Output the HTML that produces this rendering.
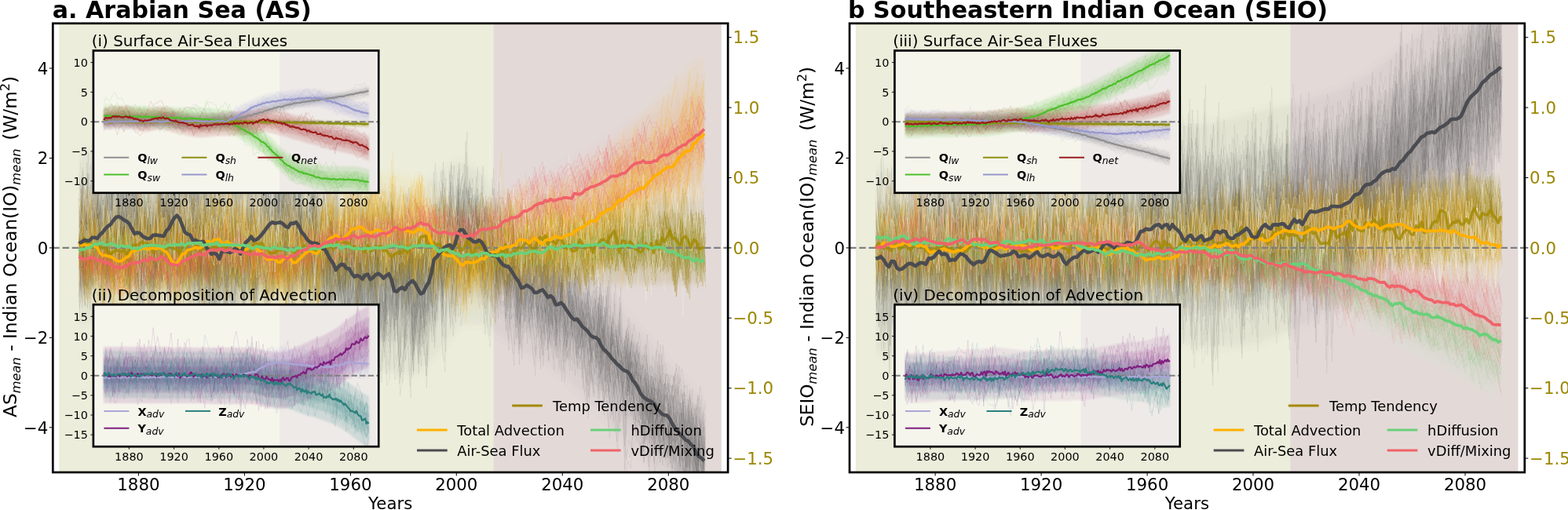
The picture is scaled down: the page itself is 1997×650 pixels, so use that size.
<!DOCTYPE html><html><head><meta charset="utf-8"><style>html,body{margin:0;padding:0;background:#fff;}svg{display:block;}</style></head><body><svg width="1997" height="650" viewBox="0 0 1997 650" font-family="'DejaVu Sans', 'Liberation Sans', sans-serif">
<defs>
<clipPath id="cd0"><rect x="100.5" y="29.8" width="796.4" height="572.2"/></clipPath>
<clipPath id="cm0"><rect x="67.3" y="29.8" width="859.8" height="572.2"/></clipPath>
<clipPath id="ci00"><rect x="118.9" y="64.5" width="363.3" height="181.3"/></clipPath>
<clipPath id="ci01"><rect x="118.9" y="388.2" width="363.3" height="181"/></clipPath>
<clipPath id="cd1"><rect x="1115.2" y="29.8" width="796.4" height="572.2"/></clipPath>
<clipPath id="cm1"><rect x="1082" y="29.8" width="859.8" height="572.2"/></clipPath>
<clipPath id="ci10"><rect x="1139.4" y="64.5" width="363.3" height="181.3"/></clipPath>
<clipPath id="ci11"><rect x="1139.4" y="388.2" width="363.3" height="181"/></clipPath>
<filter id="bl" x="-5%" y="-20%" width="110%" height="140%"><feGaussianBlur stdDeviation="5"/></filter>
<filter id="bl2" x="-5%" y="-20%" width="110%" height="140%"><feGaussianBlur stdDeviation="1.2"/></filter>
</defs>
<rect width="1997" height="650" fill="#fff"/>
<rect x="75.2" y="29.8" width="554.4" height="572.2" fill="#ecedda"/>
<rect x="628.6" y="29.8" width="290.2" height="572.2" fill="#e3dad8"/>
<g clip-path="url(#cd0)">
<g fill="#6a6a6a" fill-opacity="0.08" stroke="none" filter="url(#bl)">
<path d="M100 271 127 259 154 250 181 260 208 257 235 259 262 278 289 284 316 271 343 256 370 253 397 269 424 293 451 310 478 315 505 321 532 321 559 295 586 273 613 283 640 310 667 333 694 349 721 370 748 396 775 425 802 456 829 487 856 516 883 546 897 556L897 607 883 598 856 568 829 540 802 510 775 479 748 451 721 425 694 405 667 390 640 368 613 347 586 343 559 371 532 399 505 399 478 393 451 387 424 369 397 345 370 328 343 331 316 346 289 359 262 353 235 333 208 331 181 333 154 323 127 331 100 343Z"/>
<path d="M100 235 127 223 154 214 181 224 208 221 235 222 262 241 289 247 316 234 343 218 370 215 397 231 424 255 451 272 478 277 505 283 532 282 559 258 586 239 613 252 640 282 667 306 694 323 721 344 748 371 775 400 802 431 829 462 856 492 883 522 897 532L897 634 883 625 856 596 829 567 802 538 775 508 748 480 721 454 694 435 667 419 640 399 613 380 586 379 559 409 532 438 505 437 478 431 451 425 424 407 397 383 370 366 343 369 316 384 289 396 262 390 235 370 208 368 181 370 154 360 127 367 100 379Z"/>
<path d="M100 199 127 187 154 178 181 187 208 184 235 185 262 204 289 209 316 196 343 180 370 177 397 193 424 216 451 234 478 238 505 244 532 243 559 220 586 205 613 220 640 254 667 279 694 297 721 317 748 345 775 374 802 406 829 437 856 467 883 498 897 508L897 661 883 652 856 623 829 595 802 566 775 536 748 509 721 483 694 464 667 449 640 430 613 413 586 414 559 447 532 477 505 476 478 470 451 464 424 446 397 421 370 404 343 406 316 421 289 433 262 427 235 407 208 404 181 406 154 396 127 404 100 415Z"/>
</g>
<g fill="#8a7a10" fill-opacity="0.15" stroke="none" filter="url(#bl)">
<path d="M100 299 127 299 154 299 181 299 208 299 235 299 262 299 289 299 316 299 343 299 370 299 397 299 424 298 451 298 478 298 505 298 532 297 559 297 586 296 613 296 640 295 667 294 694 293 721 293 748 292 775 292 802 291 829 290 856 290 883 289 897 289L897 325 883 325 856 326 829 326 802 327 775 327 748 328 721 328 694 329 667 329 640 330 613 331 586 331 559 332 532 332 505 332 478 333 451 333 424 333 397 333 370 333 343 333 316 333 289 333 262 333 235 333 208 333 181 333 154 333 127 333 100 333Z"/>
<path d="M100 282 127 282 154 282 181 282 208 282 235 282 262 282 289 282 316 282 343 282 370 281 397 281 424 281 451 281 478 280 505 280 532 280 559 279 586 279 613 278 640 277 667 277 694 276 721 275 748 274 775 274 802 273 829 273 856 272 883 271 897 271L897 343 883 343 856 344 829 344 802 345 775 345 748 345 721 346 694 347 667 347 640 348 613 348 586 349 559 349 532 350 505 350 478 350 451 350 424 350 397 350 370 350 343 350 316 350 289 350 262 350 235 350 208 350 181 350 154 350 127 350 100 350Z"/>
<path d="M100 265 127 265 154 265 181 265 208 265 235 265 262 265 289 265 316 265 343 264 370 264 397 264 424 264 451 264 478 263 505 263 532 262 559 262 586 261 613 261 640 260 667 259 694 258 721 257 748 257 775 256 802 255 829 255 856 254 883 253 897 253L897 361 883 361 856 362 829 362 802 362 775 363 748 363 721 364 694 364 667 365 640 365 613 366 586 367 559 367 532 367 505 367 478 367 451 367 424 368 397 368 370 368 343 367 316 367 289 367 262 367 235 367 208 367 181 367 154 367 127 366 100 366Z"/>
</g>
<g fill="#f0b020" fill-opacity="0.07" stroke="none" filter="url(#bl)">
<path d="M100 285 127 296 154 303 181 296 208 298 235 299 262 288 289 286 316 294 343 303 370 306 397 297 424 284 451 272 478 270 505 270 532 274 559 292 586 307 613 305 640 293 667 284 694 281 721 274 748 259 775 240 802 220 829 198 856 174 883 150 897 141L897 201 883 208 856 231 829 252 802 272 775 290 748 307 721 320 694 326 667 329 640 338 613 350 586 353 559 338 532 320 505 316 478 316 451 318 424 330 397 344 370 352 343 350 316 341 289 334 262 335 235 346 208 346 181 343 154 350 127 344 100 333Z"/>
<path d="M100 261 127 272 154 279 181 272 208 274 235 275 262 264 289 262 316 270 343 279 370 282 397 273 424 260 451 248 478 246 505 246 532 250 559 268 586 283 613 281 640 269 667 260 694 257 721 250 748 233 775 212 802 190 829 166 856 141 883 115 897 105L897 225 883 232 856 254 829 275 802 294 775 312 748 328 721 341 694 347 667 351 640 359 613 372 586 374 559 359 532 342 505 338 478 338 451 341 424 352 397 367 370 375 343 373 316 364 289 357 262 358 235 369 208 369 181 367 154 374 127 368 100 357Z"/>
<path d="M100 237 127 248 154 255 181 248 208 250 235 251 262 240 289 238 316 246 343 255 370 258 397 249 424 236 451 224 478 222 505 222 532 226 559 244 586 259 613 257 640 245 667 236 694 233 721 226 748 207 775 185 802 161 829 135 856 108 883 80 897 69L897 248 883 256 856 277 829 298 802 317 775 334 748 350 721 362 694 369 667 372 640 381 613 393 586 396 559 381 532 364 505 360 478 360 451 363 424 375 397 389 370 398 343 395 316 387 289 380 262 382 235 393 208 393 181 391 154 398 127 392 100 381Z"/>
</g>
<g fill="#f06068" fill-opacity="0.05" stroke="none" filter="url(#bl)">
<path d="M100 319 127 324 154 327 181 323 208 323 235 321 262 313 289 309 316 312 343 316 370 314 397 305 424 296 451 291 478 288 505 282 532 278 559 281 586 286 613 283 640 272 667 258 694 246 721 236 748 224 775 210 802 196 829 184 856 170 883 152 897 146L897 187 883 193 856 209 829 221 802 231 775 243 748 255 721 266 694 273 667 283 640 296 613 306 586 310 559 304 532 301 505 305 478 310 451 313 424 318 397 326 370 335 343 337 316 332 289 329 262 333 235 341 208 342 181 342 154 346 127 342 100 337Z"/>
<path d="M100 310 127 315 154 318 181 314 208 313 235 311 262 303 289 299 316 301 343 306 370 304 397 294 424 285 451 280 478 277 505 271 532 267 559 270 586 275 613 271 640 260 667 245 694 232 721 221 748 207 775 192 802 177 829 164 856 148 883 129 897 122L897 205 883 211 856 226 829 238 802 247 775 258 748 270 721 279 694 286 667 296 640 308 613 318 586 321 559 316 532 312 505 316 478 322 451 324 424 328 397 337 370 346 343 347 316 342 289 339 262 343 235 350 208 351 181 352 154 355 127 351 100 346Z"/>
<path d="M100 301 127 306 154 308 181 304 208 303 235 302 262 293 289 289 316 291 343 296 370 293 397 284 424 275 451 269 478 266 505 260 532 255 559 258 586 263 613 259 640 248 667 232 694 218 721 206 748 191 775 173 802 157 829 143 856 126 883 106 897 98L897 223 883 228 856 243 829 254 802 262 775 273 748 284 721 293 694 300 667 308 640 320 613 330 586 333 559 327 532 323 505 327 478 333 451 335 424 339 397 348 370 356 343 358 316 352 289 349 262 352 235 360 208 361 181 361 154 364 127 361 100 355Z"/>
</g>
</g>
<g clip-path="url(#cm0)">
<g transform="matrix(3.3745 0 0 1 100.5 0)" fill="none" stroke="#9a8410" stroke-width="1.0" stroke-opacity="0.2" stroke-linejoin="round" id="m0olive">
<path vector-effect="non-scaling-stroke" d="M0 326l1-16 1 18 1 4 1-32 1-15 1 29 1-1 1-1 1 25 1 20 1-48 1 26 1 4 1-6 1 9 1-31 1 24 1 28 1-26 1-33 1 23 1 16 1-21 1-25 1 45 1-61 1 36 1-14 1-24 1 56 1-19 1-34 1 40 1-20 1-33 1 29 1 23 1 8 1-12 1-2 1 10 1-12 1 27 1-23 1 1 1 2 1-34 1 9 1 48 1-22 1-12 1 16 1-18 1 19 1-24 1 22 1-40 1 60 1-40 1-24 1 32 1-4 1 11 1-28 1 32 1 73 1-108 1 36 1-15 1 13 1-43 1 14 1 37 1-9 1 41 1-56 1 21 1 60 1-82 1-6 1 22 1-4 1 21 1-13 1-24 1 20 1 51 1-30 1-85 1 63 1-21 1 31 1-16 1 50 1-22 1-3 1-15 1-6 1 8 1 19 1-16 1-19 1 35 1-24 1-9 1-17 1 8 1-2 1-51 1 87 1-8 1-13 1 28 1-15 1-6 1-59 1 55 1 14 1 21 1 6 1-11 1-58 1-24 1 61 1-9 1 20 1-22 1 6 1-37 1 37 1-23 1 20 1 1 1-11 1 11 1-4 1 19 1-4 1-24 1-3 1 49 1-42 1 21 1-14 1-21 1-3 1 18 1-1 1 8 1-40 1 18 1 12 1 36 1-89 1 67 1-20 1 26 1-16 1 15 1 27 1-27 1 2 1-1 1-25 1 28 1-21 1-14 1 14 1-4 1 20 1-16 1-9 1 44 1-10 1 6 1-16 1-16 1-9 1 4 1 27 1-17 1-39 1 34 1-32 1 33 1-31 1-2 1 31 1-6 1-37 1 52 1 35 1-80 1 70 1-55 1 1 1 12 1-31 1 62 1-16 1-31 1 12 1-24 1 27 1 29 1-56 1 28 1 13 1 19 1 8 1-42 1-5 1 25 1-21 1 2 1 35 1 16 1-34 1-9 1 15 1-54 1 41 1-30 1 77 1-39 1-14 1-11 1-54 1 70 1 23 1-46 1 31 1 4 1-51 1 50 1 10"/>
<path vector-effect="non-scaling-stroke" d="M0 305l1-1 1 40 1-45 1 4 1 59 1-60 1 48 1-5 1-37 1-28 1 40 1 6 1 4 1-16 1 23 1 6 1-55 1 54 1-24 1-16 1 5 1 46 1-17 1-59 1 40 1-4 1-3 1-10 1-22 1 53 1-39 1 11 1-3 1-1 1 33 1-5 1-25 1-6 1 12 1 31 1-17 1-1 1-9 1 0 1 9 1-48 1 78 1-50 1 7 1 43 1-28 1-6 1-15 1-24 1 42 1 22 1-46 1 51 1-57 1 7 1 25 1-9 1 16 1-30 1-4 1-22 1 14 1 3 1-10 1 37 1-18 1-27 1 101 1-73 1-10 1 57 1-3 1-50 1-4 1 8 1 45 1-32 1-9 1 18 1 27 1-57 1 18 1-24 1 79 1-10 1-22 1-26 1 16 1-60 1 51 1-34 1 5 1 13 1 11 1 22 1 0 1-10 1-29 1 38 1-20 1 32 1-45 1-45 1 52 1 62 1-39 1-12 1 19 1-7 1-5 1-20 1 9 1-3 1-16 1-4 1 27 1 20 1-6 1-4 1 2 1 50 1-55 1 19 1 20 1-45 1 9 1 21 1 11 1-26 1 0 1-7 1-25 1 51 1-31 1-29 1 36 1-34 1 11 1 18 1-18 1 40 1-56 1 35 1 6 1 17 1-8 1-18 1-3 1-4 1 30 1-44 1 26 1-13 1 8 1-10 1 52 1-61 1 19 1 2 1 7 1-5 1-1 1 13 1-49 1 32 1-27 1 35 1-37 1 0 1 17 1 33 1-12 1-5 1 27 1-53 1-32 1 31 1 7 1 34 1 17 1-73 1 80 1-16 1-13 1-12 1 43 1-50 1-14 1 16 1-37 1 43 1-12 1 9 1-2 1-30 1 48 1-52 1 42 1-52 1 40 1-21 1 19 1-18 1-30 1 28 1 25 1 10 1-46 1-16 1 27 1 18 1-8 1-4 1 37 1 2 1-3 1-35 1 21 1-7 1-21 1 51 1-19 1-8 1 40 1-18 1 2 1 5 1-13 1-43 1 18 1 29"/>
<path vector-effect="non-scaling-stroke" d="M0 253l1 51 1 27 1-5 1-3 1-9 1-7 1 9 1 15 1-48 1 57 1-48 1 27 1-9 1 5 1-15 1-6 1 20 1-21 1 75 1-67 1 0 1 2 1-11 1-28 1 48 1 14 1-44 1 34 1-28 1 27 1 10 1-1 1-5 1-27 1 38 1-28 1 19 1 3 1-27 1-22 1 42 1-38 1 7 1-4 1 41 1-23 1-44 1 67 1 30 1 0 1-53 1 15 1 8 1 8 1-18 1-23 1 41 1-2 1-43 1 17 1 7 1 0 1 14 1 7 1-10 1-17 1-23 1 38 1 17 1 16 1-43 1 2 1 33 1 5 1-26 1 5 1-32 1 33 1-31 1 18 1-2 1-10 1-33 1 32 1 28 1-10 1-11 1 15 1 5 1 5 1-35 1 15 1-8 1-12 1-13 1 31 1-18 1 68 1-49 1-2 1-6 1 51 1-62 1 12 1-12 1 14 1 4 1 25 1-56 1 32 1 36 1-48 1 3 1-11 1-41 1 55 1 30 1-35 1-29 1 48 1-1 1 20 1 5 1-30 1 15 1-50 1 62 1-20 1 23 1-3 1-32 1 4 1-15 1-22 1 44 1 6 1-29 1 39 1-15 1 4 1-27 1-23 1 55 1-5 1-12 1-5 1 4 1 1 1-11 1-34 1 62 1-51 1 25 1 2 1 13 1-44 1 61 1-14 1 4 1 8 1-46 1-49 1 76 1 20 1-5 1-36 1 11 1 11 1-47 1 22 1 4 1 50 1-48 1 49 1-37 1-38 1 86 1-67 1 34 1 16 1-49 1-14 1 54 1-20 1-22 1 6 1 17 1 31 1-32 1 22 1 22 1-11 1 4 1-4 1-65 1 62 1-21 1-10 1-23 1-10 1 5 1 23 1-29 1 7 1 6 1 29 1-21 1 3 1 37 1-39 1 22 1-40 1 30 1-4 1-1 1-13 1-10 1 13 1-4 1 33 1-8 1-46 1 39 1-20 1 19 1-15 1-23 1 60 1-11 1-37 1-13 1 32 1-11 1 21 1 19 1 15"/>
<path vector-effect="non-scaling-stroke" d="M0 326l1-7 1 5 1-4 1-27 1-11 1 56 1-20 1 12 1-16 1-31 1 13 1 58 1-49 1 11 1-23 1 13 1 6 1 1 1 4 1-13 1 1 1 14 1 7 1-13 1 45 1-34 1-1 1-17 1 35 1-41 1-13 1 14 1 35 1-42 1 51 1-29 1-32 1 31 1 45 1-61 1-9 1 41 1 19 1-6 1-33 1 14 1 0 1 20 1 18 1-48 1 29 1-34 1 24 1-31 1 0 1 23 1-31 1 41 1-31 1 14 1-3 1-5 1 12 1 24 1 43 1-94 1 27 1-13 1-18 1 24 1-25 1 21 1 28 1-73 1 49 1 5 1-32 1 34 1-2 1-15 1 36 1-55 1 43 1-15 1-19 1 21 1-5 1 24 1-52 1 26 1-5 1 43 1-60 1 51 1-63 1 49 1-10 1 13 1-26 1-28 1 15 1 64 1-23 1-24 1 39 1-40 1-3 1-10 1 54 1 16 1-65 1 26 1 14 1 22 1-103 1 56 1 7 1-48 1 41 1-6 1 13 1-29 1 23 1-24 1 25 1-7 1-10 1-24 1 69 1-10 1-5 1-29 1 5 1 46 1-20 1-35 1 16 1 4 1-6 1-17 1 49 1-15 1-20 1-29 1 17 1 13 1 16 1-27 1 35 1-22 1-20 1-43 1 35 1-8 1 29 1 15 1 25 1-30 1-28 1 79 1-49 1-11 1-2 1-19 1 39 1-2 1 28 1-15 1-6 1 12 1-31 1-8 1 7 1-29 1 22 1-5 1 28 1-15 1-42 1 42 1 32 1-70 1 22 1 20 1-32 1 16 1 15 1-26 1 34 1 3 1-34 1 29 1 25 1-26 1 13 1 5 1-18 1 26 1-11 1-36 1 30 1 11 1-2 1-34 1 25 1 22 1-27 1 22 1 1 1-30 1 15 1-19 1 26 1-27 1-8 1 8 1-6 1 12 1 2 1-36 1 12 1 20 1 10 1-11 1 54 1-37 1-27 1 22 1 14 1-20 1-48 1 45 1-1 1 42 1-85 1 73"/>
<path vector-effect="non-scaling-stroke" d="M0 305l1 32 1-31 1 3 1 14 1-15 1 8 1-43 1 55 1-16 1 10 1 3 1-46 1 91 1-53 1 1 1-39 1 56 1-2 1-15 1 11 1 23 1-42 1-13 1 51 1-27 1-14 1 53 1-46 1-4 1 16 1-11 1 10 1-7 1-17 1 12 1 9 1 0 1 4 1 5 1-11 1 7 1-17 1 3 1 31 1-62 1 48 1 59 1-109 1 78 1-72 1 48 1 27 1-2 1-55 1-8 1-2 1 47 1-22 1 11 1 3 1 4 1-2 1-7 1-32 1 67 1-93 1 87 1-40 1 7 1-6 1 1 1 6 1-6 1-19 1 39 1-27 1 42 1-37 1-10 1 25 1 10 1-38 1 11 1 31 1-53 1 4 1 25 1-32 1-28 1 19 1 44 1 6 1 0 1-7 1-32 1 40 1 11 1-41 1 34 1-27 1 15 1 7 1-40 1 64 1-50 1 13 1-9 1 22 1 1 1-12 1 27 1-21 1-16 1-59 1 55 1 0 1-9 1 0 1 35 1 11 1 19 1-14 1-42 1 21 1-37 1 45 1-7 1-24 1 12 1-6 1-8 1 42 1 42 1-50 1 5 1-16 1-18 1 53 1-63 1 18 1-9 1 18 1-13 1 12 1-36 1 27 1 31 1-55 1 9 1 44 1-23 1 16 1-72 1 50 1-28 1-5 1 37 1 19 1-59 1 9 1 11 1 10 1-28 1 76 1-35 1-23 1-3 1 65 1-1 1-53 1 14 1 18 1-53 1 16 1 42 1-49 1 9 1-23 1 13 1 34 1-35 1-12 1 17 1 52 1-34 1-19 1 16 1 3 1-10 1-38 1 48 1-9 1 21 1-48 1 52 1-37 1-25 1 65 1-41 1 17 1-9 1 30 1 2 1-2 1-10 1-49 1-2 1 43 1-26 1 29 1-2 1-41 1 9 1-2 1 2 1 16 1 22 1 15 1-53 1 10 1 51 1-15 1-10 1-56 1 31 1 29 1-19 1 55 1-42 1 5 1-27 1 3 1 7 1 0 1 7 1 12"/>
<path vector-effect="non-scaling-stroke" d="M0 322l1 14 1-2 1-59 1 53 1-20 1 16 1-19 1-6 1 41 1-20 1-8 1-1 1 8 1-1 1-55 1 36 1 13 1 26 1 16 1-52 1 61 1-35 1 9 1-22 1-3 1 44 1-36 1 4 1 25 1 14 1-71 1 26 1 6 1 39 1 16 1-58 1 10 1 7 1 7 1-36 1 26 1-39 1-43 1 30 1 37 1 16 1-70 1 14 1 43 1-77 1 84 1 10 1-89 1 84 1-27 1 37 1-25 1-13 1 11 1 17 1-13 1-2 1-34 1 46 1-9 1 39 1-45 1-3 1-10 1 29 1-16 1-11 1 52 1 4 1-52 1-13 1 46 1-49 1 78 1-63 1 24 1-49 1 25 1 24 1-11 1-21 1 65 1-33 1-21 1-9 1 10 1 32 1-45 1 15 1-20 1 45 1-31 1 24 1-6 1-24 1 32 1 9 1-45 1 42 1 62 1-89 1 22 1-44 1 42 1-28 1 36 1-22 1-25 1 53 1-33 1-20 1 19 1-25 1 26 1-9 1-5 1 23 1-39 1 54 1-66 1 79 1-32 1-11 1-7 1 29 1-16 1-1 1 28 1-34 1 5 1 15 1 17 1-24 1 2 1-3 1 17 1 15 1-52 1 18 1 3 1 14 1 20 1-33 1 1 1 18 1-55 1 15 1 7 1 11 1 5 1-18 1 48 1-52 1 10 1 32 1-7 1-17 1 7 1 9 1-18 1 18 1-30 1 18 1-38 1 17 1-8 1 51 1-40 1 11 1-26 1 16 1-1 1-13 1 39 1-50 1 51 1 46 1-79 1 19 1-37 1 34 1-41 1 50 1-24 1-28 1 13 1-8 1 29 1 19 1-25 1-18 1 9 1 24 1-58 1 69 1-5 1-63 1 80 1-63 1 36 1 28 1-65 1-6 1 17 1 8 1 19 1-15 1-1 1-4 1 6 1-14 1 24 1-8 1-27 1 66 1-71 1 49 1-30 1 23 1 4 1 8 1 15 1-55 1 84 1-50 1-27 1-12 1 83 1-18 1-35 1 19"/>
<path vector-effect="non-scaling-stroke" d="M0 324l1 8 1-17 1-20 1 25 1-1 1-1 1 16 1-23 1-3 1 47 1-14 1-25 1-18 1 13 1 17 1 6 1 34 1-64 1 5 1-7 1 13 1-11 1-14 1 46 1-17 1 24 1-41 1 16 1 9 1-54 1 12 1 47 1-16 1-42 1 22 1-8 1 16 1 43 1-48 1 58 1-52 1-8 1 52 1-10 1 7 1 12 1-15 1 3 1-61 1 22 1 24 1-3 1 13 1-25 1 38 1 20 1-32 1 6 1-9 1 9 1-21 1-12 1 13 1-1 1-35 1 38 1-5 1 3 1-20 1 21 1 6 1-32 1 20 1 15 1 2 1-33 1-3 1 22 1-22 1 78 1-74 1-4 1 30 1-28 1-37 1 46 1-19 1 11 1-24 1 17 1 14 1-2 1-18 1 6 1-4 1 20 1-7 1-24 1 43 1-31 1 24 1-30 1 30 1-12 1 4 1 12 1-5 1-5 1 1 1-33 1 26 1-43 1-1 1 41 1 2 1 38 1-15 1 12 1-30 1 20 1 11 1-18 1-9 1-3 1-28 1 2 1-10 1 37 1-15 1-9 1 25 1-23 1 37 1 21 1-31 1-24 1-14 1 76 1-34 1-36 1 51 1-61 1 28 1 5 1-1 1-19 1 77 1-60 1 17 1-5 1-35 1 24 1 21 1 16 1-32 1 11 1-14 1 19 1-67 1 66 1-24 1 3 1-53 1 39 1 35 1 34 1-65 1 1 1 26 1 1 1-17 1 11 1-7 1 18 1 6 1 20 1-19 1-8 1-11 1 22 1-43 1 67 1-42 1 25 1-52 1 35 1-15 1-13 1-12 1-7 1 57 1-13 1-24 1-2 1-20 1-22 1 1 1 23 1 10 1-21 1 46 1-10 1-5 1-42 1 35 1 6 1-29 1-21 1 90 1-26 1-23 1 40 1-11 1-13 1-1 1 11 1 14 1-30 1-7 1 16 1-75 1 65 1-10 1 9 1-6 1 11 1-7 1 3 1 0 1 14 1-18 1 32 1-60 1 38 1 6 1-39"/>
<path vector-effect="non-scaling-stroke" d="M0 306l1 6 1 7 1 17 1-58 1 43 1-49 1 23 1 10 1 6 1-8 1 1 1 4 1 1 1-33 1 11 1 19 1 20 1 14 1 38 1-58 1-17 1 22 1 11 1-9 1-26 1 20 1 0 1-28 1 5 1 55 1-77 1 51 1-11 1 36 1-19 1-31 1 47 1-43 1 49 1-11 1-34 1 19 1-12 1-25 1 45 1-18 1 5 1 2 1 9 1-5 1-23 1 4 1 5 1-9 1-3 1 47 1-30 1 30 1-59 1 15 1-10 1 2 1 3 1 6 1-10 1 52 1-24 1-31 1 3 1 27 1-7 1-22 1 33 1-49 1 23 1 47 1-94 1 52 1 28 1-24 1-13 1-1 1-26 1 21 1 27 1-11 1 15 1-6 1 10 1-42 1 31 1-4 1 0 1-15 1-29 1 64 1 4 1 28 1-39 1 18 1-20 1-22 1 16 1-33 1 32 1-7 1-22 1 53 1-2 1-19 1 5 1 17 1-38 1-24 1 7 1 36 1-5 1-37 1 60 1-23 1 27 1-9 1-31 1 10 1-15 1-3 1 12 1 16 1 17 1-53 1 36 1-15 1-5 1 27 1-35 1 37 1-35 1-11 1 36 1-47 1 11 1 22 1 9 1-6 1-34 1 12 1 42 1-3 1-34 1 27 1-7 1 15 1-35 1 49 1-35 1 38 1-19 1-41 1 14 1 12 1 16 1-54 1 17 1 29 1-2 1-35 1 3 1 32 1-31 1 28 1 12 1-21 1-61 1 80 1 3 1 5 1-12 1-58 1 71 1-18 1 15 1-22 1-6 1 1 1 41 1-26 1-11 1-26 1 38 1-11 1 6 1 20 1-6 1-15 1 6 1-5 1 11 1-6 1-9 1-20 1 38 1 1 1-39 1 29 1-15 1-42 1 45 1 19 1-37 1 0 1 39 1-48 1 0 1 15 1 25 1 2 1-26 1 5 1 4 1-11 1-7 1-4 1 37 1-18 1 67 1-48 1-34 1 15 1 9 1 2 1 2 1 0 1-13 1 18 1 36 1-62"/>
<path vector-effect="non-scaling-stroke" d="M0 302l1 22 1-27 1 39 1-28 1 8 1 22 1 7 1-34 1 1 1 38 1-89 1 92 1-3 1-56 1 49 1-18 1 1 1-62 1 37 1 6 1-7 1 1 1 3 1-55 1 58 1-10 1 11 1-10 1 11 1 9 1 33 1-57 1 55 1-45 1-16 1-12 1 51 1-51 1 52 1-14 1-20 1-1 1 22 1-9 1 13 1-11 1-9 1 27 1-34 1 43 1-18 1-28 1 5 1 17 1-31 1 70 1-8 1-45 1 22 1 41 1-31 1-33 1-25 1 14 1 61 1-20 1-33 1 43 1-28 1-9 1-1 1 1 1 46 1-55 1 17 1 37 1 3 1-54 1 60 1-22 1-57 1 73 1-73 1 45 1-37 1-13 1 56 1-10 1-11 1 9 1-2 1-6 1-15 1 37 1-12 1-3 1-10 1 9 1-30 1 25 1-16 1 53 1-44 1 12 1 11 1 15 1-4 1-7 1 48 1-49 1 6 1 51 1-76 1 37 1-12 1-35 1 16 1 35 1-50 1 27 1 27 1-26 1 10 1-23 1-3 1 3 1 3 1 19 1-10 1 38 1-34 1-8 1 43 1-50 1-14 1 23 1-28 1 36 1 18 1-18 1-22 1 6 1 18 1 16 1-37 1 1 1 31 1-15 1-3 1 1 1-29 1 14 1 26 1-30 1-6 1 13 1 6 1 50 1-74 1 22 1 39 1-47 1 11 1-39 1 52 1-3 1 1 1-21 1 11 1-9 1 20 1-20 1 15 1-44 1 21 1-58 1 64 1 23 1-22 1 56 1-73 1 10 1-13 1 10 1 0 1-21 1 9 1 66 1-54 1 26 1-49 1 22 1 14 1-15 1-8 1 10 1 4 1 20 1 10 1-57 1-12 1 37 1 6 1 16 1 9 1-42 1 57 1-41 1-44 1 60 1-14 1 0 1-43 1 26 1 10 1-5 1 21 1 12 1 9 1-10 1-28 1 38 1-31 1 11 1-26 1-26 1-14 1 52 1-17 1 15 1 21 1-52 1-4 1 41 1 3 1-13"/>
<path vector-effect="non-scaling-stroke" d="M0 324l1 19 1-40 1 13 1 12 1-21 1 16 1-14 1 15 1-4 1-44 1 47 1-33 1 14 1-19 1 54 1-25 1 1 1 38 1-8 1-24 1-42 1 55 1-22 1-6 1 27 1-28 1 9 1 22 1-5 1-23 1 47 1-7 1 15 1-42 1 6 1 17 1-17 1-4 1-7 1-6 1-6 1 0 1 26 1-19 1-23 1 29 1 32 1-9 1-73 1 25 1 33 1-12 1-2 1-4 1 5 1-24 1 50 1-47 1 20 1 39 1-11 1-26 1 0 1-15 1 4 1 6 1 34 1-38 1 24 1-10 1 0 1-14 1 24 1-14 1-3 1-12 1-34 1 59 1-2 1-28 1 2 1 11 1-25 1 36 1 2 1 2 1 4 1-59 1 57 1-21 1 37 1 0 1-7 1-16 1 62 1-63 1-16 1 46 1-56 1 74 1-22 1 6 1-10 1-13 1-41 1 17 1 26 1-14 1 17 1-27 1-6 1 22 1 8 1-13 1-22 1-16 1 78 1-70 1 5 1 4 1 32 1-35 1 31 1-4 1-34 1 31 1-28 1 24 1 17 1-25 1-13 1 8 1 3 1 14 1-54 1 12 1 54 1-11 1-1 1 8 1-9 1-5 1 15 1 13 1-4 1-8 1-25 1 25 1-31 1 5 1 18 1-1 1 20 1-10 1-13 1-15 1 5 1-1 1 42 1-26 1-27 1-5 1 45 1-43 1 31 1-1 1 15 1-42 1 29 1-7 1 15 1 16 1-29 1-4 1 27 1-53 1 39 1-23 1-5 1-5 1-2 1 55 1 1 1-20 1 20 1-24 1-13 1-17 1 38 1-2 1 13 1-50 1 11 1-24 1 51 1-7 1-5 1-8 1-3 1-4 1 31 1-35 1 35 1-14 1-29 1-5 1 13 1 20 1-29 1 40 1 6 1-15 1-53 1-15 1 72 1 14 1-42 1 18 1-18 1-11 1 33 1-27 1 32 1 17 1-38 1 48 1-71 1 48 1-23 1 53 1-51 1-9 1 50 1-73 1 47 1-24"/>
<path vector-effect="non-scaling-stroke" d="M0 303l1 36 1-42 1-6 1-2 1 18 1-23 1 33 1 12 1 21 1-41 1 42 1-19 1-18 1 16 1 25 1-1 1-19 1-17 1 21 1-11 1-4 1-1 1 36 1-68 1 20 1-24 1 46 1 4 1 9 1-39 1 9 1 12 1-14 1 3 1-1 1 3 1-6 1 8 1-42 1 23 1-22 1 28 1-15 1 30 1 16 1-54 1 8 1 29 1 26 1-11 1-8 1-13 1-8 1 17 1 0 1-7 1-16 1-24 1 16 1 8 1-16 1 30 1-34 1 25 1 17 1 8 1-12 1 22 1-38 1-2 1 37 1-41 1 13 1-32 1 63 1-12 1-30 1-22 1 42 1-1 1 21 1 12 1-37 1-5 1-2 1 0 1-23 1 13 1 20 1-41 1 6 1 60 1-44 1 37 1 7 1-27 1 19 1-17 1-18 1 18 1 1 1 0 1-1 1-9 1 33 1-28 1 1 1 26 1-47 1 23 1 33 1-35 1 35 1-39 1-10 1 10 1-8 1 11 1-7 1 25 1-10 1-14 1-12 1 86 1-79 1 36 1-55 1 12 1 42 1-49 1 2 1 21 1-16 1 10 1 17 1 16 1-18 1 2 1 21 1 5 1-45 1-35 1 21 1 47 1-34 1-3 1 2 1 46 1-36 1-13 1-5 1-10 1 86 1-61 1 2 1-8 1 36 1-46 1-18 1 31 1 16 1 39 1-51 1-23 1 15 1-11 1 1 1 21 1 8 1-22 1 42 1-25 1 5 1-15 1 21 1-1 1 7 1-31 1 30 1-30 1 13 1 14 1 18 1-42 1-10 1 31 1 24 1-37 1 57 1-94 1 76 1-9 1-2 1-44 1 41 1-4 1 3 1-33 1-3 1 35 1-19 1-11 1-8 1 25 1-37 1 39 1-11 1-41 1 44 1 20 1-19 1-32 1 15 1 34 1-49 1 15 1 34 1-31 1-12 1 30 1 12 1-27 1-34 1-7 1 34 1-34 1 37 1 18 1-77 1 58 1 7 1-20 1 25 1 0 1 14 1 32"/>
<path vector-effect="non-scaling-stroke" d="M0 328l1-13 1 19 1-34 1-9 1 37 1-17 1-20 1-14 1 117 1-77 1 0 1-40 1 18 1 18 1 11 1 8 1-36 1 33 1 15 1-41 1 7 1-38 1 24 1-12 1 48 1-18 1 37 1-29 1 13 1-2 1-9 1-29 1 60 1-40 1-38 1 28 1-9 1 52 1 0 1 11 1 17 1-62 1-30 1 27 1 32 1-71 1 46 1 31 1-40 1 17 1-22 1 60 1 3 1-64 1 4 1 26 1 17 1-6 1 8 1 7 1 5 1 12 1-40 1-12 1 9 1 50 1-32 1-6 1 12 1-6 1 28 1-70 1 22 1 9 1 1 1-23 1-32 1 29 1-10 1 15 1 24 1-8 1-44 1 8 1 19 1 24 1-29 1 6 1-37 1 25 1-1 1 23 1-11 1-15 1 2 1 31 1-22 1 41 1-25 1-9 1 25 1-50 1 48 1-34 1 34 1-32 1-7 1-27 1 42 1 10 1-42 1 76 1-40 1-30 1 70 1-55 1 44 1-98 1 109 1-47 1-5 1 3 1-33 1 47 1-7 1-3 1-21 1-14 1 35 1 14 1-18 1-13 1 0 1 30 1 17 1-31 1-19 1 73 1-92 1 42 1-10 1 35 1-35 1-31 1 13 1 23 1-3 1-17 1 2 1-23 1 8 1 18 1-6 1 13 1-26 1 67 1-74 1 63 1-9 1 21 1-4 1-65 1 35 1 8 1 4 1-13 1-29 1 47 1-32 1-8 1 17 1-13 1-6 1 17 1 62 1-49 1-4 1-8 1 12 1-34 1 36 1-10 1-3 1 11 1-14 1 14 1-3 1 2 1-13 1 21 1-23 1 37 1-31 1 38 1-24 1-6 1-21 1 36 1-8 1-5 1 2 1-11 1-19 1-4 1 42 1-10 1 30 1 8 1-28 1-7 1 1 1-9 1-16 1-45 1 76 1-7 1-9 1 4 1 18 1-1 1-13 1-8 1 20 1 5 1 30 1-68 1 33 1-30 1 5 1 63 1-61 1 7 1-18 1 27 1-29 1-30"/>
<path vector-effect="non-scaling-stroke" d="M0 298l1 29 1-1 1 2 1-10 1-1 1 21 1-46 1-11 1 51 1-39 1 35 1-30 1-7 1 60 1-36 1-32 1 27 1-2 1 2 1 5 1-32 1 18 1 13 1 5 1-12 1-20 1-23 1 72 1-57 1 17 1 14 1 10 1-11 1-15 1 20 1 52 1 14 1-62 1 22 1-54 1 40 1 13 1-20 1 40 1-18 1-8 1-68 1 44 1 29 1-24 1-30 1 31 1 43 1-21 1 1 1-14 1 31 1-96 1 38 1 69 1-17 1-16 1-14 1-36 1 28 1 8 1-20 1 48 1-9 1-30 1 27 1-21 1 4 1-15 1 60 1-87 1 33 1 27 1 2 1-58 1 16 1 19 1-17 1 4 1 11 1-3 1 26 1-66 1 59 1-31 1 18 1-20 1 63 1-88 1 64 1-37 1 7 1 35 1-36 1 21 1 14 1-44 1 56 1-19 1-34 1 12 1-21 1 20 1 13 1 6 1-14 1-12 1-3 1-6 1 16 1 21 1-25 1-5 1-11 1 36 1-17 1-31 1 58 1 2 1-20 1-10 1 6 1-17 1 42 1 10 1-12 1-18 1 2 1 10 1 28 1-60 1 13 1-17 1-9 1 36 1 20 1-47 1 43 1-8 1-7 1 22 1-48 1 50 1-42 1 23 1-49 1 57 1-24 1-10 1-12 1 27 1 22 1-19 1-20 1-11 1-3 1 14 1-27 1 29 1 30 1-31 1 0 1-13 1 28 1-1 1 19 1-47 1-10 1 14 1-12 1 31 1-11 1-10 1 18 1 25 1-6 1-30 1 20 1 5 1 8 1-22 1-23 1 38 1-35 1 17 1-2 1 25 1-30 1 13 1-10 1-4 1 38 1-28 1 21 1-7 1-49 1 7 1-32 1 79 1 1 1-15 1-3 1 1 1-10 1 12 1-1 1-19 1 48 1-9 1-29 1 57 1-2 1-26 1-1 1-37 1 6 1-26 1 25 1 31 1-28 1-29 1 73 1 8 1-8 1-68 1 53 1-42 1 15 1 21 1 20 1-51"/>
<path vector-effect="non-scaling-stroke" d="M0 332l1 9 1-46 1 72 1 2 1-40 1-20 1 10 1-36 1 34 1-16 1 13 1-8 1 54 1-63 1 29 1-14 1 47 1-11 1-60 1 14 1 25 1-22 1 24 1-9 1-23 1 16 1 21 1-16 1 6 1 4 1-8 1 30 1-56 1 31 1-24 1 25 1 10 1-5 1 3 1 7 1-8 1-18 1 20 1 7 1-4 1-17 1-3 1-48 1 26 1 16 1 23 1 2 1-24 1-25 1 37 1 11 1-7 1-32 1-9 1 7 1 0 1 46 1-18 1 46 1-10 1-14 1-37 1 29 1-5 1-41 1-1 1 10 1 44 1-36 1-22 1 34 1 7 1-42 1 68 1-58 1 40 1-3 1-33 1 13 1 0 1-4 1 25 1-16 1-41 1 41 1-28 1 23 1 8 1-8 1 24 1-23 1-9 1 51 1-20 1-18 1 3 1-7 1 11 1-23 1 56 1-13 1-79 1 24 1 24 1-10 1-30 1 63 1-38 1 36 1-2 1 18 1-53 1 60 1-67 1 62 1-8 1-16 1-36 1 58 1-18 1-55 1-25 1 46 1-7 1 34 1-14 1 3 1-16 1 31 1-37 1-21 1-22 1 63 1-22 1-21 1 16 1 16 1 29 1-67 1 40 1 25 1-4 1 1 1 28 1-64 1 8 1 39 1 7 1-28 1-14 1-17 1 43 1-4 1-34 1 14 1-12 1 36 1-16 1 30 1 2 1-26 1 18 1-5 1 13 1-41 1 21 1 22 1-25 1-25 1 14 1 52 1-61 1-7 1 34 1-27 1-23 1 1 1 32 1-15 1 51 1-50 1-18 1 17 1-10 1 53 1-45 1 51 1-19 1 33 1-45 1 21 1-63 1 36 1-4 1 40 1-24 1 20 1-31 1-16 1 26 1 23 1-32 1 37 1-45 1 0 1 2 1 7 1-10 1 5 1-18 1-5 1 60 1-12 1-26 1-8 1-23 1 47 1-27 1 60 1-82 1 52 1 19 1-38 1 59 1-21 1-3 1-46 1 38 1 1 1-18 1 38"/>
<path vector-effect="non-scaling-stroke" d="M0 306l1 39 1-48 1 16 1-5 1 16 1-9 1 35 1-45 1 14 1-9 1 4 1-26 1 20 1 33 1-13 1-48 1 19 1-13 1 9 1 5 1-13 1 37 1 12 1-17 1-18 1 16 1-19 1 39 1 30 1-112 1 67 1-5 1 0 1-13 1-27 1 29 1-4 1 4 1-1 1-10 1 58 1-74 1 20 1-17 1 26 1 39 1-37 1-15 1-12 1 40 1-32 1 34 1-29 1 3 1 7 1-32 1 63 1-49 1 29 1 5 1 44 1-45 1 5 1-29 1 10 1 7 1 23 1-45 1 32 1 53 1-85 1-18 1 28 1 9 1 43 1-26 1 13 1-39 1 14 1 9 1-27 1 23 1-16 1 15 1-33 1-11 1 76 1-29 1-5 1 61 1-36 1-15 1-22 1 24 1-2 1-11 1 35 1-15 1-4 1-33 1 1 1 38 1-17 1-20 1 16 1-8 1-9 1 4 1 26 1-8 1-32 1 4 1 24 1-32 1 26 1-4 1-27 1-24 1 35 1 17 1 1 1 25 1-25 1-3 1 13 1-12 1 51 1-53 1-5 1 6 1 39 1-42 1-7 1 29 1 11 1-32 1 27 1-30 1 45 1-55 1 19 1-3 1-12 1 23 1 16 1-34 1 58 1-33 1-1 1-26 1 18 1 23 1-39 1 4 1-3 1-13 1 43 1-36 1 53 1-61 1 20 1 2 1-20 1-25 1 32 1 14 1-22 1 30 1-47 1 43 1 37 1-20 1 3 1-28 1-4 1 35 1-30 1 22 1-35 1 32 1-3 1-52 1 46 1 11 1-2 1-3 1 24 1-30 1-14 1 36 1 23 1-54 1 41 1-40 1-32 1 13 1-1 1 46 1-27 1-12 1 13 1 29 1-36 1-12 1 25 1-21 1 25 1 5 1-15 1-11 1 7 1-32 1 69 1 21 1-52 1-50 1 25 1-11 1-8 1 40 1-2 1-11 1 38 1-26 1-23 1 28 1-38 1 23 1-10 1 23 1-8 1-3 1 18 1-1 1-1 1 22"/>
<path vector-effect="non-scaling-stroke" d="M0 342l1-50 1 72 1-37 1 23 1-41 1 43 1-27 1 0 1 2 1-62 1 22 1-1 1 34 1-9 1 23 1-7 1 17 1-43 1 24 1-20 1-17 1-18 1 39 1-20 1 10 1-8 1-5 1 88 1-66 1-29 1 23 1 6 1-32 1 57 1-42 1 31 1-24 1-10 1 92 1-87 1-20 1 24 1-10 1 44 1-18 1-33 1 65 1-47 1-24 1 54 1-13 1-35 1-2 1 24 1-10 1 25 1-8 1-32 1 2 1 23 1 35 1-42 1 28 1-31 1 27 1-23 1 19 1-27 1 6 1 60 1-23 1-49 1 53 1-27 1 34 1-58 1 29 1-15 1-5 1-8 1 70 1-47 1-8 1-28 1 64 1 1 1-31 1-26 1 47 1-12 1-30 1 81 1-29 1-41 1 3 1 33 1 12 1-11 1-4 1-24 1 56 1-50 1 12 1 5 1-14 1 24 1 16 1-83 1 46 1 32 1 6 1-45 1 24 1-13 1 1 1-15 1 34 1 4 1 7 1-33 1-4 1 23 1 50 1-81 1 4 1 43 1-61 1-31 1 76 1 5 1-1 1-7 1 0 1-41 1 38 1-45 1-10 1 28 1-19 1 8 1 9 1 5 1 16 1-29 1 7 1 8 1 5 1 9 1 6 1-12 1 5 1 4 1-11 1 3 1-26 1 22 1 15 1-36 1 45 1-40 1 35 1 14 1-31 1-17 1 20 1-17 1-12 1 46 1-66 1 60 1-35 1 42 1-35 1 51 1-50 1-38 1 118 1-62 1-10 1 4 1-11 1 11 1-26 1 67 1-68 1 30 1 13 1-30 1 24 1-32 1-12 1 3 1 46 1 0 1-46 1 42 1-43 1 29 1 11 1-60 1 62 1-15 1-25 1 44 1-12 1 6 1-14 1-15 1-16 1 23 1-19 1 15 1 21 1 12 1-14 1-2 1-14 1 25 1 7 1-40 1-2 1-8 1 17 1-1 1 56 1-17 1-57 1 47 1-21 1-32 1 45 1-23 1 22 1 4 1-24 1 42"/>
</g>
<use href="#m0olive" transform="translate(1.7 6)"/>
<g transform="matrix(3.3745 0 0 1 100.5 0)" fill="none" stroke="#5a5a5a" stroke-width="1.0" stroke-opacity="0.085" stroke-linejoin="round" id="m0gray">
<path vector-effect="non-scaling-stroke" d="M0 376l1-128 1 23 1 27 1-6 1-46 1 90 1-8 1-34 1 6 1-47 1 50 1-70 1-11 1 34 1 2 1 18 1 32 1 44 1-124 1-9 1 79 1 53 1-11 1-52 1-8 1-3 1 89 1-83 1 18 1-70 1 101 1-49 1-1 1-8 1 6 1 115 1-100 1 1 1-53 1-17 1-21 1 67 1 32 1-2 1-67 1 96 1-47 1 69 1-54 1 16 1-29 1 1 1 32 1 18 1 1 1-76 1-23 1 72 1 31 1-69 1 7 1 6 1 31 1 23 1-81 1 60 1 49 1-43 1-61 1-43 1 59 1 58 1-21 1 38 1-73 1 15 1-42 1 58 1-23 1-31 1 13 1 42 1 13 1 4 1 66 1-63 1-67 1 87 1-71 1-16 1 70 1-60 1 28 1-16 1 21 1-60 1 114 1 6 1-63 1 67 1-21 1 14 1 13 1-107 1 83 1-48 1 38 1-44 1 103 1-20 1-72 1 18 1-11 1 13 1 15 1-72 1-20 1 111 1-38 1-28 1-11 1-29 1 57 1-67 1 71 1 14 1-29 1 72 1-21 1-33 1-38 1 8 1-19 1-56 1 82 1 16 1-100 1 72 1-29 1 15 1 16 1 6 1-58 1 61 1-38 1-83 1 165 1-71 1-9 1 65 1-32 1-31 1 25 1 11 1-5 1-71 1 91 1-31 1 3 1 43 1 73 1-108 1 61 1-60 1 5 1 38 1 46 1-23 1-5 1 25 1-26 1-24 1-12 1 18 1 16 1-18 1 5 1-3 1-7 1-14 1 14 1 76 1-11 1 6 1-33 1 0 1 26 1-34 1 44 1-23 1 23 1-32 1 69 1-43 1 12 1-28 1 6 1 44 1-58 1 82 1-45 1 41 1-37 1 19 1 6 1 25 1-36 1 37 1-10 1 19 1-26 1 31 1-20 1 15 1 46 1 10 1-41 1 26 1-8 1-16 1 14 1-18 1 37 1-39 1 61 1-73 1 72 1 8 1-21 1-23 1 46 1-22 1 62 1-22 1 3 1 2"/>
<path vector-effect="non-scaling-stroke" d="M0 317l1 62 1-94 1 67 1-44 1-44 1 56 1-80 1 142 1-66 1 21 1-25 1-70 1 39 1 68 1-21 1-53 1-21 1 26 1-57 1 72 1-77 1 45 1 76 1-32 1-25 1 34 1-19 1 10 1 35 1-54 1-73 1 82 1-53 1 81 1-15 1-49 1 26 1-75 1-4 1 60 1 26 1 54 1-75 1-12 1 8 1 13 1 54 1-58 1 95 1-84 1 146 1-99 1 5 1-70 1 81 1-95 1 107 1-61 1 34 1 10 1 10 1 18 1-11 1-8 1-63 1-14 1 91 1-20 1-27 1 21 1 31 1-8 1-60 1-30 1-22 1 62 1 12 1-45 1 92 1 31 1-110 1 59 1-34 1 30 1-16 1-7 1 43 1-3 1-44 1 44 1-51 1 26 1 28 1-12 1-69 1 84 1-66 1 65 1 27 1-92 1 4 1 83 1-18 1-93 1 126 1-57 1-20 1 57 1-25 1 23 1-4 1 90 1-60 1-26 1-9 1 13 1 4 1-46 1 52 1-49 1 11 1 18 1 45 1-11 1-150 1 173 1-52 1 2 1 63 1-90 1-24 1-49 1 20 1 83 1-73 1-12 1 56 1-60 1 14 1-6 1 44 1-57 1 4 1 9 1-68 1 60 1-63 1 23 1 16 1 22 1-14 1 58 1-30 1 21 1-48 1-3 1 76 1-101 1 101 1-59 1 51 1-59 1 60 1 1 1-68 1 48 1 38 1 22 1-21 1-28 1 28 1-36 1 10 1 30 1-10 1 28 1-14 1 18 1-21 1 25 1 51 1-88 1 24 1-6 1 28 1 2 1-24 1 23 1 12 1 0 1 17 1 34 1-20 1-19 1 18 1 45 1-55 1 51 1-35 1-27 1 33 1 27 1-15 1-10 1 8 1 1 1 3 1 19 1-38 1 81 1 5 1 0 1 25 1-40 1 16 1-71 1 70 1-11 1 24 1 6 1-17 1-25 1 42 1 24 1 7 1-27 1-4 1 21 1-10 1-25 1 66 1 2 1 7 1-31 1 18 1-37"/>
<path vector-effect="non-scaling-stroke" d="M0 220l1 33 1 36 1-19 1 55 1-21 1-79 1 74 1-61 1 103 1 13 1-24 1 39 1-57 1 27 1-16 1-6 1-4 1-23 1 75 1-115 1-16 1 37 1 103 1-82 1-20 1-3 1 57 1-22 1 53 1-68 1 56 1-76 1 52 1 104 1-141 1 3 1 51 1-85 1 25 1 1 1 38 1-54 1 122 1-59 1 4 1-14 1 20 1-97 1 147 1-84 1 70 1-42 1-4 1 25 1 47 1-87 1-23 1 48 1-115 1 66 1-4 1 20 1-36 1 103 1-50 1 14 1-7 1-8 1-24 1 86 1-29 1 21 1-70 1 19 1 8 1-22 1 5 1-67 1 21 1 13 1-3 1 68 1-4 1-7 1-35 1 61 1-7 1-10 1-33 1 81 1-107 1-20 1 21 1 110 1-51 1-37 1-71 1 100 1-25 1-42 1 139 1-38 1 58 1-50 1 26 1-55 1 76 1-40 1 40 1-15 1-64 1 40 1 15 1-35 1 19 1 37 1 14 1-53 1-90 1 120 1 54 1-93 1-35 1 48 1-10 1 26 1-67 1 88 1-41 1-80 1 71 1-61 1 24 1-15 1-15 1 13 1-40 1-9 1 20 1-12 1 27 1-11 1-75 1 88 1-42 1 37 1-3 1-14 1 12 1-73 1 115 1 18 1-53 1-37 1 49 1-35 1 69 1-70 1-17 1 14 1 7 1 53 1-13 1 7 1-3 1 49 1-38 1 5 1 45 1-33 1-12 1 15 1 39 1-19 1-31 1 53 1-68 1-15 1 32 1-25 1 52 1 9 1 1 1-2 1-16 1 45 1-70 1 69 1-13 1-8 1 25 1-48 1 77 1-4 1 11 1-76 1 70 1-15 1-57 1 54 1 11 1-9 1 30 1 16 1-29 1 2 1 34 1-37 1 42 1 33 1-21 1 24 1-6 1 27 1-56 1 5 1 13 1 5 1 41 1 11 1-9 1 13 1-41 1-5 1-20 1 66 1-6 1-6 1-37 1 2 1 45 1-6 1 24 1-18 1-24 1-5"/>
<path vector-effect="non-scaling-stroke" d="M0 269l1 73 1-19 1 7 1 14 1-4 1 8 1-87 1 49 1-95 1-18 1 65 1 32 1 1 1-13 1 24 1-102 1 53 1 19 1-15 1 52 1 12 1-17 1-10 1 88 1-87 1 6 1 50 1 30 1-126 1-3 1 89 1-7 1-7 1-43 1 39 1-80 1 20 1 108 1-105 1 47 1 29 1-6 1-51 1 23 1 46 1-35 1 86 1-58 1 83 1-70 1 49 1-29 1-8 1-63 1 75 1-33 1 9 1-29 1-24 1-6 1 28 1 37 1-58 1-35 1 2 1-14 1-17 1 54 1-24 1 16 1 93 1-35 1 13 1-63 1 13 1-35 1-45 1 8 1 51 1 33 1 75 1-96 1-51 1 41 1 41 1-68 1 30 1 38 1-29 1 24 1-9 1 3 1 60 1-12 1-24 1 15 1-14 1-1 1 16 1 4 1 94 1-91 1 8 1 77 1-121 1 44 1 43 1-48 1-11 1-23 1 24 1-31 1 75 1-24 1-33 1 61 1-82 1 17 1 66 1-15 1-54 1 17 1 19 1-30 1 36 1-18 1 22 1-20 1 20 1-36 1 27 1-10 1 2 1-13 1-28 1 5 1 57 1-60 1 4 1 59 1-37 1-1 1-70 1-5 1 30 1 66 1-143 1 1 1 76 1-1 1-49 1 72 1-22 1-13 1 8 1-11 1 38 1-31 1-18 1 7 1 35 1 33 1-44 1-7 1 49 1 33 1-39 1 54 1-61 1 61 1-20 1-64 1 70 1-20 1 9 1-7 1 26 1-16 1 24 1 25 1 10 1-1 1 2 1-10 1-10 1-19 1 56 1-38 1 20 1-36 1 49 1 31 1-30 1 30 1-25 1 2 1-15 1-50 1 78 1 13 1 6 1 37 1-18 1-14 1-21 1 84 1-107 1 25 1 2 1 47 1-13 1 13 1-52 1 26 1 35 1-41 1-15 1 28 1-21 1 14 1 16 1-25 1 24 1 39 1-35 1 18 1-12 1 17 1 0 1-34 1 27 1 45 1-74 1 65 1 0 1-53"/>
<path vector-effect="non-scaling-stroke" d="M0 263l1 13 1 22 1-30 1 22 1-3 1 41 1-69 1 27 1 2 1-45 1 16 1 5 1-59 1 36 1-33 1 22 1-1 1 11 1 43 1 29 1-14 1-78 1 44 1-74 1 73 1 24 1-32 1 18 1 28 1-10 1-57 1-7 1-34 1 52 1-6 1 23 1 12 1-75 1 34 1 25 1-40 1 56 1-10 1 37 1 18 1 7 1-30 1 21 1-4 1 35 1-115 1 63 1-25 1 40 1 42 1-29 1 0 1-31 1 38 1-8 1-51 1 54 1-44 1-79 1 86 1 29 1-7 1-15 1-11 1 34 1 0 1-99 1 40 1 34 1-6 1 36 1 4 1-42 1-29 1 82 1-110 1 28 1 98 1-52 1 7 1-24 1 60 1 73 1-98 1-14 1 61 1 44 1-64 1-45 1 54 1-44 1 76 1-34 1 29 1-15 1 28 1-118 1 87 1 0 1 13 1-70 1 121 1-89 1 44 1-42 1 15 1-10 1-45 1 46 1 73 1-97 1 56 1-78 1 118 1-106 1 6 1 40 1 17 1-65 1 60 1 32 1-17 1-27 1 47 1 24 1 33 1-43 1-130 1 103 1-22 1-33 1 1 1 12 1-66 1-43 1 34 1 20 1-51 1-1 1-25 1 75 1-53 1 40 1-22 1 70 1-6 1 50 1-104 1-7 1 41 1-53 1 35 1 50 1-15 1 34 1-47 1 15 1 18 1 30 1 17 1 9 1-26 1-21 1 9 1 12 1-44 1 6 1-25 1 56 1-2 1-34 1 48 1-22 1-6 1 30 1-5 1-33 1 18 1-17 1 55 1-9 1 34 1-38 1-15 1 58 1 0 1-60 1 65 1-40 1 52 1-16 1-24 1 6 1 2 1-61 1 99 1-18 1 31 1-85 1 98 1-7 1-32 1 80 1-21 1-39 1 11 1 41 1 29 1-21 1-19 1 62 1-53 1 49 1-7 1-15 1-1 1 6 1 26 1 33 1-31 1-19 1 51 1-3 1-25 1 31 1-16 1 44 1-44 1-13 1 13 1 21"/>
<path vector-effect="non-scaling-stroke" d="M0 262l1 46 1 43 1-78 1-26 1 10 1-54 1 141 1-44 1-24 1 8 1 37 1-64 1-46 1 99 1-134 1 82 1 72 1 17 1-60 1 13 1-4 1 0 1 3 1 64 1-41 1 52 1-53 1-50 1 7 1 102 1-111 1 67 1-86 1 55 1-47 1-4 1-23 1 13 1 49 1 58 1-31 1-50 1 56 1-110 1 103 1 107 1-197 1 91 1 61 1 32 1-33 1-74 1 86 1-3 1-85 1 12 1-48 1 20 1 73 1-112 1 92 1-44 1-4 1-50 1 57 1-37 1-10 1-62 1 65 1-14 1 46 1-34 1-15 1-24 1-6 1 14 1 66 1-89 1 2 1 66 1 46 1-40 1-18 1 106 1-71 1-31 1 36 1 41 1-54 1 58 1-48 1 23 1 7 1-112 1 162 1-23 1-14 1-12 1-18 1 67 1-58 1 36 1-100 1 162 1-65 1-4 1-59 1-1 1 61 1-153 1 187 1-86 1-1 1 42 1 87 1-71 1 45 1-98 1 38 1 79 1-81 1-59 1 65 1 15 1-2 1 37 1 1 1-53 1 55 1-33 1 9 1-54 1 64 1-52 1 58 1-128 1 104 1-91 1 60 1-66 1-1 1 57 1-92 1 100 1 48 1-48 1-79 1 86 1-24 1 11 1 2 1 37 1 20 1-45 1 34 1-64 1 94 1-115 1 16 1 20 1 47 1 6 1-85 1 55 1 12 1 70 1-87 1-22 1-12 1 37 1 23 1-1 1-6 1-12 1 29 1 6 1 67 1-70 1-19 1 22 1 8 1-45 1 58 1 11 1 0 1-18 1 24 1 18 1 8 1-20 1-39 1 54 1 35 1-47 1-61 1 96 1-1 1-22 1-13 1 31 1-12 1-17 1 1 1 12 1 21 1-18 1-27 1 19 1 32 1 15 1-23 1 35 1-34 1 45 1 27 1-11 1-14 1 12 1-69 1 86 1-47 1-1 1 16 1-1 1 24 1-3 1 12 1 26 1-20 1-6 1 16 1-21 1 47 1-48 1 23 1 52"/>
<path vector-effect="non-scaling-stroke" d="M0 312l1-23 1 62 1-144 1 109 1-41 1-26 1 12 1 18 1 11 1 27 1-75 1-14 1 66 1 6 1-91 1 16 1 51 1-21 1 42 1-52 1 2 1 150 1-82 1 17 1-38 1-46 1 75 1 13 1-73 1-6 1 32 1-27 1-63 1 89 1 1 1-108 1 145 1-109 1-9 1 17 1 44 1 5 1-69 1 70 1 16 1-37 1-60 1 51 1 18 1 61 1-49 1 32 1 91 1-116 1 1 1 46 1 4 1-2 1-54 1-60 1-28 1 37 1 17 1-44 1-11 1 48 1-4 1-3 1 97 1-31 1-101 1 94 1-48 1-31 1 6 1 139 1-115 1-26 1 26 1 40 1-28 1-10 1-20 1 10 1-19 1 57 1 31 1 2 1-16 1 55 1-26 1 11 1-68 1 39 1-3 1 66 1-49 1-2 1 5 1 84 1-90 1 1 1 50 1-12 1 65 1 2 1-37 1-23 1 2 1 65 1-35 1 5 1-128 1 54 1 40 1 41 1 4 1-15 1-75 1 81 1-39 1-56 1 54 1 11 1 28 1 31 1-20 1-6 1-23 1 14 1-56 1 68 1-42 1 36 1-29 1-46 1 13 1 1 1 4 1-114 1 63 1 105 1-65 1 42 1-80 1-33 1 58 1-8 1-14 1 71 1 18 1-63 1 97 1-30 1-73 1 74 1-17 1-12 1-47 1 69 1-30 1 86 1-89 1-6 1 66 1-41 1 81 1-76 1 56 1-47 1 11 1 15 1-27 1 42 1-40 1 55 1-17 1-64 1 106 1-37 1-32 1 27 1 1 1 19 1 7 1 16 1-62 1 41 1-27 1-28 1 26 1 7 1 32 1-21 1 18 1-5 1 0 1 13 1-23 1 10 1-1 1-2 1-3 1 32 1 15 1 39 1-44 1 5 1-32 1 29 1 39 1 18 1-41 1 27 1-1 1 15 1-26 1-32 1 20 1 28 1-37 1 17 1-15 1 8 1-17 1 67 1-35 1 24 1 19 1-13 1-14 1 8 1-7 1 28 1-10 1 46"/>
<path vector-effect="non-scaling-stroke" d="M0 332l1-85 1 50 1-52 1-23 1 68 1-13 1 33 1-40 1 41 1-38 1 13 1 33 1 32 1-85 1-74 1 27 1 109 1 23 1-38 1 29 1-76 1 1 1 76 1-16 1-15 1 4 1-25 1-63 1 110 1-49 1-34 1 3 1 52 1-68 1-15 1 67 1 26 1 11 1 1 1-20 1-9 1-64 1 78 1-28 1 94 1-85 1 34 1 27 1-65 1 2 1 105 1 2 1-112 1 60 1 49 1-85 1 33 1-8 1-18 1-17 1-88 1 66 1 29 1 14 1 66 1 24 1-49 1-55 1-59 1 30 1 55 1-47 1 9 1 35 1-89 1 16 1 95 1-33 1 20 1-28 1-54 1 95 1-71 1 31 1 15 1-7 1-63 1 73 1-73 1 70 1-33 1 81 1-80 1 27 1-4 1-72 1 64 1 10 1-28 1 20 1 27 1-1 1 17 1 15 1 10 1-69 1 24 1-21 1-16 1-6 1-26 1 55 1 27 1-60 1 0 1-20 1-11 1 3 1 67 1-67 1 131 1-36 1-35 1-24 1 68 1-45 1 102 1-92 1 26 1-55 1 79 1-32 1-16 1 39 1-97 1-46 1-3 1 49 1 11 1-4 1 29 1 24 1-74 1 63 1-63 1-14 1 63 1 6 1 0 1-57 1 83 1-26 1-26 1 31 1 3 1 1 1-9 1 73 1-77 1 24 1-13 1 8 1-58 1 116 1-20 1-44 1 47 1-40 1 24 1-28 1-45 1 29 1-2 1 3 1-36 1 46 1 27 1-3 1-22 1 69 1-49 1 27 1-10 1-12 1 34 1-27 1-2 1-20 1 64 1 10 1-18 1-10 1 16 1 34 1-33 1 10 1 25 1-12 1 15 1 8 1-8 1 55 1-68 1 21 1 10 1-5 1-27 1 24 1-24 1 33 1 14 1 16 1-4 1-2 1 69 1-45 1 54 1-66 1 30 1 31 1-65 1 0 1 52 1 20 1-20 1 0 1-16 1 23 1 13 1-29 1-25 1 66 1-54 1 2 1 25 1 44"/>
<path vector-effect="non-scaling-stroke" d="M0 314l1-89 1 95 1-37 1 30 1-12 1-33 1-16 1 12 1 55 1-114 1 71 1-17 1 2 1 16 1 16 1-11 1 63 1-71 1 106 1-165 1 146 1-87 1-34 1 22 1 21 1 25 1-10 1 56 1-56 1-11 1-8 1 27 1-18 1 67 1-87 1 9 1-1 1-18 1 20 1-8 1-45 1 21 1 22 1-64 1 81 1 59 1-11 1-77 1 4 1 39 1-7 1 53 1-21 1 11 1-19 1 37 1-38 1 106 1-82 1-21 1-13 1-12 1-11 1 41 1 7 1 38 1-55 1 29 1-25 1-29 1 27 1-7 1-38 1-9 1 15 1-75 1 96 1-73 1 159 1-101 1 26 1 6 1-73 1 143 1-92 1 70 1 10 1-5 1-159 1 80 1 23 1-28 1 49 1 70 1-10 1-74 1-14 1 76 1-3 1-32 1-19 1 91 1 11 1-9 1-24 1-51 1 26 1-62 1 122 1-109 1 8 1 14 1 9 1 70 1-28 1-65 1 44 1-3 1 50 1-123 1 48 1-25 1 47 1 35 1-44 1 100 1-135 1 51 1-35 1-34 1 33 1 3 1-35 1-7 1 24 1-16 1 60 1-12 1-27 1 32 1-137 1 45 1 87 1-77 1 72 1-23 1-7 1-14 1-31 1-9 1-8 1 84 1-10 1 18 1-58 1 36 1 39 1-62 1 5 1 11 1 88 1-22 1 31 1 34 1-93 1 19 1-79 1 82 1-25 1 16 1 6 1-68 1 72 1-22 1-23 1 19 1 45 1-36 1 55 1-11 1-11 1-23 1 14 1 55 1-34 1 3 1 2 1 15 1-7 1-27 1 17 1-2 1 24 1-53 1 42 1 42 1-72 1 19 1 34 1-33 1 34 1 11 1 13 1-9 1 7 1-16 1 26 1 12 1 11 1 17 1 8 1 2 1-7 1 6 1-10 1 36 1 10 1-37 1 23 1-7 1 3 1-14 1 19 1 25 1-5 1 9 1-33 1-36 1 75 1-16 1 28 1 37 1-8 1-76 1 39 1 7"/>
<path vector-effect="non-scaling-stroke" d="M0 380l1-35 1-53 1 46 1 1 1 13 1 8 1-116 1 25 1-2 1-33 1 138 1-109 1 4 1-3 1-26 1 77 1-33 1-28 1 25 1 36 1 4 1 23 1 18 1-73 1-23 1 26 1 24 1-38 1 32 1-65 1 62 1 13 1-61 1 65 1 31 1-209 1 111 1 40 1 42 1-72 1 52 1 61 1-41 1-29 1-5 1 35 1 16 1-1 1-22 1-89 1 63 1 10 1 29 1 14 1-43 1 60 1 36 1-46 1 9 1-58 1-27 1 62 1-15 1 23 1-75 1-40 1-5 1 54 1-96 1 136 1-78 1 9 1-9 1 81 1-129 1 85 1-11 1 26 1-17 1-77 1-22 1-16 1 79 1 41 1-7 1-10 1 37 1-79 1 111 1 16 1-5 1-8 1 46 1-125 1 21 1 58 1 1 1-13 1 42 1-34 1 80 1-75 1-99 1 93 1-11 1-25 1 101 1-79 1-33 1 58 1 87 1-78 1 79 1-49 1 40 1-39 1 3 1-153 1 63 1-1 1 51 1 57 1-10 1-15 1-111 1 39 1 34 1 27 1-14 1-40 1-36 1 106 1-98 1 24 1-5 1 17 1-53 1-14 1 35 1-36 1 49 1-66 1 29 1-41 1 133 1-145 1 60 1 4 1-3 1-25 1 13 1 29 1 57 1-9 1 20 1-75 1 22 1 50 1-25 1-3 1-5 1 22 1-36 1 35 1-42 1 56 1-11 1-13 1-34 1 40 1 52 1-66 1 28 1-63 1 25 1 28 1 20 1 3 1-28 1 76 1-125 1 35 1 69 1 16 1 18 1-70 1-9 1 9 1 17 1 41 1-21 1-4 1 35 1-15 1 17 1 44 1-54 1 22 1-17 1 38 1-56 1 9 1 42 1-70 1 104 1-23 1-20 1-10 1 20 1-2 1-31 1 35 1-19 1 24 1 12 1 11 1-6 1 9 1-6 1 12 1 55 1 7 1-45 1-34 1 78 1 35 1-43 1 22 1-8 1 21 1-22 1 20 1-3 1 1 1 18 1-40"/>
<path vector-effect="non-scaling-stroke" d="M0 378l1-42 1 41 1-93 1 55 1-46 1 46 1-96 1 56 1 42 1-38 1 2 1-19 1-88 1 48 1 10 1 61 1-35 1-36 1 80 1-28 1-84 1 126 1-48 1 112 1-73 1-112 1 116 1-38 1-20 1 28 1 9 1-43 1-26 1 66 1-18 1-65 1 109 1-72 1 97 1-14 1-57 1 54 1-74 1 46 1-86 1 30 1 43 1 38 1 16 1 13 1-10 1-62 1 23 1-21 1 29 1-78 1 46 1 100 1-54 1-51 1 59 1-19 1-17 1-9 1-36 1 42 1 4 1-13 1 58 1-64 1 15 1 42 1-21 1-122 1 72 1-43 1 6 1 76 1 37 1-46 1-112 1 85 1 17 1-11 1 95 1-50 1 9 1-21 1 42 1-44 1-41 1 58 1-27 1-32 1-14 1 67 1 21 1 89 1-105 1-6 1 30 1 41 1-84 1 39 1 68 1 13 1-109 1-41 1 65 1-2 1 57 1-9 1-34 1-38 1 50 1-53 1 4 1 45 1 94 1-11 1-18 1-130 1 98 1-61 1 60 1 12 1-6 1-68 1-20 1 67 1 22 1-95 1-12 1 29 1-29 1 62 1-7 1-4 1-66 1-21 1 22 1 22 1 17 1-13 1-25 1 37 1 1 1-38 1-27 1 45 1 27 1 1 1-67 1 49 1-5 1-11 1 10 1-13 1-3 1 35 1-3 1 11 1-39 1 56 1 55 1-77 1 32 1-5 1 11 1 18 1-33 1 41 1 1 1-32 1 30 1 15 1 6 1-37 1 29 1-21 1-10 1 88 1-39 1-10 1-28 1 18 1-12 1 56 1-66 1 13 1 26 1-20 1 30 1-11 1-6 1 6 1-40 1 82 1-7 1-4 1 4 1-27 1 28 1-20 1 6 1-11 1 22 1 41 1 0 1-29 1 1 1 46 1-29 1 31 1 17 1-15 1-48 1-31 1 98 1-67 1-1 1 32 1 5 1 22 1-22 1-2 1 44 1-44 1 97 1-99 1 38 1 23 1-29 1-37 1 36 1 29"/>
<path vector-effect="non-scaling-stroke" d="M0 246l1 64 1 52 1-130 1 107 1 11 1-129 1-4 1 25 1-1 1 13 1-19 1 29 1 28 1 20 1-44 1-39 1 65 1 10 1-57 1 52 1-65 1 21 1 36 1-12 1 56 1-52 1 13 1 48 1-121 1 92 1 27 1-69 1 43 1-91 1 21 1-15 1 121 1-105 1 57 1-94 1 110 1-87 1 28 1-74 1 61 1 94 1-97 1 129 1 24 1-97 1-44 1 43 1 18 1-96 1 58 1 33 1 4 1-97 1 77 1 2 1 36 1-36 1 21 1-21 1-64 1 158 1-100 1-21 1-27 1 83 1-67 1 25 1-19 1-14 1-61 1 42 1 96 1-68 1-42 1-6 1 2 1 14 1 18 1 74 1-39 1 62 1-132 1 71 1-70 1-6 1 111 1-83 1 88 1-37 1 99 1 4 1-134 1 107 1-34 1 24 1-40 1 62 1-16 1-42 1-71 1-30 1 150 1-35 1-66 1 10 1 153 1-154 1 70 1 45 1 53 1-81 1 10 1-69 1 87 1-8 1-42 1 0 1 105 1-18 1 67 1-129 1-78 1 176 1-68 1 45 1-103 1 6 1 80 1-108 1 20 1-4 1 24 1 0 1-80 1 65 1-49 1-2 1 13 1 35 1-42 1 19 1-53 1-20 1 14 1 68 1 0 1 12 1-58 1 23 1 29 1 15 1-2 1-29 1-12 1-22 1 42 1 63 1-34 1-11 1 34 1 79 1-102 1-9 1-17 1-7 1 76 1 1 1-21 1 34 1 5 1-36 1 32 1 19 1-63 1 43 1 9 1-51 1 110 1-41 1 26 1-89 1 45 1 36 1-40 1 71 1-69 1 36 1-4 1-28 1 29 1 4 1-19 1 24 1 38 1-9 1-14 1 13 1 18 1-31 1-12 1 26 1 7 1-18 1 25 1 3 1 23 1-47 1 64 1-33 1-30 1 62 1-15 1-5 1-29 1 60 1-46 1 1 1 35 1 34 1-15 1 1 1-23 1 51 1-28 1 18 1 59 1-61 1-23 1-8 1 15 1 0"/>
<path vector-effect="non-scaling-stroke" d="M0 253l1 33 1 83 1 10 1-70 1 41 1-34 1 16 1-72 1 62 1-7 1-1 1-2 1-5 1 17 1-63 1 53 1-46 1 52 1-17 1-12 1 2 1 6 1 58 1-63 1 53 1-4 1 62 1-60 1-85 1-13 1 54 1 10 1-44 1 62 1-119 1 1 1 61 1 56 1 15 1-29 1 67 1-44 1-31 1 69 1-41 1-44 1 49 1-64 1 86 1-51 1-69 1 135 1-42 1-37 1 32 1 23 1-32 1 24 1 33 1-63 1 12 1 80 1-84 1-12 1 30 1 40 1-82 1 18 1-15 1 84 1-33 1-37 1 33 1-110 1 24 1 52 1 46 1-122 1 68 1-25 1-5 1 18 1-53 1 117 1-84 1 42 1-51 1 7 1-45 1 130 1 62 1-102 1 16 1 76 1-104 1 45 1-38 1 73 1-13 1 40 1-8 1-88 1 25 1 42 1 14 1-21 1 36 1 17 1-55 1 25 1-22 1-31 1 97 1 30 1-88 1 92 1-8 1-89 1 20 1 1 1 64 1 9 1-74 1-49 1 66 1 47 1-46 1-20 1-72 1 84 1-37 1 7 1 5 1-26 1-32 1 36 1 10 1 44 1-83 1-33 1 114 1-36 1-77 1 9 1 12 1 50 1-51 1 52 1-41 1-39 1 38 1-67 1 42 1 59 1-43 1 19 1-28 1 46 1-56 1 48 1 40 1-40 1 55 1-8 1 19 1-39 1 25 1-17 1 3 1 9 1 33 1 33 1-89 1 81 1-115 1 5 1 98 1-9 1-28 1-2 1 4 1-56 1 73 1-26 1-44 1 63 1 9 1 27 1-13 1-33 1 32 1-13 1 12 1 46 1-46 1-53 1 55 1-23 1 16 1 64 1-24 1-31 1 15 1 27 1-15 1 44 1-74 1 34 1 1 1-25 1 38 1 11 1 17 1-80 1 59 1 16 1 29 1-10 1-5 1-14 1 56 1-33 1 33 1-31 1 12 1-23 1-14 1 37 1-15 1 49 1-59 1 12 1 60 1-47 1-9 1-20"/>
<path vector-effect="non-scaling-stroke" d="M0 263l1 56 1-66 1 48 1-32 1 43 1-92 1 143 1-128 1 12 1-23 1 106 1-38 1-12 1 56 1-117 1 7 1 52 1-46 1 24 1 8 1 7 1 21 1-48 1 97 1-31 1-34 1 11 1 31 1-19 1 27 1 42 1-56 1-71 1 72 1-10 1 5 1-11 1-56 1 64 1 22 1-7 1 87 1 11 1-155 1 163 1-131 1 34 1 141 1-56 1-29 1-84 1 43 1 7 1-68 1 61 1-82 1 123 1-61 1-33 1 102 1-16 1 17 1-117 1 33 1 14 1-69 1 67 1 5 1-1 1-6 1-68 1 85 1 26 1-111 1 7 1 48 1-59 1 2 1 21 1-51 1-6 1 109 1-76 1 85 1-63 1 68 1-50 1-44 1 85 1-24 1-16 1 123 1-6 1-120 1 41 1-13 1-19 1 67 1 19 1 16 1-95 1 76 1 26 1-123 1 75 1-13 1 71 1-92 1 56 1-12 1-26 1 30 1-76 1 18 1 3 1 74 1 41 1-57 1-14 1-46 1 11 1 75 1 48 1-65 1-17 1 8 1 52 1 18 1-53 1-18 1 29 1-38 1 15 1 46 1-36 1-90 1 140 1 23 1-173 1 42 1 42 1 26 1-130 1 134 1-20 1-23 1-35 1-72 1 78 1-38 1 42 1-33 1-24 1 130 1 22 1-140 1 57 1-47 1 68 1-52 1 48 1-40 1 37 1-74 1 72 1 0 1 10 1-10 1 48 1-14 1-58 1 13 1-25 1 15 1 74 1-75 1 53 1 24 1-28 1 13 1-52 1 22 1-4 1 60 1-35 1-14 1 18 1 27 1-71 1 54 1-14 1-3 1 15 1-28 1-2 1-5 1 53 1-40 1 24 1 1 1 51 1-81 1 60 1 9 1 14 1 2 1 27 1-32 1-7 1 27 1 5 1 0 1 14 1 23 1 11 1-61 1 12 1 76 1-55 1-46 1 57 1 26 1 25 1-16 1 14 1 1 1 22 1-61 1 45 1 6 1 0 1 32 1-45 1 55 1-5 1-52"/>
<path vector-effect="non-scaling-stroke" d="M0 318l1-4 1-52 1 42 1-19 1-94 1 59 1 67 1-26 1-28 1 0 1 36 1-30 1-57 1 4 1 152 1-109 1 13 1 9 1 14 1 10 1-19 1-17 1 13 1 9 1 73 1 2 1-34 1 46 1-90 1-17 1-63 1 126 1-10 1-69 1 73 1-30 1 14 1 36 1-29 1-27 1-10 1 54 1-96 1 54 1 30 1 25 1-115 1 86 1-24 1 7 1 46 1-27 1-108 1 135 1-81 1 59 1-59 1-12 1 37 1 23 1-61 1 93 1-80 1 37 1 55 1-83 1 23 1 8 1 1 1 11 1-38 1-12 1 7 1-25 1-59 1 84 1-17 1 99 1-130 1-25 1 29 1 6 1 38 1-36 1 52 1-36 1 3 1 26 1 5 1-58 1 87 1-19 1 98 1-82 1 18 1-46 1 62 1-38 1 30 1 33 1-92 1-29 1 83 1 26 1 12 1 32 1-67 1 4 1-27 1 59 1 24 1-46 1 48 1-69 1 10 1 69 1-2 1-50 1-40 1 53 1-53 1 60 1-40 1-18 1 35 1 101 1-80 1 10 1-65 1 80 1-101 1 34 1 23 1 69 1-128 1 40 1-30 1-72 1 100 1 66 1-71 1-59 1 25 1 29 1-48 1 47 1-31 1 21 1-22 1 20 1 10 1-25 1 78 1-91 1 51 1 53 1-17 1-61 1 31 1-40 1 54 1-37 1 71 1-17 1-28 1 52 1-39 1 28 1-38 1 6 1 46 1 30 1-6 1-10 1-18 1 13 1-25 1 5 1 8 1 34 1-17 1-41 1 51 1 15 1-12 1-21 1 19 1 7 1 22 1-10 1-27 1 33 1-64 1 3 1 63 1-64 1 93 1-26 1 7 1 26 1 24 1-45 1 13 1-35 1-4 1-4 1 66 1-34 1 49 1-63 1 13 1 32 1 31 1-47 1 12 1-8 1 67 1-31 1 5 1-30 1 20 1-16 1 71 1-57 1-45 1 27 1-20 1 23 1-2 1 78 1-32 1-22 1 78 1-55 1 56 1-43"/>
<path vector-effect="non-scaling-stroke" d="M0 352l1-53 1 76 1-51 1 57 1-58 1 9 1-50 1 25 1 78 1-5 1-163 1 194 1-37 1-94 1 57 1 3 1-149 1 104 1 11 1-14 1-39 1 60 1 30 1-10 1-64 1 146 1-147 1 14 1 50 1-46 1 3 1-9 1 11 1 98 1-114 1-16 1-21 1 69 1 17 1-54 1 18 1 44 1-43 1-8 1 69 1 21 1-62 1-70 1 108 1-83 1 138 1-62 1 16 1-15 1 27 1-11 1-15 1-8 1-67 1 88 1-40 1 18 1 28 1-78 1 3 1 62 1-69 1 16 1 0 1 51 1-43 1 12 1 46 1-34 1-5 1-30 1-24 1-37 1 49 1 58 1 38 1-96 1 9 1 16 1-12 1-23 1-82 1 76 1-3 1 21 1 10 1-27 1 46 1-38 1-27 1 79 1-14 1 22 1 26 1-100 1 55 1-54 1 61 1-61 1-47 1 163 1-101 1 26 1 33 1 25 1-35 1-21 1 100 1-92 1-17 1 49 1-38 1 43 1-38 1 65 1-89 1 70 1 19 1-29 1-15 1 104 1-87 1-28 1 43 1 42 1-79 1-60 1 56 1-51 1 36 1-56 1 127 1-57 1 33 1-28 1 19 1-44 1 0 1-14 1-1 1 49 1 10 1-52 1-35 1 92 1-67 1 11 1 27 1 46 1-27 1-22 1-35 1 57 1 36 1-35 1 22 1-14 1-7 1 17 1-1 1 74 1-75 1-12 1 4 1 14 1-3 1 27 1 0 1-17 1-58 1 86 1-6 1 38 1-98 1 85 1-78 1 65 1-10 1 35 1-83 1 73 1-60 1 34 1 1 1 36 1-20 1 11 1-8 1 7 1 2 1 35 1-23 1-7 1 46 1-11 1 32 1-28 1 28 1-35 1 41 1 14 1 2 1-71 1 21 1-18 1 70 1 16 1-31 1-9 1 11 1-6 1 8 1 9 1 30 1 33 1-48 1 29 1 22 1-1 1-34 1 17 1 19 1 1 1 8 1-43 1 25 1 31 1-17 1 52 1 14 1-79"/>
<path vector-effect="non-scaling-stroke" d="M0 385l1-155 1 63 1-43 1 12 1 51 1 11 1-30 1 42 1-34 1-36 1 93 1-51 1-22 1 25 1-1 1-46 1 46 1-119 1 13 1 65 1-60 1 126 1-65 1 55 1-39 1-23 1 16 1 47 1-48 1-69 1 136 1-83 1-3 1 5 1-21 1-77 1 89 1-14 1 37 1 5 1-19 1-17 1 105 1-41 1-16 1-59 1 39 1 24 1-47 1 15 1-8 1 32 1 27 1-28 1-11 1 32 1 16 1-157 1 76 1 26 1 18 1-109 1 76 1 64 1-55 1 11 1 22 1-6 1-63 1 35 1-40 1 55 1 9 1 13 1-32 1-131 1 100 1-32 1 61 1 13 1-28 1-31 1 36 1 27 1 25 1 6 1-62 1 15 1-9 1 54 1-106 1 4 1 113 1 11 1-1 1-30 1 55 1-40 1-36 1 54 1-75 1 67 1-17 1 15 1 68 1-136 1 72 1 36 1-12 1-15 1-61 1 106 1-76 1 107 1-82 1 49 1-6 1-51 1 20 1 47 1-65 1 49 1-43 1 34 1-15 1 9 1 48 1-94 1 3 1-40 1 200 1-146 1 56 1-62 1-9 1-16 1 111 1-122 1-8 1 46 1 6 1-18 1-49 1 41 1 33 1-65 1 87 1-80 1 37 1-13 1-12 1 47 1-83 1 53 1-29 1 63 1-83 1 83 1-46 1 48 1-45 1 73 1-52 1 2 1-9 1 6 1-25 1 53 1-60 1 53 1-11 1 13 1-13 1 4 1 10 1 16 1 29 1-42 1 38 1 7 1-1 1-23 1 59 1-85 1 31 1 28 1-23 1 28 1 14 1-21 1-2 1 34 1-19 1-1 1-33 1 64 1 29 1-64 1 14 1 52 1-57 1 8 1 36 1-3 1 22 1-52 1 53 1-37 1 60 1 0 1-27 1 49 1-26 1-5 1 20 1-18 1 30 1-11 1 56 1-50 1 46 1-10 1-58 1 43 1-8 1-7 1 10 1 58 1-48 1-19 1 8 1 13 1 65 1-62 1 47 1-61"/>
<path vector-effect="non-scaling-stroke" d="M0 328l1-87 1 21 1 22 1 75 1-99 1 21 1 43 1-39 1-20 1 12 1 55 1-57 1 35 1-81 1 23 1-18 1 71 1-85 1-9 1 91 1 34 1 49 1-158 1 8 1 110 1-38 1-44 1 25 1 37 1-17 1-107 1 76 1 13 1 30 1-8 1-51 1 20 1-43 1-18 1 53 1-61 1-17 1 35 1 81 1-20 1-13 1 77 1-36 1-34 1 72 1-46 1-52 1 53 1 0 1 40 1-15 1 15 1-20 1-15 1 4 1 2 1-10 1-38 1 29 1 47 1-73 1 104 1-41 1-27 1-58 1 52 1-12 1 42 1 24 1-16 1-5 1 0 1 32 1-44 1 1 1-45 1 35 1 26 1-91 1 157 1-87 1 34 1-108 1 105 1-50 1 51 1-39 1 8 1-21 1 130 1-81 1-22 1-15 1 62 1 74 1-72 1-33 1 34 1-28 1 20 1-26 1 86 1 34 1-108 1-21 1 46 1-2 1 37 1-63 1 11 1 14 1-8 1 15 1 5 1-7 1-87 1 92 1-15 1-99 1 86 1-23 1 21 1-37 1 82 1-12 1 8 1-32 1-3 1-2 1 29 1-61 1 28 1-88 1 73 1-43 1 70 1-44 1-50 1 47 1-35 1 57 1-59 1-4 1 8 1-41 1 48 1-4 1 8 1 40 1-80 1 42 1 58 1-56 1 4 1 23 1 35 1-39 1 47 1-64 1 80 1-54 1 31 1 23 1-53 1 76 1-44 1-24 1 66 1-15 1 38 1-66 1-29 1 55 1-47 1 74 1-18 1-66 1 59 1-19 1-20 1 23 1 4 1 33 1-17 1 63 1 32 1-32 1-43 1 33 1 4 1-29 1 20 1 47 1-53 1 53 1-22 1-6 1 21 1 31 1-24 1-15 1 14 1-7 1 31 1 18 1 7 1 20 1-23 1-70 1 65 1-43 1 27 1 1 1 24 1-2 1-6 1 23 1-34 1 20 1 38 1 30 1-53 1 52 1-25 1 23 1-57 1 27 1 34 1-57 1 25 1-18"/>
<path vector-effect="non-scaling-stroke" d="M0 280l1 26 1 3 1 60 1-54 1-60 1 45 1-45 1 101 1-66 1-49 1-23 1 61 1-64 1-11 1 46 1-37 1 29 1 14 1 64 1-11 1-3 1-77 1 52 1-50 1 14 1-3 1-25 1-38 1 109 1-28 1-19 1 49 1-34 1 39 1-51 1 43 1-120 1 182 1-52 1-51 1-21 1-39 1 80 1-7 1 18 1 2 1 19 1-86 1-8 1 117 1-32 1 52 1-107 1 37 1-41 1 157 1-193 1 34 1 64 1 33 1-137 1 38 1-62 1 130 1-15 1-42 1-36 1 47 1-11 1 24 1-59 1 88 1-97 1 18 1 18 1 46 1-33 1 78 1-20 1-71 1 68 1-90 1-13 1 139 1-30 1 46 1-75 1-3 1 2 1 116 1-41 1-88 1 33 1 5 1-16 1 106 1-42 1 35 1-24 1-76 1 50 1-9 1 89 1-24 1-41 1 103 1 34 1-148 1-30 1 90 1 2 1-102 1 28 1 9 1 66 1-13 1-63 1 22 1-3 1 55 1 94 1-28 1-32 1-90 1 99 1-73 1 7 1 78 1-62 1 35 1-13 1-69 1 19 1 12 1-34 1-62 1 101 1-78 1-7 1 12 1 55 1-32 1 62 1-137 1 43 1 13 1-9 1-40 1 15 1 20 1 1 1 16 1 4 1-26 1-18 1 116 1 8 1-44 1 34 1-3 1 6 1-43 1 22 1-17 1-25 1 14 1 47 1-3 1 14 1-5 1-1 1-1 1-39 1 12 1 89 1-59 1 31 1-49 1 13 1 53 1-25 1 6 1 17 1-28 1-24 1 8 1 7 1 3 1-9 1 36 1 32 1 54 1-60 1 26 1 4 1 4 1-23 1 45 1-19 1 49 1-19 1-31 1 68 1-50 1-11 1 96 1-25 1 10 1-32 1-2 1-14 1 10 1 7 1-24 1 67 1-60 1 43 1-52 1 32 1-17 1 9 1 6 1-6 1 23 1-3 1-15 1 32 1-3 1 23 1-25 1-18 1 19 1 17 1-2 1 26 1 20"/>
<path vector-effect="non-scaling-stroke" d="M0 286l1 86 1-51 1 55 1-43 1-13 1-49 1 16 1 14 1-10 1 36 1-23 1 42 1-49 1 1 1 47 1-20 1 25 1-15 1-41 1 39 1 15 1-19 1 67 1-149 1 100 1-10 1 36 1-63 1 15 1-33 1-33 1 16 1 105 1-111 1 78 1-85 1 102 1-4 1-10 1-30 1 26 1 11 1-29 1-76 1 113 1-20 1-6 1-14 1-134 1 141 1-15 1 43 1-12 1-41 1 51 1-37 1 9 1-11 1 30 1-6 1-8 1 48 1-19 1-24 1-45 1-6 1 7 1-4 1-38 1-9 1 73 1-20 1 1 1-75 1 1 1 81 1 30 1 9 1-23 1 2 1-84 1 100 1-8 1-118 1 142 1-2 1-73 1-31 1 111 1-53 1-44 1 19 1 50 1-37 1 97 1-97 1 64 1 23 1-51 1 13 1-53 1 75 1-47 1-30 1 29 1 51 1-53 1-55 1 23 1 83 1-60 1-38 1 47 1-6 1 1 1-42 1 37 1-1 1-8 1 9 1 6 1 7 1-61 1 18 1 88 1-50 1-22 1 75 1 60 1 1 1-101 1 6 1-54 1 80 1-7 1-69 1-38 1 17 1 35 1-80 1 105 1-40 1-27 1 20 1-35 1 64 1-40 1 37 1 42 1-57 1 19 1-83 1 114 1-1 1 7 1-34 1 1 1-66 1 89 1-26 1 31 1 0 1 6 1-38 1 64 1 0 1-28 1-30 1 30 1-27 1 51 1-18 1 62 1-26 1-42 1 10 1-2 1-14 1 41 1-41 1-43 1 55 1-44 1 59 1 23 1-19 1-24 1 48 1 38 1-20 1-36 1 22 1 34 1 2 1 12 1-21 1-61 1 74 1 50 1-10 1-65 1 32 1-1 1 58 1-24 1-41 1 24 1 57 1-14 1-7 1-31 1 6 1 107 1-68 1-12 1 17 1 76 1-16 1-21 1-24 1 40 1 14 1-35 1-10 1 18 1 6 1-27 1-31 1 92 1-27 1-36 1 40 1 11 1 7 1-34 1 4"/>
</g>
<use href="#m0gray" transform="translate(1.7 -12)"/>
<use href="#m0gray" transform="translate(0.85 14)"/>
<g transform="matrix(3.3745 0 0 1 100.5 0)" fill="none" stroke="#ffb000" stroke-width="1.0" stroke-opacity="0.1" stroke-linejoin="round" id="m0orange">
<path vector-effect="non-scaling-stroke" d="M0 283l1-35 1 52 1 21 1 34 1-25 1-20 1-20 1 14 1 72 1-6 1-30 1-53 1 42 1 16 1-54 1 47 1 3 1-17 1-24 1 54 1-52 1 33 1 7 1-43 1 34 1 18 1-23 1-30 1 19 1-18 1-10 1 14 1-4 1-8 1 0 1-15 1 47 1-26 1 41 1-28 1 2 1-21 1 40 1-72 1 45 1 10 1-41 1 10 1 7 1 73 1-29 1-18 1 42 1-8 1-35 1-22 1-36 1 16 1 23 1 7 1 29 1-42 1 49 1-45 1 22 1-31 1 35 1-53 1 50 1 24 1-69 1 42 1-17 1 18 1-7 1 42 1 34 1-34 1-12 1-97 1 69 1 33 1-28 1 35 1-4 1-15 1-6 1 16 1-2 1-39 1 24 1-55 1 57 1 10 1-18 1-15 1 8 1 6 1-30 1 68 1-58 1-7 1-25 1 36 1-26 1 24 1-9 1-54 1 40 1 23 1-3 1-17 1-48 1 17 1 77 1-32 1 16 1-104 1 70 1 13 1-12 1 18 1 11 1-8 1-43 1-14 1 37 1-42 1 42 1 40 1-56 1 50 1-3 1-23 1 16 1-29 1 34 1 23 1-36 1 18 1 2 1 38 1 18 1-51 1-14 1 38 1-12 1 12 1 15 1-31 1 14 1-51 1 28 1 0 1 11 1-11 1-8 1-39 1 44 1 7 1-25 1 6 1-21 1-10 1 1 1-24 1 20 1-37 1 53 1 27 1-13 1-19 1-12 1-33 1 36 1 38 1-21 1-45 1 3 1 43 1-37 1-9 1 58 1-68 1 37 1 17 1 16 1-63 1 35 1 44 1-78 1 27 1 8 1-7 1-4 1 14 1-25 1-6 1-18 1 44 1 6 1-48 1 48 1-44 1 22 1 0 1-1 1 1 1 47 1-55 1-2 1 43 1 13 1-70 1 38 1-19 1-5 1-13 1-2 1 10 1-10 1 16 1 21 1-52 1-7 1-1 1 64 1-59 1-53 1 27 1-18 1 15 1 5 1-26 1-2 1-14"/>
<path vector-effect="non-scaling-stroke" d="M0 326l1-5 1 45 1-9 1-23 1 17 1-13 1-11 1 30 1 2 1-24 1 2 1-40 1 20 1-10 1 58 1 3 1-69 1 38 1 22 1-21 1-50 1 12 1 27 1 2 1-8 1 0 1-7 1 14 1-34 1 22 1-18 1 25 1-77 1 83 1-30 1 33 1-68 1 59 1-34 1 19 1-15 1-40 1 96 1-38 1-21 1 33 1-67 1 34 1 37 1-48 1 22 1 31 1-35 1 7 1-5 1 19 1 6 1-26 1 56 1-55 1-10 1 15 1 30 1-18 1 13 1-78 1 75 1 0 1-41 1 17 1 52 1 10 1-67 1-16 1 41 1 7 1-23 1-9 1-34 1 65 1-16 1-47 1 27 1 22 1-17 1 56 1-49 1-2 1 40 1-15 1 11 1-20 1-28 1 38 1-69 1 40 1-24 1 15 1 2 1 18 1-77 1 73 1 27 1 9 1-54 1 46 1-49 1 19 1 10 1-42 1 19 1-28 1 56 1-21 1 64 1-77 1 3 1 50 1-41 1 3 1-52 1 56 1-46 1 36 1-39 1 57 1-14 1-59 1 22 1 36 1-36 1 34 1-7 1-15 1 32 1 18 1 13 1-34 1 32 1-32 1 30 1-44 1 50 1-21 1-21 1 67 1 10 1-68 1 31 1 14 1-17 1-15 1-3 1 3 1-9 1 48 1-74 1 24 1 13 1-30 1 35 1-32 1 41 1-72 1 98 1-36 1 11 1-24 1-40 1 2 1-17 1-16 1 56 1-24 1 11 1 35 1-66 1 47 1-45 1 16 1-12 1 18 1-32 1 44 1-21 1 33 1-6 1-4 1 24 1-25 1-15 1-2 1 40 1-55 1 3 1 28 1 1 1-2 1-37 1 10 1-20 1-6 1 13 1 35 1-16 1-38 1 39 1-2 1 26 1-28 1-11 1 21 1-24 1-51 1-6 1 58 1 11 1-7 1 0 1 7 1-17 1-36 1 3 1-4 1-7 1-2 1 6 1 34 1 21 1-31 1-40 1 2 1 18 1-8 1-2 1 3"/>
<path vector-effect="non-scaling-stroke" d="M0 334l1 14 1-5 1-34 1-8 1 52 1-59 1 67 1-7 1-39 1 16 1 6 1 0 1 16 1-36 1 49 1-23 1 0 1 31 1-12 1-59 1 25 1-11 1 54 1-32 1 11 1 9 1 21 1-44 1 8 1 20 1-35 1 46 1-22 1-9 1 38 1-37 1 49 1-58 1 13 1 0 1-27 1 7 1 24 1-72 1 46 1 50 1-61 1 16 1-16 1 35 1 29 1-102 1 10 1 38 1 32 1-102 1 48 1 9 1 0 1 43 1-38 1 25 1-56 1 41 1-21 1 63 1-30 1-29 1 22 1-9 1-2 1 18 1 3 1-37 1-8 1 60 1 0 1-8 1 22 1-29 1 4 1 45 1-72 1 68 1-22 1-1 1-24 1 32 1-16 1-38 1 16 1-7 1 25 1-14 1-9 1-27 1 43 1-23 1-11 1-38 1 50 1-23 1-30 1 38 1-29 1 36 1-37 1 54 1-25 1-49 1 47 1-86 1 58 1 35 1-37 1 18 1 17 1-3 1 25 1-57 1 12 1 16 1 11 1-50 1 0 1-6 1 37 1 17 1-23 1 8 1 24 1-59 1 31 1-20 1 75 1-20 1 27 1-84 1 17 1 19 1 23 1 2 1 15 1-7 1-40 1 10 1-2 1 52 1-3 1-7 1-20 1 8 1 4 1 48 1-35 1-39 1 8 1-40 1 70 1-52 1 34 1-36 1 42 1-12 1-16 1-16 1 70 1-42 1-5 1-12 1-1 1 8 1-17 1 21 1-23 1 23 1-9 1 14 1-6 1-16 1-2 1 0 1 0 1-43 1 46 1-15 1 23 1-19 1-24 1-15 1 29 1-13 1 0 1 2 1 26 1-14 1-9 1 1 1-1 1 21 1-53 1 22 1-8 1 20 1-42 1 24 1-1 1 6 1-25 1 37 1 31 1-78 1 34 1-14 1 11 1-31 1 19 1 5 1 0 1-53 1 37 1 24 1-2 1-41 1-16 1 55 1-52 1-6 1 12 1-20 1-15 1 28 1-17 1-12 1 13 1-8"/>
<path vector-effect="non-scaling-stroke" d="M0 332l1-23 1 45 1-19 1-4 1-30 1 60 1 6 1-40 1 23 1-23 1 3 1 30 1-32 1 9 1 11 1-41 1 47 1-65 1 19 1 49 1-9 1-26 1-4 1 5 1-18 1 17 1 19 1-12 1-36 1 4 1-20 1 89 1-2 1-3 1-45 1 68 1-96 1 87 1-3 1-51 1 31 1-41 1 20 1-10 1 37 1 21 1 12 1-104 1 53 1-27 1 20 1-50 1-19 1 21 1 70 1-78 1 66 1-20 1 19 1-32 1 50 1-26 1 5 1 8 1-12 1-30 1 35 1 16 1-10 1-19 1 14 1-19 1 45 1-28 1 21 1 0 1 5 1-10 1 5 1-41 1 44 1-18 1-3 1-6 1 42 1-62 1 54 1 33 1-73 1-16 1-33 1 57 1-9 1-35 1 7 1-30 1 67 1-65 1 33 1 11 1 11 1-22 1-6 1 23 1-32 1-6 1-24 1 43 1-18 1 36 1 12 1-34 1 25 1-5 1-6 1 41 1-39 1 22 1-39 1 51 1-43 1-12 1 11 1 4 1 23 1-35 1 59 1-34 1 23 1-52 1 36 1-23 1 42 1-32 1 6 1 24 1 6 1-2 1 2 1 23 1 10 1 15 1-37 1-25 1 60 1-52 1 26 1-23 1 7 1-34 1-29 1 52 1 5 1-13 1 6 1-5 1-10 1 16 1-10 1-19 1 32 1-3 1-27 1-17 1 38 1 2 1 20 1-42 1 27 1 7 1-33 1 46 1 8 1-53 1 25 1-35 1 27 1-93 1 57 1 50 1-8 1-2 1 54 1-82 1-16 1-66 1 73 1 2 1 68 1-49 1-24 1 23 1 5 1-16 1 25 1-44 1 10 1 1 1-44 1 23 1-22 1 28 1-14 1-69 1 69 1-5 1-9 1-35 1 64 1-54 1 15 1-31 1 28 1-36 1 5 1 20 1-18 1-5 1 31 1-51 1 65 1 12 1-41 1 16 1-44 1 14 1 8 1-27 1-26 1 69 1-72 1 32 1-25 1 0 1 23 1-30"/>
<path vector-effect="non-scaling-stroke" d="M0 302l1-11 1 99 1-77 1 6 1-18 1 26 1-6 1 16 1-22 1-33 1 6 1 64 1-4 1-16 1 21 1 23 1-65 1 50 1 12 1-18 1-50 1 22 1-22 1-25 1 12 1 5 1 4 1 9 1-36 1-21 1 28 1 55 1-30 1 12 1-26 1-3 1 14 1 11 1 5 1 39 1-21 1-20 1-66 1 31 1 0 1-30 1 35 1-14 1 8 1 6 1-30 1 28 1-28 1 23 1 9 1 51 1-93 1 75 1-30 1-21 1 18 1-7 1 47 1-7 1 2 1 12 1-47 1-17 1 65 1-18 1-19 1 56 1 25 1-15 1-45 1 72 1-10 1-76 1 37 1-14 1-32 1 45 1 5 1-58 1-45 1 50 1 10 1-10 1 16 1 48 1-26 1-29 1-17 1 23 1-1 1 9 1 21 1-60 1 39 1 22 1-20 1 0 1-28 1 7 1 63 1-45 1 5 1-13 1-46 1 45 1 0 1-15 1 49 1-17 1-57 1 24 1-15 1 20 1-63 1 73 1-2 1-29 1 72 1-23 1-12 1-3 1-10 1-11 1 3 1 30 1-42 1 7 1 63 1-44 1 29 1-25 1 25 1-11 1 2 1 15 1 13 1-15 1 44 1-29 1-15 1 18 1 11 1 12 1-41 1-29 1-5 1-3 1 67 1-71 1 81 1-35 1 10 1-62 1 26 1 32 1-53 1 62 1-25 1-14 1 38 1-36 1 7 1-3 1-46 1 41 1 18 1-6 1 10 1-35 1-35 1 65 1-80 1 51 1-69 1 52 1 56 1-85 1 69 1-45 1-17 1 13 1-4 1 20 1 2 1-14 1-9 1-11 1 46 1-11 1-28 1 16 1-6 1 23 1-43 1-7 1 0 1-12 1-22 1-11 1 48 1-9 1-2 1-4 1-18 1 6 1-9 1-2 1 5 1 35 1-41 1 23 1 4 1-21 1-13 1 20 1 0 1 28 1-48 1 18 1-6 1 7 1-79 1 48 1-4 1-15 1-54 1 17 1 2 1 16 1-32 1 31"/>
<path vector-effect="non-scaling-stroke" d="M0 339l1-45 1 32 1-12 1-61 1 65 1-7 1-4 1-2 1-32 1 69 1-2 1-27 1 7 1-27 1 67 1-22 1 6 1-9 1 11 1 5 1 5 1-38 1-25 1-17 1 48 1-17 1 46 1-45 1-52 1 57 1-27 1 34 1-40 1 34 1-6 1-12 1-16 1 45 1-38 1-29 1 17 1 14 1 10 1-9 1 15 1 1 1-4 1-10 1 16 1 24 1-30 1 4 1-1 1 20 1-44 1 10 1 27 1-38 1 55 1-25 1-7 1-5 1-21 1 28 1-26 1 18 1 0 1 34 1-9 1 25 1-44 1 29 1-1 1 14 1-15 1 22 1-30 1 31 1 22 1-15 1-26 1-4 1 10 1-34 1-14 1 11 1 3 1-5 1 53 1 22 1-61 1-42 1 37 1-6 1-35 1 47 1-10 1-24 1 5 1 48 1-51 1 18 1-11 1-16 1 14 1 35 1 19 1-53 1 4 1-1 1 10 1 9 1 12 1-21 1-50 1 89 1-26 1-18 1 10 1 1 1 5 1-59 1 90 1-53 1 38 1-16 1-30 1 15 1 24 1 7 1-7 1-21 1 28 1 29 1-15 1-59 1 64 1-11 1 36 1-49 1-15 1 33 1 46 1-14 1-10 1 47 1-84 1-4 1-16 1 35 1-20 1-16 1 51 1-17 1 30 1-7 1-55 1 18 1-21 1-30 1 94 1-53 1-16 1 33 1-37 1 11 1 23 1-43 1 20 1-4 1-38 1 46 1-11 1 2 1 26 1-55 1 2 1-1 1 8 1 8 1 6 1-11 1 6 1 32 1-62 1 15 1 56 1-72 1 10 1-8 1 33 1-16 1-33 1-19 1 51 1-24 1-27 1 45 1-58 1 5 1 34 1-55 1 62 1-6 1-77 1 34 1 15 1-8 1 3 1-56 1 67 1-51 1 4 1 7 1 18 1-29 1 5 1-32 1-4 1 41 1-27 1-7 1 39 1-10 1 7 1 10 1-8 1 18 1-15 1-39 1-1 1-1 1-21 1 7 1-31 1 28"/>
<path vector-effect="non-scaling-stroke" d="M0 360l1-40 1-5 1-7 1 9 1 31 1-57 1 103 1-48 1 50 1-74 1-16 1 13 1 34 1 18 1-8 1 41 1-70 1-27 1 22 1-15 1 27 1-7 1-13 1 3 1 10 1-37 1 54 1-57 1 41 1-64 1 59 1 10 1 21 1-55 1 20 1-8 1 57 1-44 1 6 1-7 1-12 1 47 1-40 1-12 1 45 1-45 1 13 1-52 1 18 1 55 1-18 1-13 1-28 1 26 1 6 1 2 1-9 1-9 1 44 1-34 1 6 1-82 1 80 1-4 1-9 1 46 1-42 1 33 1-5 1 3 1-36 1 36 1 19 1-15 1 24 1-70 1-19 1 55 1 4 1-28 1 17 1-26 1 9 1 10 1-15 1 43 1-22 1-28 1-19 1 56 1-74 1 24 1 22 1-50 1 34 1 39 1-15 1-33 1 22 1-1 1 27 1-53 1-11 1 17 1 2 1-72 1 2 1 31 1-13 1 23 1 30 1-69 1 36 1 5 1-14 1 61 1-20 1-51 1 67 1-28 1 27 1-33 1 30 1 15 1-73 1 32 1 5 1-14 1 16 1 16 1-17 1 10 1-11 1 14 1 5 1 1 1 14 1 17 1 12 1-26 1-22 1-12 1 28 1 7 1 73 1-77 1-45 1 40 1-24 1 9 1-3 1 18 1 27 1-4 1-20 1 35 1-30 1 0 1-110 1 55 1 12 1 4 1-11 1 3 1-12 1 39 1-40 1 6 1 20 1 44 1-23 1-42 1 43 1 5 1 28 1-65 1 48 1-26 1-36 1 90 1-12 1-15 1-40 1 50 1-15 1-13 1-2 1-10 1 19 1-4 1-50 1 6 1-24 1 23 1-30 1 45 1-52 1 20 1-13 1-15 1-7 1 69 1-78 1 28 1-24 1 23 1-36 1 64 1-1 1-10 1 15 1 7 1-69 1 59 1-42 1-1 1 19 1 5 1-31 1-7 1 15 1-14 1 22 1-15 1 33 1 15 1-63 1-7 1 7 1-1 1 36 1-1 1 2 1-37 1-2 1-19"/>
<path vector-effect="non-scaling-stroke" d="M0 330l1-13 1-64 1 59 1 46 1-35 1-37 1 54 1 9 1-45 1 36 1-58 1 102 1-41 1-58 1 34 1-3 1-16 1 69 1-16 1-18 1 17 1-50 1 4 1 37 1-13 1-9 1-14 1 17 1-23 1-17 1-12 1 62 1 21 1-41 1 35 1-23 1-19 1 48 1-38 1-2 1 10 1-5 1-34 1 17 1-2 1 29 1 11 1 23 1-31 1-51 1 9 1 38 1 42 1-54 1 22 1-24 1 19 1-16 1 33 1-18 1 22 1-40 1 44 1-7 1 2 1-24 1 24 1-7 1-10 1 21 1-35 1 61 1-83 1 48 1 19 1-29 1 18 1-21 1 29 1-2 1-62 1-10 1 43 1-37 1 35 1 9 1-55 1 47 1-16 1 22 1-41 1 31 1-12 1-51 1 29 1 49 1-19 1 0 1-3 1-19 1-32 1 44 1-44 1-34 1 54 1 25 1-26 1-31 1-36 1 65 1 27 1-48 1 26 1-40 1 10 1 37 1-12 1-29 1-4 1 23 1-9 1-10 1 12 1 28 1-34 1 45 1-26 1 1 1-49 1 22 1 23 1-19 1 54 1 9 1 5 1-31 1-30 1-20 1 84 1-35 1-24 1 42 1 57 1-44 1-3 1 22 1-18 1-15 1 19 1-50 1-23 1 34 1 61 1-22 1-74 1 66 1-62 1 43 1 18 1-42 1 37 1-48 1 82 1 4 1-29 1-48 1 21 1-8 1 13 1 5 1-14 1 34 1 50 1-24 1-17 1-40 1 28 1-53 1 24 1 77 1-29 1 8 1-56 1 4 1 7 1 35 1-13 1-2 1-8 1-10 1 37 1-44 1 18 1 29 1-11 1-19 1 28 1-62 1 42 1-9 1 20 1-44 1-24 1 35 1-47 1 17 1-8 1 32 1-22 1-40 1 14 1-10 1-17 1 40 1-26 1 37 1-23 1-21 1-6 1-10 1 8 1-4 1 9 1-6 1-4 1-39 1 26 1 6 1 38 1-41 1-32 1 3 1 9 1 39 1-46 1 30"/>
<path vector-effect="non-scaling-stroke" d="M0 253l1 48 1 20 1 13 1-33 1-5 1-10 1 53 1 31 1-52 1 19 1 19 1-47 1 36 1 7 1-16 1-10 1-21 1 32 1-17 1 12 1 3 1-28 1 43 1-76 1 15 1 9 1 17 1-30 1 53 1-20 1 14 1-44 1 24 1 24 1 2 1 13 1-15 1-15 1-78 1 103 1-16 1-3 1 13 1-32 1 26 1 1 1-3 1-49 1 35 1 6 1-6 1 6 1-2 1-17 1 88 1-88 1-3 1 47 1-3 1 6 1-4 1-64 1 14 1 70 1-17 1-34 1 28 1-31 1 10 1 25 1 20 1 11 1-88 1 74 1 2 1-24 1 22 1-6 1-3 1-59 1 74 1-45 1-16 1 13 1 36 1-12 1-8 1 3 1 19 1 33 1-47 1-34 1 7 1 17 1-43 1 10 1 11 1 40 1-33 1-46 1 9 1 55 1-78 1-13 1 17 1 45 1 7 1-38 1 27 1 10 1 1 1-22 1 38 1-10 1 37 1-40 1 22 1 22 1-33 1-3 1-6 1 30 1-60 1 28 1 20 1 10 1 32 1-12 1-28 1-28 1-34 1 80 1-89 1 113 1-68 1 48 1-1 1 3 1-13 1-12 1 1 1-43 1 21 1 10 1 34 1 5 1-54 1 70 1-16 1-19 1-5 1 32 1-29 1-2 1-25 1 22 1 39 1-79 1 14 1 26 1 4 1 9 1-37 1 19 1-7 1-28 1 81 1-25 1-31 1 3 1-27 1 39 1-14 1 5 1-32 1-3 1 19 1 24 1-27 1 32 1-23 1-12 1 56 1-42 1-10 1-9 1 0 1-12 1-33 1 22 1 3 1 41 1-49 1 15 1-13 1-1 1-1 1 42 1-81 1 55 1-29 1-41 1 83 1-39 1 39 1-59 1 11 1 20 1-2 1-91 1 26 1 72 1 0 1-41 1 6 1-43 1 39 1-9 1-2 1 8 1-27 1 21 1-26 1 17 1-22 1 34 1-49 1 20 1 35 1-28 1-20 1 51 1 16 1-28 1-27 1-2"/>
<path vector-effect="non-scaling-stroke" d="M0 343l1-29 1 22 1-24 1 40 1-64 1 9 1 23 1-3 1-18 1 36 1 12 1 19 1 30 1-63 1-56 1 67 1-44 1 13 1-11 1-3 1 32 1 20 1-8 1-20 1 30 1 7 1-13 1-53 1 38 1-47 1 63 1-66 1 54 1 8 1 7 1 18 1-64 1-38 1 61 1 27 1-50 1 22 1 11 1 10 1-81 1 55 1 12 1-41 1 75 1-38 1-37 1 40 1-37 1 12 1-30 1 11 1-36 1 2 1 34 1-28 1 10 1 45 1 30 1-43 1-4 1-25 1 54 1-95 1 13 1 30 1 61 1-33 1 15 1-12 1 8 1-30 1 45 1-84 1 45 1 31 1-56 1 86 1 3 1-37 1-29 1 46 1-8 1-19 1 12 1-13 1 15 1-29 1-27 1 18 1-30 1 0 1 55 1 2 1-19 1 38 1-50 1 33 1-65 1 70 1-66 1 67 1-17 1 64 1-66 1-5 1-53 1 16 1 15 1-2 1-12 1 23 1 4 1-57 1 83 1 21 1-30 1-55 1 24 1 23 1-38 1 16 1-27 1 84 1-97 1 62 1-28 1 30 1-9 1-7 1 45 1-46 1 19 1 16 1-13 1-40 1 42 1 67 1-30 1 12 1-17 1 40 1-77 1 68 1-8 1-4 1-37 1 30 1-12 1 1 1 16 1-40 1 16 1-13 1 24 1 29 1-7 1-49 1 33 1 9 1-47 1 47 1-15 1 2 1-49 1 59 1 16 1-58 1 21 1-10 1 3 1-28 1 39 1-23 1 28 1 8 1-13 1-26 1 27 1 9 1 12 1 10 1-71 1 9 1 7 1 9 1-55 1 12 1 20 1-43 1-30 1 72 1-11 1 19 1-29 1-28 1-5 1 31 1-46 1 42 1 35 1-40 1-20 1-2 1-36 1 54 1-30 1 18 1 31 1-58 1 8 1 22 1-77 1 52 1-16 1-37 1 2 1 20 1-34 1 25 1-19 1 15 1-4 1-50 1 19 1 25 1-38 1 0 1-3 1 42 1-21 1-1"/>
<path vector-effect="non-scaling-stroke" d="M0 329l1-5 1-16 1 29 1 50 1-48 1-14 1-5 1 25 1-16 1-3 1-19 1 51 1-16 1-21 1 6 1 65 1-91 1 34 1-12 1-34 1 52 1-91 1 47 1 22 1 17 1-61 1-37 1 75 1-30 1-42 1 45 1 27 1-1 1-6 1-48 1 47 1 6 1 47 1-46 1-4 1 9 1-19 1-1 1 1 1-2 1-36 1 56 1-27 1 10 1-56 1 69 1-44 1-13 1 92 1-68 1 28 1-7 1 10 1 3 1-14 1-23 1 38 1 1 1-19 1 60 1-83 1 11 1 15 1 23 1-20 1 8 1-3 1 13 1 7 1-20 1 67 1-45 1 8 1-47 1 63 1-2 1-4 1-17 1-1 1-7 1-25 1 52 1-56 1-27 1 31 1-25 1 45 1 16 1-72 1-11 1 87 1-60 1 2 1 38 1-12 1-35 1 14 1 7 1-30 1 21 1 19 1-29 1 11 1-4 1-29 1 27 1-40 1 53 1-18 1-19 1 17 1-33 1 30 1 18 1 12 1-8 1-26 1 36 1-7 1 16 1-73 1 92 1-49 1 14 1 9 1-26 1 60 1 9 1-33 1 0 1-7 1 17 1 18 1 30 1-4 1-39 1 31 1-40 1 32 1-6 1 6 1-10 1-8 1-1 1 21 1-21 1 27 1-51 1 36 1 26 1-30 1-19 1 23 1 35 1-18 1 7 1 24 1-42 1-6 1 23 1-33 1 13 1-22 1 37 1-69 1 43 1-26 1 25 1 16 1-41 1 13 1 20 1 13 1-57 1 24 1 11 1-27 1-25 1 62 1 7 1-24 1-6 1-9 1-29 1 0 1 40 1 32 1-2 1-43 1 29 1-33 1 53 1-51 1-7 1 45 1-45 1 37 1 4 1 2 1 27 1-43 1 5 1 2 1-31 1 14 1 16 1-46 1 8 1 20 1-45 1 4 1 58 1-40 1 7 1 7 1-15 1-3 1-45 1 21 1-40 1 19 1 64 1-64 1 27 1-22 1-11 1 12 1-4 1-51 1 24 1-18"/>
<path vector-effect="non-scaling-stroke" d="M0 333l1 2 1-9 1 56 1-119 1 92 1-21 1-10 1 17 1-16 1 8 1-24 1 11 1 79 1-4 1-49 1 14 1-56 1 78 1-67 1 25 1 37 1-64 1 35 1-44 1 28 1-17 1 29 1-6 1-19 1-3 1 27 1 5 1-74 1 85 1-70 1 63 1-19 1-6 1 25 1-33 1 9 1 6 1-39 1 37 1 23 1-37 1 4 1 6 1 4 1-22 1 18 1 41 1-68 1 5 1-14 1 27 1 28 1 22 1-70 1-9 1 4 1 25 1 27 1-48 1 35 1-8 1-22 1 20 1 14 1 0 1-13 1 2 1-50 1 10 1 54 1-3 1 16 1 5 1-41 1 30 1-53 1 22 1 7 1 22 1-68 1 69 1-63 1 30 1 5 1 78 1-108 1 35 1 15 1-32 1-38 1 28 1 1 1-6 1 9 1-57 1-23 1 96 1-90 1 62 1-3 1-13 1-5 1 8 1 7 1-13 1 21 1 47 1-40 1 37 1-18 1 19 1-19 1 18 1-15 1-41 1 11 1 55 1-66 1 62 1-66 1 30 1 51 1-39 1-28 1-40 1 68 1-14 1 39 1-57 1 24 1 18 1 13 1-78 1 83 1-3 1-37 1 24 1-34 1-5 1 73 1-54 1 44 1-26 1 16 1-19 1 45 1-80 1 50 1 27 1-75 1-15 1 69 1-25 1-13 1 40 1-26 1 17 1-39 1-7 1 24 1-32 1 44 1-28 1-10 1-11 1-21 1 57 1-26 1 11 1 8 1 24 1-23 1-17 1 3 1 9 1-25 1 46 1-39 1-12 1 16 1-1 1 2 1-47 1 53 1 7 1-26 1 17 1 3 1-66 1 80 1-11 1-14 1 11 1 11 1-17 1-18 1-2 1-17 1 51 1-54 1 29 1-36 1-17 1 10 1-2 1 23 1 3 1-54 1-7 1 49 1-23 1-4 1 9 1 7 1 23 1-20 1 19 1 22 1-26 1 7 1 6 1-47 1 32 1-10 1-18 1 5 1 31 1-29 1 8 1 17 1-13"/>
<path vector-effect="non-scaling-stroke" d="M0 294l1 13 1-26 1-32 1 84 1-43 1-33 1 45 1-5 1 10 1-29 1 10 1-6 1 38 1-35 1 3 1 12 1 30 1-31 1 34 1-20 1-16 1 0 1 5 1-8 1 40 1 67 1-79 1-18 1 72 1-33 1-36 1-6 1 22 1-24 1-7 1 67 1-39 1 39 1-99 1 70 1 45 1-21 1 2 1 1 1-38 1 45 1-54 1 34 1-50 1-26 1 53 1-11 1 12 1-12 1 0 1-50 1 90 1 15 1-52 1-44 1 41 1 35 1-29 1-59 1 67 1-21 1 27 1-8 1-6 1 32 1-26 1-29 1 24 1 56 1-42 1-11 1-66 1 59 1 8 1 35 1-51 1 41 1 16 1-61 1 20 1 51 1-37 1-28 1 17 1 69 1-76 1-50 1 47 1-7 1-4 1 24 1 28 1 0 1 3 1-31 1-29 1-4 1-12 1 62 1-52 1 38 1-3 1 23 1-33 1 17 1 18 1 33 1-51 1 11 1-8 1-36 1 55 1 3 1-55 1 52 1-68 1 44 1-26 1 30 1-44 1 95 1-77 1 48 1 6 1-49 1 14 1 32 1-33 1 9 1-35 1 20 1 5 1 38 1-2 1-36 1 7 1 14 1 12 1-18 1-12 1 37 1-4 1-13 1-14 1 10 1 18 1-25 1-16 1-28 1 54 1 20 1 44 1-73 1-2 1 1 1-20 1-57 1 84 1-14 1-5 1 38 1 26 1-83 1 30 1 1 1 22 1-46 1 5 1 1 1 11 1 30 1-64 1 1 1 87 1-68 1-17 1 43 1-19 1-13 1 6 1 15 1-28 1 10 1-7 1-36 1 58 1 13 1-39 1 4 1 2 1-42 1 27 1-33 1 16 1 7 1-78 1 13 1 4 1 14 1 37 1-64 1 33 1 21 1-15 1 24 1-38 1-11 1 5 1 13 1-38 1 30 1 17 1-19 1-48 1 38 1 24 1-20 1-40 1 0 1 18 1-7 1 4 1 21 1-29 1-9 1-9 1-36 1-5 1 26 1-5 1-7"/>
<path vector-effect="non-scaling-stroke" d="M0 302l1 44 1 29 1-53 1-37 1 7 1 32 1-24 1 47 1-25 1-13 1 6 1 58 1-110 1 68 1 12 1 36 1-40 1-35 1 26 1-1 1 7 1-29 1 41 1-32 1 17 1 35 1-76 1 11 1-2 1 84 1-45 1 4 1 22 1 3 1-22 1-48 1 31 1 4 1 7 1-13 1-4 1-53 1 45 1-18 1 40 1-26 1 11 1 10 1 2 1 8 1-44 1 14 1 16 1 5 1-44 1 19 1 63 1-99 1-15 1 38 1 40 1 16 1-30 1-10 1-28 1 52 1 27 1-12 1-9 1-25 1 49 1 7 1-58 1 2 1 35 1-49 1 57 1-20 1-20 1 38 1-58 1 25 1-3 1-14 1 36 1-57 1 5 1 26 1-34 1 44 1 8 1-68 1 42 1-40 1 9 1 9 1 9 1-11 1 11 1 13 1-35 1 2 1 3 1 15 1 28 1-2 1 48 1-35 1-71 1 17 1-20 1-6 1 10 1 31 1 8 1-37 1 18 1 46 1-83 1 44 1-42 1 12 1 48 1 10 1-42 1 37 1-73 1 68 1-76 1 69 1 14 1-8 1 33 1-25 1 34 1-5 1 0 1-48 1 78 1-41 1 49 1-60 1 18 1 13 1 3 1-25 1-24 1 47 1-29 1 46 1-24 1-41 1 52 1 16 1-15 1-33 1-40 1 49 1-2 1-18 1-24 1 23 1-39 1 63 1-51 1-19 1 47 1-21 1 21 1-14 1-19 1 35 1-18 1-5 1 27 1 15 1-81 1 75 1-53 1 36 1-40 1-36 1 53 1-34 1 26 1 4 1 4 1 15 1-5 1-40 1 25 1-52 1 51 1-16 1 36 1-26 1-4 1-23 1-24 1 15 1 29 1-17 1 21 1-26 1 8 1-19 1 2 1 3 1-34 1 27 1-35 1 16 1-42 1 13 1 4 1 16 1-35 1 15 1-5 1-51 1 30 1-12 1 8 1 30 1-25 1 3 1-19 1 13 1 46 1-34 1-29 1-28 1 2 1 1 1 6 1-5"/>
<path vector-effect="non-scaling-stroke" d="M0 321l1 38 1-10 1 32 1-50 1-15 1 47 1-46 1 8 1 48 1 17 1-24 1-24 1-15 1-24 1 74 1-37 1-24 1 34 1-31 1 49 1-69 1 79 1-41 1-4 1 12 1-48 1 40 1-19 1-6 1 31 1-32 1 59 1-49 1 22 1-9 1 17 1-2 1-47 1 53 1-23 1 27 1-45 1 46 1-13 1-38 1-2 1 42 1-6 1-24 1 46 1-29 1 1 1-19 1-15 1-4 1-54 1 76 1 4 1-62 1 62 1-8 1-24 1-19 1 21 1 72 1-17 1-42 1 42 1 31 1-109 1 104 1-74 1 56 1 3 1-26 1 42 1-24 1 0 1-16 1-52 1 71 1-13 1-34 1 44 1-37 1 40 1 18 1-17 1-4 1-27 1 50 1-42 1-85 1 52 1 29 1 15 1-18 1 18 1 7 1-89 1 44 1-7 1-28 1-7 1 66 1-16 1 9 1-33 1 40 1-56 1 24 1-57 1 86 1-17 1-7 1 1 1 2 1 19 1-11 1 11 1-30 1-18 1-4 1 47 1-75 1 74 1-17 1-50 1 48 1 4 1 23 1 21 1-51 1-37 1 82 1 11 1 5 1-56 1 64 1-20 1-28 1 24 1 21 1-81 1 114 1-37 1 20 1-28 1-45 1 45 1-54 1 80 1-53 1 3 1-53 1 50 1 5 1-39 1 0 1-25 1 25 1-9 1 12 1 4 1 28 1 6 1-35 1-28 1 55 1 14 1-32 1 11 1-40 1 53 1-14 1-47 1 17 1-22 1 27 1 5 1 18 1-23 1-2 1 4 1-23 1 16 1-6 1 26 1-12 1-38 1 26 1 10 1-13 1-25 1-5 1 12 1-4 1 19 1-12 1-21 1 24 1 16 1-13 1 32 1-14 1-59 1 35 1-21 1-19 1 8 1-10 1-33 1 44 1-9 1-3 1 4 1-2 1 1 1-10 1 16 1-43 1 48 1-47 1 13 1-18 1 5 1 11 1-18 1 20 1-35 1-39 1 66 1-33 1 20 1-16 1-37"/>
<path vector-effect="non-scaling-stroke" d="M0 321l1-44 1 8 1 62 1-42 1-15 1-12 1 73 1-5 1-31 1 25 1-29 1-5 1-14 1 47 1-34 1 10 1 26 1 9 1-85 1 47 1 10 1-4 1-75 1 71 1-34 1 48 1 19 1-45 1 28 1-38 1 44 1 2 1-18 1 11 1-31 1 20 1-63 1 82 1-14 1-67 1 41 1 6 1 52 1-51 1 16 1-2 1-45 1 36 1 31 1-22 1-59 1 6 1 51 1 44 1-90 1 36 1 44 1-35 1 13 1-46 1 4 1-33 1 77 1 0 1 38 1-92 1 72 1-31 1 19 1-47 1 48 1-1 1 24 1-25 1 0 1-20 1 50 1 10 1-29 1-66 1 11 1 4 1 81 1-66 1 35 1-18 1-10 1-18 1 24 1 30 1-35 1-52 1 29 1 26 1 7 1-68 1 57 1 12 1-24 1-30 1 14 1-16 1 20 1-24 1 141 1-157 1 10 1 14 1 23 1-45 1-9 1 50 1-34 1 45 1-27 1 43 1-38 1 13 1 16 1 6 1-39 1 29 1-16 1 29 1-38 1-12 1 66 1-108 1 109 1-56 1 8 1 29 1-50 1 58 1 15 1-71 1 0 1 42 1 0 1-13 1 0 1 28 1 5 1 5 1-3 1 8 1-27 1 44 1-50 1-14 1 34 1-4 1-16 1 12 1-47 1 15 1 22 1 13 1 5 1-21 1-4 1 36 1-89 1 14 1 30 1-25 1 37 1-2 1-26 1 62 1-38 1-4 1 31 1-58 1-5 1 89 1-110 1 55 1-14 1-20 1-1 1 14 1 45 1-60 1 28 1-8 1 54 1-31 1-12 1-21 1 38 1 0 1 10 1-43 1-2 1-14 1 6 1-25 1 47 1 29 1-59 1-24 1 27 1-25 1-1 1-7 1 20 1-1 1-46 1 11 1 59 1-61 1 0 1-2 1-2 1 13 1 15 1-53 1 62 1-41 1 12 1-48 1-14 1 19 1 3 1 3 1-11 1 15 1-63 1 34 1 25 1-43 1-10 1 39 1-26 1 0"/>
<path vector-effect="non-scaling-stroke" d="M0 304l1 9 1-6 1 48 1-87 1 54 1-41 1 18 1 12 1-8 1-43 1 50 1 66 1-15 1-21 1-4 1-10 1-24 1-18 1 27 1-21 1-12 1-22 1 30 1 19 1-28 1 62 1-38 1 9 1-50 1 16 1 64 1-60 1 41 1 15 1-39 1 18 1-10 1 0 1 46 1-52 1 55 1 15 1-59 1-19 1 4 1 12 1 16 1-45 1-18 1 79 1-8 1-24 1-7 1-27 1 14 1 1 1-5 1-4 1 10 1-14 1 15 1-17 1 42 1 9 1-25 1 57 1-50 1 9 1-23 1 37 1-32 1 38 1-25 1 64 1-56 1-28 1 51 1 72 1-62 1-5 1 1 1-3 1-41 1 11 1-32 1 17 1 2 1 34 1-25 1-12 1 39 1-37 1 51 1-68 1-35 1 26 1 19 1 29 1-20 1-38 1 19 1-6 1 8 1 43 1-33 1 2 1 5 1-8 1-24 1 85 1-80 1 14 1-17 1 28 1 19 1-33 1 39 1-40 1-9 1 2 1 101 1-121 1 5 1 92 1-81 1 7 1-40 1-12 1 10 1 42 1 1 1 25 1 11 1-30 1-9 1 1 1 27 1-1 1 2 1 13 1 32 1-25 1-14 1 57 1-46 1-5 1 17 1-3 1 17 1-44 1 17 1-14 1 45 1-27 1-49 1 17 1 52 1-4 1-35 1 6 1 0 1-18 1 36 1-30 1-48 1 3 1 15 1 13 1 9 1-10 1 29 1-33 1 42 1 7 1-55 1 3 1 47 1 29 1-67 1 3 1-36 1 35 1 4 1 20 1 1 1-37 1 14 1-30 1 17 1 31 1-33 1-8 1 27 1-48 1 58 1-20 1 32 1-49 1-21 1 5 1 12 1 15 1-74 1 58 1 28 1-74 1-9 1 9 1 30 1-21 1 1 1-11 1 0 1-17 1 0 1-27 1 30 1 17 1-50 1 0 1 3 1-42 1 17 1-22 1-20 1 39 1 32 1-41 1 23 1-58 1 44 1-4 1-37 1 55 1-28 1-30"/>
<path vector-effect="non-scaling-stroke" d="M0 323l1-55 1 42 1 35 1-23 1-59 1-7 1 37 1 17 1-13 1 25 1 6 1-16 1 76 1-57 1 6 1-15 1 35 1-25 1 12 1-25 1-21 1 14 1-4 1-34 1 17 1 8 1 35 1 5 1-29 1-48 1 44 1 39 1-26 1-3 1 15 1 10 1-47 1-20 1 38 1-29 1-10 1 44 1-5 1-3 1 5 1 12 1-35 1 15 1-13 1 41 1 2 1 8 1-44 1-12 1 21 1 25 1-41 1 23 1 36 1-60 1-28 1 27 1 28 1-40 1 23 1 57 1-60 1 4 1 1 1-23 1 36 1 33 1-13 1 13 1-35 1 3 1 18 1-44 1 30 1-32 1 51 1-11 1-14 1-2 1-20 1-9 1 30 1-20 1 5 1 18 1 24 1-24 1 15 1-34 1 21 1 56 1-50 1-6 1 2 1 4 1 43 1-23 1-50 1 17 1-33 1 2 1 28 1 46 1-32 1-2 1-26 1 4 1 15 1 6 1-5 1 5 1 32 1-57 1 15 1 32 1-13 1 13 1-27 1-28 1 2 1 71 1-47 1 15 1-40 1 33 1-2 1-19 1 14 1 70 1-19 1-59 1 13 1-39 1 55 1-6 1-31 1 60 1 6 1-45 1-7 1 18 1 14 1-31 1 53 1-46 1 53 1-60 1 6 1 14 1 14 1 3 1-32 1 32 1-35 1-3 1-16 1 54 1-38 1 8 1-14 1 9 1 24 1 10 1-20 1-27 1 26 1-22 1-19 1 19 1-18 1 10 1-12 1 6 1 33 1 17 1-49 1-6 1-15 1 55 1-54 1 30 1-22 1-12 1 29 1 12 1-31 1 8 1 11 1-44 1-20 1 34 1 2 1 0 1 1 1 18 1-23 1 27 1-13 1-3 1-12 1-28 1 31 1-9 1-88 1 59 1-15 1-23 1 30 1 11 1-28 1 1 1 11 1 41 1-59 1-9 1 13 1-19 1 29 1 8 1-39 1 38 1-26 1-45 1 82 1-11 1-5 1-16 1-6 1 29 1-18 1-20"/>
</g>
<use href="#m0orange" transform="translate(1.7 -10)"/>
<g transform="matrix(3.3745 0 0 1 100.5 0)" fill="none" stroke="#fffdf0" stroke-width="1.0" stroke-opacity="0.2" stroke-linejoin="round" id="m0cream">
<path vector-effect="non-scaling-stroke" d="M0 317l1 22 1-10 1-35 1 34 1-21 1 5 1 60 1-93 1 49 1-40 1-27 1 58 1-16 1 9 1-18 1-18 1 13 1-31 1 48 1-29 1 48 1-6 1-43 1-34 1 119 1-62 1 27 1-95 1-7 1 105 1-28 1-23 1 1 1 43 1-51 1 60 1-85 1 36 1-12 1-13 1 22 1-12 1 46 1-1 1-2 1 9 1-65 1 52 1 19 1-52 1 23 1 1 1 17 1-26 1-22 1-1 1 0 1 59 1-29 1-11 1 47 1-45 1-65 1 57 1 3 1-34 1 30 1 14 1 57 1-49 1-31 1-25 1 103 1-50 1 12 1-50 1 85 1-9 1 1 1-51 1 41 1-48 1 19 1-45 1 76 1-116 1 67 1-11 1 82 1-29 1-44 1-37 1 70 1-45 1 16 1 2 1 67 1-52 1-23 1 58 1 1 1 9 1-4 1 32 1-91 1 17 1 52 1-11 1-20 1 9 1 0 1-65 1 54 1-35 1 4 1 57 1-55 1 34 1-27 1-9 1-4 1-29 1 42 1-4 1 12 1-37 1 19 1-15 1 35 1 9 1 48 1-29 1-6 1-32 1 81 1-81 1-33 1 76 1 5 1-53 1 75 1-112 1 53 1-2 1 21 1-74 1 56 1 26 1-55 1 45 1-33 1 39 1-79 1 45 1-111 1 93 1-1 1 43 1-92 1 70 1 8 1 46 1-71 1-1 1 39 1-2 1 27 1-81 1 83 1-98 1 49 1-52 1 63 1 5 1-22 1-16 1 3 1 42 1-31 1 8 1 3 1 45 1-51 1 6 1 29 1-4 1 31 1 1 1-37 1 14 1-3 1-43 1 44 1 9 1-31 1 58 1-174 1 106 1-8 1-9 1 8 1 25 1 9 1-5 1-52 1 16 1 14 1 38 1-68 1 56 1-82 1 49 1-68 1 55 1 77 1-77 1-14 1 60 1 25 1-91 1 27 1 37 1-8 1 7 1 16 1-78 1 65 1 82 1-124 1-3 1 13 1 52 1-60 1-44 1 80 1 52"/>
<path vector-effect="non-scaling-stroke" d="M0 257l1 86 1 0 1-49 1 27 1-39 1 33 1-36 1 84 1-102 1 42 1 4 1-52 1 79 1-59 1 48 1-24 1-46 1 3 1 31 1 12 1 5 1-3 1 56 1-70 1-77 1 67 1-19 1 41 1-40 1 39 1-15 1-6 1 42 1-9 1-1 1 0 1-73 1 65 1 31 1 0 1-66 1-13 1 73 1-34 1 18 1-16 1 43 1-62 1-22 1 55 1-1 1-30 1 48 1-32 1 36 1-33 1-1 1-33 1 59 1-51 1 68 1-21 1-48 1 57 1-17 1-65 1 46 1-13 1 33 1 33 1 4 1-47 1-71 1 118 1-68 1 50 1-45 1 9 1-3 1 22 1-8 1-46 1 29 1 62 1-5 1-66 1-8 1 21 1 73 1-74 1 31 1-39 1 23 1-30 1 39 1 49 1-37 1-21 1 21 1-19 1-26 1 99 1-74 1 45 1-87 1 71 1-34 1 6 1-16 1 8 1 47 1-55 1 9 1-4 1 5 1-29 1-9 1 37 1 52 1-48 1-4 1 26 1-29 1 35 1-24 1-8 1 3 1-16 1 43 1-99 1 24 1 58 1-74 1 64 1 9 1-68 1 42 1 69 1-22 1 0 1-42 1 25 1-29 1 6 1 67 1 6 1-30 1-43 1-5 1 2 1 13 1 23 1 7 1-16 1-33 1 42 1 36 1-130 1 94 1-24 1 17 1-10 1 10 1-36 1 9 1 11 1 51 1-49 1 10 1-29 1-14 1 28 1-8 1-64 1 67 1 4 1-16 1 10 1-7 1 60 1-38 1-19 1 1 1 16 1-108 1 178 1-30 1-62 1 8 1-12 1 17 1-26 1 82 1-68 1 41 1-7 1-34 1 0 1-15 1 21 1-6 1 10 1 9 1 35 1-38 1 16 1-62 1 68 1 28 1-113 1 70 1-7 1-78 1 162 1-96 1 87 1-74 1 47 1-56 1 29 1-17 1-39 1 1 1-25 1 8 1 63 1-58 1 79 1-86 1 59 1-73 1 45 1 8 1-13 1 2 1 55"/>
<path vector-effect="non-scaling-stroke" d="M0 250l1 27 1 11 1 16 1-86 1 78 1 17 1 5 1-19 1-10 1 2 1-9 1-14 1 33 1 33 1-59 1 69 1 6 1-72 1-4 1 54 1-5 1 24 1-44 1 54 1-65 1 34 1-1 1-18 1-48 1 49 1 13 1-12 1-1 1 45 1-57 1 31 1-60 1 21 1-37 1 87 1-59 1-21 1 57 1-57 1 15 1 19 1 12 1 24 1-54 1 18 1 12 1-35 1 8 1 76 1-47 1 1 1 43 1-36 1 21 1-50 1 42 1-13 1-64 1 75 1 29 1-68 1 18 1 46 1-88 1 55 1-36 1 21 1 18 1 22 1-70 1 36 1-43 1 42 1 39 1-60 1 14 1 24 1 20 1-7 1-16 1-104 1 70 1 39 1-45 1-4 1 20 1 45 1-16 1-38 1-42 1 0 1 62 1 14 1-67 1 11 1-49 1 25 1 47 1-6 1 44 1-48 1-41 1 33 1-9 1 27 1 28 1-27 1 23 1-56 1 70 1-52 1 56 1-13 1-48 1-4 1 26 1-4 1-9 1 14 1-22 1-3 1 20 1 35 1-40 1 39 1-34 1-34 1 27 1-58 1 8 1-8 1 99 1-8 1-38 1 37 1-53 1 31 1 38 1 15 1-23 1-41 1-30 1 1 1-6 1 78 1-1 1 14 1-46 1 78 1-25 1-77 1 48 1 11 1-42 1-3 1-31 1 40 1 0 1-13 1 27 1-52 1 100 1-96 1 38 1-5 1 73 1-36 1 13 1-60 1 68 1-99 1-4 1 70 1 17 1-53 1 67 1 16 1-71 1-11 1 36 1-23 1-13 1 73 1-68 1 26 1-3 1 13 1-20 1-31 1 32 1-12 1 18 1 16 1-10 1 45 1-39 1 20 1-23 1-48 1 22 1-12 1 44 1-63 1 44 1 18 1 10 1-39 1 44 1 3 1-63 1 71 1-25 1-28 1 5 1 42 1-29 1-19 1 43 1-81 1 35 1 8 1-1 1-22 1 47 1-42 1 41 1-6 1-63 1 46 1-48 1 115"/>
<path vector-effect="non-scaling-stroke" d="M0 241l1 69 1-61 1 10 1 19 1-10 1 86 1-54 1-26 1 40 1 5 1-48 1 50 1-22 1-51 1 36 1 37 1-59 1 43 1 20 1-21 1-80 1 124 1-53 1 39 1-31 1-37 1 20 1-42 1 40 1 61 1-67 1 52 1-60 1 27 1 28 1-14 1 33 1-71 1 85 1-100 1 30 1-4 1-7 1-14 1 26 1 24 1-70 1 1 1 89 1-30 1-25 1 59 1-7 1 15 1-82 1 25 1 86 1-62 1-8 1 10 1-38 1-64 1 71 1 9 1 41 1 10 1-3 1-62 1-62 1 91 1 15 1-56 1 50 1-8 1-24 1 13 1-1 1-47 1 11 1-15 1 33 1 35 1-30 1-40 1 46 1 6 1 27 1-2 1-29 1-95 1 86 1 62 1-97 1 44 1-17 1 6 1 54 1-42 1 21 1-2 1-40 1 45 1-46 1 40 1 11 1-18 1-13 1-18 1 49 1-18 1 30 1 18 1-71 1 82 1-76 1 49 1-38 1 25 1-48 1 40 1 56 1-112 1 44 1-17 1 1 1 30 1-13 1 17 1-33 1 10 1 90 1-129 1 8 1 53 1-12 1-38 1 29 1-6 1 25 1-10 1 19 1-41 1-10 1 5 1 44 1-28 1-36 1 27 1-4 1 8 1 19 1-49 1 14 1 20 1 2 1 12 1-29 1 10 1-36 1 62 1-31 1 27 1-11 1-64 1 93 1-46 1 13 1-40 1 61 1-31 1 20 1 4 1-25 1-32 1 11 1 35 1-27 1-18 1 31 1-4 1 13 1 55 1-77 1 65 1-21 1-45 1 71 1-43 1 7 1-39 1 51 1-27 1-6 1-17 1 30 1 33 1 8 1 62 1-87 1-49 1 3 1 72 1-14 1-12 1-17 1-32 1-38 1 59 1-1 1 34 1-59 1 61 1-51 1-15 1-2 1 6 1 38 1 26 1-16 1-1 1 16 1-30 1 29 1-10 1-65 1 56 1-28 1-7 1 23 1-53 1 56 1 0 1-61 1 77 1-18 1 2"/>
<path vector-effect="non-scaling-stroke" d="M0 256l1 25 1 0 1-28 1 70 1-37 1-45 1 31 1-28 1 71 1-12 1-35 1 35 1-41 1 5 1 38 1-45 1-29 1 93 1-82 1 24 1 61 1 7 1-64 1 15 1 29 1 25 1-73 1 83 1-25 1 16 1-11 1 26 1-12 1-56 1 60 1-43 1-94 1 87 1-17 1 20 1 9 1-38 1 19 1-20 1 50 1-18 1 23 1-15 1-22 1 40 1 11 1-31 1 20 1 81 1-97 1 9 1-37 1 57 1-25 1 11 1-43 1 41 1-38 1 11 1 7 1-2 1 19 1-62 1 53 1-3 1-38 1 67 1-52 1 8 1 5 1-14 1 40 1-45 1-5 1 67 1-28 1-12 1-2 1-22 1 18 1-18 1 29 1-47 1 23 1 44 1-78 1 1 1 44 1 3 1 0 1 43 1-31 1-9 1-80 1 114 1-49 1 47 1-8 1 15 1-34 1-17 1 1 1 47 1-51 1-26 1 65 1-48 1 1 1 21 1 24 1-12 1-24 1 89 1-48 1-55 1-4 1 25 1-4 1-19 1 9 1 20 1 58 1-50 1 30 1 10 1-26 1 8 1 4 1-1 1-32 1-81 1 32 1 79 1-116 1 101 1-46 1 4 1 46 1 30 1-20 1-15 1-51 1 27 1 52 1-51 1 37 1-64 1 24 1 58 1-44 1-55 1 37 1-36 1 80 1-39 1-35 1 82 1-52 1-44 1 40 1 58 1 7 1-119 1 67 1 37 1-11 1-28 1-9 1 33 1 23 1-79 1 36 1-1 1-7 1 18 1 29 1-55 1 20 1 2 1 38 1-54 1-52 1 82 1 25 1-60 1 35 1 25 1 11 1-112 1 32 1 57 1-39 1 54 1-58 1-5 1 33 1-21 1-31 1 58 1 25 1-95 1 10 1-1 1 33 1 17 1-1 1-22 1-8 1-9 1 66 1-106 1 72 1-12 1 9 1-13 1 12 1 15 1-5 1 13 1-1 1 3 1 32 1-28 1-52 1-5 1 68 1-61 1 0 1 82 1-64 1 38"/>
<path vector-effect="non-scaling-stroke" d="M0 295l1-9 1 16 1-38 1 41 1 24 1-80 1 84 1-29 1-13 1-45 1 40 1 12 1-3 1-56 1 113 1-7 1-32 1 2 1-8 1 3 1-40 1 47 1-77 1 80 1 5 1-66 1 86 1-18 1-107 1 76 1-40 1-8 1-2 1 24 1 10 1 50 1-52 1-22 1-18 1 20 1 48 1-6 1 7 1 27 1-48 1-6 1 4 1 18 1-35 1-2 1 29 1 3 1-11 1 5 1-15 1 15 1-38 1-26 1 91 1-29 1 32 1 33 1-56 1 9 1-56 1 33 1 26 1-62 1-5 1 95 1-44 1 16 1-76 1 57 1 19 1-40 1 18 1-30 1 28 1 52 1-113 1 3 1 78 1 46 1-38 1-14 1-49 1 41 1-18 1-39 1 33 1-1 1-11 1 31 1 3 1 4 1 17 1 20 1 20 1-23 1-63 1 85 1-45 1-2 1 19 1-41 1 28 1-45 1 50 1 34 1-48 1-24 1 51 1 4 1-26 1-13 1 29 1-8 1-17 1 50 1-21 1 10 1-67 1-2 1 45 1-13 1 28 1-58 1 33 1-13 1-5 1 58 1-61 1 17 1 0 1-6 1 18 1 13 1-78 1 79 1-24 1-45 1 57 1-61 1 76 1-27 1 2 1-28 1 42 1-24 1 21 1-61 1 16 1 46 1-60 1-3 1 67 1-46 1 29 1-39 1-4 1 12 1 50 1 5 1-59 1-4 1 64 1-40 1-9 1-13 1 24 1 65 1-23 1-41 1-17 1 29 1 14 1-22 1 38 1 9 1-57 1 15 1-2 1-43 1 28 1-24 1 17 1-22 1 11 1 69 1 7 1 5 1-14 1-24 1 53 1-76 1 2 1 24 1-2 1-3 1 7 1 31 1-55 1-2 1 39 1-17 1-37 1 58 1-20 1-22 1 20 1-3 1-31 1 29 1-58 1 22 1 93 1-99 1 29 1 63 1 20 1-62 1-28 1 9 1 32 1-56 1-12 1-33 1 62 1-34 1 98 1-65 1 42 1-36 1-1 1 12"/>
<path vector-effect="non-scaling-stroke" d="M0 290l1 15 1 3 1-22 1 21 1-44 1-2 1 29 1 14 1 25 1-100 1 21 1 68 1-5 1 25 1-45 1 13 1 49 1-3 1-47 1-55 1 42 1 14 1 66 1-99 1 2 1-11 1 3 1 35 1 0 1 10 1-1 1-28 1-18 1-11 1-45 1 75 1-37 1-10 1 86 1-44 1-27 1 52 1 27 1 10 1-29 1-5 1-38 1 42 1 9 1 6 1 12 1-56 1 4 1-15 1 18 1 62 1-115 1 27 1 64 1-26 1 17 1-1 1-8 1-16 1 5 1-21 1 48 1-18 1-94 1 25 1 75 1 33 1-70 1 71 1-63 1 20 1 7 1-8 1 6 1 23 1-63 1 53 1-34 1 8 1-20 1 2 1 16 1 25 1 42 1-104 1 48 1-18 1 65 1 45 1-37 1-35 1-70 1 86 1-11 1-26 1 2 1-3 1 65 1-121 1 50 1 13 1 8 1-5 1-5 1 51 1-4 1-79 1 22 1 22 1 64 1-101 1-43 1 55 1 49 1-28 1 20 1-9 1 10 1-79 1 50 1 13 1-3 1-22 1 5 1 23 1-60 1 52 1 27 1-55 1 20 1-3 1-25 1 43 1-45 1-1 1 16 1 61 1-45 1-4 1-21 1 3 1-15 1 13 1-27 1 41 1 13 1-10 1 21 1-30 1 31 1 7 1-41 1 35 1-28 1 87 1-82 1 11 1 7 1-76 1 94 1-64 1 17 1 45 1-86 1 51 1-6 1-9 1-7 1-15 1 68 1-38 1-13 1 38 1-64 1 42 1 23 1 1 1-24 1 50 1 12 1-68 1-21 1 28 1 12 1-47 1-8 1 68 1-90 1 65 1 13 1-9 1-28 1 73 1-73 1 5 1 38 1-38 1-23 1 75 1-74 1 47 1 66 1-158 1 101 1 13 1-61 1 31 1-14 1-5 1 40 1-45 1 59 1-40 1 54 1-54 1-4 1 29 1-14 1 31 1-33 1-6 1-17 1-17 1 25 1 34 1 0 1-21 1 25 1-10 1 17 1-42"/>
<path vector-effect="non-scaling-stroke" d="M0 268l1-22 1 47 1 22 1 12 1-13 1 5 1-33 1-38 1 18 1 68 1 0 1-65 1 40 1 46 1-73 1 4 1 10 1 8 1 14 1-32 1 44 1-7 1 44 1-121 1 104 1-36 1-4 1-9 1 28 1-51 1-8 1 25 1 87 1-9 1 19 1-71 1 15 1-60 1-3 1 54 1 19 1-46 1 13 1-41 1-8 1-2 1 108 1-86 1 45 1-54 1 15 1 5 1 41 1-11 1-24 1-28 1 61 1-23 1 37 1-16 1-78 1 66 1-26 1 15 1-2 1-19 1 66 1-77 1-9 1 114 1-91 1-18 1-32 1 74 1-31 1 52 1-26 1-35 1 49 1-60 1-7 1 38 1-5 1 41 1-7 1-7 1-47 1 13 1 81 1-75 1-43 1-18 1 22 1 50 1 4 1-6 1 58 1-43 1-52 1-62 1 89 1 2 1 1 1 26 1-33 1 3 1 57 1-60 1 11 1 6 1 1 1 46 1 38 1-55 1-80 1 48 1 47 1-59 1 35 1-90 1 51 1-39 1 67 1-27 1 7 1-71 1 109 1-47 1 45 1-8 1-87 1 65 1 50 1 48 1-92 1 9 1-8 1 79 1-93 1 30 1 0 1-24 1 29 1-24 1 7 1 48 1-33 1-15 1-29 1 3 1 3 1 17 1-19 1 20 1 22 1-29 1 6 1-31 1 8 1-1 1 79 1-80 1-29 1 22 1 49 1-18 1-11 1 27 1-65 1 46 1 58 1-7 1-49 1 30 1-31 1 37 1-104 1 83 1-11 1 0 1-58 1 41 1-1 1 6 1 43 1-50 1 38 1 16 1-22 1-24 1 36 1-30 1 13 1 16 1-45 1 102 1-94 1-19 1-32 1 61 1 4 1 2 1-9 1 26 1-4 1-68 1 53 1-21 1 52 1-67 1 95 1-52 1 1 1-13 1-2 1 23 1 20 1-74 1 24 1 49 1-13 1-30 1-41 1-11 1 51 1-37 1 67 1-29 1-31 1-28 1 80 1-7 1 1 1-70 1 61 1-27"/>
</g>
<g transform="matrix(3.3745 0 0 1 100.5 0)" fill="none" stroke="#f06068" stroke-width="1.0" stroke-opacity="0.16" stroke-linejoin="round" id="m0red">
<path vector-effect="non-scaling-stroke" d="M0 338l1-6 1 5 1-4 1 16 1-8 1 7 1-9 1 6 1-5 1 18 1 8 1-3 1-7 1 13 1-17 1 18 1-5 1 4 1-8 1-6 1 11 1-18 1 4 1-1 1 7 1-8 1-4 1 10 1 3 1 5 1-5 1-9 1-5 1 32 1-16 1 5 1-2 1 0 1-19 1 3 1 2 1-11 1-5 1 18 1 0 1-2 1-10 1 13 1-24 1 14 1-4 1-3 1-21 1 12 1 14 1-8 1-6 1-2 1 3 1 10 1 2 1 5 1-4 1-1 1 3 1-9 1 3 1 3 1-6 1-10 1 8 1 6 1 12 1-27 1 24 1-6 1-5 1-3 1 3 1-13 1 4 1-2 1-8 1 11 1-3 1-9 1 10 1-15 1 3 1-10 1 8 1-19 1 15 1-19 1 22 1-12 1-1 1-4 1 6 1 10 1-1 1 10 1-12 1-6 1-2 1-4 1 8 1-10 1-9 1 4 1 3 1 9 1 4 1-32 1 30 1-5 1 12 1-11 1-9 1 12 1-6 1-5 1 11 1-9 1-11 1 0 1-6 1 3 1 5 1-21 1 19 1 4 1 12 1-14 1-1 1-6 1 0 1-1 1 10 1 19 1-18 1 3 1-12 1-1 1 10 1-16 1 17 1 2 1 12 1-11 1 13 1 8 1-9 1 16 1 11 1-15 1-12 1-17 1 31 1-12 1 10 1-9 1 0 1-1 1-4 1 13 1-45 1 44 1-6 1-5 1 12 1-29 1 19 1-15 1 10 1-15 1 4 1 7 1-2 1-4 1 9 1-32 1 3 1-7 1 14 1-16 1 11 1-4 1 11 1-20 1 14 1-14 1-6 1 21 1 5 1-14 1-11 1 2 1-10 1 17 1-14 1-3 1 12 1-16 1 18 1-14 1 12 1-21 1 12 1-12 1 11 1-15 1 8 1 8 1-11 1-7 1-4 1 4 1-16 1 6 1 13 1-19 1-4 1 13 1-12 1-10 1 9 1-8 1-2 1-12 1 7 1-29 1 20 1-14 1 16 1-5"/>
<path vector-effect="non-scaling-stroke" d="M0 322l1-19 1 15 1 14 1-5 1-2 1-5 1 2 1 9 1-20 1 22 1-8 1-2 1 25 1-8 1-9 1-2 1 5 1-11 1 10 1 17 1-13 1-4 1-12 1 5 1 4 1 2 1 20 1-21 1-4 1 5 1 4 1-4 1-16 1 24 1-3 1-14 1-1 1-6 1 8 1 3 1-4 1 6 1-16 1 10 1 7 1-15 1-10 1 18 1-7 1 6 1-10 1 10 1-8 1 14 1-13 1-5 1 5 1-8 1 9 1-28 1 22 1-9 1 1 1 22 1-12 1-8 1-2 1 28 1-13 1 7 1 0 1-18 1 7 1 11 1-7 1 0 1 6 1 5 1-23 1 2 1-14 1 16 1 12 1-3 1-24 1 12 1-12 1 8 1 0 1-7 1 9 1-11 1 9 1 9 1-29 1 20 1-9 1 11 1-9 1 17 1-22 1 7 1 8 1 3 1 9 1 3 1-8 1-8 1-8 1 10 1-31 1 6 1 12 1-4 1 6 1-19 1 22 1-19 1 8 1 0 1 0 1-9 1 1 1-17 1 13 1 5 1 1 1-8 1-18 1 29 1-8 1 2 1-17 1 14 1 11 1-11 1 17 1-19 1 20 1 0 1 3 1-8 1 6 1-5 1-14 1 15 1 0 1 7 1-25 1-5 1 10 1-1 1-10 1 11 1 7 1-14 1-1 1 6 1 2 1-6 1-3 1-14 1-10 1 2 1 9 1 4 1-12 1 3 1-14 1-11 1 19 1-31 1 19 1-8 1-5 1 12 1 4 1 3 1-2 1 5 1-21 1 19 1-3 1-2 1-11 1 1 1-4 1-8 1 5 1 6 1 11 1-19 1 14 1-5 1-11 1-6 1 25 1-11 1-1 1-15 1 9 1 3 1-13 1 17 1-13 1 7 1-11 1 7 1 5 1-13 1 12 1-10 1 12 1-11 1-3 1 9 1-13 1-5 1 8 1-14 1-5 1-10 1 23 1-11 1-11 1 24 1-18 1-3 1 0 1-25 1 16 1-5 1-14 1 13 1-4 1-16"/>
<path vector-effect="non-scaling-stroke" d="M0 332l1-3 1 8 1-11 1-2 1 9 1 1 1 11 1-3 1 0 1-7 1-4 1 16 1-2 1-12 1 18 1-19 1-1 1 0 1 0 1 0 1 2 1 8 1-12 1-6 1 15 1-17 1 8 1 6 1-2 1-8 1 6 1 12 1-15 1-2 1-2 1 9 1-4 1 7 1-4 1-3 1-1 1-1 1 6 1 5 1-8 1-17 1 9 1 1 1 7 1-5 1-8 1-6 1-4 1 3 1 17 1 4 1 0 1-28 1 12 1 1 1-4 1 12 1-10 1 7 1-13 1 19 1-13 1 11 1 2 1-1 1 1 1 5 1 0 1 8 1 16 1-25 1 11 1-19 1 6 1-6 1 12 1 6 1-22 1 3 1-12 1 22 1-40 1 26 1-7 1-3 1 1 1-11 1 14 1-11 1 2 1 24 1-28 1-3 1 8 1 5 1-4 1-5 1-10 1 18 1 8 1-24 1 25 1-8 1-8 1 6 1-12 1 5 1 15 1-6 1-15 1 13 1 21 1-6 1-31 1 25 1-27 1 17 1-23 1 18 1 10 1-24 1-11 1 15 1-24 1 5 1 15 1-1 1-11 1-15 1 19 1-10 1 10 1-14 1-5 1 11 1-1 1 12 1-16 1 4 1 19 1-7 1 5 1-16 1 17 1 8 1-9 1-25 1 10 1-16 1-5 1 22 1 3 1-18 1-6 1 0 1 17 1-23 1 7 1-17 1 2 1-10 1 21 1-12 1 1 1 4 1-2 1-16 1 16 1-26 1-8 1 26 1-7 1-2 1-3 1 13 1-15 1-7 1 6 1-5 1-3 1 6 1-10 1 2 1-12 1 16 1-8 1-7 1 14 1 1 1 12 1 5 1-9 1-4 1-27 1 31 1-7 1 2 1-8 1 3 1 13 1-18 1 7 1-14 1-21 1 28 1-2 1-17 1 10 1-6 1 3 1-12 1 17 1 3 1-23 1 3 1 16 1-18 1 0 1-21 1 22 1-19 1 8 1 10 1-15 1 10 1-2 1-17 1 15 1-2 1 6 1-3"/>
<path vector-effect="non-scaling-stroke" d="M0 303l1 7 1 26 1-10 1 2 1 18 1-22 1 1 1-10 1 22 1 7 1 0 1-5 1-13 1 24 1-17 1 22 1-17 1 8 1-5 1-22 1 10 1-1 1 9 1 11 1-15 1-1 1-12 1 16 1 2 1 12 1-12 1 2 1 8 1-2 1-1 1-3 1 1 1 11 1-14 1-1 1 7 1 3 1-9 1-16 1-1 1 18 1-18 1 34 1-34 1-1 1-11 1 21 1-6 1 3 1-3 1 10 1-7 1-2 1 10 1-19 1 0 1 2 1-12 1 12 1-4 1-2 1 7 1-2 1 3 1 0 1-3 1 1 1 9 1 2 1-2 1-6 1-2 1-11 1 19 1-6 1-11 1 14 1-6 1 7 1-3 1 6 1-12 1 3 1-16 1 1 1 7 1 7 1-21 1 13 1-20 1 33 1-8 1-23 1 25 1-10 1-25 1 25 1-20 1 12 1-1 1-21 1 8 1 7 1-17 1 24 1-4 1-10 1 7 1 1 1 7 1-13 1 0 1-8 1 8 1-1 1-1 1 2 1-4 1 9 1-9 1 3 1 8 1-16 1 21 1 1 1-3 1 1 1 5 1-8 1-4 1 6 1-13 1 7 1-3 1-10 1 12 1 18 1-7 1-3 1 3 1-1 1-4 1 20 1-25 1 5 1-4 1 7 1-14 1 4 1-17 1 10 1 0 1 2 1-1 1 7 1-2 1-11 1 14 1-6 1-7 1-8 1-7 1-8 1 11 1-5 1 13 1-3 1-16 1 19 1-29 1 1 1 1 1 9 1 0 1-3 1 2 1 33 1-5 1-15 1-7 1-6 1 9 1-2 1 4 1 11 1-18 1-14 1 6 1-3 1 4 1-4 1 15 1-5 1 7 1-17 1 9 1 3 1-18 1 15 1-3 1-10 1-10 1 13 1-11 1 11 1-18 1 17 1-8 1 6 1-9 1-10 1-7 1 16 1-11 1-2 1 1 1-23 1 38 1-12 1 5 1-8 1 0 1 4 1-6 1-20 1 9 1-7 1-3 1 4 1-26 1 24"/>
<path vector-effect="non-scaling-stroke" d="M0 347l1 5 1-2 1 7 1-10 1-11 1 15 1 7 1-10 1 8 1 8 1-19 1 22 1-3 1-7 1 19 1-3 1-11 1 6 1 2 1-14 1 5 1-4 1 9 1-26 1 18 1-21 1 7 1 6 1-7 1 11 1-16 1 2 1 10 1 1 1-15 1-10 1 17 1 9 1-20 1 1 1-1 1 6 1 1 1 4 1-7 1 0 1 3 1 13 1 2 1-15 1 5 1-8 1-7 1-9 1 8 1-6 1 8 1 7 1-22 1 11 1 21 1-8 1-2 1 4 1 4 1 5 1 7 1-3 1-6 1 6 1-1 1-13 1 2 1 2 1 10 1 0 1-4 1-3 1 18 1-7 1-22 1 23 1-6 1-19 1-3 1-1 1-4 1 5 1-9 1-5 1-3 1-17 1 19 1 11 1 5 1-9 1-4 1 2 1 5 1-2 1-15 1-14 1 11 1 3 1-11 1 8 1 14 1 2 1-11 1-8 1-5 1 0 1 12 1 2 1-21 1 4 1 1 1 9 1 7 1-20 1 6 1-2 1 6 1-12 1-3 1-5 1 12 1-9 1-12 1 5 1 13 1-8 1 9 1 10 1-5 1 2 1-5 1 2 1 30 1-15 1-4 1-7 1 25 1-14 1-14 1 17 1-19 1 13 1-14 1 8 1-5 1 19 1-11 1-6 1 12 1-13 1 9 1-2 1-9 1 6 1 2 1 20 1-21 1 3 1-4 1 4 1-4 1-1 1 16 1-25 1 18 1-9 1 8 1-17 1-8 1 11 1 2 1-6 1 14 1-9 1 8 1-3 1-3 1-11 1 8 1-24 1 18 1 7 1-4 1 1 1-5 1-5 1-15 1-1 1 23 1-42 1 3 1-16 1 12 1 4 1 5 1-33 1 10 1 23 1-22 1 2 1 9 1-2 1-13 1 18 1-16 1 12 1-5 1-7 1-7 1 1 1-19 1 7 1 2 1-11 1-1 1-2 1-1 1 4 1 7 1-17 1 1 1-2 1 8 1-6 1-11 1 4 1 0 1-8 1 1 1-8"/>
<path vector-effect="non-scaling-stroke" d="M0 319l1 3 1 6 1 3 1-11 1-4 1 19 1-3 1-9 1 12 1-15 1-4 1 13 1 16 1-19 1 1 1-4 1 15 1 10 1-10 1-18 1-13 1 14 1-13 1 15 1 6 1-9 1 4 1-14 1 11 1-1 1-11 1 3 1 14 1 2 1-13 1 11 1-30 1 4 1 0 1 5 1 13 1-19 1-7 1 22 1-15 1 2 1-8 1-3 1 8 1-1 1-9 1 12 1-6 1 0 1-15 1 33 1-11 1 3 1 6 1-15 1 5 1 0 1 6 1 21 1-11 1 24 1-17 1 4 1 2 1-20 1 5 1 17 1-25 1 17 1-3 1 4 1-11 1 22 1-7 1-4 1 5 1-7 1 11 1-7 1 4 1 9 1-13 1-2 1 10 1-7 1 3 1 15 1-19 1-18 1 10 1 1 1 1 1-12 1-9 1 6 1 9 1 6 1 17 1-18 1 16 1-11 1-8 1-1 1 14 1-5 1-5 1 6 1-12 1 3 1-7 1 1 1 7 1 4 1-17 1 4 1 4 1 3 1-7 1-3 1 19 1-26 1 12 1-5 1-1 1-4 1 3 1-1 1 8 1-13 1 9 1 22 1-17 1 12 1-9 1 2 1 0 1-3 1-12 1 15 1 14 1 9 1-20 1 2 1-11 1 10 1-16 1 11 1-3 1-2 1-4 1 10 1-13 1-17 1 10 1 14 1-1 1 0 1-15 1 22 1-17 1-6 1-7 1-4 1-6 1-1 1-8 1 7 1-13 1 9 1 1 1-9 1 11 1-7 1-9 1 6 1-23 1 9 1 2 1 12 1-27 1 15 1-3 1-3 1-1 1 5 1-9 1-22 1 17 1 6 1-3 1 12 1-15 1 2 1-9 1 4 1-16 1 10 1-15 1-8 1 19 1 6 1-7 1 5 1-14 1-13 1 15 1 3 1-9 1 0 1-3 1 17 1-16 1 0 1-11 1 1 1 10 1 9 1-16 1-12 1 4 1-2 1 0 1-18 1-20 1 12 1 11 1-21 1-1 1-21 1 8 1 7"/>
<path vector-effect="non-scaling-stroke" d="M0 325l1 13 1-3 1-19 1 22 1-17 1 9 1-11 1-4 1 8 1 1 1 5 1-2 1 16 1-14 1-4 1 14 1-9 1 9 1 5 1-15 1 1 1 12 1-1 1-8 1 7 1-4 1-1 1 14 1-11 1 12 1-11 1 9 1 9 1-20 1 1 1 0 1-15 1 6 1 4 1 0 1 14 1-27 1 26 1-5 1-19 1 10 1-19 1 22 1-33 1 13 1 8 1-31 1 4 1 25 1-19 1 3 1 13 1-10 1-15 1 35 1-11 1 5 1 12 1-22 1 12 1-11 1 6 1-14 1 1 1 10 1 18 1-1 1-17 1 0 1 11 1-5 1 4 1 13 1-13 1-16 1 21 1 9 1-22 1 13 1-7 1 4 1-6 1-9 1-5 1-15 1 6 1-3 1-1 1 11 1 0 1-9 1 12 1 1 1-11 1 14 1-19 1 3 1 4 1-3 1 12 1-12 1 19 1-16 1-3 1 10 1-3 1 10 1-18 1 13 1-3 1-29 1 9 1 1 1 0 1 23 1-14 1-9 1-11 1-7 1 0 1 2 1-5 1-4 1 17 1-3 1-7 1 4 1 13 1-19 1 12 1 5 1-1 1 2 1 10 1-18 1 5 1 10 1 1 1 1 1 2 1 5 1 5 1-14 1 5 1-6 1-5 1-2 1-6 1-13 1 4 1-3 1 5 1-3 1 8 1 1 1-13 1 14 1-5 1 7 1-6 1 3 1-10 1-8 1-16 1 5 1-20 1 18 1-10 1 20 1-22 1-11 1 0 1-7 1 17 1-2 1-4 1 3 1-15 1-7 1-1 1 9 1 10 1-1 1-8 1-1 1-4 1 11 1-3 1 2 1-6 1-16 1 14 1-8 1-19 1 20 1-12 1-5 1 6 1 9 1-9 1 16 1-22 1 5 1 6 1-1 1 1 1-30 1 6 1 11 1 0 1-8 1 3 1-1 1-1 1-14 1 28 1-14 1-13 1-4 1-1 1 6 1-3 1 1 1-4 1-5 1 8 1 9 1-6 1-20 1-6 1 3"/>
<path vector-effect="non-scaling-stroke" d="M0 316l1 11 1 19 1-11 1-8 1 15 1-10 1 10 1-6 1-12 1-5 1 14 1 7 1-8 1 5 1 0 1 0 1-8 1 3 1 0 1 17 1-23 1 21 1-8 1-4 1 1 1 9 1-8 1-8 1 2 1 10 1-9 1 18 1-2 1 12 1-24 1 21 1-16 1-1 1-7 1 16 1-24 1 18 1-14 1 0 1-14 1 6 1-4 1 11 1-5 1-19 1-6 1 21 1-6 1-3 1-5 1 3 1 3 1 5 1 4 1-4 1-6 1 32 1-21 1-4 1 9 1-2 1-17 1 20 1-6 1-7 1 14 1-7 1 5 1 5 1-8 1-2 1 22 1-7 1 10 1 3 1-15 1 1 1-4 1-15 1 21 1-12 1 22 1 0 1-10 1-20 1 16 1-7 1-3 1-5 1 22 1-19 1 8 1-16 1 9 1 2 1-7 1 11 1-15 1 1 1 7 1-30 1 30 1-32 1 11 1-15 1 14 1-5 1-6 1 11 1-4 1-15 1-6 1 16 1-7 1-13 1 11 1 0 1 2 1-8 1-20 1-6 1 9 1 13 1-8 1-6 1-4 1 19 1 0 1 3 1 11 1-19 1 3 1 7 1-6 1-3 1 18 1 7 1-21 1 2 1-8 1 23 1 5 1-1 1 15 1-1 1-16 1-3 1 7 1-19 1 8 1-17 1 18 1-7 1 5 1 1 1-10 1 15 1-9 1 17 1-9 1-18 1-2 1 11 1-4 1 1 1 15 1-39 1 16 1-10 1-10 1 16 1 4 1-14 1-2 1 15 1-2 1-15 1 23 1-14 1-2 1 2 1-35 1 21 1-9 1 3 1-19 1-8 1-2 1-11 1 1 1-14 1 11 1-4 1 25 1-2 1-27 1 1 1-7 1-1 1 6 1-2 1-8 1 0 1-2 1 11 1-23 1 13 1-1 1-21 1-8 1 10 1-1 1 0 1 9 1 25 1-8 1-5 1-12 1-4 1-5 1-1 1-6 1-9 1-9 1-4 1-4 1 20 1 9 1-30 1 9 1 9"/>
<path vector-effect="non-scaling-stroke" d="M0 344l1-14 1-1 1-2 1-1 1 10 1 1 1-13 1 15 1-3 1-11 1 20 1-3 1 10 1-6 1 8 1-2 1-10 1 4 1-10 1 18 1-18 1 4 1-5 1 6 1-4 1 12 1-1 1-6 1 8 1-9 1-12 1 15 1 5 1-7 1 4 1-9 1 30 1-21 1 5 1-16 1 2 1-5 1-3 1 12 1-5 1-20 1 4 1 18 1-21 1 2 1 10 1-1 1-17 1 0 1 2 1 8 1-13 1 10 1-11 1 11 1-16 1 34 1-7 1-5 1 11 1-10 1 7 1-6 1 22 1 6 1-1 1-10 1 4 1 5 1-14 1-6 1-11 1 4 1 2 1-10 1 2 1-2 1-5 1-6 1-5 1 11 1 5 1 3 1-8 1-4 1-5 1 4 1 3 1-5 1-14 1 12 1-10 1-10 1-1 1 1 1 3 1 2 1 3 1 2 1-19 1 19 1-21 1 16 1-13 1 4 1 15 1-1 1-13 1 4 1 1 1-4 1-8 1-2 1 14 1-12 1 8 1-3 1-8 1-5 1 10 1-6 1-7 1-3 1 12 1 6 1 7 1-19 1 14 1-7 1 14 1 18 1-5 1 3 1 5 1 6 1-5 1-11 1 7 1 37 1-28 1 1 1 16 1-30 1 13 1 8 1-13 1 9 1-6 1 7 1-3 1 13 1-5 1 6 1-37 1 8 1-4 1-6 1-3 1-7 1-8 1 8 1 2 1-5 1 1 1 9 1-5 1-7 1-11 1 20 1-23 1-11 1 4 1 6 1-3 1 3 1-11 1 4 1 11 1-8 1 21 1-34 1 6 1-3 1-22 1 12 1 4 1-24 1 5 1-5 1-10 1-3 1 6 1 9 1-22 1-24 1 20 1-6 1 8 1 3 1 7 1-18 1 15 1-15 1 1 1-2 1-15 1 5 1-20 1 26 1-6 1 10 1-6 1-12 1 24 1 2 1-27 1 17 1-6 1-15 1 11 1-15 1-3 1-8 1 2 1-1 1-5 1 7 1-10 1-7 1 7 1 8"/>
<path vector-effect="non-scaling-stroke" d="M0 364l1-22 1 7 1-23 1-1 1 12 1-6 1-9 1 28 1-22 1-5 1 27 1-13 1-6 1 2 1 3 1-27 1 9 1 2 1 10 1 4 1-21 1-7 1 5 1 5 1 3 1 10 1-27 1 24 1-3 1 2 1-5 1 18 1-21 1 7 1 11 1 6 1-5 1-20 1 6 1-4 1 10 1-1 1 0 1-10 1-10 1 17 1 3 1-26 1 8 1 4 1-7 1 15 1-1 1-16 1-6 1 7 1-1 1 6 1-4 1-10 1 3 1 4 1 8 1-5 1 16 1-7 1-6 1 5 1 6 1 11 1 7 1-20 1 11 1-3 1-11 1 2 1 4 1 11 1-1 1-4 1-3 1-18 1-11 1 6 1-3 1-3 1 30 1-34 1 3 1 3 1 6 1 2 1-9 1 8 1 0 1-20 1-1 1 2 1-3 1 19 1 1 1-18 1 5 1 6 1-9 1 1 1-12 1 4 1 15 1-5 1 5 1-18 1 8 1 1 1 0 1 20 1-22 1 21 1-22 1 4 1 6 1-5 1 2 1-15 1 11 1-11 1-3 1-2 1 12 1-19 1 20 1 16 1-25 1-5 1 5 1 15 1 4 1-29 1 13 1 16 1 13 1-27 1 10 1 17 1-12 1-13 1 6 1 2 1-25 1 14 1 10 1-11 1-5 1 18 1 2 1 7 1-23 1-4 1 13 1-6 1-4 1 6 1-13 1 26 1-14 1-23 1 7 1 14 1-15 1-11 1 0 1 0 1 2 1-3 1 4 1 12 1 7 1-1 1-34 1 30 1-12 1-11 1 6 1-14 1-1 1 2 1 19 1-9 1-23 1-6 1 27 1-12 1-9 1 14 1-24 1 1 1-9 1 0 1 11 1 1 1 1 1-18 1 21 1-23 1 1 1-7 1 18 1-7 1-2 1-4 1 20 1-21 1-1 1-5 1 6 1 22 1-20 1-7 1-8 1 4 1-12 1 11 1-15 1 9 1 9 1-20 1 8 1 15 1-16 1-4 1 14 1-12 1-4 1 22 1 0 1-7"/>
</g>
<use href="#m0red" transform="translate(1.7 6)"/>
<g transform="matrix(3.3745 0 0 1 100.5 0)" fill="none" stroke="#6cd07a" stroke-width="1.0" stroke-opacity="0.18" stroke-linejoin="round" id="m0green">
<path vector-effect="non-scaling-stroke" d="M0 307l1 6 1 2 1 6 1-10 1-5 1 14 1-12 1 5 1-5 1 8 1-9 1 7 1-14 1 12 1-7 1 1 1-6 1-4 1 16 1 0 1-6 1 2 1 3 1-1 1 0 1 5 1 7 1-9 1-4 1 7 1-4 1 2 1 6 1-15 1 15 1 5 1-11 1-9 1 1 1 12 1-9 1-1 1 8 1 7 1-17 1 10 1-5 1 5 1-11 1 13 1-12 1 2 1 2 1 4 1-5 1-4 1 12 1-1 1-4 1-3 1 4 1-8 1 5 1-4 1 1 1 12 1-3 1-9 1 5 1-3 1-12 1 9 1 9 1-6 1 2 1-4 1 8 1 0 1 2 1 1 1-10 1 1 1 12 1-12 1 5 1-2 1 3 1-16 1 17 1 0 1-2 1-4 1 3 1 12 1-11 1-2 1 10 1-8 1 7 1 0 1-4 1-5 1-2 1-1 1 4 1 2 1 0 1 2 1-3 1 5 1 3 1-12 1 8 1-1 1-3 1-1 1 1 1 0 1 0 1-4 1 13 1-4 1-5 1 7 1-3 1-6 1-9 1 8 1-3 1 1 1 2 1 4 1 1 1 2 1 2 1 0 1 3 1-4 1 7 1 11 1-10 1-3 1 6 1-4 1-7 1 11 1-5 1 4 1-7 1 8 1-5 1-1 1 4 1 2 1-3 1-7 1 6 1 8 1-6 1 7 1-6 1-3 1-1 1 1 1-5 1 6 1-4 1 7 1-14 1 2 1-2 1 8 1-2 1-5 1 3 1-4 1-7 1 11 1-13 1 8 1 6 1-1 1 2 1-3 1 0 1-2 1-4 1 8 1-6 1 11 1-16 1 2 1 2 1 3 1 16 1-10 1-6 1-8 1 12 1 3 1-2 1 3 1 5 1 2 1-4 1-2 1-8 1-1 1 2 1-6 1 14 1-3 1-3 1-6 1 3 1 4 1-10 1 1 1 0 1 5 1-1 1-5 1 7 1-5 1 2 1 6 1 0 1-1 1 5 1-7 1 15 1-13 1 16 1 6 1-11 1-1"/>
<path vector-effect="non-scaling-stroke" d="M0 319l1 6 1 11 1-11 1 1 1-4 1-7 1 4 1-4 1-3 1 4 1-1 1 6 1-5 1 4 1-10 1-2 1 4 1 8 1-9 1 1 1 4 1 3 1-7 1 8 1-1 1-2 1 4 1-7 1 4 1-5 1 10 1-15 1 15 1-13 1 1 1 0 1 5 1 0 1-6 1 3 1 0 1 2 1-5 1 14 1-10 1-2 1-3 1 5 1-6 1-5 1 7 1-5 1 6 1-5 1-1 1 6 1 2 1 4 1-3 1-7 1 6 1-3 1 8 1 2 1-12 1 5 1 3 1 2 1-4 1 1 1 4 1-6 1 8 1-5 1-17 1 16 1 1 1-14 1 14 1-15 1 11 1-5 1 8 1-3 1 5 1-5 1 1 1-3 1 3 1-2 1 3 1-7 1-3 1 7 1 0 1 6 1 0 1-4 1-3 1 1 1 1 1 1 1-1 1 0 1-9 1 20 1-6 1-13 1 1 1 10 1-14 1 10 1-2 1 2 1-2 1-6 1 15 1-10 1 8 1-4 1-5 1 10 1-15 1 6 1-1 1-2 1 7 1-5 1 0 1 0 1 4 1-5 1 7 1-3 1 5 1-1 1 3 1 4 1-8 1 5 1 1 1-1 1 3 1-7 1 13 1 0 1-6 1-9 1 0 1 14 1-6 1 1 1 4 1 3 1-3 1-6 1-6 1 3 1 6 1-3 1-1 1-3 1 8 1 4 1-7 1-2 1-5 1 0 1-1 1 7 1-3 1 4 1 0 1-4 1-2 1 2 1-8 1 14 1 4 1 1 1-2 1-2 1-9 1-2 1 7 1-10 1-3 1 2 1 7 1 5 1-10 1 0 1-2 1-1 1-9 1 12 1 6 1 5 1 3 1 5 1-3 1-4 1 4 1-5 1-2 1 0 1-2 1-9 1 1 1 9 1-5 1-17 1 4 1 3 1 11 1-4 1-6 1 10 1 4 1-12 1-1 1 18 1-3 1-1 1-11 1 7 1 11 1-13 1 3 1 1 1 11 1-6 1 17 1-5 1-17 1 15"/>
<path vector-effect="non-scaling-stroke" d="M0 306l1 9 1-3 1 0 1 1 1-6 1 0 1-4 1 16 1 0 1-5 1 2 1-2 1-8 1-3 1 11 1-8 1 1 1 5 1 4 1-5 1 6 1 8 1-4 1 6 1-8 1 1 1-13 1 8 1 0 1 0 1 2 1-10 1 20 1-12 1 6 1-13 1 5 1 4 1-7 1 0 1 4 1 1 1-4 1 3 1 0 1-1 1-2 1 0 1 6 1-9 1 14 1-10 1 2 1-15 1 11 1 3 1-3 1 1 1 4 1 3 1 10 1-1 1-5 1-5 1 6 1-8 1 9 1-4 1 7 1 0 1 2 1-4 1-13 1 5 1 5 1 2 1-6 1 10 1-8 1 5 1 0 1-11 1 6 1-2 1-3 1-6 1 6 1 5 1 4 1-2 1 5 1-15 1-11 1 17 1-5 1 17 1-12 1-4 1 5 1-1 1-3 1 2 1 3 1-7 1 7 1-2 1 3 1-6 1-7 1 6 1-2 1 2 1 1 1-3 1 1 1-2 1 0 1 2 1 0 1-1 1-4 1 1 1 2 1-8 1 4 1-1 1-9 1 9 1 1 1 6 1-1 1 2 1-3 1-1 1 0 1 1 1 14 1-13 1 20 1-14 1-2 1 13 1 2 1 1 1 0 1-9 1-1 1 15 1-11 1 0 1-1 1 0 1-2 1 12 1-6 1 2 1 1 1-5 1-6 1 3 1-4 1 4 1-9 1 15 1-12 1-3 1 8 1-7 1 1 1-6 1 5 1-4 1 16 1-13 1-8 1 4 1 4 1-2 1-10 1-1 1 10 1 1 1 3 1-3 1 5 1-13 1 5 1-5 1 9 1 5 1-7 1-9 1 4 1-2 1 3 1 1 1 1 1 1 1-2 1-5 1 10 1 3 1-4 1 5 1-6 1-2 1 4 1 1 1-3 1 9 1-7 1-6 1-8 1 6 1-1 1 4 1-18 1 9 1 13 1-2 1-6 1 13 1-2 1 2 1 2 1-6 1-1 1 16 1-13 1 9 1-3 1 3 1-1 1 1 1 9 1-1"/>
<path vector-effect="non-scaling-stroke" d="M0 316l1 8 1 4 1-10 1 1 1 7 1 6 1-2 1-12 1-6 1 3 1 4 1-3 1 0 1 15 1-9 1-9 1 9 1 5 1-1 1 2 1 10 1-13 1-1 1 2 1-8 1 8 1 4 1-4 1 8 1 3 1-11 1 2 1-8 1-1 1 12 1-15 1 11 1 5 1-9 1-11 1 14 1-4 1 3 1-3 1-13 1 7 1 3 1 6 1-9 1 9 1-3 1-3 1-5 1 1 1 1 1-6 1 16 1-13 1-2 1 14 1-7 1 0 1-6 1 3 1-5 1 2 1 5 1-1 1-5 1 3 1-6 1 2 1 3 1-6 1 10 1-2 1-4 1 3 1 0 1 2 1 12 1-13 1 8 1 4 1 0 1 1 1-4 1-4 1 2 1 3 1-1 1 3 1 0 1-3 1 3 1-3 1-15 1 7 1 3 1 4 1-2 1-2 1-4 1 6 1-1 1-10 1-1 1 7 1 7 1-6 1 3 1 0 1-5 1-3 1 5 1 3 1-8 1-2 1-3 1 8 1 3 1-3 1 1 1 3 1-6 1 0 1 0 1-3 1-3 1 13 1-8 1 6 1-1 1-4 1 3 1-1 1 4 1 2 1 3 1-5 1 10 1-5 1 1 1 2 1 3 1-2 1 2 1 0 1-9 1 7 1 2 1 2 1-2 1 0 1-3 1 3 1 9 1-2 1 3 1-6 1-1 1 3 1 2 1 0 1-4 1-1 1 10 1-13 1 4 1 6 1-7 1 5 1 0 1-4 1-9 1 4 1-8 1 15 1-11 1 2 1-4 1 5 1-6 1 2 1-7 1-2 1-4 1 4 1 3 1-11 1-2 1 11 1-3 1 9 1-8 1-10 1 1 1 13 1 0 1-4 1-8 1 3 1-5 1 0 1-5 1 6 1 1 1 7 1-4 1 4 1-8 1 5 1 0 1 0 1-3 1 10 1 6 1-8 1 4 1-7 1 6 1 3 1 6 1 5 1-12 1-2 1 13 1-5 1 10 1-10 1 12 1 1 1 5 1-9 1 18 1 2"/>
<path vector-effect="non-scaling-stroke" d="M0 321l1-8 1 13 1-8 1-2 1 1 1 6 1-7 1-7 1 7 1-11 1 8 1-7 1 8 1 7 1-6 1-17 1 13 1-6 1 9 1-8 1 7 1 6 1-7 1 5 1 4 1-12 1 7 1-6 1 10 1-6 1-6 1 3 1 9 1-18 1 11 1 3 1-2 1-1 1-4 1 8 1-6 1-5 1 5 1-2 1 7 1 2 1 2 1-8 1 6 1-2 1-4 1-6 1 5 1 1 1-3 1 0 1 9 1-12 1 3 1 2 1 1 1 5 1-7 1-12 1 11 1 2 1-1 1 6 1 5 1-7 1-9 1 5 1 9 1-6 1 8 1-9 1 3 1 6 1-12 1 5 1 8 1-11 1 9 1 4 1-16 1 9 1 4 1 0 1 3 1-11 1 0 1 9 1-3 1-3 1 6 1 2 1 5 1 4 1-3 1-13 1 4 1 1 1-2 1-6 1 16 1-9 1 5 1-4 1 0 1-5 1 1 1 9 1-5 1-1 1-2 1 6 1-6 1 2 1 3 1-9 1 4 1-6 1 3 1-2 1 7 1 2 1 1 1-12 1 13 1-9 1 4 1 9 1-15 1 7 1-4 1 15 1-16 1 12 1-7 1 13 1-11 1 7 1-4 1 8 1 0 1-8 1 0 1 13 1-1 1-3 1-10 1 4 1-2 1 7 1-1 1 2 1 10 1-17 1 1 1 4 1-9 1 2 1 4 1-1 1 0 1 5 1-1 1 3 1-8 1 0 1 6 1 7 1-25 1 18 1 5 1-3 1 3 1-7 1 7 1-10 1-7 1 1 1 4 1 2 1 0 1 9 1-14 1 11 1-12 1 1 1 9 1-4 1-1 1-1 1 9 1-12 1 2 1-1 1-4 1 6 1-3 1-4 1 11 1-4 1-11 1 5 1 6 1 0 1 5 1-8 1-6 1 12 1-15 1 0 1 2 1-4 1 4 1-1 1 1 1 4 1 6 1-11 1 4 1-7 1-5 1 11 1 3 1 2 1-4 1-3 1 18 1-9 1 2 1 0 1 3 1-11"/>
<path vector-effect="non-scaling-stroke" d="M0 316l1-15 1 11 1-1 1-5 1-2 1 7 1-6 1-10 1 17 1-4 1-3 1 1 1-4 1 0 1 1 1-1 1-1 1-3 1 4 1 7 1-2 1 0 1 5 1-4 1 1 1 5 1 2 1 2 1-5 1-10 1 13 1-1 1 5 1-7 1 9 1-7 1-2 1-4 1 16 1-14 1-2 1-3 1 12 1-4 1-3 1-1 1 1 1 2 1 6 1-15 1 16 1-6 1-9 1 5 1 10 1-10 1-2 1 4 1-4 1-12 1 8 1 2 1 5 1-9 1 8 1 9 1-10 1-4 1 4 1 8 1-8 1-5 1 8 1-5 1 1 1 13 1-4 1 5 1 2 1-2 1 1 1 2 1-2 1-10 1 8 1-5 1-1 1 3 1 10 1-5 1 8 1-9 1-3 1 6 1-6 1 4 1-1 1-6 1 4 1-3 1 9 1-6 1-6 1 2 1 1 1 4 1-10 1 15 1-8 1-3 1 0 1 5 1-4 1 2 1-1 1 2 1 4 1 1 1-4 1-5 1 5 1 2 1-7 1-1 1-1 1 4 1-4 1-1 1 4 1-2 1 8 1-9 1 2 1 3 1 3 1-7 1 7 1 4 1-1 1 7 1-17 1 15 1-1 1-10 1-5 1 16 1-14 1 14 1-9 1 2 1 7 1-1 1-9 1 6 1 2 1-14 1 7 1 9 1-14 1 15 1-14 1 0 1-3 1 6 1 2 1-5 1-1 1-5 1 11 1-6 1 3 1 4 1-1 1-14 1 7 1 5 1-11 1 8 1-14 1-2 1 3 1 2 1 2 1-14 1 4 1-9 1 0 1 3 1 8 1-1 1-3 1-3 1-3 1 2 1 6 1-4 1 2 1-5 1 9 1-2 1 6 1-6 1 10 1 6 1-1 1-13 1 1 1 0 1-10 1 7 1-1 1-1 1 12 1-15 1 8 1-4 1 0 1 3 1 4 1-4 1 7 1-6 1 8 1 2 1 2 1-13 1 9 1 4 1-6 1 8 1-12 1 22 1 7 1 4 1 1 1-11"/>
<path vector-effect="non-scaling-stroke" d="M0 316l1 9 1-4 1 11 1-13 1-9 1 9 1 13 1-20 1 9 1-7 1 5 1-6 1 8 1-7 1 2 1-2 1 3 1 3 1-6 1 10 1-1 1-7 1 7 1-6 1 6 1-14 1 0 1 17 1-11 1-1 1-4 1 13 1-6 1 1 1-6 1 6 1-5 1-4 1 5 1 9 1-8 1 1 1 12 1-2 1 0 1-3 1 5 1-7 1 1 1-9 1 8 1-8 1 5 1-2 1-4 1-10 1 8 1 7 1-27 1 10 1 3 1-4 1-4 1 14 1 2 1 5 1 1 1-5 1-9 1 9 1 2 1-3 1 4 1-4 1 14 1-9 1-5 1 7 1 7 1-14 1 4 1 1 1 1 1 13 1-6 1-10 1-2 1 6 1 2 1-6 1 8 1-4 1-2 1 2 1 0 1-2 1-9 1 6 1 6 1 0 1-1 1 5 1-8 1 7 1-8 1 3 1-4 1 0 1 8 1 2 1-5 1-2 1-3 1 5 1 1 1-11 1 7 1-7 1 8 1 1 1 3 1-7 1 1 1-4 1 6 1-9 1-1 1-1 1 11 1 0 1-4 1-4 1 1 1 6 1-7 1 5 1 7 1-6 1 14 1-18 1 13 1-9 1 5 1 7 1 5 1-23 1 11 1 9 1-11 1 2 1-8 1 7 1 4 1-8 1 5 1 8 1-5 1-19 1 17 1-10 1 7 1-3 1 6 1-5 1 11 1-11 1-1 1 5 1-3 1 5 1-6 1 5 1-17 1 7 1 1 1 6 1-4 1-9 1 1 1-6 1 7 1 1 1 6 1-10 1-1 1 4 1-4 1 9 1-2 1-6 1-7 1 6 1-1 1 5 1-3 1 4 1 1 1-12 1 5 1 2 1 0 1 12 1-6 1 3 1-13 1 6 1-1 1-2 1 10 1-14 1 9 1-2 1-9 1-1 1 8 1 8 1-10 1 5 1 2 1 0 1 9 1-8 1-4 1-4 1 0 1 5 1 20 1-19 1 6 1 14 1-7 1 8 1-1 1 13 1-17 1-2"/>
<path vector-effect="non-scaling-stroke" d="M0 319l1-2 1 7 1-23 1 13 1 1 1-4 1 5 1-11 1 12 1 7 1-5 1-21 1 12 1 7 1-7 1-9 1 13 1-12 1 9 1-5 1 5 1 2 1 7 1 4 1-14 1 10 1-9 1 7 1-1 1 1 1-5 1 2 1-7 1 6 1-3 1 0 1 2 1-1 1 6 1 0 1-10 1 0 1-1 1 4 1-1 1 2 1 0 1-1 1 0 1 6 1 0 1 5 1 1 1-7 1 4 1-6 1 7 1-4 1 4 1-3 1-1 1-6 1 7 1 4 1-5 1-1 1-1 1 1 1 14 1-10 1 4 1 4 1-4 1-2 1-1 1 5 1-3 1 6 1-10 1 15 1-15 1 13 1-10 1 0 1 1 1 0 1-3 1-2 1 1 1 6 1 0 1-13 1 4 1-1 1-4 1 3 1 12 1-12 1 7 1 2 1-2 1-7 1 6 1-3 1-2 1 6 1-1 1-12 1 9 1 1 1-4 1 0 1-5 1 9 1-9 1 2 1 1 1-12 1 17 1-11 1 12 1-6 1-1 1 6 1-4 1-12 1 6 1-3 1 11 1-1 1-2 1 0 1 4 1 1 1 1 1 0 1 7 1-4 1-5 1-4 1 7 1-4 1 2 1-3 1 3 1 1 1 2 1-9 1 8 1-8 1-3 1 0 1 8 1-9 1 1 1 6 1 3 1 8 1-7 1 1 1 5 1-2 1 5 1-2 1-7 1-8 1 21 1 2 1-9 1 3 1-4 1-14 1 9 1-4 1-1 1-4 1 11 1 3 1-5 1 1 1 0 1-6 1-6 1 5 1-6 1-4 1 11 1-2 1-11 1 15 1 0 1-3 1-4 1-4 1 9 1 0 1-2 1 13 1-1 1-9 1 10 1-2 1-13 1 13 1-13 1 5 1 0 1 2 1 7 1-2 1-3 1 2 1 2 1-3 1 3 1-9 1 8 1 3 1-10 1-6 1 6 1 4 1-6 1 4 1 10 1 2 1 5 1 3 1 5 1-6 1 1 1-1 1 13 1-6 1 1 1-1"/>
</g>
</g>
<line x1="67.3" x2="927.1" y1="315.9" y2="315.9" stroke="#808080" stroke-width="2.3" stroke-dasharray="8.5 3.7"/>
<g clip-path="url(#cm0)">
<g transform="matrix(3.3745 0 0 0.2 100.5 0)" fill="none" stroke="#a38a00" stroke-width="3.6" stroke-opacity="0.8" stroke-linejoin="round">
<path vector-effect="non-scaling-stroke" d="M0 1541l1 32 1-53 1 37 1-6 1 12 1 14 1-6 1 8 1-1 1 2 1 32 1 6 1-12 1-12 1 5 1 5 1-12 1 29 1-26 1-11 1-23 1 1 1-10 1-13 1 24 1-14 1 17 1 42 1-22 1-23 1 22 1 15 1-9 1-19 1 2 1 12 1-5 1 39 1-42 1-23 1 40 1 0 1-6 1-28 1 12 1 11 1 4 1-1 1-3 1 4 1-18 1 12 1-12 1-8 1 21 1-5 1 23 1-15 1-5 1 19 1-23 1-3 1 24 1 24 1-30 1-38 1-2 1 8 1-13 1 31 1 6 1 29 1 0 1-3 1-15 1-2 1-1 1-7 1 10 1-8 1 19 1 15 1-37 1 18 1-37 1 21 1 12 1-18 1 29 1-27 1-3 1-16 1 1 1 15 1-17 1 29 1-31 1-37 1 13 1 10 1-2 1 9 1 35 1-19 1 16 1 2 1 4 1 18 1-47 1 38 1-6 1-26 1 6 1-6 1 33 1-9 1 28 1 18 1-15 1-11 1-7 1 8 1-37 1 34 1-38 1 0 1 0 1-10 1-52 1-4 1-2 1 64 1-29 1 7 1 16 1-8 1 29 1 22 1 5 1-43 1 34 1-68 1 29 1 31 1-2 1-38 1-41 1 93 1 22 1-66 1-11 1 40 1-50 1 87 1 0 1-23 1 12 1-11 1-15 1 51 1-84 1 66 1 13 1-21 1-23 1-18 1 10 1-25 1-20 1 22 1 22 1 7 1-48 1-32 1 18 1-27 1 56 1-23 1 5 1 16 1-31 1-2 1 34 1 29 1-25 1 36 1 4 1-12 1-61 1 26 1 31 1-10 1-6 1 42 1-50 1-3 1-27 1-5 1 28 1-34 1-22 1-26 1 46 1 94 1-77 1 3 1 37 1-34 1 17 1 33 1 2 1 16 1-19 1-37 1 35 1-38 1 63 1-78 1 53 1-71 1 25 1-35 1-40 1 52 1-1 1 28 1 17 1-45 1-12 1 31 1 42 1-51 1 11 1 51 1-9 1-2"/>
</g>
<g transform="matrix(3.3745 0 0 0.2 100.5 0)" fill="none" stroke="#ffb000" stroke-width="3.8" stroke-opacity="1" stroke-linejoin="round">
<path vector-effect="non-scaling-stroke" d="M0 1548l1 16 1-5 1 6 1-2 1-1 1 8 1 10 1 34 1 14 1-2 1 7 1 3 1 9 1 14 1 7 1-3 1-11 1-14 1-6 1-31 1 1 1-12 1 0 1-7 1 0 1 7 1-7 1-2 1 5 1-5 1 1 1 15 1 9 1 22 1 35 1 15 1 6 1-35 1-30 1-2 1-24 1-3 1-6 1-8 1 7 1-6 1-9 1-31 1 2 1 9 1-20 1-1 1-2 1 23 1 5 1-14 1 14 1 2 1 11 1 3 1 9 1 5 1 8 1-11 1-4 1 7 1-4 1 20 1 9 1 26 1 19 1 0 1-3 1 0 1 19 1 3 1-16 1-14 1-5 1 18 1 20 1-3 1-19 1-15 1-18 1-11 1-14 1 11 1 7 1 2 1-23 1-17 1-21 1-22 1-16 1-6 1-13 1 15 1 21 1-16 1-16 1-18 1-23 1-2 1-6 1-4 1 0 1 23 1 7 1 7 1-6 1-12 1-3 1 14 1 4 1 2 1 15 1-37 1-2 1-5 1 1 1 7 1 9 1-4 1 9 1 7 1-10 1-13 1 2 1 4 1 14 1 11 1 51 1 35 1 11 1 19 1 3 1 11 1 7 1 2 1-2 1 15 1 17 1 25 1 4 1-19 1 0 1 4 1-3 1-4 1-9 1-13 1 5 1-19 1-13 1-14 1 3 1-7 1-24 1 8 1-11 1-2 1 1 1-9 1-6 1-27 1-4 1 3 1 3 1 16 1-17 1-17 1 15 1 20 1 4 1-21 1-7 1 5 1-16 1-12 1 11 1 4 1-9 1-9 1-6 1 0 1-20 1-8 1-13 1-2 1-12 1-14 1-15 1-3 1 3 1-18 1-32 1-2 1-18 1-6 1-2 1-19 1-19 1-23 1 9 1-14 1-20 1-5 1-19 1-2 1-14 1-11 1 8 1-21 1-21 1-14 1-22 1-11 1-8 1-17 1-10 1-14 1 1 1-2 1-21 1-25 1-22 1-13 1-20 1 2 1-13 1-36 1-8 1-28 1-7 1-21"/>
</g>
<g transform="matrix(3.3745 0 0 0.2 100.5 0)" fill="none" stroke="#4b4c51" stroke-width="4.6" stroke-opacity="1" stroke-linejoin="round">
<path vector-effect="non-scaling-stroke" d="M0 1550l1-7 1-13 1 4 1-1 1-19 1 0 1 5 1-24 1-15 1-23 1-16 1-12 1-24 1-20 1-5 1 9 1 13 1 8 1 16 1 32 1 31 1-7 1 4 1 19 1 10 1 6 1-3 1-19 1-2 1 3 1 2 1 3 1-34 1-16 1-36 1-30 1-16 1 20 1 42 1 45 1 12 1 5 1 34 1-1 1 9 1 4 1-4 1 36 1 22 1 22 1-6 1 8 1 29 1-48 1 0 1 1 1 7 1-7 1-20 1 12 1 23 1-43 1-30 1-15 1-22 1 24 1-4 1-14 1-19 1-21 1-24 1-22 1-12 1 7 1-3 1-4 1 10 1 17 1 6 1-26 1 1 1-8 1 25 1 37 1 18 1 27 1 17 1 9 1 0 1 3 1 17 1 16 1 7 1 33 1 31 1 23 1 41 1-21 1-15 1 4 1 23 1 1 1 32 1 20 1-9 1 8 1 15 1-25 1-5 1 33 1-12 1-18 1-8 1 12 1 18 1-17 1-10 1 36 1 72 1 4 1-17 1-9 1 13 1-28 1-17 1-11 1 22 1 33 1 28 1-8 1-37 1-27 1-57 1-89 1-16 1-22 1-20 1-20 1-9 1-7 1 23 1-29 1-65 1-25 1 2 1 27 1 23 1 10 1 15 1 0 1-11 1 13 1 29 1 41 1 8 1 7 1-2 1 14 1 26 1 20 1 10 1 2 1 22 1 27 1 27 1 22 1 40 1-6 1-12 1 10 1 12 1 25 1-1 1-11 1-6 1 21 1 27 1-10 1 16 1 41 1-3 1-10 1 18 1 28 1 24 1 25 1 14 1-5 1 24 1 24 1 14 1 16 1 24 1 13 1 3 1 12 1 35 1 27 1 16 1 16 1 24 1 18 1 20 1 13 1 19 1 11 1 6 1 18 1 37 1 19 1 29 1 37 1 21 1 14 1 9 1 6 1 14 1 30 1 17 1 19 1 7 1 3 1 21 1 32 1 28 1 18 1 22 1 16 1 19 1 7 1 22 1 14 1 43 1 19 1 11 1 18"/>
</g>
<g transform="matrix(3.3745 0 0 0.2 100.5 0)" fill="none" stroke="#6bd07a" stroke-width="3.8" stroke-opacity="1" stroke-linejoin="round">
<path vector-effect="non-scaling-stroke" d="M0 1601l1-15 1 5 1-11 1-2 1-11 1-14 1 7 1-12 1 0 1 14 1-3 1-6 1 2 1 12 1 7 1-11 1 8 1 2 1-5 1 17 1-6 1 8 1-6 1-8 1-9 1 2 1-4 1 0 1 3 1 2 1 2 1 7 1-8 1-8 1 4 1-7 1 2 1 1 1-8 1 15 1-16 1 0 1 0 1-2 1 0 1-2 1 19 1-7 1-2 1-1 1 1 1-13 1 22 1-5 1-2 1 2 1 1 1-2 1 2 1 0 1 2 1-3 1 7 1-5 1 20 1 0 1-13 1 3 1 3 1 5 1-2 1 9 1-9 1-5 1 10 1-1 1 4 1 2 1 9 1-11 1 10 1-15 1-3 1 9 1-1 1-6 1 8 1-6 1 1 1 1 1-4 1-7 1-3 1-4 1-6 1 7 1-6 1-3 1 23 1-9 1-1 1-2 1 12 1 3 1-5 1 7 1 0 1-6 1 4 1 0 1-5 1-2 1 2 1 1 1-3 1 0 1-9 1 0 1-6 1 6 1 5 1-2 1 4 1 9 1-7 1-9 1-3 1 2 1-5 1-1 1 6 1 1 1-2 1 2 1 20 1 15 1-11 1 0 1-5 1 15 1 1 1 13 1-2 1 16 1 1 1-8 1-4 1 9 1-3 1-8 1 12 1-17 1 0 1 1 1 14 1-3 1 3 1 2 1-5 1-5 1 16 1-13 1 8 1-14 1-1 1-2 1-4 1 4 1 1 1-11 1-2 1-3 1 10 1-1 1 3 1-12 1-17 1-9 1 5 1 11 1-5 1-11 1-3 1-5 1 8 1-4 1-12 1 6 1 2 1 4 1-5 1 2 1-6 1 2 1-8 1 10 1-5 1-13 1 17 1 6 1 8 1-7 1 2 1-4 1-2 1 4 1-8 1 4 1 5 1 2 1-10 1-1 1 5 1-1 1 6 1 10 1-3 1-5 1 3 1 0 1 6 1 18 1 8 1-7 1 8 1 14 1 3 1 15 1 0 1-3 1 12 1 12 1-12 1 7 1 8 1-9"/>
</g>
<g transform="matrix(3.3745 0 0 0.2 100.5 0)" fill="none" stroke="#f0636a" stroke-width="3.8" stroke-opacity="1" stroke-linejoin="round">
<path vector-effect="non-scaling-stroke" d="M0 1635l1 12 1 8 1-6 1-6 1-1 1 3 1 15 1-2 1 4 1 19 1-11 1 16 1 11 1 5 1 1 1 5 1-12 1 3 1-18 1-5 1 3 1-8 1 1 1-11 1-7 1 11 1-24 1 10 1 3 1-1 1-19 1 9 1 17 1 16 1 8 1 2 1 5 1-6 1-17 1-10 1-7 1-8 1-9 1-9 1-7 1 5 1 1 1-9 1-17 1-5 1 0 1 2 1-5 1-3 1 12 1-3 1-7 1 10 1 1 1 4 1 1 1 4 1 5 1 5 1 3 1-9 1 7 1 0 1-5 1 11 1 12 1 0 1-1 1 6 1-4 1-7 1 1 1 11 1 2 1-16 1 3 1-9 1-18 1-8 1-7 1 0 1-24 1 2 1-5 1 6 1-1 1-13 1-6 1-10 1-5 1 1 1-16 1 7 1-4 1 1 1-6 1-2 1-11 1-4 1 15 1-5 1-6 1 1 1-8 1 9 1 0 1 2 1-9 1-10 1-5 1 4 1-6 1-13 1-18 1 0 1 8 1 7 1-7 1-9 1 6 1-10 1-4 1-15 1-11 1 14 1-1 1 2 1 25 1 12 1 10 1 8 1-3 1-7 1 8 1 5 1 2 1-9 1 3 1 10 1 11 1-3 1 1 1-11 1 11 1-19 1-14 1-12 1 1 1 2 1-9 1 2 1-7 1 0 1-14 1-20 1-11 1 1 1-18 1 1 1-4 1-6 1-17 1-17 1 2 1-11 1-8 1-17 1-7 1-8 1 0 1-17 1 5 1-14 1 10 1-3 1-8 1-1 1-7 1 0 1 2 1 3 1-32 1 3 1 3 1-9 1-20 1-4 1-14 1-3 1-5 1-8 1-7 1-12 1-6 1-15 1-13 1-1 1 1 1-9 1-9 1-1 1-16 1-19 1-16 1-11 1-5 1 0 1-14 1 15 1-4 1 2 1-11 1 1 1-21 1-13 1-5 1 2 1-9 1-13 1-6 1-17 1-8 1-12 1-1 1-23 1-9 1-11 1-18 1-4 1-17 1-19"/>
</g>
</g>
<rect x="67.3" y="29.8" width="859.8" height="572.2" fill="none" stroke="#000" stroke-width="2.7"/>
<line x1="62.8" x2="67.3" y1="544.8" y2="544.8" stroke="#000" stroke-width="1"/>
<text x="61.3" y="552.5" font-size="21.3" text-anchor="end">−4</text>
<line x1="62.8" x2="67.3" y1="430.3" y2="430.3" stroke="#000" stroke-width="1"/>
<text x="61.3" y="438" font-size="21.3" text-anchor="end">−2</text>
<line x1="62.8" x2="67.3" y1="315.9" y2="315.9" stroke="#000" stroke-width="1"/>
<text x="61.3" y="323.6" font-size="21.3" text-anchor="end">0</text>
<line x1="62.8" x2="67.3" y1="201.5" y2="201.5" stroke="#000" stroke-width="1"/>
<text x="61.3" y="209.2" font-size="21.3" text-anchor="end">2</text>
<line x1="62.8" x2="67.3" y1="87" y2="87" stroke="#000" stroke-width="1"/>
<text x="61.3" y="94.7" font-size="21.3" text-anchor="end">4</text>
<line x1="927.1" x2="931.6" y1="584.1" y2="584.1" stroke="#000" stroke-width="1"/>
<text x="933.4" y="591.8" font-size="21.3" fill="#9c8700">−1.5</text>
<line x1="927.1" x2="931.6" y1="494.7" y2="494.7" stroke="#000" stroke-width="1"/>
<text x="933.4" y="502.4" font-size="21.3" fill="#9c8700">−1.0</text>
<line x1="927.1" x2="931.6" y1="405.3" y2="405.3" stroke="#000" stroke-width="1"/>
<text x="933.4" y="413" font-size="21.3" fill="#9c8700">−0.5</text>
<line x1="927.1" x2="931.6" y1="315.9" y2="315.9" stroke="#000" stroke-width="1"/>
<text x="933.4" y="323.6" font-size="21.3" fill="#9c8700">0.0</text>
<line x1="927.1" x2="931.6" y1="226.5" y2="226.5" stroke="#000" stroke-width="1"/>
<text x="933.4" y="234.2" font-size="21.3" fill="#9c8700">0.5</text>
<line x1="927.1" x2="931.6" y1="137.1" y2="137.1" stroke="#000" stroke-width="1"/>
<text x="933.4" y="144.8" font-size="21.3" fill="#9c8700">1.0</text>
<line x1="927.1" x2="931.6" y1="47.7" y2="47.7" stroke="#000" stroke-width="1"/>
<text x="933.4" y="55.4" font-size="21.3" fill="#9c8700">1.5</text>
<line x1="176.4" x2="176.4" y1="602.0" y2="606.5" stroke="#000" stroke-width="1"/>
<text x="176.4" y="624.6" font-size="21.3" text-anchor="middle">1880</text>
<line x1="311.4" x2="311.4" y1="602.0" y2="606.5" stroke="#000" stroke-width="1"/>
<text x="311.4" y="624.6" font-size="21.3" text-anchor="middle">1920</text>
<line x1="446.4" x2="446.4" y1="602.0" y2="606.5" stroke="#000" stroke-width="1"/>
<text x="446.4" y="624.6" font-size="21.3" text-anchor="middle">1960</text>
<line x1="581.3" x2="581.3" y1="602.0" y2="606.5" stroke="#000" stroke-width="1"/>
<text x="581.3" y="624.6" font-size="21.3" text-anchor="middle">2000</text>
<line x1="716.3" x2="716.3" y1="602.0" y2="606.5" stroke="#000" stroke-width="1"/>
<text x="716.3" y="624.6" font-size="21.3" text-anchor="middle">2040</text>
<line x1="851.3" x2="851.3" y1="602.0" y2="606.5" stroke="#000" stroke-width="1"/>
<text x="851.3" y="624.6" font-size="21.3" text-anchor="middle">2080</text>
<text x="497.2" y="648.6" font-size="21.3" text-anchor="middle">Years</text>
<text transform="translate(21,314.4) rotate(-90)" font-size="23.2" text-anchor="middle">AS<tspan font-size="16.3" font-style="italic" dy="4.6">mean</tspan><tspan dy="-4.6"> - Indian Ocean(IO)</tspan><tspan font-size="16.3" font-style="italic" dy="4.6">mean</tspan><tspan dy="-4.6" dx="3.5"> (W/m</tspan><tspan font-size="16.3" dy="-9.2">2</tspan><tspan dy="9.2">)</tspan></text>
<text x="66.8" y="23" font-size="30.1" font-weight="bold">a. Arabian Sea (AS)</text>
<line x1="652.2" x2="690.9" y1="517" y2="517" stroke="#a38a00" stroke-width="3"/>
<text x="704.1" y="523.7" font-size="17.9">Temp Tendency</text>
<line x1="531" x2="569.7" y1="548.1" y2="548.1" stroke="#ffb000" stroke-width="3"/>
<text x="582.3" y="554.8" font-size="17.9">Total Advection</text>
<line x1="531" x2="569.7" y1="574.1" y2="574.1" stroke="#4b4c51" stroke-width="3"/>
<text x="582.3" y="580.8" font-size="17.9">Air-Sea Flux</text>
<line x1="752" x2="790.7" y1="548.1" y2="548.1" stroke="#6bd07a" stroke-width="3"/>
<text x="803.4" y="554.8" font-size="17.9">hDiffusion</text>
<line x1="752" x2="790.7" y1="574.1" y2="574.1" stroke="#f0636a" stroke-width="3"/>
<text x="803.4" y="580.8" font-size="17.9">vDiff/Mixing</text>
<rect x="118.9" y="64.5" width="363.3" height="181.3" fill="#fff"/>
<rect x="121.5" y="64.5" width="235.4" height="181.3" fill="#f5f5ec"/>
<rect x="356" y="64.5" width="122.9" height="181.3" fill="#eeeae7"/>
<g clip-path="url(#ci00)">
<g fill="#9a9a9a" fill-opacity="0.15" stroke="none" filter="url(#bl2)">
<path d="M132 152 141 152 149 152 158 152 167 153 175 153 184 153 192 153 201 153 209 153 218 153 227 153 235 153 244 153 252 153 261 153 269 153 278 152 287 152 295 151 304 149 312 147 321 144 330 142 338 139 347 136 355 134 364 132 372 130 381 129 390 127 398 126 407 125 415 124 424 123 432 121 441 120 450 118 458 116 467 115 470 114L470 118 467 119 458 120 450 122 441 124 432 125 424 127 415 128 407 129 398 131 390 132 381 133 372 135 364 136 355 138 347 141 338 143 330 146 321 149 312 151 304 153 295 155 287 156 278 157 269 157 261 157 252 157 244 157 235 157 227 157 218 157 209 157 201 157 192 157 184 157 175 157 167 157 158 157 149 157 141 157 132 156Z"/>
<path d="M132 150 141 150 149 150 158 150 167 150 175 150 184 151 192 151 201 151 209 151 218 151 227 151 235 151 244 151 252 151 261 151 269 151 278 150 287 150 295 149 304 147 312 145 321 142 330 140 338 137 347 134 355 132 364 130 372 128 381 127 390 125 398 124 407 123 415 122 424 120 432 119 441 118 450 116 458 114 467 113 470 112L470 120 467 121 458 122 450 124 441 126 432 127 424 129 415 130 407 131 398 133 390 134 381 135 372 137 364 139 355 140 347 143 338 145 330 148 321 151 312 153 304 155 295 157 287 158 278 159 269 159 261 159 252 159 244 159 235 159 227 159 218 159 209 159 201 159 192 159 184 159 175 159 167 159 158 159 149 159 141 159 132 159Z"/>
<path d="M132 148 141 148 149 148 158 148 167 148 175 148 184 148 192 148 201 148 209 148 218 148 227 148 235 148 244 148 252 148 261 149 269 148 278 148 287 148 295 146 304 144 312 142 321 140 330 137 338 135 347 132 355 130 364 128 372 126 381 124 390 123 398 122 407 121 415 119 424 118 432 117 441 115 450 113 458 112 467 110 470 110L470 123 467 123 458 125 450 127 441 128 432 130 424 131 415 133 407 134 398 135 390 136 381 137 372 139 364 141 355 143 347 145 338 148 330 150 321 153 312 155 304 157 295 159 287 161 278 161 269 162 261 162 252 162 244 162 235 162 227 162 218 161 209 161 201 161 192 161 184 161 175 161 167 161 158 161 149 161 141 161 132 161Z"/>
</g>
<g fill="#55c23a" fill-opacity="0.16" stroke="none" filter="url(#bl2)">
<path d="M132 144 141 144 149 144 158 144 167 144 175 144 184 145 192 145 201 145 209 145 218 146 227 146 235 146 244 147 252 147 261 148 269 148 278 149 287 149 295 152 304 157 312 162 321 167 330 173 338 179 347 188 355 196 364 204 372 209 381 213 390 216 398 219 407 221 415 223 424 223 432 223 441 223 450 224 458 225 467 226 470 226L470 237 467 237 458 236 450 234 441 234 432 234 424 234 415 233 407 231 398 229 390 226 381 223 372 219 364 214 355 206 347 197 338 189 330 182 321 176 312 171 304 166 295 161 287 159 278 158 269 157 261 157 252 156 244 156 235 155 227 155 218 154 209 154 201 154 192 153 184 153 175 153 167 153 158 152 149 152 141 152 132 152Z"/>
<path d="M132 140 141 140 149 140 158 140 167 140 175 140 184 140 192 141 201 141 209 141 218 141 227 142 235 142 244 142 252 143 261 143 269 144 278 144 287 145 295 148 304 152 312 157 321 162 330 168 338 175 347 183 355 191 364 199 372 204 381 208 390 211 398 214 407 216 415 218 424 218 432 218 441 218 450 219 458 220 467 221 470 221L470 243 467 242 458 241 450 240 441 239 432 239 424 239 415 238 407 237 398 234 390 231 381 228 372 224 364 218 355 211 347 202 338 194 330 187 321 181 312 176 304 171 295 166 287 163 278 162 269 162 261 161 252 160 244 160 235 160 227 159 218 159 209 158 201 158 192 158 184 157 175 157 167 157 158 157 149 156 141 156 132 156Z"/>
<path d="M132 135 141 135 149 135 158 135 167 135 175 135 184 135 192 136 201 136 209 136 218 136 227 137 235 137 244 137 252 137 261 138 269 138 278 139 287 140 295 142 304 147 312 152 321 157 330 163 338 169 347 177 355 186 364 193 372 199 381 203 390 205 398 208 407 210 415 212 424 212 432 212 441 212 450 212 458 213 467 215 470 215L470 249 467 249 458 247 450 246 441 245 432 245 424 245 415 244 407 242 398 240 390 237 381 234 372 230 364 224 355 216 347 207 338 199 330 192 321 186 312 181 304 176 295 171 287 168 278 168 269 167 261 166 252 166 244 165 235 165 227 164 218 164 209 163 201 163 192 163 184 162 175 162 167 162 158 161 149 161 141 161 132 161Z"/>
</g>
<g fill="#a0a030" fill-opacity="0.15" stroke="none" filter="url(#bl2)">
<path d="M132 154 141 154 149 154 158 154 167 154 175 154 184 154 192 154 201 154 209 154 218 154 227 154 235 154 244 154 252 154 261 154 269 154 278 154 287 154 295 154 304 154 312 154 321 154 330 154 338 154 347 154 355 154 364 155 372 155 381 155 390 155 398 155 407 156 415 156 424 156 432 156 441 156 450 157 458 157 467 157 470 157L470 159 467 159 458 159 450 159 441 159 432 158 424 158 415 158 407 158 398 158 390 157 381 157 372 157 364 157 355 157 347 156 338 156 330 156 321 156 312 156 304 156 295 156 287 156 278 156 269 156 261 156 252 156 244 156 235 156 227 156 218 156 209 156 201 156 192 156 184 156 175 156 167 156 158 156 149 156 141 156 132 156Z"/>
<path d="M132 153 141 153 149 153 158 153 167 153 175 153 184 153 192 153 201 153 209 153 218 153 227 153 235 153 244 153 252 153 261 153 269 153 278 153 287 153 295 153 304 153 312 153 321 153 330 153 338 153 347 153 355 153 364 154 372 154 381 154 390 154 398 154 407 154 415 155 424 155 432 155 441 155 450 155 458 156 467 156 470 156L470 160 467 160 458 160 450 160 441 160 432 160 424 159 415 159 407 159 398 159 390 159 381 158 372 158 364 158 355 158 347 158 338 157 330 157 321 157 312 157 304 157 295 157 287 157 278 157 269 157 261 157 252 157 244 157 235 157 227 157 218 157 209 157 201 157 192 157 184 157 175 157 167 157 158 157 149 157 141 157 132 157Z"/>
<path d="M132 152 141 152 149 152 158 152 167 152 175 152 184 152 192 152 201 152 209 152 218 152 227 152 235 152 244 152 252 152 261 152 269 152 278 152 287 152 295 152 304 152 312 152 321 152 330 152 338 152 347 152 355 152 364 152 372 152 381 153 390 153 398 153 407 153 415 153 424 154 432 154 441 154 450 154 458 154 467 154 470 154L470 162 467 162 458 162 450 161 441 161 432 161 424 161 415 161 407 160 398 160 390 160 381 160 372 159 364 159 355 159 347 159 338 159 330 159 321 159 312 159 304 159 295 159 287 159 278 159 269 159 261 158 252 158 244 158 235 158 227 158 218 158 209 158 201 158 192 158 184 158 175 158 167 158 158 158 149 158 141 158 132 158Z"/>
</g>
<g fill="#a3a3d8" fill-opacity="0.14" stroke="none" filter="url(#bl2)">
<path d="M132 152 141 152 149 152 158 152 167 152 175 152 184 152 192 152 201 152 209 151 218 151 227 151 235 151 244 151 252 151 261 151 269 151 278 151 287 151 295 148 304 144 312 139 321 134 330 131 338 128 347 126 355 125 364 124 372 123 381 122 390 122 398 121 407 122 415 124 424 126 432 129 441 132 450 135 458 138 467 140 470 141L470 148 467 148 458 146 450 143 441 140 432 137 424 134 415 131 407 129 398 129 390 129 381 129 372 130 364 131 355 132 347 133 338 135 330 138 321 141 312 146 304 151 295 155 287 158 278 158 269 158 261 158 252 158 244 158 235 158 227 158 218 158 209 158 201 158 192 158 184 158 175 158 167 158 158 158 149 158 141 158 132 158Z"/>
<path d="M132 149 141 149 149 149 158 149 167 149 175 148 184 148 192 148 201 148 209 148 218 148 227 148 235 148 244 148 252 148 261 148 269 148 278 148 287 147 295 145 304 140 312 135 321 131 330 127 338 124 347 122 355 121 364 120 372 119 381 119 390 118 398 118 407 118 415 120 424 123 432 125 441 128 450 132 458 134 467 137 470 137L470 152 467 152 458 149 450 147 441 143 432 140 424 138 415 135 407 133 398 132 390 133 381 133 372 134 364 134 355 136 347 137 338 138 330 141 321 145 312 149 304 154 295 159 287 161 278 161 269 161 261 161 252 161 244 161 235 161 227 161 218 161 209 161 201 161 192 161 184 161 175 161 167 161 158 161 149 161 141 161 132 161Z"/>
<path d="M132 145 141 145 149 145 158 145 167 145 175 145 184 145 192 145 201 144 209 144 218 144 227 144 235 144 244 144 252 144 261 144 269 144 278 144 287 143 295 141 304 136 312 131 321 127 330 123 338 120 347 118 355 117 364 116 372 115 381 114 390 114 398 113 407 114 415 116 424 118 432 121 441 124 450 127 458 130 467 132 470 133L470 157 467 156 458 154 450 151 441 148 432 145 424 142 415 139 407 137 398 137 390 137 381 137 372 138 364 139 355 140 347 141 338 142 330 145 321 149 312 153 304 158 295 163 287 165 278 165 269 165 261 165 252 165 244 165 235 165 227 165 218 165 209 165 201 165 192 165 184 165 175 165 167 165 158 165 149 165 141 165 132 165Z"/>
</g>
<g fill="#a83030" fill-opacity="0.16" stroke="none" filter="url(#bl2)">
<path d="M132 147 141 145 149 144 158 145 167 146 175 148 184 149 192 148 201 146 209 146 218 149 227 151 235 153 244 155 252 156 261 156 269 154 278 154 287 153 295 153 304 152 312 152 321 152 330 150 338 148 347 150 355 152 364 154 372 156 381 159 390 161 398 164 407 166 415 168 424 170 432 172 441 174 450 176 458 179 467 183 470 184L470 194 467 193 458 190 450 186 441 184 432 182 424 180 415 178 407 176 398 173 390 171 381 169 372 166 364 164 355 162 347 159 338 158 330 159 321 161 312 162 304 162 295 162 287 162 278 163 269 164 261 165 252 165 244 164 235 162 227 160 218 158 209 156 201 155 192 157 184 158 175 157 167 155 158 154 149 153 141 154 132 156Z"/>
<path d="M132 143 141 141 149 140 158 140 167 141 175 143 184 144 192 143 201 142 209 142 218 144 227 146 235 148 244 150 252 151 261 151 269 150 278 149 287 148 295 148 304 148 312 147 321 147 330 145 338 143 347 145 355 147 364 149 372 152 381 154 390 156 398 159 407 161 415 163 424 165 432 167 441 169 450 171 458 174 467 178 470 179L470 199 467 198 458 195 450 191 441 189 432 187 424 185 415 183 407 181 398 178 390 176 381 173 372 171 364 169 355 166 347 164 338 163 330 164 321 166 312 166 304 167 295 167 287 167 278 168 269 168 261 169 252 170 244 169 235 167 227 165 218 162 209 160 201 160 192 161 184 162 175 161 167 159 158 158 149 158 141 159 132 160Z"/>
<path d="M132 138 141 136 149 135 158 135 167 136 175 138 184 139 192 138 201 136 209 137 218 139 227 141 235 143 244 145 252 146 261 145 269 144 278 144 287 143 295 142 304 142 312 142 321 141 330 139 338 138 347 139 355 141 364 143 372 146 381 148 390 151 398 153 407 155 415 157 424 160 432 161 441 163 450 165 458 169 467 172 470 173L470 205 467 204 458 200 450 197 441 195 432 193 424 191 415 189 407 186 398 184 390 182 381 179 372 177 364 174 355 172 347 170 338 168 330 170 321 171 312 172 304 172 295 172 287 173 278 173 269 174 261 175 252 175 244 174 235 172 227 170 218 168 209 165 201 165 192 167 184 168 175 166 167 164 158 163 149 163 141 164 132 165Z"/>
</g>
<g transform="matrix(2.859 0 0 0.5 132.2 0)" fill="none" stroke="#9a9a9a" stroke-width="0.8" stroke-opacity="0.18" stroke-linejoin="round">
<path vector-effect="non-scaling-stroke" d="M0 306l1-3 1-2 1 13 1-9 1-3 1-2 1 5 1 7 1-5 1 1 1 2 1 1 1-9 1 7 1-5 1 2 1 4 1-3 1-6 1 0 1 9 1 2 1-6 1 2 1 7 1-6 1 1 1 1 1-7 1 8 1 0 1-6 1 5 1 1 1-1 1-1 1-3 1-10 1 8 1-2 1-3 1 3 1 3 1-6 1 0 1 7 1 1 1-3 1-7 1 1 1 11 1-4 1-2 1 7 1-5 1-3 1 3 1 6 1-6 1 1 1 2 1-16 1 11 1-6 1 1 1-2 1 0 1-2 1-5 1-2 1-8 1 1 1-1 1-12 1 0 1 3 1-11 1 0 1 7 1-3 1-1 1 4 1 1 1-3 1-8 1-2 1-3 1 3 1 4 1-2 1-2 1-7 1 2 1 9 1-10 1 10 1-8 1-2 1-6 1 2 1 3 1 6 1-4 1-2 1-8 1-2 1 1 1 6 1-11 1-2 1-3 1-12 1-2 1 2 1 1 1-8 1 17 1-5"/>
<path vector-effect="non-scaling-stroke" d="M0 318l1-7 1 8 1-7 1 8 1-5 1 3 1-8 1 0 1-13 1 9 1-2 1 7 1 1 1-4 1 1 1 1 1-6 1 9 1-7 1-3 1 3 1 2 1-8 1-4 1 6 1 0 1-5 1 10 1-6 1 8 1-3 1 8 1 4 1-4 1 7 1-3 1 0 1-7 1-6 1 7 1 0 1 9 1 1 1-3 1 10 1-7 1-9 1 3 1 3 1-8 1-1 1 11 1-8 1 2 1-9 1 8 1-9 1-9 1 6 1-3 1 1 1-1 1-4 1-1 1-1 1 15 1-11 1 2 1 3 1-1 1-17 1 3 1-1 1 5 1-3 1-7 1 6 1 3 1-14 1-1 1-2 1-9 1 6 1-3 1-9 1 7 1-9 1 2 1 8 1-14 1 7 1-9 1-11 1 9 1 2 1 0 1 0 1 3 1 2 1-5 1 0 1-4 1 1 1-5 1 4 1 1 1-4 1-8 1 3 1 1 1-4 1-2 1 8 1-7 1-4 1 4 1-1 1-9"/>
<path vector-effect="non-scaling-stroke" d="M0 316l1-10 1 11 1-10 1 6 1-7 1 2 1-8 1 5 1-6 1 8 1 0 1-1 1 4 1 2 1 5 1 0 1-4 1 0 1-2 1 4 1-3 1 4 1-2 1 2 1-3 1-1 1-4 1-5 1 9 1-1 1-4 1 5 1 7 1-2 1 2 1-1 1-4 1 1 1 0 1-2 1-1 1-1 1 0 1 4 1 2 1 0 1-4 1 5 1-7 1-2 1-7 1 8 1-7 1 2 1-1 1-4 1-1 1 5 1 9 1-6 1 1 1 0 1 0 1 3 1-1 1-7 1 3 1-4 1-10 1 0 1-1 1-3 1 1 1 0 1-6 1 7 1-14 1-4 1 1 1 6 1-4 1-3 1-1 1-4 1 2 1 0 1 0 1-5 1-11 1 7 1-4 1 1 1-4 1-5 1 9 1-4 1-6 1 11 1-7 1-5 1 6 1 2 1-5 1-11 1-1 1 3 1 2 1 0 1 5 1-7 1-5 1 1 1 0 1-2 1 1 1-10 1 1 1 8"/>
<path vector-effect="non-scaling-stroke" d="M0 309l1 10 1-3 1-5 1 0 1-4 1 1 1 5 1-4 1-1 1 11 1-6 1-4 1-8 1 9 1-12 1 11 1 3 1-6 1 4 1-3 1-5 1 0 1 1 1 7 1-1 1 4 1-4 1 5 1-11 1 0 1 3 1-6 1 12 1 3 1 2 1-2 1-15 1 6 1 6 1 3 1-2 1 1 1-3 1-1 1 2 1-7 1 6 1-5 1 1 1-1 1 5 1-7 1 5 1-5 1-3 1 2 1-2 1 3 1 3 1-4 1 8 1-7 1 5 1-13 1-7 1 4 1-4 1-4 1 0 1 0 1 1 1-7 1 9 1-6 1-3 1-3 1-6 1 1 1-4 1 9 1-8 1 2 1-9 1-4 1 5 1 2 1-5 1 0 1-1 1 3 1 1 1 1 1-2 1-10 1 5 1-5 1-3 1-1 1-2 1 5 1-1 1 1 1 6 1-5 1 7 1 4 1-7 1 1 1-6 1 5 1-4 1 3 1-6 1 6 1-6 1-1 1-3 1-2"/>
<path vector-effect="non-scaling-stroke" d="M0 304l1 0 1 3 1-2 1-3 1 6 1-3 1-5 1 14 1-6 1-5 1-6 1 4 1 4 1-7 1-7 1 6 1 5 1-8 1 8 1-1 1 5 1 4 1 2 1 0 1 8 1 2 1-7 1 4 1 9 1-9 1 4 1-5 1 2 1 7 1 2 1-9 1 0 1-7 1-6 1-2 1-4 1 10 1-3 1 11 1-11 1-2 1-3 1-4 1 0 1 9 1-7 1 6 1 2 1-2 1-8 1-3 1 6 1-2 1 2 1-6 1 3 1-5 1 0 1 9 1 2 1-10 1-2 1-8 1-1 1 4 1 3 1-1 1-8 1-2 1 3 1-2 1 2 1-5 1 3 1 2 1-5 1 1 1-8 1 8 1-10 1-5 1 0 1-1 1 6 1-7 1-3 1-5 1 2 1 1 1 5 1-13 1 7 1-3 1 1 1-2 1-11 1 10 1-1 1-2 1 3 1-2 1 1 1 3 1-7 1 0 1-2 1 3 1-3 1-11 1-1 1-3 1 2 1-5"/>
<path vector-effect="non-scaling-stroke" d="M0 317l1-4 1 1 1 0 1-7 1 10 1-8 1 1 1-1 1 5 1-2 1 5 1-6 1 4 1 8 1 2 1-5 1-7 1 14 1-2 1-4 1 0 1-7 1 3 1 6 1-8 1 1 1 6 1-2 1 6 1-10 1-1 1-2 1-3 1 2 1-6 1 5 1-5 1 13 1-6 1 7 1-12 1-3 1 2 1 8 1-3 1-7 1 4 1 0 1-3 1 7 1 4 1-3 1-1 1 1 1-3 1-2 1-4 1-6 1-5 1 2 1 1 1-1 1 1 1 2 1-4 1 4 1-4 1-1 1-3 1 4 1 1 1-3 1-13 1 1 1 5 1-13 1 3 1-1 1 1 1-4 1-3 1-7 1 1 1-5 1 6 1-14 1 6 1-4 1 5 1-6 1 1 1-1 1-1 1 3 1-5 1-2 1 0 1 2 1 1 1 1 1-4 1 2 1-2 1 5 1-9 1 6 1-11 1 3 1 0 1-2 1 5 1-3 1-2 1 2 1 3 1-5 1 0 1 4"/>
<path vector-effect="non-scaling-stroke" d="M0 309l1 10 1-12 1 5 1 0 1 3 1 1 1 2 1-3 1-1 1-7 1-3 1 3 1-6 1 5 1 2 1 7 1-5 1-3 1 5 1-8 1-3 1 4 1 3 1-1 1-5 1 8 1 5 1-1 1 0 1-9 1 4 1-7 1 2 1 7 1 0 1-6 1 3 1 7 1-6 1-1 1 3 1-8 1 7 1-1 1 1 1-9 1 10 1-5 1 0 1 7 1 0 1 4 1-6 1 6 1-5 1-2 1-3 1 1 1 8 1-10 1-6 1 2 1 7 1-5 1-3 1-3 1 0 1-6 1-1 1 5 1-5 1 1 1-3 1-6 1 11 1-1 1-15 1 0 1-5 1-4 1-1 1 6 1-13 1 0 1 0 1 0 1 3 1 8 1-5 1-12 1 13 1-3 1-7 1-3 1 3 1 0 1-3 1-5 1 1 1-4 1 7 1-4 1-9 1 4 1 0 1-4 1 4 1-3 1-1 1-1 1 5 1-8 1-4 1 1 1-2 1 11 1-3 1-3"/>
</g>
<g transform="matrix(2.859 0 0 0.5 132.2 0)" fill="none" stroke="#55c23a" stroke-width="0.8" stroke-opacity="0.18" stroke-linejoin="round">
<path vector-effect="non-scaling-stroke" d="M0 304l1-5 1 8 1-6 1-1 1-6 1 19 1-9 1 5 1-19 1-8 1 7 1 4 1 4 1 3 1-7 1 9 1 16 1-22 1-3 1 7 1-5 1-20 1 21 1 9 1-6 1 11 1 10 1-6 1 12 1-2 1 0 1-1 1 19 1 3 1-5 1-16 1 0 1-10 1 4 1 0 1 8 1-15 1-13 1-11 1 25 1-15 1 7 1-7 1-7 1 4 1-3 1 12 1-22 1 3 1-3 1-16 1 30 1-1 1 12 1 12 1 4 1-16 1 32 1-3 1 9 1 5 1-8 1-2 1 17 1-5 1 9 1 0 1 28 1-17 1 25 1-6 1 14 1-8 1 2 1 24 1 3 1 6 1 6 1 0 1 10 1-6 1-3 1 6 1-2 1 10 1 9 1-2 1 20 1 11 1-11 1-20 1-7 1 5 1 9 1-15 1 21 1 0 1-15 1 12 1-2 1 11 1 2 1-3 1-1 1-1 1-9 1 5 1 4 1-13 1 10 1-11 1 13 1 19"/>
<path vector-effect="non-scaling-stroke" d="M0 304l1-4 1-12 1 6 1-1 1-15 1 2 1 6 1-11 1 12 1 3 1 6 1-16 1-4 1-11 1 12 1 0 1 4 1-10 1 6 1 9 1 2 1 10 1-10 1 1 1 9 1-4 1 6 1 0 1-5 1 5 1-8 1 6 1 3 1-11 1 12 1 5 1-17 1 14 1 3 1-6 1-3 1-2 1 4 1-13 1 13 1 13 1-18 1 0 1-3 1 8 1 6 1-6 1-3 1-6 1 8 1 9 1 3 1 19 1 2 1 1 1-2 1 18 1 20 1 2 1 0 1 5 1 20 1-8 1 3 1-26 1 11 1 16 1 3 1 13 1-11 1 18 1 4 1-4 1 6 1 8 1 7 1 2 1-4 1 27 1-11 1-4 1 6 1-13 1 4 1-17 1 1 1 6 1-10 1 2 1 8 1 14 1-10 1 7 1-5 1 22 1 22 1-7 1 9 1 2 1-13 1 1 1-4 1 5 1-5 1-4 1-6 1-8 1 3 1 10 1-11 1 11 1 11 1-1"/>
<path vector-effect="non-scaling-stroke" d="M0 283l1-2 1-6 1-3 1 2 1-2 1-11 1 15 1-1 1 17 1-15 1 13 1-19 1 7 1 5 1-4 1-5 1 19 1-11 1 10 1 15 1-4 1-2 1-2 1 10 1-15 1 15 1-9 1 10 1-3 1-3 1-22 1 10 1-8 1 17 1 8 1 1 1-19 1 17 1 0 1-12 1 24 1-15 1 7 1 13 1-24 1 16 1-6 1 0 1-11 1 2 1-7 1 10 1 3 1-8 1-10 1 2 1 12 1 3 1 5 1-5 1 0 1 6 1 11 1-4 1 23 1-2 1-7 1 6 1 8 1-6 1-5 1 8 1 17 1 21 1 11 1 9 1-18 1 2 1 23 1 2 1 17 1 13 1-23 1 27 1-12 1-3 1 5 1 14 1-16 1 14 1-4 1-11 1 23 1-30 1-5 1-9 1 17 1-7 1-9 1 20 1-1 1-19 1 3 1 18 1 14 1-3 1 12 1-6 1 4 1-9 1-1 1-2 1-7 1 30 1-17 1 14 1 3 1-20"/>
<path vector-effect="non-scaling-stroke" d="M0 283l1-19 1 4 1-7 1 17 1-9 1 7 1 5 1 11 1 11 1-1 1 7 1-14 1 5 1 14 1-23 1 6 1 4 1-3 1-6 1-3 1-5 1 5 1 4 1-10 1 9 1 9 1 8 1-25 1 8 1-10 1 0 1 5 1 12 1 1 1-10 1 9 1-18 1 2 1-4 1-2 1-11 1 5 1 4 1 1 1 1 1-17 1 14 1 18 1-4 1 9 1 0 1 6 1 9 1-21 1 18 1 5 1-22 1 23 1 3 1 4 1-8 1 23 1-4 1 7 1-1 1 7 1 7 1 21 1 1 1 10 1-1 1 12 1 14 1-12 1 15 1-22 1 33 1 0 1-6 1 6 1-1 1 12 1-8 1 14 1-5 1-2 1 11 1-15 1-7 1 5 1 2 1 3 1 5 1 1 1-19 1 19 1-2 1-2 1 21 1 11 1-3 1-12 1 8 1 20 1-2 1 0 1-10 1-10 1-10 1-4 1 14 1-2 1 16 1 13 1-24 1 9 1 18 1-9"/>
<path vector-effect="non-scaling-stroke" d="M0 266l1-19 1 9 1-2 1-12 1-6 1 14 1 1 1-1 1 13 1 5 1 0 1 14 1-2 1 5 1 4 1-18 1 18 1-14 1 21 1-7 1 4 1-7 1-4 1 6 1 4 1-4 1-1 1-12 1 11 1 16 1-7 1-6 1 9 1-12 1 9 1-16 1 6 1 7 1-11 1 9 1 1 1-3 1-5 1 7 1-17 1-17 1 6 1-1 1 6 1 1 1 19 1-18 1 5 1-14 1 10 1 19 1-6 1 13 1 10 1 1 1 14 1-16 1 22 1 6 1-1 1-6 1 1 1 8 1 10 1-9 1-1 1 10 1 22 1 0 1 11 1 6 1-6 1 20 1-1 1-9 1 13 1 9 1-18 1 23 1 0 1 0 1 16 1 3 1 0 1 6 1-2 1-8 1 3 1 10 1-7 1 23 1 0 1 17 1 7 1 10 1-10 1-6 1 1 1 0 1-4 1-3 1-18 1-15 1 8 1-3 1-6 1 10 1-3 1-7 1 3 1 25 1 6 1-9"/>
<path vector-effect="non-scaling-stroke" d="M0 298l1-5 1 3 1-2 1 14 1-9 1-4 1-8 1 19 1 3 1-2 1-3 1 4 1 11 1-12 1-6 1-9 1 8 1-3 1-7 1-1 1 14 1-5 1 3 1-12 1-2 1 4 1 15 1 7 1-6 1 0 1 9 1 8 1-5 1-5 1-4 1-1 1-8 1 1 1 12 1 4 1-16 1 0 1 16 1-17 1 12 1-21 1 16 1 4 1-14 1-2 1-3 1 9 1 9 1 14 1-8 1 2 1 1 1-5 1 5 1-6 1 30 1-11 1 11 1-29 1 4 1 10 1 14 1-4 1 10 1 24 1-8 1 0 1-3 1 6 1 15 1 6 1-3 1 14 1 14 1-1 1 20 1-3 1 12 1-1 1 2 1 13 1-7 1 5 1 13 1-6 1-12 1 16 1-22 1 13 1-6 1 12 1 7 1 1 1 18 1 0 1 3 1 7 1-18 1-3 1 19 1-2 1-1 1 3 1 2 1 10 1 3 1-14 1-12 1-12 1 13 1-3 1-20 1 2"/>
<path vector-effect="non-scaling-stroke" d="M0 286l1 13 1-13 1 6 1 1 1 1 1-4 1 10 1-13 1-7 1 14 1-9 1 0 1 28 1-6 1-5 1 14 1-6 1 12 1-22 1 15 1-5 1-4 1 19 1-15 1 26 1-14 1 1 1 10 1-9 1 6 1 3 1-6 1-5 1 8 1-8 1-7 1-2 1-3 1 1 1-2 1 4 1 7 1 2 1-20 1 10 1-3 1-2 1 2 1-5 1-7 1 4 1 2 1-1 1 13 1 12 1-12 1-3 1 10 1 1 1 0 1 9 1 16 1-26 1 22 1 0 1 21 1 13 1 6 1-9 1-16 1 30 1-23 1 12 1 12 1 13 1-1 1 3 1 11 1 6 1 0 1 16 1 2 1 21 1-3 1 8 1 3 1 0 1-4 1 6 1-2 1-18 1 5 1-4 1-13 1-18 1 21 1-5 1 20 1-10 1 8 1-1 1-11 1 21 1 10 1-8 1 8 1-14 1-5 1 7 1-1 1-9 1-16 1 12 1 15 1-10 1 11 1 14 1-17"/>
</g>
<g transform="matrix(2.859 0 0 0.5 132.2 0)" fill="none" stroke="#a0a030" stroke-width="0.8" stroke-opacity="0.18" stroke-linejoin="round">
<path vector-effect="non-scaling-stroke" d="M0 312l1 0 1 1 1-4 1 0 1-1 1 2 1 4 1-3 1 4 1-4 1-2 1 2 1 2 1-1 1-3 1 5 1-1 1 2 1-2 1-1 1 2 1 0 1-2 1 0 1 1 1-2 1 1 1-3 1 1 1 2 1-3 1 2 1 0 1 0 1 1 1-1 1 0 1-2 1 3 1 1 1 0 1-3 1 3 1-2 1 0 1-1 1 4 1-3 1-1 1 2 1-5 1 3 1-2 1 2 1 1 1-3 1 1 1 1 1 1 1 1 1 1 1 0 1 1 1 2 1 3 1-7 1 3 1-2 1 2 1-4 1 1 1 2 1-3 1 0 1 2 1 0 1 1 1 1 1-2 1-1 1 1 1-3 1-1 1 3 1-1 1-3 1 3 1-1 1-1 1 2 1 1 1 0 1-2 1 3 1-6 1 5 1-3 1 1 1-2 1 0 1 0 1 5 1-5 1-1 1 0 1 0 1-3 1 5 1-2 1 2 1 0 1 1 1 1 1 2 1 0 1-5 1 2 1-1"/>
<path vector-effect="non-scaling-stroke" d="M0 309l1-1 1 0 1 1 1-3 1 2 1-1 1-1 1 0 1 1 1 3 1-1 1-2 1 3 1 1 1 3 1-5 1 2 1 0 1 1 1 3 1-2 1-1 1-1 1 0 1 4 1 0 1-1 1 6 1-7 1 2 1 0 1-2 1 3 1-1 1-4 1-1 1 0 1 4 1-3 1 2 1 0 1-2 1 1 1-1 1-3 1 0 1 2 1 1 1-5 1 3 1 2 1-3 1 2 1 0 1-2 1 2 1-2 1 1 1 0 1 0 1 1 1-2 1 2 1-2 1-1 1-2 1 2 1 1 1 2 1-4 1-4 1 4 1 0 1-1 1 3 1 0 1 0 1-1 1 3 1-4 1 2 1-1 1-1 1 6 1-2 1 1 1 1 1-3 1 0 1 1 1-3 1 2 1-3 1 5 1 0 1-3 1 1 1 3 1 3 1 5 1-3 1-2 1 4 1-2 1-4 1 4 1 2 1 2 1-1 1 1 1 0 1-2 1 3 1-2 1-3 1 1 1 0 1-2"/>
<path vector-effect="non-scaling-stroke" d="M0 306l1 1 1 3 1 0 1-7 1 4 1-1 1 4 1-3 1 5 1-3 1 2 1-3 1 1 1 6 1 1 1-6 1 4 1-1 1 4 1-7 1 1 1 2 1-2 1-3 1 0 1 3 1-2 1 0 1-3 1 1 1 2 1 0 1 1 1 0 1-1 1-3 1 0 1-2 1 1 1 0 1-1 1 3 1 2 1-2 1 3 1-4 1 1 1 2 1-4 1 2 1 0 1 3 1-2 1 1 1 0 1-1 1-3 1 6 1-1 1-1 1-1 1 1 1 0 1 1 1 2 1-1 1 0 1-4 1-1 1 0 1-1 1 5 1 1 1 0 1 1 1 1 1-2 1 1 1 0 1 3 1-1 1-1 1 0 1-3 1 1 1 4 1 4 1-1 1-1 1 2 1-5 1 6 1-6 1 0 1-1 1-1 1-1 1-1 1 1 1 0 1 2 1-3 1 1 1-1 1 4 1-4 1 3 1 1 1 3 1 0 1 0 1-3 1-1 1-1 1 3 1 1 1 1 1-1"/>
<path vector-effect="non-scaling-stroke" d="M0 308l1-4 1 1 1 4 1 0 1 3 1-1 1-2 1-1 1 0 1-3 1 5 1-2 1 1 1 3 1 0 1-3 1 5 1-4 1 1 1 3 1-1 1-2 1 1 1-1 1 1 1 2 1-4 1 3 1 0 1-1 1 3 1 1 1-4 1 0 1 0 1 5 1-1 1-1 1 1 1-3 1 2 1 2 1-5 1 1 1-2 1 0 1 0 1 1 1-1 1 1 1 2 1 0 1 1 1 0 1-1 1-5 1 8 1-2 1 5 1-3 1-6 1 4 1 0 1-2 1 1 1-1 1 1 1-1 1-3 1 3 1 1 1 2 1-3 1 2 1 0 1-1 1-1 1 0 1 3 1-1 1 2 1-3 1-3 1 4 1 1 1-1 1 0 1-2 1 2 1-1 1 0 1-1 1 1 1-2 1 3 1-2 1 0 1 2 1-2 1-1 1 0 1-1 1 4 1 0 1-1 1 2 1 2 1 0 1 0 1 1 1 4 1-2 1-2 1 1 1 0 1 2 1 2 1-1"/>
<path vector-effect="non-scaling-stroke" d="M0 312l1 0 1 0 1-5 1 2 1-4 1 1 1 0 1 4 1 0 1 1 1-3 1-1 1 3 1-2 1 2 1-1 1 0 1-3 1 1 1 4 1-4 1 0 1 4 1-2 1 0 1-2 1 2 1-2 1-2 1 1 1 0 1 3 1-3 1-2 1 2 1 0 1 1 1 6 1-5 1 0 1-1 1 4 1 2 1-2 1 1 1 5 1-5 1 1 1 3 1-1 1 1 1-2 1 4 1-5 1 0 1-2 1-1 1 1 1-1 1 0 1 0 1 3 1 1 1 0 1-2 1-2 1 1 1-3 1 0 1 1 1 2 1-3 1 1 1-1 1 2 1-4 1 4 1-3 1 2 1 2 1-4 1 4 1-1 1 2 1 1 1 3 1-1 1-2 1-1 1-3 1 2 1 0 1-2 1 1 1-3 1 1 1 0 1 3 1 1 1 2 1-3 1 5 1-2 1 4 1-1 1 3 1-3 1 4 1 0 1-1 1 0 1 3 1-2 1 2 1 0 1-4 1 4 1 0"/>
<path vector-effect="non-scaling-stroke" d="M0 317l1 1 1 0 1-1 1-3 1 0 1-1 1 1 1-2 1-2 1 2 1 4 1-1 1 0 1 2 1-2 1-1 1-1 1 2 1 1 1-1 1 2 1-4 1 4 1-1 1 1 1 1 1 1 1 0 1 0 1-1 1-3 1 3 1 0 1-2 1 3 1-3 1-3 1 1 1-1 1 0 1-4 1 1 1-1 1 1 1 2 1-1 1 6 1-3 1 0 1-4 1 0 1 3 1 1 1-2 1 1 1-2 1 0 1 3 1 0 1-3 1-2 1 0 1-1 1-3 1 3 1 3 1-1 1 1 1 3 1 1 1-1 1 3 1-2 1 0 1 0 1 1 1 0 1 0 1-4 1 2 1-4 1 2 1-1 1 2 1 3 1 0 1-2 1-2 1 1 1 0 1 0 1 0 1 0 1-3 1 3 1-1 1 0 1 0 1 1 1 2 1 0 1 0 1 3 1-4 1 0 1-1 1 1 1 4 1-2 1 0 1-3 1-4 1 2 1 2 1-1 1-1 1 0 1 2"/>
<path vector-effect="non-scaling-stroke" d="M0 311l1-3 1 3 1 0 1 1 1 0 1-2 1 1 1-1 1 2 1 3 1-1 1-4 1-1 1 0 1 0 1 3 1 2 1-3 1 1 1-1 1 0 1-3 1 1 1-2 1 5 1-2 1 1 1 2 1-1 1-2 1-1 1-2 1-1 1-1 1 0 1 3 1-2 1 2 1 5 1-4 1 4 1 1 1 0 1-3 1 4 1-4 1 1 1 4 1-2 1-3 1 4 1 0 1-1 1-2 1 2 1-2 1 4 1 0 1 0 1 1 1 1 1-4 1 1 1 1 1 0 1 3 1-1 1 1 1-5 1 1 1 0 1-2 1 2 1-2 1-1 1 2 1 1 1-3 1 1 1-3 1-1 1-4 1 3 1-2 1 0 1-3 1-2 1 2 1 0 1-2 1 2 1 3 1 3 1 0 1-4 1 1 1 1 1 3 1 1 1 1 1 1 1 0 1-3 1 3 1-4 1 5 1-4 1 2 1 1 1-1 1 0 1 0 1 1 1-1 1 2 1-3 1 4 1-1"/>
</g>
<g transform="matrix(2.859 0 0 0.5 132.2 0)" fill="none" stroke="#a3a3d8" stroke-width="0.8" stroke-opacity="0.18" stroke-linejoin="round">
<path vector-effect="non-scaling-stroke" d="M0 310l1 3 1 8 1-3 1 4 1-16 1 8 1-6 1-6 1 0 1 4 1-10 1 12 1 9 1-4 1 11 1-8 1 5 1-1 1-7 1-13 1 2 1 5 1-2 1 3 1 6 1 8 1-13 1 6 1-2 1 3 1 0 1-8 1 10 1-6 1-6 1 4 1 2 1-7 1 0 1 1 1 10 1 0 1 0 1 2 1 5 1 10 1-5 1-1 1-12 1-3 1-1 1 7 1-19 1 5 1 3 1-11 1 5 1-5 1-1 1 15 1-6 1 8 1-11 1-13 1-4 1-1 1 4 1 0 1-7 1-13 1-9 1-6 1-2 1 2 1-1 1 7 1 4 1-6 1 0 1-3 1-3 1 6 1-7 1-6 1-1 1 3 1 0 1 12 1-9 1-6 1 9 1 11 1-12 1 13 1-21 1-11 1 8 1 11 1-9 1 14 1-3 1 5 1-3 1 4 1 2 1 6 1-7 1 3 1-9 1 2 1 3 1 8 1 3 1-10 1 9 1-10 1 12 1-9"/>
<path vector-effect="non-scaling-stroke" d="M0 337l1-24 1-4 1-3 1 9 1-3 1-4 1-7 1 9 1-9 1-2 1 4 1-2 1 6 1 8 1-3 1 3 1-3 1-10 1 3 1 3 1-9 1 6 1-8 1 2 1-3 1-2 1-5 1 10 1-3 1-8 1-5 1 27 1-21 1 2 1-5 1-8 1 4 1-7 1-1 1-10 1 2 1 9 1 9 1 4 1-2 1-9 1 4 1 2 1 16 1 2 1-12 1 2 1-2 1 13 1-5 1-10 1 3 1-6 1 3 1 2 1 3 1-2 1-3 1 7 1-7 1 5 1-3 1-11 1-1 1 6 1 0 1-16 1 6 1 2 1-6 1 0 1 0 1 4 1 2 1-1 1-5 1-2 1-8 1 7 1 5 1-21 1-2 1-4 1-15 1-2 1-3 1 13 1-6 1-5 1 11 1-5 1 7 1 0 1 11 1 6 1-6 1 11 1-2 1-2 1 14 1 1 1 10 1 1 1 9 1-5 1 1 1-2 1-7 1 12 1-1 1 5 1 4 1-4"/>
<path vector-effect="non-scaling-stroke" d="M0 306l1-8 1 11 1-14 1-4 1 9 1-1 1 14 1 5 1-8 1-1 1 3 1-5 1-2 1 3 1-1 1-11 1 13 1 2 1-8 1-3 1 8 1-5 1 5 1-4 1-4 1 6 1-10 1-1 1 7 1-1 1-1 1-7 1 12 1 6 1 0 1-11 1 0 1-1 1 1 1-3 1 13 1-8 1-5 1 7 1-2 1 5 1 3 1-10 1 5 1 6 1-13 1 0 1-2 1-7 1 10 1 11 1 1 1-20 1-1 1 16 1-12 1 2 1-5 1 8 1-13 1 6 1-3 1-7 1-6 1-5 1-3 1 4 1-2 1-9 1 5 1 0 1-5 1-5 1 5 1-11 1 3 1 7 1-16 1 13 1-2 1 14 1-12 1 2 1-6 1-6 1 0 1 13 1 1 1 0 1-14 1 10 1 7 1-12 1-1 1 15 1 2 1-7 1 2 1 12 1 8 1 1 1 8 1-3 1-3 1 2 1 3 1 1 1 6 1 0 1-1 1 1 1-3 1-8"/>
<path vector-effect="non-scaling-stroke" d="M0 320l1-6 1 12 1-7 1 5 1-6 1 12 1-10 1 8 1 4 1-1 1-5 1-26 1 14 1 4 1 0 1-4 1 10 1-6 1-7 1 2 1-9 1 16 1-1 1-1 1-2 1-9 1-3 1-1 1 4 1 2 1 3 1 6 1-13 1 16 1 7 1 3 1 0 1-2 1-13 1-2 1-5 1 8 1-6 1-2 1-6 1 11 1-5 1 2 1-5 1 5 1-7 1 2 1-12 1 1 1 6 1-5 1-3 1-7 1-17 1 11 1-12 1 3 1-6 1 1 1 4 1-6 1 14 1-3 1-12 1 2 1-8 1 2 1 2 1-1 1 4 1-11 1-16 1-3 1 13 1-7 1 13 1 2 1-6 1 1 1 1 1 3 1-9 1-10 1 5 1-14 1 9 1 1 1 4 1 10 1-5 1 9 1-6 1 1 1 11 1-8 1 0 1-9 1 12 1-2 1-10 1 7 1-7 1 15 1 2 1 1 1 9 1-2 1 2 1-1 1-5 1 0 1 2 1 6"/>
<path vector-effect="non-scaling-stroke" d="M0 304l1 9 1-10 1 16 1-12 1-4 1 8 1-3 1-1 1 2 1 11 1 10 1-10 1 6 1 11 1-2 1 1 1-8 1-6 1-4 1-11 1-5 1 6 1 7 1-5 1 0 1-2 1-10 1-3 1 7 1 4 1 3 1 1 1-1 1-5 1 4 1 13 1-6 1 12 1-10 1-5 1 3 1-4 1 7 1-3 1-6 1 7 1 1 1-14 1-2 1-5 1-1 1 18 1-8 1 2 1 4 1 3 1-10 1-8 1-8 1 5 1-7 1 3 1-2 1 0 1-3 1-8 1-4 1-6 1 2 1 6 1-8 1-10 1 5 1 0 1 2 1-7 1 11 1 4 1-9 1 4 1-2 1 5 1-2 1-15 1 11 1-4 1-6 1-5 1-4 1 18 1-8 1 9 1-11 1-2 1-11 1-2 1 11 1 2 1 5 1-8 1 0 1 15 1-1 1 6 1-14 1 5 1 3 1 7 1 3 1-9 1-5 1 10 1 2 1 2 1-4 1-7 1 0 1 1"/>
<path vector-effect="non-scaling-stroke" d="M0 304l1 0 1 7 1-11 1 6 1-15 1 6 1 4 1-15 1 7 1 8 1-6 1 0 1 8 1 0 1 3 1 4 1 3 1 10 1-2 1-2 1-9 1-5 1 17 1-6 1 12 1-2 1 11 1-6 1 1 1-12 1 2 1 9 1-10 1 0 1-5 1-1 1 10 1-10 1-1 1 5 1-13 1-3 1-5 1 11 1 3 1-3 1 5 1 0 1-9 1 1 1 4 1 11 1 5 1-23 1-2 1-2 1-4 1-3 1 0 1-11 1 4 1 9 1-7 1 5 1-19 1-3 1 2 1-4 1-11 1 8 1 8 1-8 1-11 1 1 1 1 1 2 1 1 1 5 1-7 1-4 1-11 1 1 1 4 1-1 1 2 1-6 1-1 1-5 1-5 1 3 1-6 1 14 1 1 1 4 1-2 1-12 1 8 1 8 1 13 1 4 1-9 1 15 1-6 1-2 1 4 1 4 1-12 1-1 1 14 1-4 1 7 1-6 1 4 1 0 1 3 1-3 1 10 1 12"/>
<path vector-effect="non-scaling-stroke" d="M0 325l1 1 1-6 1 11 1-21 1 6 1-2 1-5 1 8 1-6 1-7 1 19 1-5 1 3 1-9 1 16 1-14 1 2 1 4 1 5 1-7 1 2 1-1 1-1 1-10 1 10 1-4 1-6 1 2 1 7 1 3 1-8 1 8 1-10 1 14 1 0 1 12 1-10 1-8 1-6 1 1 1-1 1 1 1 7 1 2 1 10 1-14 1-2 1-8 1 0 1-7 1 4 1-4 1-5 1 0 1 6 1-6 1-5 1-4 1 5 1 11 1-8 1 3 1-16 1 2 1-11 1 16 1-19 1-4 1-7 1 3 1-15 1 2 1 3 1-5 1-1 1-5 1 10 1-4 1-10 1 12 1-6 1 3 1 6 1 7 1-14 1-11 1 0 1 12 1 7 1 6 1-4 1-12 1 14 1-9 1 2 1-5 1 11 1-2 1 7 1 0 1 5 1-5 1 19 1 14 1-7 1-6 1 4 1 0 1-1 1 4 1-7 1 14 1-9 1-2 1 1 1-1 1-1 1 0"/>
</g>
<g transform="matrix(2.859 0 0 0.5 132.2 0)" fill="none" stroke="#a83030" stroke-width="0.8" stroke-opacity="0.18" stroke-linejoin="round">
<path vector-effect="non-scaling-stroke" d="M0 302l1 5 1-6 1 8 1-14 1 9 1-20 1 4 1-6 1 4 1 13 1 2 1-1 1-1 1 8 1 14 1 7 1 2 1 1 1-12 1 14 1-23 1 10 1-14 1 10 1-17 1-9 1-3 1 17 1 16 1-11 1 10 1 7 1 0 1-17 1-9 1 6 1 18 1-15 1 3 1 16 1-10 1-2 1 10 1-3 1 6 1-10 1 21 1-23 1 10 1-1 1-14 1 1 1 6 1 4 1-7 1 12 1-1 1-9 1 0 1 19 1-31 1 13 1-13 1 14 1 18 1-9 1-6 1 7 1 1 1 0 1-8 1 1 1-13 1-5 1-1 1-1 1-11 1 6 1 11 1 5 1-3 1-11 1 25 1 5 1-2 1-6 1 18 1-3 1 8 1-6 1 7 1 4 1 11 1-9 1 4 1 1 1 19 1 0 1-14 1 0 1 6 1 3 1 20 1-27 1-2 1 6 1 7 1-29 1 1 1-3 1 2 1 7 1-1 1 1 1 4 1-12 1 13 1-6"/>
<path vector-effect="non-scaling-stroke" d="M0 310l1-4 1 0 1 11 1-3 1 10 1 20 1-20 1-5 1-16 1-17 1-2 1 18 1 4 1-3 1 2 1 1 1-6 1-10 1 3 1-15 1 7 1-1 1-2 1-1 1 5 1-12 1 4 1-9 1 7 1 0 1 21 1-11 1 6 1-16 1 11 1-12 1-2 1 1 1 3 1-3 1 6 1 10 1 7 1-15 1-4 1 34 1 0 1-2 1 2 1 11 1-9 1 16 1-26 1 5 1 13 1 5 1 4 1-1 1-13 1-5 1 11 1-8 1 4 1 4 1 0 1-4 1-9 1 5 1 2 1 14 1 4 1-22 1 8 1-7 1 10 1-8 1 9 1 10 1-7 1 13 1-6 1-3 1-13 1 2 1-12 1 9 1-11 1-17 1 12 1-9 1-6 1 11 1 15 1-2 1 10 1 13 1 14 1-5 1-8 1-4 1 6 1-4 1 6 1-2 1 11 1-4 1 5 1 8 1-9 1 14 1-4 1-6 1 14 1 7 1 15 1 9 1-29 1 18"/>
<path vector-effect="non-scaling-stroke" d="M0 282l1-7 1 8 1 7 1-11 1 3 1 22 1-13 1 0 1 1 1-1 1 10 1 2 1 0 1 4 1-7 1-9 1 6 1 4 1 8 1-2 1-8 1 5 1-7 1-5 1-7 1 10 1-1 1-7 1 13 1-13 1 15 1 0 1 12 1 4 1-10 1 14 1 3 1 2 1 1 1 15 1-16 1-11 1 19 1-8 1 7 1 7 1-8 1 9 1-4 1 2 1 6 1-18 1-12 1-10 1 6 1 4 1-24 1 31 1-7 1 14 1 1 1-13 1 6 1 1 1 6 1-10 1 18 1-4 1-35 1 16 1-4 1-16 1 1 1 21 1-6 1-4 1-5 1 9 1-25 1 16 1-4 1 13 1-13 1 3 1-3 1 5 1-2 1 16 1-12 1-20 1 26 1-5 1-12 1 16 1-4 1 11 1 8 1 14 1-10 1 12 1-12 1-12 1 7 1 3 1-4 1 20 1-26 1 13 1 3 1 1 1-2 1-10 1 11 1 8 1 3 1-9 1 18 1 15"/>
<path vector-effect="non-scaling-stroke" d="M0 305l1-4 1 8 1-18 1-5 1 6 1 5 1-24 1 18 1-11 1-12 1 14 1 20 1-7 1 15 1 4 1 6 1-9 1 8 1-3 1-14 1-4 1 5 1 1 1 0 1-4 1-21 1 14 1 1 1 16 1-16 1-10 1 14 1 18 1 11 1 10 1-19 1 1 1 15 1-8 1 20 1-8 1-10 1 2 1-11 1 6 1-9 1-11 1 7 1 1 1-9 1 9 1-7 1 3 1 3 1 13 1-7 1 0 1 0 1 2 1-7 1 1 1-14 1 4 1-14 1 1 1 15 1 0 1-9 1-21 1 6 1-11 1 3 1 2 1 5 1-8 1 0 1 9 1 6 1-16 1 3 1 23 1-7 1 4 1 6 1 9 1 6 1-21 1 6 1-5 1 2 1 15 1 19 1-9 1 13 1 3 1 1 1-1 1-1 1-13 1-4 1 14 1 10 1 3 1-15 1 10 1 2 1 9 1-5 1-10 1 17 1 12 1-7 1 19 1-3 1-10 1 16 1-14 1 14"/>
<path vector-effect="non-scaling-stroke" d="M0 310l1-4 1-15 1 12 1 4 1-6 1-3 1 6 1-3 1 1 1 16 1 2 1 5 1-6 1 18 1 1 1 7 1-3 1-20 1-12 1 2 1 3 1 7 1-6 1 9 1 5 1-3 1-8 1-8 1 6 1-8 1 14 1 5 1-12 1 13 1 0 1 8 1-16 1-1 1 6 1-8 1 1 1 8 1-4 1 13 1-28 1 11 1 13 1-7 1-1 1 1 1-6 1 1 1 1 1 4 1 7 1 16 1-10 1 10 1-20 1-4 1 7 1-13 1 26 1-6 1 2 1-1 1-7 1-6 1-1 1-7 1-9 1 3 1 5 1-13 1 10 1 2 1-5 1 3 1 0 1-8 1 9 1-6 1 15 1 1 1-3 1 1 1-1 1-2 1-15 1 21 1 13 1-6 1 5 1 0 1-10 1 12 1 13 1 8 1 0 1-3 1 11 1-14 1 28 1-19 1 5 1-13 1 0 1-1 1 3 1 3 1 10 1 3 1 0 1 12 1-5 1 7 1-3 1-6"/>
<path vector-effect="non-scaling-stroke" d="M0 321l1-11 1 11 1-7 1 2 1 7 1-1 1 5 1-7 1 17 1-27 1 9 1 0 1-5 1 0 1 7 1 12 1-19 1-2 1 17 1-10 1-4 1-6 1-1 1 6 1-17 1-3 1-6 1-1 1-1 1 11 1-10 1 30 1-5 1 13 1-6 1-4 1 5 1-4 1 3 1-5 1 2 1 13 1-2 1-20 1 12 1 11 1 0 1-8 1-5 1-4 1 7 1-7 1-7 1-6 1 2 1-3 1-5 1 15 1-6 1 9 1-7 1 6 1-5 1 14 1-2 1-7 1 12 1-2 1 2 1-10 1 5 1-3 1-3 1 7 1 11 1-6 1-5 1 7 1-12 1 6 1-10 1 6 1-2 1 18 1-15 1 0 1 0 1 2 1 3 1 4 1 20 1-8 1 7 1 3 1-4 1 9 1 1 1 7 1 6 1-1 1 16 1-4 1 0 1-15 1 6 1-8 1 7 1-7 1 3 1 6 1-4 1 16 1 1 1 2 1 0 1-5 1 12 1-12"/>
<path vector-effect="non-scaling-stroke" d="M0 284l1-7 1 4 1-14 1 1 1 8 1 4 1-6 1-1 1 16 1-16 1 14 1 3 1 4 1-2 1 1 1 3 1-10 1 10 1-8 1-16 1-14 1 13 1-8 1-1 1-5 1 1 1 17 1 21 1-7 1 9 1 2 1 11 1 1 1-5 1 16 1-14 1-11 1-4 1 4 1 14 1 16 1-5 1-4 1-2 1-10 1 0 1 1 1-4 1-7 1 19 1-16 1-12 1-6 1 18 1 6 1 0 1-2 1 3 1-11 1 11 1 3 1 2 1-7 1-4 1 7 1 12 1-6 1 23 1-21 1 16 1-13 1-13 1 14 1-6 1-2 1 4 1 8 1 0 1 13 1-20 1 1 1 0 1 5 1 4 1-9 1 12 1-11 1 22 1 1 1 5 1-10 1-1 1-8 1 7 1-11 1 3 1-3 1 23 1-8 1-3 1-1 1-12 1 11 1-1 1 0 1 0 1-13 1 36 1 4 1 8 1 16 1 8 1 12 1-6 1-1 1-11 1 7 1 0"/>
</g>
<line x1="118.9" x2="482.2" y1="155.2" y2="155.2" stroke="#808080" stroke-width="2" stroke-dasharray="7.4 3.2"/>
<g transform="matrix(1.4295 0 0 0.2 132.2 0)" fill="none" stroke="#8f8f8f" stroke-width="2.2" stroke-opacity="1" stroke-linejoin="round">
<path vector-effect="non-scaling-stroke" d="M0 773l1 3 1-3 1-1 1 1 1-1 1-3 1 3 1 1 1-2 1 3 1 0 1-2 1-2 1 3 1-4 1 4 1 2 1 0 1-2 1-3 1 3 1 2 1-3 1 1 1 0 1-3 1 5 1-3 1 4 1-4 1 1 1 0 1 0 1 2 1-1 1 1 1 1 1-4 1 0 1 1 1 2 1-3 1 4 1-3 1 2 1 1 1-3 1 1 1 2 1-4 1 2 1 1 1-1 1 0 1-1 1 0 1 2 1 0 1 2 1-3 1-1 1 0 1 3 1 2 1-4 1 1 1 1 1 1 1-1 1-1 1-1 1 2 1 0 1-1 1 0 1 2 1-1 1-1 1-1 1 0 1-2 1 6 1-5 1 2 1 0 1-1 1-1 1 4 1-1 1-2 1 1 1 1 1-1 1 3 1-3 1 1 1-4 1 2 1-1 1-1 1 2 1-2 1 0 1-2 1 3 1-4 1 4 1 1 1-1 1-2 1-1 1-2 1 0 1-6 1 2 1-1 1-6 1 0 1-4 1 4 1-3 1-2 1-3 1-2 1-2 1 2 1-6 1-2 1-2 1 0 1-1 1-2 1-5 1-2 1-2 1 1 1-4 1-1 1-6 1 2 1-2 1-1 1-7 1-1 1-1 1-4 1 1 1-6 1-1 1 0 1-4 1-2 1-4 1 1 1-4 1-2 1 0 1 1 1-1 1-5 1-2 1-1 1-3 1-1 1-1 1-1 1-3 1 0 1-5 1 0 1 0 1-3 1 0 1 0 1-1 1-1 1-5 1 1 1 0 1-1 1-1 1-2 1 1 1-3 1-1 1-2 1 4 1-6 1 1 1-2 1 2 1-2 1-2 1-4 1 4 1-3 1-1 1-3 1 0 1 0 1-3 1 0 1-1 1-1 1 0 1-1 1-3 1 2 1-6 1-1 1 2 1-3 1 1 1-1 1-2 1-4 1 0 1-1 1-3 1-1 1-1 1 0 1-1 1-4 1-1 1-2 1 0 1-3 1-2 1 1 1 0 1-3 1-3 1 1 1-4 1-1"/>
</g>
<g transform="matrix(1.4295 0 0 0.2 132.2 0)" fill="none" stroke="#4dbf2a" stroke-width="2.2" stroke-opacity="1" stroke-linejoin="round">
<path vector-effect="non-scaling-stroke" d="M0 735l1 4 1-3 1 1 1 1 1 1 1 1 1-2 1 0 1-1 1 3 1-3 1 2 1 3 1-1 1-4 1 3 1 4 1-1 1-1 1-1 1-1 1 2 1-1 1-1 1 3 1-2 1-2 1 4 1 0 1 0 1-3 1 6 1-4 1 5 1-3 1 4 1-7 1 3 1 0 1-2 1 5 1 3 1-7 1 4 1-1 1 0 1-4 1 7 1-4 1 6 1-3 1 3 1-4 1 3 1-3 1 7 1-5 1 0 1 2 1-1 1 0 1 4 1-1 1-4 1 2 1 0 1 1 1-2 1 2 1 5 1 1 1-4 1-2 1 6 1-1 1-4 1 4 1-5 1 1 1 3 1 1 1-1 1 2 1-2 1 0 1 0 1 4 1 0 1 0 1 1 1 0 1-2 1 0 1 2 1-1 1 3 1 1 1 2 1 2 1-2 1 0 1 0 1 4 1 0 1 1 1-6 1 3 1 4 1-3 1-2 1 1 1 6 1 5 1 4 1 1 1 7 1 3 1 9 1 2 1 1 1 7 1 5 1 4 1 4 1 3 1 3 1 6 1 3 1 5 1 0 1 8 1 3 1 5 1 9 1 1 1 6 1 4 1 6 1 5 1 8 1 3 1 2 1 6 1 4 1 10 1 8 1 2 1 14 1 4 1 10 1 7 1 5 1 7 1 4 1 9 1 7 1 10 1 5 1 4 1 10 1 9 1 2 1 9 1 4 1 1 1 4 1 6 1 4 1 1 1 6 1 4 1 4 1 5 1 2 1 4 1 0 1 1 1 8 1-1 1-1 1 6 1-1 1 3 1 4 1 0 1 3 1 2 1 3 1 6 1 1 1-2 1 2 1 5 1 1 1 2 1-3 1 3 1-3 1 2 1 4 1-4 1 5 1 1 1-4 1 1 1 0 1 2 1 3 1-2 1-4 1 3 1 1 1-3 1 5 1-2 1 1 1 0 1-4 1 3 1 1 1 1 1-1 1 4 1-4 1 3 1-2 1 2 1 3 1 2 1-2 1 2 1 4 1-1 1 1 1 1 1 3"/>
</g>
<g transform="matrix(1.4295 0 0 0.2 132.2 0)" fill="none" stroke="#8f8f12" stroke-width="2.6" stroke-opacity="1" stroke-linejoin="round">
<path vector-effect="non-scaling-stroke" d="M0 777l1-2 1 0 1-1 1 0 1 4 1-2 1-3 1 1 1 5 1-2 1-1 1-1 1-1 1-3 1 4 1 1 1 0 1-1 1 2 1 1 1-1 1-2 1 1 1 2 1-3 1 2 1-1 1-1 1-2 1 2 1 3 1-1 1-1 1 3 1-4 1 1 1 2 1-1 1 0 1 2 1-6 1 4 1 0 1-4 1 2 1-1 1 3 1 1 1-2 1 0 1-1 1-1 1 4 1 0 1-4 1 5 1-3 1 1 1-1 1 0 1-1 1-2 1 3 1 1 1 0 1-3 1 3 1-1 1-2 1 3 1-2 1 0 1-1 1 3 1-4 1 3 1 1 1-1 1-1 1 2 1 0 1-1 1 1 1-1 1 1 1-1 1 1 1 1 1-1 1-1 1 1 1-1 1-2 1 3 1-3 1 2 1 1 1 0 1-1 1 1 1 1 1-1 1-2 1-3 1 5 1-1 1 0 1 0 1-5 1 5 1 1 1-2 1 1 1-2 1 1 1 1 1-1 1-2 1 3 1-2 1 1 1 2 1-1 1 0 1-1 1 1 1-4 1 6 1 0 1-4 1 1 1 1 1-2 1 4 1 1 1-4 1 2 1-2 1 2 1 0 1 0 1-1 1 1 1-1 1 1 1 0 1-3 1 3 1 1 1 0 1 0 1 1 1 0 1-2 1 0 1 0 1 1 1 4 1-2 1-2 1 3 1-1 1 1 1-1 1-3 1 3 1 0 1 2 1-3 1 4 1-4 1 2 1 0 1 0 1-1 1 1 1-1 1 2 1 1 1-4 1 6 1-7 1 5 1 3 1-3 1-1 1 1 1 3 1-3 1 2 1-1 1 0 1-2 1 1 1 1 1 1 1 1 1-3 1 2 1 0 1 3 1-3 1 1 1 1 1-1 1-1 1 2 1-1 1 0 1-1 1 4 1-2 1 0 1 0 1 1 1 1 1 0 1-2 1 1 1 0 1 0 1 3 1-2 1 2 1-4 1-2 1 5 1-1 1 0 1 2 1-2 1 4 1-5 1 3 1-1 1 2"/>
</g>
<g transform="matrix(1.4295 0 0 0.2 132.2 0)" fill="none" stroke="#9898cc" stroke-width="2.2" stroke-opacity="1" stroke-linejoin="round">
<path vector-effect="non-scaling-stroke" d="M0 773l1 6 1 0 1-1 1-2 1-3 1 3 1-1 1-4 1 8 1-3 1 1 1 0 1-2 1-4 1 5 1-1 1 0 1-1 1-1 1 5 1-3 1 1 1-5 1 4 1-1 1 2 1 0 1-5 1 2 1 2 1 0 1-3 1 2 1 1 1-1 1 0 1 2 1 0 1 0 1-1 1 1 1-1 1-2 1 1 1-1 1-2 1 3 1 0 1 4 1-3 1 1 1 3 1-6 1 5 1-4 1 0 1-4 1 2 1 3 1-4 1 2 1 0 1 3 1-5 1 4 1-1 1 2 1 0 1-1 1-3 1-1 1 4 1-3 1 1 1 0 1 1 1-3 1 2 1 2 1-4 1-2 1 0 1 2 1 4 1-3 1 0 1 4 1 0 1-4 1 4 1-2 1-3 1 5 1-1 1-1 1-4 1 3 1 2 1-2 1 0 1-3 1 2 1-1 1 5 1-6 1-3 1 6 1 2 1-1 1-2 1-4 1-3 1-8 1 1 1 0 1-3 1-9 1 0 1-4 1-5 1-7 1-2 1-7 1-5 1 1 1-4 1-4 1-4 1-8 1 1 1-12 1 1 1-5 1-3 1-4 1 2 1-4 1-5 1-2 1 0 1-5 1-3 1 0 1-2 1-4 1-1 1 2 1-2 1-2 1-3 1-1 1 3 1-2 1-2 1-2 1 0 1-3 1 0 1-1 1-1 1-4 1 1 1 4 1-5 1 1 1 1 1 2 1-6 1 3 1 1 1-6 1 0 1 0 1-4 1 6 1-4 1-2 1 5 1-4 1-2 1-1 1 2 1-2 1-1 1 6 1 0 1-5 1-2 1 6 1-1 1-2 1 0 1 0 1 5 1 0 1 2 1 7 1-2 1 8 1-1 1 0 1 2 1 4 1 4 1-1 1-2 1 9 1-1 1 3 1 3 1 4 1 3 1 2 1-2 1 6 1-1 1 6 1 1 1 3 1 5 1 3 1 3 1 6 1-3 1 7 1 0 1-1 1 3 1 6 1-3 1 6 1-1 1 3 1 0 1 2 1 3"/>
</g>
<g transform="matrix(1.4295 0 0 0.2 132.2 0)" fill="none" stroke="#9b1c1c" stroke-width="2.2" stroke-opacity="1" stroke-linejoin="round">
<path vector-effect="non-scaling-stroke" d="M0 764l1-10 1-4 1 2 1 1 1-3 1 2 1-3 1-7 1-2 1 5 1-4 1 4 1-4 1 2 1 4 1-2 1 4 1-4 1-2 1-1 1 3 1 5 1-8 1 9 1-2 1 3 1 7 1-2 1 1 1 2 1 2 1 8 1-4 1 5 1 3 1-6 1 0 1 0 1 1 1-3 1 0 1-2 1-6 1 0 1-1 1-4 1 0 1 5 1-8 1 0 1 4 1-3 1-5 1 10 1 1 1-5 1 3 1 3 1 9 1 0 1 3 1 1 1 3 1-6 1 7 1 0 1 6 1 1 1-2 1 2 1-1 1 4 1 1 1 3 1 5 1 5 1-2 1-1 1-4 1 8 1 4 1 1 1-2 1 1 1 9 1-18 1 9 1-3 1-1 1 0 1-4 1 10 1-8 1 0 1-2 1 5 1-6 1-2 1-1 1-1 1 3 1-3 1 2 1-2 1-2 1 1 1 3 1-5 1-1 1 2 1-1 1 7 1-7 1 1 1 2 1-10 1 9 1-4 1-3 1 7 1-7 1 0 1 4 1 0 1-9 1 5 1-4 1 9 1-4 1 0 1-4 1-1 1 10 1-7 1-1 1-8 1 6 1-9 1-3 1-1 1-3 1-3 1 3 1 6 1-5 1-3 1 5 1 6 1 0 1-1 1-1 1 6 1 2 1-4 1 10 1-3 1 3 1-2 1 9 1-6 1-1 1 12 1-3 1 8 1 0 1 7 1 0 1-5 1 6 1 0 1 5 1-1 1 3 1 0 1 7 1 2 1 1 1-4 1 4 1 1 1 10 1-6 1 2 1 8 1-2 1 6 1-1 1 0 1-2 1 12 1 1 1 0 1-4 1 7 1 3 1 5 1-4 1 4 1-1 1 3 1 5 1-2 1 0 1 8 1 6 1 2 1-10 1 7 1-1 1 4 1-2 1 6 1 2 1 2 1-1 1-1 1 1 1 2 1 2 1 6 1-1 1 8 1-5 1 1 1 0 1 4 1 9 1 5 1 1 1-3 1 6 1 4 1 3 1 4 1 5 1 11"/>
</g>
</g>
<rect x="118.9" y="64.5" width="363.3" height="181.3" fill="none" stroke="#000" stroke-width="2.7"/>
<line x1="115.4" x2="118.9" y1="230.7" y2="230.7" stroke="#000" stroke-width="0.9"/>
<text x="111.9" y="235.9" font-size="14.4" text-anchor="end">−10</text>
<line x1="115.4" x2="118.9" y1="192.9" y2="192.9" stroke="#000" stroke-width="0.9"/>
<text x="111.9" y="198.1" font-size="14.4" text-anchor="end">−5</text>
<line x1="115.4" x2="118.9" y1="155.2" y2="155.2" stroke="#000" stroke-width="0.9"/>
<text x="111.9" y="160.3" font-size="14.4" text-anchor="end">0</text>
<line x1="115.4" x2="118.9" y1="117.4" y2="117.4" stroke="#000" stroke-width="0.9"/>
<text x="111.9" y="122.6" font-size="14.4" text-anchor="end">5</text>
<line x1="115.4" x2="118.9" y1="79.6" y2="79.6" stroke="#000" stroke-width="0.9"/>
<text x="111.9" y="84.8" font-size="14.4" text-anchor="end">10</text>
<line x1="164.4" x2="164.4" y1="245.8" y2="249.3" stroke="#000" stroke-width="0.9"/>
<text x="164.4" y="263.4" font-size="14.4" text-anchor="middle">1880</text>
<line x1="221.6" x2="221.6" y1="245.8" y2="249.3" stroke="#000" stroke-width="0.9"/>
<text x="221.6" y="263.4" font-size="14.4" text-anchor="middle">1920</text>
<line x1="278.8" x2="278.8" y1="245.8" y2="249.3" stroke="#000" stroke-width="0.9"/>
<text x="278.8" y="263.4" font-size="14.4" text-anchor="middle">1960</text>
<line x1="335.9" x2="335.9" y1="245.8" y2="249.3" stroke="#000" stroke-width="0.9"/>
<text x="335.9" y="263.4" font-size="14.4" text-anchor="middle">2000</text>
<line x1="393.1" x2="393.1" y1="245.8" y2="249.3" stroke="#000" stroke-width="0.9"/>
<text x="393.1" y="263.4" font-size="14.4" text-anchor="middle">2040</text>
<line x1="450.3" x2="450.3" y1="245.8" y2="249.3" stroke="#000" stroke-width="0.9"/>
<text x="450.3" y="263.4" font-size="14.4" text-anchor="middle">2080</text>
<text x="116.8" y="58.6" font-size="19.9">(i) Surface Air-Sea Fluxes</text>
<line x1="132.2" x2="164.2" y1="200.8" y2="200.8" stroke="#8f8f8f" stroke-width="2"/>
<text x="175.2" y="206.4" font-size="14.4"><tspan font-weight="bold">Q</tspan><tspan font-size="12.4" font-style="italic" dy="2.3">lw</tspan></text>
<line x1="132.2" x2="164.2" y1="222.6" y2="222.6" stroke="#4dbf2a" stroke-width="2"/>
<text x="175.2" y="228.2" font-size="14.4"><tspan font-weight="bold">Q</tspan><tspan font-size="12.4" font-style="italic" dy="2.3">sw</tspan></text>
<line x1="231.4" x2="263.4" y1="200.8" y2="200.8" stroke="#8f8f12" stroke-width="2"/>
<text x="274.4" y="206.4" font-size="14.4"><tspan font-weight="bold">Q</tspan><tspan font-size="12.4" font-style="italic" dy="2.3">sh</tspan></text>
<line x1="231.4" x2="263.4" y1="222.6" y2="222.6" stroke="#9898cc" stroke-width="2"/>
<text x="274.4" y="228.2" font-size="14.4"><tspan font-weight="bold">Q</tspan><tspan font-size="12.4" font-style="italic" dy="2.3">lh</tspan></text>
<line x1="328.4" x2="360.4" y1="200.8" y2="200.8" stroke="#9b1c1c" stroke-width="2"/>
<text x="371" y="206.4" font-size="14.4"><tspan font-weight="bold">Q</tspan><tspan font-size="12.4" font-style="italic" dy="2.3">net</tspan></text>
<rect x="118.9" y="388.2" width="363.3" height="181" fill="#fff"/>
<rect x="121.5" y="388.2" width="235.4" height="181" fill="#f5f5ec"/>
<rect x="356" y="388.2" width="122.9" height="181" fill="#eeeae7"/>
<g clip-path="url(#ci01)">
<g fill="#aaa6d8" fill-opacity="0.1" stroke="none" filter="url(#bl2)">
<path d="M132 475 141 475 149 475 158 475 167 475 175 475 184 475 192 475 201 475 209 474 218 474 227 474 235 474 244 474 252 474 261 474 269 474 278 474 287 474 295 473 304 472 312 470 321 468 330 465 338 460 347 457 355 456 364 456 372 457 381 458 390 459 398 461 407 461 415 461 424 461 432 459 441 457 450 456 458 457 467 457 470 457L470 469 467 469 458 469 450 468 441 469 432 471 424 473 415 473 407 473 398 473 390 471 381 470 372 469 364 469 355 468 347 469 338 472 330 477 321 480 312 482 304 484 295 485 287 486 278 486 269 486 261 486 252 486 244 486 235 486 227 486 218 486 209 487 201 487 192 487 184 487 175 487 167 487 158 487 149 487 141 487 132 487Z"/>
<path d="M132 469 141 469 149 469 158 469 167 469 175 469 184 469 192 469 201 469 209 468 218 468 227 468 235 468 244 468 252 468 261 468 269 468 278 468 287 468 295 467 304 466 312 464 321 462 330 459 338 454 347 451 355 450 364 450 372 451 381 452 390 453 398 455 407 455 415 455 424 455 432 453 441 451 450 450 458 451 467 451 470 451L470 475 467 475 458 475 450 474 441 475 432 477 424 479 415 479 407 479 398 479 390 477 381 476 372 475 364 475 355 474 347 475 338 478 330 483 321 486 312 488 304 490 295 491 287 492 278 492 269 492 261 492 252 492 244 492 235 492 227 492 218 492 209 493 201 493 192 493 184 493 175 493 167 493 158 493 149 493 141 493 132 493Z"/>
<path d="M132 462 141 462 149 462 158 462 167 462 175 462 184 462 192 462 201 461 209 461 218 461 227 461 235 461 244 461 252 461 261 461 269 461 278 461 287 461 295 460 304 459 312 457 321 455 330 452 338 447 347 444 355 443 364 443 372 444 381 445 390 446 398 448 407 448 415 448 424 448 432 446 441 444 450 443 458 444 467 444 470 444L470 482 467 482 458 482 450 481 441 482 432 484 424 486 415 487 407 486 398 486 390 485 381 483 372 482 364 482 355 481 347 482 338 485 330 490 321 493 312 495 304 497 295 498 287 499 278 499 269 499 261 499 252 499 244 499 235 499 227 499 218 500 209 500 201 500 192 500 184 500 175 500 167 500 158 500 149 500 141 500 132 500Z"/>
</g>
<g fill="#8a2a8a" fill-opacity="0.16" stroke="none" filter="url(#bl2)">
<path d="M132 466 141 466 149 467 158 467 167 467 175 467 184 467 192 467 201 467 209 467 218 467 227 467 235 467 244 467 252 467 261 467 269 467 278 467 287 467 295 467 304 467 312 467 321 467 330 469 338 472 347 473 355 473 364 472 372 470 381 466 390 462 398 458 407 455 415 452 424 447 432 441 441 434 450 428 458 422 467 417 470 417L470 441 467 441 458 446 450 452 441 458 432 465 424 471 415 475 407 478 398 481 390 485 381 489 372 493 364 495 355 496 347 496 338 494 330 492 321 490 312 490 304 490 295 490 287 490 278 490 269 490 261 490 252 490 244 490 235 490 227 490 218 490 209 490 201 490 192 489 184 489 175 489 167 489 158 489 149 489 141 489 132 489Z"/>
<path d="M132 455 141 455 149 455 158 455 167 455 175 455 184 455 192 456 201 456 209 456 218 456 227 456 235 456 244 456 252 456 261 456 269 456 278 456 287 456 295 456 304 456 312 456 321 456 330 458 338 460 347 462 355 462 364 461 372 458 381 455 390 451 398 446 407 443 415 440 424 435 432 429 441 422 450 416 458 410 467 405 470 404L470 453 467 454 458 458 450 464 441 470 432 477 424 482 415 487 407 490 398 493 390 497 381 501 372 504 364 506 355 508 347 507 338 506 330 503 321 501 312 501 304 501 295 501 287 501 278 501 269 501 261 501 252 501 244 501 235 501 227 501 218 501 209 501 201 501 192 501 184 501 175 501 167 501 158 501 149 500 141 500 132 500Z"/>
<path d="M132 442 141 442 149 442 158 442 167 442 175 442 184 442 192 442 201 442 209 442 218 443 227 443 235 443 244 443 252 443 261 443 269 443 278 443 287 443 295 443 304 443 312 443 321 443 330 445 338 447 347 448 355 449 364 447 372 445 381 441 390 437 398 433 407 430 415 426 424 421 432 416 441 408 450 402 458 396 467 391 470 390L470 467 467 468 458 472 450 477 441 484 432 491 424 496 415 501 407 504 398 507 390 511 381 514 372 518 364 520 355 521 347 520 338 519 330 516 321 515 312 515 304 515 295 515 287 515 278 515 269 515 261 514 252 514 244 514 235 514 227 514 218 514 209 514 201 514 192 514 184 514 175 514 167 514 158 514 149 514 141 514 132 514Z"/>
</g>
<g fill="#2f8585" fill-opacity="0.16" stroke="none" filter="url(#bl2)">
<path d="M132 468 141 468 149 468 158 468 167 468 175 468 184 468 192 468 201 468 209 468 218 468 227 469 235 469 244 469 252 469 261 469 269 469 278 469 287 469 295 469 304 469 312 470 321 471 330 474 338 477 347 479 355 480 364 480 372 482 381 485 390 488 398 490 407 493 415 496 424 498 432 502 441 508 450 514 458 521 467 527 470 528L470 549 467 547 458 541 450 535 441 528 432 522 424 518 415 515 407 513 398 510 390 508 381 504 372 501 364 499 355 499 347 498 338 496 330 493 321 490 312 489 304 488 295 488 287 488 278 488 269 488 261 488 252 488 244 488 235 487 227 487 218 487 209 487 201 487 192 487 184 487 175 487 167 487 158 487 149 487 141 487 132 487Z"/>
<path d="M132 458 141 458 149 458 158 459 167 459 175 459 184 459 192 459 201 459 209 459 218 459 227 459 235 459 244 459 252 459 261 459 269 460 278 460 287 460 295 460 304 460 312 460 321 462 330 464 338 467 347 469 355 470 364 471 372 472 381 475 390 478 398 481 407 483 415 486 424 488 432 492 441 497 450 504 458 510 467 516 470 518L470 559 467 558 458 551 450 545 441 538 432 532 424 528 415 525 407 523 398 520 390 517 381 514 372 511 364 509 355 508 347 507 338 505 330 502 321 500 312 498 304 497 295 497 287 497 278 497 269 497 261 497 252 497 244 497 235 497 227 497 218 497 209 497 201 497 192 497 184 496 175 496 167 496 158 496 149 496 141 496 132 496Z"/>
<path d="M132 447 141 447 149 447 158 448 167 448 175 448 184 448 192 448 201 448 209 448 218 448 227 448 235 448 244 448 252 448 261 448 269 449 278 449 287 449 295 449 304 449 312 449 321 451 330 453 338 456 347 458 355 459 364 459 372 461 381 464 390 467 398 469 407 471 415 474 424 476 432 480 441 486 450 492 458 498 467 504 470 505L470 571 467 570 458 563 450 557 441 550 432 544 424 540 415 537 407 534 398 531 390 529 381 526 372 522 364 520 355 519 347 518 338 516 330 513 321 510 312 509 304 508 295 508 287 508 278 508 269 508 261 508 252 508 244 508 235 508 227 508 218 508 209 508 201 508 192 508 184 507 175 507 167 507 158 507 149 507 141 507 132 507Z"/>
</g>
<g transform="matrix(2.859 0 0 0.5 132.2 0)" fill="none" stroke="#aaa6d8" stroke-width="0.8" stroke-opacity="0.16" stroke-linejoin="round">
<path vector-effect="non-scaling-stroke" d="M0 947l1 16 1-25 1 10 1-21 1 26 1 8 1-22 1 21 1-7 1-1 1 16 1-34 1 23 1-16 1-1 1 24 1-29 1-8 1 5 1 33 1-42 1 37 1-32 1 1 1 34 1-6 1 0 1-25 1 15 1 22 1-17 1 16 1-7 1-5 1 11 1 10 1-19 1-12 1 32 1 13 1 3 1-15 1-11 1 13 1-14 1-8 1 13 1 5 1-8 1 8 1-26 1-13 1 32 1 8 1-20 1-21 1-2 1 4 1-19 1 27 1 13 1-14 1-14 1 7 1-22 1 49 1-28 1 20 1-19 1-3 1 18 1-43 1 5 1 27 1-16 1-26 1 14 1 12 1-8 1-4 1 5 1-13 1-12 1 16 1-10 1 10 1 31 1-11 1 6 1 9 1 9 1-8 1 6 1-3 1 32 1-4 1-35 1-17 1 9 1 3 1 7 1-8 1-15 1 1 1 30 1-12 1 5 1-17 1 18 1 20 1-13 1-19 1 16 1-17 1 24 1 1 1-27 1 8"/>
<path vector-effect="non-scaling-stroke" d="M0 966l1 27 1-24 1 30 1-39 1 11 1 3 1-18 1-1 1 17 1-17 1-7 1 7 1 12 1-35 1 24 1-14 1 30 1-33 1 53 1-10 1-34 1 38 1-26 1 30 1-20 1-4 1 1 1 6 1-26 1-3 1 25 1-11 1-2 1 3 1 18 1-33 1 33 1-16 1 9 1 12 1-7 1-32 1 20 1 6 1 1 1 15 1 9 1-17 1 20 1-2 1-17 1 5 1 0 1-15 1-7 1-7 1-17 1 39 1-17 1-35 1 9 1 19 1-11 1 11 1 0 1-13 1 6 1 6 1 2 1-35 1 45 1-10 1-11 1 10 1 3 1-27 1-5 1 25 1 20 1-14 1-2 1 12 1 10 1 5 1-22 1-29 1-15 1 44 1-18 1 20 1-6 1 9 1 7 1-32 1-2 1 13 1-26 1 19 1-22 1 22 1-14 1 16 1-2 1-13 1 41 1-49 1 55 1-31 1 4 1-54 1-14 1 21 1 8 1 6 1 1 1 8 1 6 1-23"/>
<path vector-effect="non-scaling-stroke" d="M0 992l1-49 1 8 1 10 1-17 1 0 1 0 1-18 1 5 1 3 1-19 1 23 1 0 1-13 1 32 1 3 1-5 1-2 1-13 1 5 1-15 1-19 1 38 1 1 1 41 1-20 1-8 1 23 1 16 1-24 1-11 1 0 1 15 1 8 1-10 1-21 1 2 1-2 1 27 1-14 1-22 1 47 1 0 1-3 1-3 1-1 1 11 1-4 1 27 1-16 1-13 1-23 1 12 1-11 1-11 1 14 1-10 1 20 1-12 1 10 1-31 1 1 1 10 1 1 1 4 1 6 1-7 1-30 1-3 1 1 1 0 1 4 1-25 1 13 1-19 1-5 1 21 1 8 1-34 1 6 1 1 1 14 1-8 1-13 1-6 1 23 1-10 1 1 1-5 1 2 1-10 1 11 1 16 1-15 1-1 1 6 1 18 1 2 1-16 1 15 1 5 1-10 1-29 1 25 1-16 1 18 1 11 1-39 1-5 1 51 1-35 1 3 1 22 1-25 1-8 1 3 1 31 1-44 1-2"/>
<path vector-effect="non-scaling-stroke" d="M0 1000l1-20 1 13 1 5 1-33 1 42 1-13 1 0 1-3 1 10 1 3 1-12 1 17 1-28 1-11 1 26 1-13 1 9 1-30 1 4 1-16 1 28 1-23 1-7 1-4 1 11 1 1 1 20 1-5 1-2 1-20 1 21 1 17 1-17 1-15 1 6 1 11 1-10 1-15 1-22 1 28 1-13 1 9 1 23 1 34 1-48 1 39 1 8 1 2 1-21 1 20 1-17 1 3 1-13 1-25 1 15 1-13 1-8 1 10 1-21 1-3 1-24 1 20 1-37 1 26 1 11 1-9 1 6 1-2 1-17 1 41 1-35 1 27 1-18 1 23 1-26 1-13 1 2 1 6 1-11 1-25 1 23 1-1 1-11 1 2 1-4 1-6 1 1 1 10 1 4 1 20 1-7 1-8 1 11 1 7 1-21 1 38 1-12 1 29 1-40 1 26 1-21 1 15 1-3 1-1 1-14 1 16 1-22 1 32 1-2 1-5 1-11 1 3 1 16 1 10 1-44 1 24 1-11 1-11"/>
<path vector-effect="non-scaling-stroke" d="M0 946l1 7 1 13 1 7 1-10 1 8 1-21 1 32 1 17 1-1 1 3 1-12 1-23 1-6 1 2 1 10 1-14 1 0 1-9 1-8 1 3 1-2 1 19 1-23 1 30 1-20 1 17 1-17 1 46 1-22 1-1 1-4 1 22 1-18 1 12 1-10 1-1 1 7 1-27 1 11 1-24 1-6 1-6 1-6 1 20 1-12 1 6 1-1 1-9 1-26 1 13 1 30 1-10 1 11 1-22 1-3 1 1 1 13 1 4 1 15 1 13 1-5 1 0 1 2 1 35 1-22 1-13 1 11 1-27 1 14 1-8 1 1 1-2 1 15 1 1 1-4 1-13 1 25 1-34 1 21 1 10 1-12 1 15 1-17 1-1 1-7 1-8 1-11 1-3 1-17 1 1 1-15 1 0 1 7 1-16 1-2 1 28 1 29 1-37 1 9 1 19 1-17 1 20 1-20 1 18 1 0 1-15 1-30 1 34 1-4 1 17 1-7 1 0 1 7 1 22 1-15 1-5 1 2 1 18"/>
<path vector-effect="non-scaling-stroke" d="M0 960l1 8 1 9 1-41 1 22 1-4 1 6 1-29 1 11 1 0 1-12 1 13 1 30 1-6 1-26 1 14 1 27 1-36 1 18 1-16 1 11 1-17 1 24 1-10 1 6 1-19 1 29 1-53 1 51 1-15 1 21 1-17 1 33 1-16 1 10 1 5 1-3 1-2 1 13 1-12 1-14 1 26 1-37 1 2 1 7 1-1 1 17 1-22 1-1 1 8 1-21 1 13 1-17 1 10 1 7 1-5 1 4 1-6 1 19 1 14 1-38 1-13 1 31 1-5 1-1 1-13 1 0 1-8 1 16 1-31 1-9 1-1 1-4 1 23 1-19 1-9 1-8 1 11 1-4 1 10 1-14 1 18 1 7 1 3 1-37 1 24 1-12 1 2 1 33 1 1 1 3 1 2 1-33 1 22 1 8 1-17 1 7 1-38 1 9 1 15 1-9 1 37 1-41 1 45 1-2 1-54 1 31 1-23 1-7 1 21 1-1 1-1 1-14 1-3 1 15 1-2 1-14 1-12 1 23"/>
<path vector-effect="non-scaling-stroke" d="M0 955l1 47 1-29 1-8 1 35 1-5 1-27 1-16 1 15 1-10 1-11 1 0 1 13 1-9 1 16 1-26 1-15 1 23 1-21 1-7 1 11 1 16 1-32 1 3 1 10 1 11 1-15 1-35 1 21 1 12 1 24 1 5 1 8 1-15 1 13 1-18 1 16 1 12 1-5 1 4 1 5 1-7 1-2 1 20 1-27 1 11 1-10 1 22 1 5 1 12 1-36 1-5 1-25 1 28 1-10 1 8 1-12 1 14 1 5 1-22 1 21 1-18 1 32 1-34 1 22 1 22 1-46 1 41 1-33 1 4 1-10 1 16 1 2 1-3 1 0 1-5 1 9 1-10 1 2 1-22 1-3 1 5 1-16 1 1 1 11 1 21 1-5 1-7 1 4 1-7 1 16 1-5 1-9 1 8 1-12 1-29 1 34 1-22 1 7 1 18 1-23 1-12 1 35 1-21 1-17 1 8 1 8 1 11 1-5 1 19 1-18 1 11 1-16 1 17 1 28 1-29 1 6 1-7 1-7"/>
<path vector-effect="non-scaling-stroke" d="M0 986l1-26 1 22 1 8 1-31 1-5 1 14 1-13 1 16 1-11 1 10 1 4 1 1 1 23 1-27 1-9 1 27 1 10 1-20 1-10 1 14 1 7 1-25 1 12 1 13 1 11 1-5 1 21 1-9 1 4 1 0 1-17 1-44 1 39 1-1 1-6 1-7 1-6 1 6 1-16 1 18 1-4 1 9 1-4 1-8 1 8 1 5 1 26 1-24 1 10 1 1 1-14 1-24 1-5 1 9 1-18 1 36 1-19 1 0 1 9 1 11 1-32 1 17 1 0 1-27 1 4 1 8 1-11 1 22 1-16 1 2 1-33 1 30 1-26 1 16 1-3 1-12 1 12 1-3 1 1 1 5 1-2 1-12 1 24 1-22 1-4 1-5 1-3 1-18 1-9 1 16 1 13 1 9 1 2 1 16 1-3 1-15 1 18 1 4 1 5 1 6 1 3 1 9 1-9 1-3 1-11 1 15 1 3 1-21 1 11 1-15 1 2 1-22 1 24 1-22 1 19 1-13 1 5 1 13"/>
<path vector-effect="non-scaling-stroke" d="M0 968l1-7 1 0 1-33 1 48 1-27 1-9 1 23 1 12 1-31 1-9 1 9 1-15 1-2 1 34 1 7 1-16 1 2 1 11 1 8 1-8 1 3 1 14 1-24 1-4 1 3 1 19 1-17 1 11 1 10 1-1 1-19 1-3 1-25 1-2 1-23 1 36 1 8 1-3 1 3 1-3 1-7 1 18 1 25 1 2 1-39 1 17 1 2 1 16 1-13 1-4 1-2 1 1 1-7 1-13 1 2 1 7 1 3 1-12 1-4 1-3 1 7 1-30 1 14 1-5 1 2 1 13 1-5 1-36 1 54 1-49 1-12 1 14 1-8 1 23 1-8 1-4 1 8 1-19 1-15 1 30 1-5 1 19 1-10 1-13 1 25 1-9 1 2 1-11 1-27 1 32 1 13 1 2 1-5 1 0 1-33 1 74 1-38 1 11 1-7 1 20 1 9 1-14 1-16 1 11 1-5 1 9 1-15 1-17 1-11 1 9 1-23 1 27 1-13 1 5 1-22 1 29 1 3 1-13"/>
</g>
<g transform="matrix(2.859 0 0 0.5 132.2 0)" fill="none" stroke="#8a2a8a" stroke-width="0.8" stroke-opacity="0.16" stroke-linejoin="round">
<path vector-effect="non-scaling-stroke" d="M0 988l1 19 1-62 1 17 1-2 1-27 1-14 1 15 1 24 1-4 1-14 1 7 1-40 1 23 1 61 1-11 1 4 1-21 1-35 1 10 1-4 1-5 1 3 1 8 1 20 1 9 1-48 1 42 1-21 1 53 1-26 1 24 1 2 1-8 1-27 1 2 1 53 1-71 1-9 1 66 1 18 1-26 1 31 1-20 1 0 1 36 1-78 1-1 1 61 1-18 1-70 1 22 1-69 1 40 1 32 1-23 1-8 1-45 1 39 1 0 1-2 1-27 1 46 1-15 1-13 1 62 1-22 1-14 1 42 1-33 1 37 1-19 1 27 1-21 1 66 1-43 1-2 1 14 1-51 1 25 1-14 1-8 1 56 1-78 1 38 1-63 1 81 1-76 1 54 1-35 1 27 1 56 1-58 1 2 1-48 1-5 1 9 1-7 1 17 1 32 1 4 1-56 1-7 1-16 1 36 1-21 1 14 1 32 1-21 1-4 1-9 1 2 1-21 1-31 1 14 1 31 1 14 1-9 1-17"/>
<path vector-effect="non-scaling-stroke" d="M0 1004l1-7 1-52 1 24 1-15 1 50 1-40 1 2 1-9 1-16 1-47 1 67 1 23 1-64 1 21 1-17 1-29 1-8 1 23 1-19 1 103 1-66 1-36 1 16 1 20 1 27 1 4 1-69 1 28 1-4 1 41 1-11 1 33 1-53 1 19 1 16 1-48 1 50 1-27 1 36 1-11 1 0 1 54 1-51 1 27 1-13 1-22 1 11 1 48 1-33 1 28 1-15 1 37 1-22 1-78 1 20 1 3 1 4 1-21 1-25 1 72 1-64 1 33 1 3 1-64 1 60 1-48 1 42 1 36 1-57 1 25 1 30 1-2 1 22 1 7 1-13 1-15 1-55 1 68 1-10 1-3 1-22 1 1 1 17 1-39 1 21 1-1 1 40 1-14 1 0 1-22 1 32 1-44 1-23 1-31 1 17 1 28 1-21 1-24 1-22 1 14 1 8 1 35 1-7 1 63 1-81 1 37 1-23 1 5 1-30 1-3 1-26 1-26 1-51 1 118 1 7 1-1 1-59 1 3"/>
<path vector-effect="non-scaling-stroke" d="M0 925l1-13 1 15 1-40 1 20 1 19 1 42 1 30 1-8 1-7 1 3 1-10 1-9 1 14 1-65 1 68 1-27 1-48 1-6 1 66 1-14 1 36 1-32 1 31 1-36 1 16 1-35 1 18 1-23 1-10 1-30 1 29 1-3 1-8 1 8 1 36 1-57 1-27 1-4 1 57 1 5 1 42 1-64 1-11 1 51 1 23 1 12 1-36 1 4 1-1 1-18 1 18 1 49 1-9 1-20 1 33 1 3 1-24 1 32 1-51 1 61 1-47 1 21 1-2 1-32 1 42 1-23 1 0 1 51 1-16 1-39 1 22 1-18 1-17 1-4 1-2 1 14 1-42 1 78 1-2 1-24 1 35 1-7 1 0 1 0 1-1 1-5 1 4 1 10 1 19 1-12 1-9 1 2 1-49 1-46 1 52 1-63 1 74 1 12 1-54 1 17 1-34 1 19 1 5 1-15 1 59 1-49 1-6 1-5 1-35 1-45 1-11 1 15 1-37 1 59 1-3 1-20 1 0 1-2"/>
<path vector-effect="non-scaling-stroke" d="M0 919l1 5 1 16 1 2 1-28 1 45 1-11 1-27 1 36 1 4 1-32 1-20 1 54 1-55 1 16 1-51 1 15 1 34 1 4 1-7 1-53 1 32 1-63 1 52 1-29 1 31 1 24 1 12 1 17 1 22 1-31 1 7 1 18 1-94 1 103 1-38 1 13 1 39 1-10 1-23 1 40 1-35 1-5 1 79 1-63 1 24 1-32 1 23 1 23 1-4 1-52 1-23 1-38 1 47 1 4 1-4 1 5 1-7 1-28 1 16 1-18 1 45 1 8 1-15 1-44 1-11 1 38 1-25 1 53 1 7 1-19 1 32 1 16 1 10 1-18 1-9 1-9 1-2 1 16 1 44 1-79 1 24 1 29 1-46 1 64 1-24 1-20 1 19 1-28 1 11 1 10 1 22 1 15 1-47 1-9 1 2 1 9 1-30 1-8 1 10 1 18 1-20 1-48 1 27 1-32 1 65 1-18 1-12 1-8 1-17 1 19 1 33 1-17 1-9 1-40 1 62 1-22 1-16 1 5"/>
<path vector-effect="non-scaling-stroke" d="M0 978l1-89 1 44 1-33 1 14 1 35 1-16 1-19 1-41 1 57 1-28 1-2 1 22 1-15 1 2 1 3 1 1 1 37 1-74 1 49 1-20 1 11 1-9 1 44 1-6 1-47 1 14 1 30 1-36 1-19 1-39 1 64 1 14 1 10 1 11 1-39 1 22 1 17 1 18 1-15 1 2 1-30 1 34 1-11 1-61 1 74 1-17 1 6 1-4 1-19 1 41 1-19 1 24 1-29 1 38 1 15 1 6 1-80 1 78 1-31 1 24 1-46 1-48 1 57 1 21 1-55 1 21 1-31 1 22 1-30 1 42 1-18 1 12 1 40 1-58 1 57 1 1 1-17 1 31 1 42 1-14 1-34 1-21 1 5 1-15 1 6 1 23 1 28 1 7 1-1 1-68 1 36 1-20 1 25 1-51 1 6 1 32 1-35 1 44 1 25 1-29 1-98 1 66 1 56 1-64 1 24 1-30 1 47 1-42 1-77 1 14 1 30 1 7 1-15 1-17 1-7 1 13 1 10 1-6"/>
<path vector-effect="non-scaling-stroke" d="M0 947l1 34 1 8 1-54 1 51 1 17 1-79 1 62 1-3 1-69 1 30 1-38 1-6 1 39 1-4 1-15 1-56 1 53 1 23 1-9 1 17 1-20 1-26 1 42 1 56 1-7 1-24 1-26 1 40 1-33 1 27 1 6 1 8 1-6 1-26 1-11 1 29 1-52 1 27 1 16 1 25 1-42 1 19 1-56 1 2 1 45 1-33 1 48 1-43 1 64 1-63 1 65 1-60 1-2 1 19 1 41 1-43 1-25 1 22 1 1 1-20 1 12 1-11 1 51 1-42 1 29 1-64 1 21 1-55 1 88 1-59 1-25 1 72 1-62 1 3 1-7 1 18 1 41 1 20 1-13 1-55 1-4 1-21 1 56 1 4 1 19 1-4 1 32 1-51 1 49 1-54 1 43 1-48 1-16 1 15 1-19 1 56 1 24 1-55 1 48 1 19 1-19 1-71 1 34 1 10 1-32 1 7 1 1 1-71 1 35 1-4 1-29 1 44 1-15 1-13 1-33 1 9 1 17 1-13"/>
<path vector-effect="non-scaling-stroke" d="M0 917l1-13 1 56 1 4 1 30 1 34 1-9 1-51 1 19 1 4 1-58 1 15 1-10 1 29 1 4 1-18 1-5 1 15 1 32 1-38 1 8 1 21 1 2 1 29 1-44 1-39 1 21 1 19 1-31 1 14 1 10 1-2 1-14 1-23 1 19 1-16 1-58 1 16 1 9 1 3 1 50 1 4 1-9 1-32 1 65 1-56 1 37 1-54 1 21 1-3 1-19 1-25 1 20 1-18 1 37 1-9 1-5 1 27 1-62 1-26 1 32 1 48 1-23 1 13 1-49 1 47 1-54 1 69 1-56 1 0 1 57 1 10 1-38 1 38 1 38 1-14 1-31 1-38 1 67 1-35 1-20 1 57 1 10 1-21 1-47 1 35 1-28 1-20 1 20 1 16 1 37 1-41 1-15 1 48 1-5 1 0 1 4 1 36 1-2 1-17 1-2 1 24 1-12 1-41 1 33 1 6 1-19 1-45 1-49 1-20 1-1 1 74 1-71 1-4 1 38 1-2 1-8 1-4 1 25"/>
<path vector-effect="non-scaling-stroke" d="M0 899l1 12 1 1 1 7 1 89 1-62 1-15 1 41 1 1 1-45 1-20 1 40 1 11 1-25 1 1 1 21 1-20 1-40 1 49 1-26 1 14 1-22 1 21 1-51 1 42 1-26 1 37 1-50 1 36 1 31 1-24 1 6 1-24 1 35 1-30 1 3 1 74 1-41 1 5 1-26 1-30 1 43 1 37 1 2 1-44 1 21 1-28 1 13 1-10 1 30 1-2 1 16 1-3 1-13 1 46 1-49 1-18 1 17 1 46 1-2 1-9 1 58 1-70 1-2 1-52 1 20 1 2 1-7 1 42 1-11 1 66 1-66 1-10 1 80 1-77 1 36 1-35 1-19 1 66 1-19 1-25 1 13 1-16 1-22 1-32 1-31 1 24 1 46 1-53 1 56 1-1 1-43 1 5 1-35 1 34 1-57 1 61 1 36 1-43 1-15 1-33 1 60 1 55 1-50 1 61 1-41 1-20 1 40 1-89 1 16 1 10 1 52 1-131 1 42 1 22 1-17 1-6 1 24 1-79"/>
<path vector-effect="non-scaling-stroke" d="M0 953l1-39 1 10 1-33 1 20 1 2 1 13 1 4 1 15 1-22 1 59 1-37 1 10 1-12 1 12 1-28 1 16 1 8 1 28 1-44 1 33 1-13 1-3 1 41 1-43 1 13 1-12 1-20 1 5 1-50 1 1 1 48 1 12 1 60 1-49 1 32 1-80 1 32 1 42 1 7 1-29 1-8 1 44 1 16 1-32 1 0 1-44 1 19 1-27 1 40 1-32 1 18 1 18 1 3 1 0 1 20 1 27 1-65 1 44 1-14 1-44 1 78 1-6 1 25 1-46 1 15 1 18 1-34 1 16 1 36 1-59 1 0 1 26 1-57 1-31 1 65 1-24 1-13 1 7 1-23 1 34 1-9 1-1 1 32 1-72 1 112 1-111 1 3 1 13 1 8 1-20 1 5 1-39 1-9 1 46 1-24 1 1 1 0 1 45 1-49 1 43 1-62 1 8 1-5 1-8 1-8 1-35 1 7 1-31 1 48 1-28 1 16 1 6 1-79 1 32 1 44 1-30 1 52 1-22"/>
</g>
<g transform="matrix(2.859 0 0 0.5 132.2 0)" fill="none" stroke="#2f8585" stroke-width="0.8" stroke-opacity="0.16" stroke-linejoin="round">
<path vector-effect="non-scaling-stroke" d="M0 966l1 8 1 6 1 0 1-11 1 38 1-3 1-37 1 23 1-5 1-44 1 19 1 0 1 9 1 12 1-44 1 12 1 23 1-10 1-27 1 16 1 1 1-10 1 36 1 37 1-29 1-30 1 43 1-36 1 26 1 40 1-35 1-9 1 12 1-35 1 29 1 6 1-3 1-2 1 10 1-34 1 24 1-30 1 39 1-18 1 12 1 23 1 2 1-1 1-4 1-36 1 46 1-12 1-38 1-10 1 24 1-26 1 39 1-12 1 37 1-66 1 76 1-70 1 10 1 48 1-32 1-16 1 28 1-40 1 43 1-36 1 32 1 2 1 25 1-43 1-6 1-48 1 47 1-9 1-41 1 22 1 39 1-27 1-24 1 3 1 8 1 49 1-42 1 52 1-74 1 30 1-25 1-16 1 50 1 14 1 18 1-9 1-17 1 37 1 4 1-48 1 17 1-2 1 24 1 40 1-23 1-6 1-23 1 75 1-73 1 41 1-21 1-17 1-30 1 14 1 19 1 36 1-18 1 35"/>
<path vector-effect="non-scaling-stroke" d="M0 921l1 32 1 8 1-9 1-21 1 18 1-11 1-12 1 41 1-9 1 34 1 8 1-73 1 4 1 62 1-35 1 15 1-33 1 43 1-51 1 6 1 28 1 9 1-87 1 21 1 3 1 11 1-3 1 54 1-24 1 34 1-35 1 41 1 37 1-46 1 25 1-28 1-3 1-4 1-15 1-19 1-19 1 20 1-22 1 58 1-12 1-16 1-17 1 57 1-34 1 12 1 8 1-22 1 12 1-37 1 65 1-48 1 0 1 32 1-56 1 0 1 16 1 19 1 24 1 3 1-38 1 26 1 20 1 7 1-8 1-7 1-9 1 14 1 5 1-43 1 45 1-4 1-32 1 15 1 3 1 30 1 0 1 13 1 26 1-7 1-5 1-10 1 19 1 10 1-23 1 9 1 25 1-40 1-15 1-11 1 25 1-33 1-5 1 52 1 24 1-38 1-21 1 16 1 18 1-15 1 31 1-26 1 14 1 12 1-25 1 42 1-26 1 49 1-6 1 11 1-15 1 20 1-51 1 57"/>
<path vector-effect="non-scaling-stroke" d="M0 966l1 24 1-8 1-38 1 31 1-21 1-29 1-21 1 47 1 66 1-22 1 13 1-59 1 12 1 1 1 14 1-6 1-21 1-4 1 46 1-62 1 39 1-51 1-27 1 15 1 39 1-24 1 25 1-17 1-2 1-13 1 34 1-15 1-18 1-31 1 16 1 21 1 26 1-24 1 28 1-19 1-19 1-4 1 49 1-38 1-65 1 19 1 17 1 10 1-11 1 1 1 62 1-24 1-27 1 62 1-41 1 23 1 5 1-19 1 13 1 0 1-15 1 46 1-18 1-67 1 68 1-6 1-2 1 11 1-21 1-47 1 26 1-18 1 54 1-15 1 9 1-5 1 25 1-28 1-2 1 25 1 8 1 27 1 11 1-48 1 39 1-27 1 19 1-13 1 28 1-4 1 21 1 7 1-16 1 45 1-21 1-19 1 4 1-12 1-6 1-13 1 0 1 69 1-62 1 42 1-3 1-8 1 31 1-17 1 9 1 2 1-17 1 6 1-29 1 0 1 23 1 16 1-32 1 16"/>
<path vector-effect="non-scaling-stroke" d="M0 936l1-8 1-6 1-8 1 17 1 25 1 3 1 19 1 5 1-10 1-5 1-16 1 20 1-33 1-21 1 22 1 0 1 51 1-51 1-4 1 8 1 8 1 43 1-24 1 37 1-39 1-26 1 4 1 9 1-12 1 9 1-25 1 14 1 25 1-21 1 6 1 4 1 2 1 2 1 28 1-17 1-27 1 18 1 16 1-14 1 8 1 22 1 20 1-3 1-23 1-37 1 15 1-33 1 16 1-1 1-9 1-23 1-34 1 36 1-30 1 17 1 23 1-23 1 1 1 22 1-14 1-41 1 69 1-25 1 36 1-9 1 50 1-55 1 19 1 29 1-12 1-39 1 55 1-20 1-21 1 19 1 24 1 1 1-19 1-15 1 0 1 26 1-31 1 9 1 35 1-23 1 35 1-49 1 23 1 44 1-13 1 4 1-51 1 9 1 0 1-7 1-1 1 31 1 14 1 43 1 11 1-1 1-52 1 55 1-15 1 6 1 5 1 15 1 19 1-43 1-35 1 76 1 16 1-25"/>
<path vector-effect="non-scaling-stroke" d="M0 990l1-33 1 50 1-15 1-3 1 11 1-63 1 46 1-2 1 2 1 19 1-26 1-3 1-20 1-13 1-14 1 42 1-43 1 24 1 36 1-64 1 30 1 19 1 16 1-2 1-43 1-13 1-22 1 44 1 39 1-70 1 59 1-24 1 29 1 4 1-24 1-3 1 34 1-84 1 95 1-12 1-7 1 2 1-79 1 68 1-77 1 87 1-32 1-4 1-24 1-14 1 10 1 13 1 13 1 46 1-67 1 68 1-42 1-18 1-14 1-10 1 42 1-38 1-21 1 21 1-7 1-1 1 32 1-14 1 36 1-25 1 23 1-39 1 23 1 25 1 11 1-65 1 42 1-26 1 56 1-16 1-33 1 4 1-12 1 18 1 31 1-23 1 9 1-13 1 79 1-36 1-5 1 36 1-27 1 10 1-47 1 39 1-48 1 26 1-28 1-8 1 55 1 25 1 64 1-51 1-23 1 16 1 9 1 62 1-75 1-19 1 76 1-25 1-20 1 48 1 22 1 19 1 19 1-28"/>
<path vector-effect="non-scaling-stroke" d="M0 981l1-14 1 21 1 37 1-28 1-31 1-3 1 35 1-64 1 43 1 14 1 6 1-61 1 41 1-11 1 26 1-3 1-1 1 24 1-28 1-10 1-10 1-13 1 18 1-37 1 14 1 7 1 0 1 45 1-61 1 40 1-32 1-36 1 0 1 55 1-33 1 56 1-89 1 30 1-23 1 46 1 30 1-23 1 19 1-3 1-4 1-19 1 19 1-28 1 38 1-17 1 28 1-8 1 20 1-76 1 22 1 6 1 11 1 9 1 3 1-13 1 3 1 17 1 6 1-8 1-3 1-10 1 0 1 53 1-48 1 24 1 7 1-55 1 46 1-5 1-2 1 39 1-30 1 17 1 7 1-15 1 10 1 11 1-11 1 19 1-26 1-18 1-1 1 43 1-16 1-4 1-42 1 19 1 23 1-3 1 2 1-9 1 16 1-42 1-47 1 86 1-25 1 1 1 11 1 32 1-62 1 43 1-39 1 39 1 4 1 47 1-10 1-61 1 14 1-5 1 40 1 12 1-8 1 41"/>
<path vector-effect="non-scaling-stroke" d="M0 929l1 30 1-16 1-7 1 48 1-14 1-29 1-47 1 9 1 3 1 10 1-1 1-12 1 45 1 9 1-44 1 41 1-25 1 2 1 15 1-26 1 41 1-19 1-12 1 44 1 3 1-7 1-13 1-3 1 47 1-80 1 73 1-5 1-68 1 63 1-12 1-2 1 24 1-37 1 22 1-24 1 1 1 20 1 16 1-17 1 2 1 22 1-3 1 15 1-26 1-39 1 55 1 7 1-23 1 48 1 7 1-7 1-64 1 34 1 9 1-62 1 14 1-27 1-9 1 34 1 18 1-10 1-31 1 63 1-7 1-37 1 63 1 22 1-63 1 24 1-8 1 33 1 24 1-33 1 5 1-11 1 19 1-1 1-14 1 25 1-13 1-48 1 10 1 21 1-2 1-3 1-47 1 46 1-28 1 14 1 18 1-16 1 14 1 16 1-11 1 1 1 38 1-1 1-22 1 39 1-13 1 19 1 8 1-25 1 37 1-4 1-26 1 40 1-37 1 19 1 12 1-7 1 18 1-13"/>
<path vector-effect="non-scaling-stroke" d="M0 929l1 35 1 11 1-2 1 38 1-36 1 13 1 18 1-37 1 11 1 11 1 13 1-52 1 41 1-54 1 94 1-17 1 8 1-58 1-8 1 14 1-39 1 69 1-15 1-35 1 42 1-6 1-23 1-11 1 40 1-37 1 6 1-7 1 13 1 5 1-27 1 15 1-61 1 21 1 19 1 16 1 28 1-25 1-19 1 32 1 9 1-28 1 7 1 26 1 11 1-27 1-26 1 12 1-30 1 4 1 6 1 50 1-49 1 41 1-11 1-3 1-20 1 20 1-46 1 40 1 14 1-46 1-2 1-5 1 4 1-17 1 59 1 18 1 4 1 6 1 20 1-13 1 12 1-41 1 42 1-49 1 8 1 5 1-35 1 32 1 38 1-6 1 20 1 1 1-18 1-25 1 39 1-11 1 24 1-26 1 17 1-18 1-6 1 22 1-66 1 90 1 10 1 18 1-6 1-39 1 6 1 8 1 26 1-11 1 9 1-53 1 23 1 48 1-43 1-20 1 69 1-59 1 48 1 19"/>
<path vector-effect="non-scaling-stroke" d="M0 938l1-5 1 11 1 42 1-35 1-14 1-18 1 26 1 22 1-32 1 20 1-18 1 20 1-32 1 19 1 57 1-39 1-17 1 13 1 21 1-29 1-12 1 25 1 13 1-28 1-20 1 14 1 6 1 36 1-19 1-45 1 27 1 20 1-27 1 44 1 5 1 7 1-74 1 60 1 40 1-62 1 23 1 8 1-16 1-27 1 33 1-17 1 14 1-25 1-1 1 49 1-25 1 15 1-21 1-10 1 36 1-18 1-19 1-39 1 26 1-1 1-35 1 57 1-55 1 21 1 6 1-22 1 23 1 29 1-13 1 35 1-12 1-22 1-2 1-3 1 17 1 21 1-31 1 36 1-27 1 2 1 50 1-43 1-3 1-6 1-10 1 29 1-23 1 42 1-40 1 25 1-55 1 29 1-4 1 26 1 3 1 5 1-4 1-15 1 34 1-15 1 51 1 21 1-23 1 30 1 1 1-47 1-2 1-4 1-48 1 45 1 24 1-38 1 37 1 5 1-42 1 41 1-20 1 37"/>
</g>
<line x1="118.9" x2="482.2" y1="478.7" y2="478.7" stroke="#808080" stroke-width="2" stroke-dasharray="7.4 3.2"/>
<g transform="matrix(1.4295 0 0 0.2 132.2 0)" fill="none" stroke="#aaa6d8" stroke-width="2.2" stroke-opacity="1" stroke-linejoin="round">
<path vector-effect="non-scaling-stroke" d="M0 2406l1 5 1-6 1 0 1 2 1 5 1-4 1-6 1 0 1 3 1-3 1 2 1-3 1 2 1 3 1 0 1 3 1-7 1 0 1-3 1 8 1 1 1-6 1 4 1-3 1 1 1 3 1-6 1-3 1 2 1 5 1 0 1 0 1-3 1 4 1-2 1 3 1 1 1-7 1 5 1 4 1-6 1-2 1 3 1-3 1 1 1 3 1-2 1-2 1 2 1 3 1-6 1 1 1-2 1 4 1-3 1 3 1-3 1 1 1 0 1 3 1 2 1-5 1-3 1 2 1 3 1-5 1 6 1-4 1-4 1 0 1 5 1 2 1 2 1-4 1 5 1-2 1-2 1-4 1 1 1 0 1 2 1 2 1-3 1 2 1 1 1-3 1-1 1 2 1 1 1 0 1-5 1 4 1-5 1 4 1 0 1-1 1 1 1-1 1 0 1 6 1-4 1-5 1 4 1-2 1-3 1 4 1 3 1-8 1 5 1 1 1-4 1 3 1 0 1-1 1 2 1-9 1 0 1-1 1 1 1-5 1-4 1 7 1-4 1-4 1 2 1-3 1 0 1-3 1-4 1 4 1-6 1-1 1 1 1 0 1-4 1-3 1-4 1-10 1-1 1-4 1-8 1 2 1-5 1-2 1-11 1-1 1 2 1-3 1-1 1 0 1-8 1 7 1-10 1 3 1-1 1-2 1 4 1-2 1-2 1 2 1 5 1 2 1-3 1-2 1 6 1 0 1-2 1 4 1 4 1-4 1 2 1 1 1 0 1-4 1 6 1 4 1-5 1 4 1-3 1 7 1-11 1 11 1-1 1-1 1 7 1-3 1-1 1 4 1 0 1-1 1 3 1 7 1-14 1 2 1 0 1 6 1-1 1 0 1-5 1 2 1 4 1-6 1 8 1-7 1 0 1-9 1 3 1-3 1 3 1 3 1-9 1 1 1-5 1 4 1-12 1 3 1-4 1-6 1 3 1 2 1-5 1 4 1 4 1 0 1 4 1 1 1-3 1 1 1 2 1 2 1-2 1-7 1 4 1 5 1 0 1-1"/>
</g>
<g transform="matrix(1.4295 0 0 0.2 132.2 0)" fill="none" stroke="#7f1f7f" stroke-width="2.2" stroke-opacity="1" stroke-linejoin="round">
<path vector-effect="non-scaling-stroke" d="M0 2377l1 13 1-1 1 4 1 7 1-16 1 17 1-9 1 5 1-1 1 1 1 3 1-11 1-6 1 16 1-10 1 2 1-11 1 3 1 3 1 7 1 7 1-21 1 17 1-13 1-9 1 21 1-1 1-5 1 11 1-20 1 6 1 13 1-16 1 4 1-5 1 7 1 2 1-8 1 3 1-2 1 5 1-5 1 10 1-12 1 7 1-8 1 18 1-16 1 13 1-13 1 9 1-7 1-4 1-3 1 16 1-3 1 6 1-18 1 11 1-9 1 10 1 3 1-1 1-13 1 10 1 8 1-19 1 29 1-10 1-4 1-7 1 1 1 1 1 12 1-5 1-7 1-13 1-4 1 20 1 9 1-8 1-2 1 1 1 2 1-6 1 9 1-11 1 17 1-9 1 2 1 3 1 7 1-9 1-2 1 1 1-10 1 16 1-12 1-1 1 2 1 7 1 9 1-4 1-1 1-4 1-14 1-2 1 9 1 13 1-21 1 14 1-13 1 17 1-2 1-13 1 14 1-4 1-12 1 8 1 0 1 0 1 4 1 1 1-10 1 0 1 4 1 1 1 5 1 3 1-10 1 4 1 8 1 1 1 4 1-21 1-2 1 5 1 16 1 12 1-8 1-12 1 15 1 3 1 1 1-18 1 15 1 5 1-1 1 11 1-20 1 25 1-14 1 10 1-6 1-3 1 13 1-15 1 18 1-27 1-3 1 18 1-4 1-12 1 1 1 18 1-2 1-16 1-7 1 0 1-3 1-5 1 12 1-15 1-3 1 1 1-11 1 0 1-9 1 10 1 1 1-26 1-8 1 7 1-6 1 11 1-3 1-5 1-9 1-3 1 6 1-10 1-1 1-16 1 6 1 5 1-21 1 10 1 1 1-10 1 4 1-10 1 20 1-26 1-1 1 0 1-18 1-3 1-2 1-7 1-4 1-9 1 11 1-9 1-10 1 0 1-25 1 10 1-9 1 2 1-9 1-20 1-2 1 4 1-4 1-16 1 8 1 3 1-7 1-22 1 12 1-1 1-13 1-8 1 9 1-6 1-12"/>
</g>
<g transform="matrix(1.4295 0 0 0.2 132.2 0)" fill="none" stroke="#2a7f7c" stroke-width="2.2" stroke-opacity="1" stroke-linejoin="round">
<path vector-effect="non-scaling-stroke" d="M0 2401l1-23 1 6 1 11 1-19 1 5 1 7 1 9 1-3 1-12 1 15 1-1 1-9 1-4 1 0 1 2 1 6 1-10 1 14 1-14 1 4 1 8 1-11 1-4 1 24 1-10 1 3 1-10 1 1 1 5 1 4 1 6 1-13 1 9 1-7 1 1 1-11 1 3 1 9 1-13 1 6 1-2 1 2 1-12 1 12 1 5 1-6 1-5 1 16 1-1 1-17 1 7 1 8 1-18 1 10 1 12 1 6 1-19 1 1 1 13 1-5 1-6 1 4 1 9 1-17 1-7 1 14 1 5 1 0 1 1 1-12 1 9 1-16 1 13 1 6 1 2 1-4 1 1 1 0 1-3 1-10 1 2 1-1 1 9 1 9 1-15 1 11 1 9 1-21 1 4 1 12 1-17 1-4 1 23 1-17 1 0 1-6 1 25 1-27 1 18 1-2 1-7 1 16 1-8 1-6 1 22 1-12 1-11 1 11 1-2 1 2 1-17 1 11 1-7 1 12 1 6 1 13 1-20 1-3 1 3 1 7 1-16 1 15 1-7 1-7 1 14 1-10 1-2 1 13 1 4 1 10 1-18 1 1 1 6 1-7 1 16 1-12 1 16 1-5 1-6 1 19 1-8 1 4 1 5 1-2 1 20 1-11 1 10 1-5 1-4 1-1 1 10 1 9 1-24 1 19 1-11 1 4 1 10 1-9 1-7 1 11 1 6 1 6 1-3 1-11 1 4 1-7 1 11 1 3 1 14 1-3 1-4 1 23 1-7 1-7 1 6 1 20 1-18 1 13 1 4 1-12 1 22 1-14 1 9 1 1 1 5 1-11 1 2 1-4 1 21 1-1 1-4 1-4 1 10 1 5 1-10 1 22 1-4 1 6 1-12 1 5 1-16 1 22 1 3 1 8 1-4 1 5 1-8 1 14 1-7 1 14 1-8 1 12 1 6 1 10 1-8 1 12 1 8 1 9 1 7 1 13 1-3 1 4 1 2 1 9 1-14 1 17 1 11 1 4 1 1 1 26 1-1 1-6 1-4 1 33 1-11 1 10"/>
</g>
</g>
<rect x="118.9" y="388.2" width="363.3" height="181" fill="none" stroke="#000" stroke-width="2.7"/>
<line x1="115.4" x2="118.9" y1="554.1" y2="554.1" stroke="#000" stroke-width="0.9"/>
<text x="111.9" y="559.3" font-size="14.4" text-anchor="end">−15</text>
<line x1="115.4" x2="118.9" y1="529" y2="529" stroke="#000" stroke-width="0.9"/>
<text x="111.9" y="534.2" font-size="14.4" text-anchor="end">−10</text>
<line x1="115.4" x2="118.9" y1="503.8" y2="503.8" stroke="#000" stroke-width="0.9"/>
<text x="111.9" y="509" font-size="14.4" text-anchor="end">−5</text>
<line x1="115.4" x2="118.9" y1="478.7" y2="478.7" stroke="#000" stroke-width="0.9"/>
<text x="111.9" y="483.9" font-size="14.4" text-anchor="end">0</text>
<line x1="115.4" x2="118.9" y1="453.6" y2="453.6" stroke="#000" stroke-width="0.9"/>
<text x="111.9" y="458.8" font-size="14.4" text-anchor="end">5</text>
<line x1="115.4" x2="118.9" y1="428.4" y2="428.4" stroke="#000" stroke-width="0.9"/>
<text x="111.9" y="433.6" font-size="14.4" text-anchor="end">10</text>
<line x1="115.4" x2="118.9" y1="403.3" y2="403.3" stroke="#000" stroke-width="0.9"/>
<text x="111.9" y="408.5" font-size="14.4" text-anchor="end">15</text>
<line x1="164.4" x2="164.4" y1="569.2" y2="572.7" stroke="#000" stroke-width="0.9"/>
<text x="164.4" y="586.8" font-size="14.4" text-anchor="middle">1880</text>
<line x1="221.6" x2="221.6" y1="569.2" y2="572.7" stroke="#000" stroke-width="0.9"/>
<text x="221.6" y="586.8" font-size="14.4" text-anchor="middle">1920</text>
<line x1="278.8" x2="278.8" y1="569.2" y2="572.7" stroke="#000" stroke-width="0.9"/>
<text x="278.8" y="586.8" font-size="14.4" text-anchor="middle">1960</text>
<line x1="335.9" x2="335.9" y1="569.2" y2="572.7" stroke="#000" stroke-width="0.9"/>
<text x="335.9" y="586.8" font-size="14.4" text-anchor="middle">2000</text>
<line x1="393.1" x2="393.1" y1="569.2" y2="572.7" stroke="#000" stroke-width="0.9"/>
<text x="393.1" y="586.8" font-size="14.4" text-anchor="middle">2040</text>
<line x1="450.3" x2="450.3" y1="569.2" y2="572.7" stroke="#000" stroke-width="0.9"/>
<text x="450.3" y="586.8" font-size="14.4" text-anchor="middle">2080</text>
<text x="116.8" y="382.7" font-size="19.9">(ii) Decomposition of Advection</text>
<line x1="132.4" x2="164.4" y1="523.9" y2="523.9" stroke="#aaa6d8" stroke-width="2"/>
<text x="175.4" y="529.5" font-size="14.4"><tspan font-weight="bold">X</tspan><tspan font-size="12.4" font-style="italic" dy="2.3">adv</tspan></text>
<line x1="132.4" x2="164.4" y1="545.8" y2="545.8" stroke="#7f1f7f" stroke-width="2"/>
<text x="175.4" y="551.4" font-size="14.4"><tspan font-weight="bold">Y</tspan><tspan font-size="12.4" font-style="italic" dy="2.3">adv</tspan></text>
<line x1="236" x2="268" y1="523.9" y2="523.9" stroke="#2a7f7c" stroke-width="2"/>
<text x="278.2" y="529.5" font-size="14.4"><tspan font-weight="bold">Z</tspan><tspan font-size="12.4" font-style="italic" dy="2.3">adv</tspan></text>
<rect x="1089.9" y="29.8" width="554.4" height="572.2" fill="#ecedda"/>
<rect x="1643.3" y="29.8" width="290.2" height="572.2" fill="#e3dad8"/>
<g clip-path="url(#cd1)">
<g fill="#6a6a6a" fill-opacity="0.08" stroke="none" filter="url(#bl)">
<path d="M1115 292 1142 296 1169 294 1196 287 1223 288 1250 287 1277 283 1304 282 1331 283 1358 283 1385 277 1412 270 1439 261 1466 248 1493 247 1520 255 1547 253 1574 249 1601 244 1628 236 1655 230 1682 221 1709 210 1736 194 1763 173 1790 151 1817 127 1844 108 1871 82 1898 54 1912 46L1912 130 1898 139 1871 168 1844 195 1817 215 1790 239 1763 262 1736 284 1709 302 1682 314 1655 325 1628 333 1601 343 1574 347 1547 348 1520 349 1493 339 1466 338 1439 350 1412 359 1385 364 1358 370 1331 369 1304 367 1277 367 1250 370 1223 369 1196 368 1169 374 1142 375 1115 370Z"/>
<path d="M1115 253 1142 257 1169 254 1196 246 1223 247 1250 246 1277 241 1304 240 1331 240 1358 240 1385 233 1412 226 1439 217 1466 202 1493 200 1520 207 1547 204 1574 199 1601 193 1628 186 1655 181 1682 172 1709 162 1736 146 1763 126 1790 104 1817 81 1844 62 1871 37 1898 9 1912 1L1912 169 1898 178 1871 208 1844 235 1817 255 1790 280 1763 304 1736 326 1709 345 1682 358 1655 371 1628 380 1601 391 1574 394 1547 395 1520 395 1493 385 1466 383 1439 395 1412 403 1385 408 1358 413 1331 412 1304 409 1277 408 1250 411 1223 410 1196 408 1169 414 1142 415 1115 409Z"/>
<path d="M1115 214 1142 217 1169 214 1196 206 1223 206 1250 205 1277 199 1304 198 1331 198 1358 197 1385 190 1412 182 1439 172 1466 157 1493 154 1520 160 1547 155 1574 149 1601 142 1628 136 1655 131 1682 122 1709 113 1736 98 1763 78 1790 57 1817 34 1844 16 1871 -9 1898 -36 1912 -44L1912 208 1898 217 1871 247 1844 275 1817 296 1790 321 1763 345 1736 368 1709 388 1682 402 1655 416 1628 427 1601 438 1574 442 1547 442 1520 442 1493 430 1466 428 1439 440 1412 447 1385 452 1358 456 1331 454 1304 451 1277 450 1250 453 1223 451 1196 449 1169 454 1142 454 1115 448Z"/>
</g>
<g fill="#8a7a10" fill-opacity="0.17" stroke="none" filter="url(#bl)">
<path d="M1115 299 1142 299 1169 299 1196 299 1223 298 1250 298 1277 298 1304 298 1331 298 1358 297 1385 297 1412 297 1439 296 1466 295 1493 293 1520 292 1547 290 1574 288 1601 286 1628 284 1655 283 1682 281 1709 279 1736 275 1763 272 1790 269 1817 266 1844 264 1871 262 1898 260 1912 259L1912 295 1898 296 1871 298 1844 300 1817 302 1790 304 1763 308 1736 311 1709 314 1682 316 1655 318 1628 319 1601 321 1574 323 1547 325 1520 327 1493 328 1466 329 1439 331 1412 331 1385 332 1358 332 1331 332 1304 332 1277 332 1250 332 1223 332 1196 332 1169 332 1142 333 1115 333Z"/>
<path d="M1115 282 1142 282 1169 282 1196 282 1223 281 1250 281 1277 281 1304 281 1331 280 1358 280 1385 280 1412 280 1439 279 1466 277 1493 276 1520 274 1547 272 1574 270 1601 268 1628 267 1655 265 1682 263 1709 261 1736 258 1763 254 1790 251 1817 248 1844 246 1871 244 1898 242 1912 241L1912 313 1898 314 1871 316 1844 318 1817 320 1790 322 1763 325 1736 329 1709 332 1682 334 1655 335 1628 337 1601 338 1574 340 1547 342 1520 344 1493 345 1466 347 1439 348 1412 349 1385 349 1358 349 1331 349 1304 349 1277 349 1250 349 1223 349 1196 349 1169 349 1142 349 1115 349Z"/>
<path d="M1115 265 1142 265 1169 265 1196 265 1223 264 1250 264 1277 264 1304 264 1331 263 1358 263 1385 263 1412 262 1439 262 1466 260 1493 259 1520 257 1547 255 1574 253 1601 251 1628 249 1655 247 1682 246 1709 243 1736 240 1763 237 1790 233 1817 231 1844 228 1871 226 1898 224 1912 223L1912 331 1898 332 1871 334 1844 336 1817 338 1790 340 1763 343 1736 346 1709 350 1682 352 1655 353 1628 354 1601 356 1574 358 1547 360 1520 361 1493 363 1466 364 1439 365 1412 366 1385 366 1358 366 1331 366 1304 366 1277 366 1250 366 1223 366 1196 366 1169 366 1142 366 1115 366Z"/>
</g>
<g fill="#f0b020" fill-opacity="0.04" stroke="none" filter="url(#bl)">
<path d="M1115 291 1142 288 1169 290 1196 294 1223 292 1250 291 1277 292 1304 292 1331 292 1358 290 1385 292 1412 294 1439 298 1466 304 1493 301 1520 292 1547 289 1574 287 1601 282 1628 275 1655 270 1682 268 1709 263 1736 262 1763 264 1790 266 1817 269 1844 271 1871 276 1898 283 1912 284L1912 332 1898 330 1871 324 1844 318 1817 315 1790 312 1763 309 1736 307 1709 308 1682 313 1655 315 1628 320 1601 327 1574 333 1547 335 1520 338 1493 347 1466 351 1439 344 1412 340 1385 338 1358 337 1331 339 1304 339 1277 339 1250 338 1223 339 1196 341 1169 338 1142 336 1115 339Z"/>
<path d="M1115 267 1142 264 1169 266 1196 270 1223 268 1250 267 1277 268 1304 268 1331 268 1358 266 1385 268 1412 270 1439 274 1466 280 1493 277 1520 268 1547 265 1574 263 1601 258 1628 251 1655 246 1682 244 1709 239 1736 238 1763 239 1790 241 1817 243 1844 245 1871 250 1898 256 1912 257L1912 353 1898 351 1871 345 1844 339 1817 336 1790 333 1763 330 1736 328 1709 329 1682 334 1655 336 1628 342 1601 349 1574 355 1547 357 1520 360 1493 369 1466 373 1439 367 1412 363 1385 361 1358 360 1331 362 1304 362 1277 362 1250 362 1223 363 1196 365 1169 362 1142 360 1115 363Z"/>
<path d="M1115 243 1142 240 1169 242 1196 246 1223 244 1250 243 1277 244 1304 244 1331 244 1358 242 1385 244 1412 246 1439 250 1466 256 1493 253 1520 244 1547 241 1574 239 1601 234 1628 227 1655 222 1682 220 1709 215 1736 214 1763 215 1790 216 1817 218 1844 219 1871 224 1898 229 1912 230L1912 374 1898 372 1871 366 1844 360 1817 357 1790 354 1763 351 1736 349 1709 350 1682 355 1655 358 1628 363 1601 371 1574 377 1547 379 1520 382 1493 391 1466 395 1439 389 1412 386 1385 384 1358 382 1331 385 1304 385 1277 385 1250 385 1223 386 1196 388 1169 385 1142 384 1115 387Z"/>
</g>
<g fill="#f06068" fill-opacity="0.05" stroke="none" filter="url(#bl)">
<path d="M1115 304 1142 300 1169 297 1196 298 1223 298 1250 297 1277 301 1304 304 1331 304 1358 301 1385 300 1412 299 1439 300 1466 305 1493 309 1520 311 1547 313 1574 314 1601 318 1628 325 1655 331 1682 335 1709 337 1736 341 1763 346 1790 354 1817 364 1844 370 1871 378 1898 390 1912 394L1912 436 1898 431 1871 417 1844 407 1817 399 1790 387 1763 377 1736 370 1709 364 1682 360 1655 355 1628 348 1601 341 1574 337 1547 336 1520 333 1493 331 1466 327 1439 322 1412 320 1385 321 1358 322 1331 324 1304 325 1277 321 1250 317 1223 317 1196 317 1169 316 1142 318 1115 322Z"/>
<path d="M1115 295 1142 291 1169 288 1196 289 1223 289 1250 288 1277 291 1304 294 1331 293 1358 291 1385 289 1412 288 1439 290 1466 294 1493 298 1520 299 1547 302 1574 303 1601 306 1628 313 1655 319 1682 322 1709 324 1736 327 1763 332 1790 339 1817 348 1844 354 1871 361 1898 373 1912 376L1912 460 1898 454 1871 439 1844 428 1817 418 1790 405 1763 394 1736 385 1709 379 1682 373 1655 367 1628 360 1601 353 1574 349 1547 347 1520 344 1493 342 1466 338 1439 333 1412 331 1385 331 1358 332 1331 334 1304 335 1277 331 1250 327 1223 327 1196 327 1169 325 1142 328 1115 331Z"/>
<path d="M1115 286 1142 282 1169 279 1196 280 1223 279 1250 278 1277 281 1304 284 1331 283 1358 280 1385 279 1412 278 1439 279 1466 283 1493 287 1520 288 1547 291 1574 291 1601 295 1628 301 1655 307 1682 310 1709 311 1736 313 1763 317 1790 324 1817 332 1844 338 1871 344 1898 355 1912 358L1912 484 1898 478 1871 461 1844 449 1817 437 1790 423 1763 411 1736 401 1709 393 1682 386 1655 379 1628 372 1601 365 1574 360 1547 359 1520 355 1493 353 1466 349 1439 343 1412 341 1385 341 1358 342 1331 344 1304 345 1277 341 1250 336 1223 337 1196 336 1169 334 1142 337 1115 340Z"/>
</g>
<g fill="#6cd07a" fill-opacity="0.05" stroke="none" filter="url(#bl)">
<path d="M1115 298 1142 299 1169 303 1196 304 1223 304 1250 305 1277 305 1304 302 1331 303 1358 306 1385 310 1412 313 1439 315 1466 317 1493 314 1520 311 1547 313 1574 318 1601 324 1628 329 1655 332 1682 338 1709 349 1736 361 1763 372 1790 382 1817 391 1844 400 1871 410 1898 419 1912 421L1912 457 1898 454 1871 443 1844 431 1817 420 1790 408 1763 396 1736 383 1709 369 1682 356 1655 348 1628 345 1601 340 1574 334 1547 328 1520 326 1493 328 1466 330 1439 329 1412 326 1385 323 1358 318 1331 315 1304 314 1277 316 1250 317 1223 315 1196 315 1169 313 1142 309 1115 308Z"/>
<path d="M1115 294 1142 294 1169 298 1196 299 1223 298 1250 300 1277 299 1304 297 1331 297 1358 300 1385 304 1412 307 1439 309 1466 310 1493 308 1520 305 1547 306 1574 312 1601 318 1628 322 1655 325 1682 330 1709 341 1736 353 1763 363 1790 373 1817 381 1844 390 1871 399 1898 407 1912 409L1912 481 1898 477 1871 464 1844 451 1817 438 1790 425 1763 411 1736 397 1709 380 1682 366 1655 357 1628 353 1601 348 1574 342 1547 336 1520 334 1493 336 1466 338 1439 336 1412 333 1385 330 1358 325 1331 321 1304 321 1277 322 1250 322 1223 320 1196 320 1169 318 1142 314 1115 313Z"/>
<path d="M1115 289 1142 289 1169 292 1196 294 1223 293 1250 295 1277 294 1304 291 1331 291 1358 294 1385 298 1412 301 1439 303 1466 304 1493 301 1520 298 1547 300 1574 305 1601 311 1628 315 1655 317 1682 323 1709 333 1736 344 1763 354 1790 363 1817 371 1844 379 1871 388 1898 395 1912 397L1912 505 1898 500 1871 486 1844 471 1817 456 1790 442 1763 426 1736 410 1709 392 1682 376 1655 366 1628 362 1601 357 1574 350 1547 344 1520 342 1493 344 1466 345 1439 343 1412 341 1385 336 1358 331 1331 328 1304 327 1277 328 1250 328 1223 326 1196 326 1169 323 1142 319 1115 318Z"/>
</g>
</g>
<g clip-path="url(#cm1)">
<g transform="matrix(3.3745 0 0 1 1115.2 0)" fill="none" stroke="#9a8410" stroke-width="1.0" stroke-opacity="0.16" stroke-linejoin="round" id="m1olive">
<path vector-effect="non-scaling-stroke" d="M0 287l1 10 1 31 1 10 1-31 1 15 1 19 1-45 1 48 1-33 1 21 1-30 1 3 1 16 1-2 1 19 1 4 1-30 1-17 1 24 1 28 1-28 1-21 1 26 1 14 1-19 1-27 1 28 1 40 1-35 1 11 1-19 1 15 1-23 1-8 1 81 1-67 1-29 1 22 1-39 1 26 1-8 1 28 1-21 1 15 1-9 1 18 1 26 1-33 1 25 1-44 1 41 1 19 1 48 1-54 1-12 1-9 1 6 1 5 1-34 1 33 1-67 1 52 1-7 1-26 1 23 1-16 1 32 1 14 1-76 1 59 1-9 1 4 1-2 1-28 1 14 1 8 1 35 1-19 1-62 1 40 1 26 1-40 1 49 1-55 1 33 1-4 1 10 1-38 1 4 1 8 1 56 1-44 1-3 1-5 1-3 1 33 1-16 1-38 1 47 1 10 1-30 1 26 1 1 1-35 1 25 1-12 1 38 1-22 1 7 1-38 1-8 1-10 1 33 1-44 1 68 1 7 1-70 1 48 1-32 1 40 1-22 1-6 1 38 1-50 1 54 1-53 1 29 1 42 1-70 1 5 1 53 1-30 1 27 1-19 1 14 1-1 1-65 1 45 1 4 1-2 1-9 1-8 1 29 1-38 1-11 1 63 1-49 1-27 1 64 1-49 1 9 1-7 1-33 1 83 1-18 1-16 1-31 1 14 1 6 1 2 1-23 1 56 1-20 1-12 1 7 1-1 1 18 1-19 1-8 1 65 1-43 1 3 1 8 1-65 1 65 1-74 1 43 1-5 1-41 1 89 1-33 1-9 1-15 1 88 1-119 1 50 1-21 1 34 1-68 1 46 1-9 1 30 1-23 1-25 1 30 1 3 1 32 1-50 1 7 1-20 1-2 1 10 1 26 1 0 1 16 1 21 1-25 1 5 1-15 1 1 1-18 1-17 1-7 1 33 1 14 1-42 1 42 1 1 1-29 1-6 1 33 1 21 1-47 1-6 1-6 1 10 1 2 1 31 1-24 1-42 1 82 1-70 1 21 1-19 1 23 1 14"/>
<path vector-effect="non-scaling-stroke" d="M0 322l1-16 1 35 1-27 1-5 1 27 1 16 1-73 1 29 1 16 1-16 1 25 1-18 1 15 1 5 1-39 1-74 1 77 1 13 1 39 1-55 1 3 1-14 1-5 1 42 1-1 1-51 1 20 1 29 1 2 1-27 1 25 1-21 1 6 1 8 1 15 1-9 1-26 1 45 1 16 1-41 1 32 1-1 1-31 1-7 1-1 1 24 1-50 1 23 1 23 1 14 1-37 1 30 1-45 1 18 1 47 1 4 1-51 1-23 1 38 1-16 1-15 1 60 1-84 1 68 1-41 1 73 1-85 1 20 1 19 1 4 1-16 1-21 1 30 1 13 1-22 1 36 1-20 1-3 1-11 1 9 1 18 1-81 1 81 1-27 1 28 1-15 1-3 1-11 1 10 1-28 1 21 1 2 1 6 1-35 1 19 1-23 1 41 1-12 1-2 1-16 1-3 1 33 1 15 1-49 1 38 1 11 1-47 1 35 1-39 1 56 1-69 1 45 1 16 1-15 1-10 1-22 1 40 1-28 1 16 1 31 1-18 1 3 1-62 1 56 1 1 1-11 1 8 1-39 1 26 1-16 1 9 1-33 1 25 1-18 1 44 1-17 1 29 1 12 1-42 1-12 1 61 1-43 1 20 1-44 1 38 1-52 1 31 1-11 1 8 1-14 1 9 1-31 1 66 1-54 1 28 1-10 1-11 1 24 1 0 1-45 1 49 1-2 1-17 1 22 1-67 1 59 1-6 1-21 1 11 1 46 1 36 1-84 1 2 1-1 1 38 1-32 1-15 1 24 1 32 1-9 1 7 1-92 1 67 1-9 1-15 1-20 1 2 1-4 1 67 1-30 1-2 1 5 1-34 1 22 1 1 1-31 1-36 1 94 1-28 1-25 1 29 1-59 1 59 1-42 1 91 1-41 1 4 1-20 1-6 1 8 1 4 1 10 1-46 1 22 1 25 1 27 1-38 1-30 1 24 1-11 1-3 1 12 1 78 1-74 1-8 1 19 1-21 1 6 1-19 1 48 1-19 1-10 1-20 1 44 1-1 1 26"/>
<path vector-effect="non-scaling-stroke" d="M0 325l1-8 1-16 1-4 1 40 1 17 1-41 1 42 1-54 1-19 1 38 1 5 1 10 1-5 1-63 1 39 1-13 1-28 1 26 1 10 1 27 1-39 1 32 1-3 1 18 1 29 1-34 1 49 1-54 1-5 1 9 1 27 1 7 1-51 1-47 1 50 1-9 1-10 1 18 1-24 1 61 1 15 1-62 1 11 1 33 1-23 1-42 1 47 1-44 1 52 1 12 1-72 1 1 1 26 1 36 1-16 1-35 1 26 1 26 1-45 1 41 1-35 1-9 1 16 1-20 1 44 1-29 1-5 1-27 1 61 1-15 1 2 1 0 1-17 1 21 1-26 1 27 1 6 1-4 1-20 1-28 1 86 1-69 1-26 1 48 1-50 1 30 1 15 1-31 1 17 1 18 1-24 1 47 1-16 1-26 1-16 1 37 1-16 1-32 1 48 1-16 1-49 1 13 1 15 1 50 1-42 1 28 1-56 1 10 1 30 1 13 1-9 1-19 1-15 1 70 1-15 1-40 1 13 1-10 1 2 1-17 1 48 1-17 1 13 1-18 1 33 1-12 1-27 1-44 1 51 1-5 1 29 1 17 1-90 1 25 1-31 1 53 1 33 1-22 1-16 1 16 1-22 1 36 1 14 1-24 1-23 1 11 1-18 1 5 1 29 1-5 1 47 1-58 1-19 1 14 1 45 1-18 1-28 1 19 1 6 1-27 1 1 1-47 1 44 1 3 1-19 1 59 1-12 1-50 1-13 1 53 1-28 1 2 1 7 1-12 1-15 1 75 1-58 1 17 1 2 1-15 1 16 1-22 1-7 1 50 1-7 1-29 1-11 1-10 1 10 1-13 1 56 1-65 1 65 1-37 1-10 1 28 1-22 1-25 1 12 1 18 1-6 1-4 1 29 1 10 1-23 1 35 1 1 1-31 1 8 1-25 1 37 1-46 1 5 1-19 1 42 1-23 1 23 1-26 1 20 1-23 1 63 1-36 1 9 1-17 1-20 1 15 1 7 1 9 1-35 1 33 1-31 1-23 1 60 1-16 1-22 1 39"/>
<path vector-effect="non-scaling-stroke" d="M0 320l1-41 1 71 1-26 1 0 1 0 1 9 1 4 1-21 1 13 1-19 1-21 1 9 1 20 1 13 1-14 1 9 1-17 1 15 1-11 1 11 1-15 1 2 1 22 1-20 1-3 1 22 1-26 1 26 1-3 1-35 1-21 1 54 1-44 1 72 1-36 1-5 1 21 1-45 1 88 1-44 1-5 1-24 1 17 1-1 1 9 1-28 1-7 1 58 1-45 1-2 1-11 1-2 1 80 1-67 1-25 1 42 1-9 1-27 1 4 1 17 1-4 1 31 1-27 1 17 1-6 1-10 1-6 1 44 1 4 1 16 1-36 1 15 1-54 1 63 1-66 1 55 1-62 1 39 1 41 1-40 1-30 1 27 1 27 1-35 1 2 1 9 1-25 1 81 1-27 1-55 1 26 1 6 1 4 1-74 1 65 1 16 1-47 1 26 1-25 1 32 1 11 1 2 1-51 1-19 1 71 1-44 1 2 1-40 1 87 1-39 1 34 1-35 1 30 1-16 1 5 1-24 1 42 1-7 1-65 1 49 1-32 1 7 1 30 1-12 1 42 1-18 1-4 1-12 1 11 1-35 1 44 1-41 1-8 1 11 1-11 1 9 1-57 1 93 1-30 1-2 1 25 1-29 1-31 1 1 1 64 1 10 1-27 1 15 1-12 1-16 1 11 1 6 1-31 1 6 1 45 1-59 1 81 1-107 1 69 1-42 1-39 1 77 1-39 1 42 1-41 1 44 1-43 1 21 1-28 1 31 1 12 1-26 1 8 1 13 1-77 1 57 1-19 1 22 1 52 1-72 1 8 1-17 1-7 1 66 1-54 1-8 1 33 1-29 1 19 1 0 1 16 1-21 1-5 1 7 1 9 1 16 1-33 1-50 1 32 1-6 1 54 1 10 1-7 1-105 1 93 1-27 1 18 1-34 1 30 1 8 1-42 1 63 1-46 1-37 1 71 1 24 1-52 1 8 1 19 1-17 1 22 1-6 1-55 1 31 1-20 1 74 1-17 1-79 1 44 1-44 1 0 1-10 1 64 1-7 1-21 1 17"/>
<path vector-effect="non-scaling-stroke" d="M0 345l1-17 1-1 1-3 1 14 1-42 1 25 1 5 1 18 1-25 1 6 1 3 1-1 1 41 1 3 1-71 1 9 1 0 1 6 1 7 1-13 1 5 1 10 1-32 1 49 1-29 1 5 1 40 1-44 1 21 1-54 1 34 1-5 1-24 1 48 1-5 1 11 1 3 1-17 1-1 1-3 1 23 1-30 1 39 1-36 1-2 1-22 1 49 1-13 1-16 1 8 1 27 1-21 1-6 1-10 1 26 1-7 1-12 1-12 1-10 1-13 1 15 1 18 1 8 1-33 1 46 1-48 1 23 1-35 1 22 1 11 1 1 1-45 1 70 1 1 1-26 1 0 1 0 1 13 1 13 1-9 1-13 1 23 1 1 1-26 1 26 1-13 1-15 1 1 1 24 1 1 1-10 1-33 1 14 1-5 1 11 1-30 1 36 1-13 1 33 1-46 1-9 1 19 1-44 1 57 1-8 1 23 1-15 1 35 1-24 1-20 1 23 1-50 1 43 1-27 1 6 1 20 1 2 1 8 1-14 1 27 1-62 1 34 1-33 1 65 1-7 1-34 1-24 1 58 1 4 1-24 1-29 1 15 1 58 1-100 1 57 1 16 1-58 1 46 1-63 1 30 1-27 1 56 1-49 1 43 1-3 1-41 1 87 1-49 1-11 1-30 1 56 1-12 1 13 1-67 1 54 1 23 1-38 1-6 1 12 1-20 1 15 1-33 1 32 1-30 1 7 1 52 1 18 1-74 1 66 1-69 1 23 1 29 1 1 1-46 1 27 1-39 1 1 1 41 1-9 1 2 1 20 1-50 1 23 1-15 1 4 1-5 1 3 1-18 1-4 1-14 1 61 1-30 1-31 1 33 1-29 1 38 1 8 1 7 1-45 1 41 1-25 1 24 1-5 1-11 1 13 1 35 1-62 1 36 1-13 1-28 1-36 1 29 1 21 1 51 1-33 1-16 1 14 1 30 1-28 1-1 1 38 1-17 1 19 1-27 1-6 1-20 1-29 1 38 1 0 1-59 1 32 1 30 1-44 1 82 1-71 1 22"/>
<path vector-effect="non-scaling-stroke" d="M0 315l1-11 1 27 1-12 1 29 1-39 1 33 1-14 1 9 1-76 1 39 1-13 1 31 1 10 1 23 1-30 1 8 1 17 1-29 1-13 1 17 1-31 1-17 1 72 1-55 1 37 1 10 1 14 1-11 1-62 1 36 1-18 1 34 1-13 1-32 1 22 1 10 1-23 1 11 1-21 1 63 1 0 1-28 1-52 1 87 1 19 1-53 1-7 1 0 1-8 1 51 1-47 1 13 1-12 1 20 1-20 1 25 1-22 1-42 1 75 1-27 1 9 1 17 1-50 1 34 1-35 1 15 1-3 1 1 1 5 1 17 1-28 1-34 1 10 1 9 1 79 1-52 1 10 1-19 1 31 1-44 1 1 1 39 1-27 1 13 1 40 1-20 1-8 1-39 1 46 1-25 1 23 1-10 1 22 1-19 1 13 1-50 1 31 1-7 1 17 1 15 1-9 1 19 1-51 1-22 1 9 1 9 1 47 1-56 1 45 1-28 1 7 1-31 1 21 1 42 1-46 1 45 1-16 1-6 1-14 1 22 1-5 1 12 1-6 1-75 1 36 1-35 1 57 1-7 1-14 1 64 1-45 1 20 1-48 1 51 1-72 1 16 1 31 1-26 1 50 1-4 1-46 1 42 1-8 1-63 1 9 1 6 1 0 1 5 1 50 1-73 1 83 1-49 1-39 1 50 1 10 1-39 1-8 1 52 1-47 1 16 1-21 1 50 1-39 1-9 1 22 1 0 1-13 1 4 1-9 1 18 1-7 1-32 1 27 1 44 1-42 1 7 1 9 1 20 1-45 1 15 1-16 1 24 1-9 1-45 1 60 1 10 1 0 1-14 1 2 1-42 1 9 1 48 1-12 1-11 1 0 1 28 1-33 1 8 1 8 1-49 1 47 1-21 1-7 1 22 1 22 1-8 1-14 1-17 1 71 1-39 1-6 1-60 1 52 1-3 1 6 1-5 1 17 1 7 1-23 1-2 1-52 1 65 1-17 1 45 1-11 1-13 1-55 1 32 1-36 1 50 1-27 1 27 1-66 1 19 1-1 1 30"/>
<path vector-effect="non-scaling-stroke" d="M0 327l1-4 1 36 1-49 1 34 1-31 1 24 1-2 1-35 1-6 1-4 1 11 1 41 1-28 1-29 1 33 1-31 1 30 1-11 1 33 1-16 1 22 1-41 1 32 1-23 1 18 1 6 1-15 1-20 1 28 1 10 1-46 1 47 1-64 1 4 1 18 1 14 1-12 1 25 1-27 1 17 1 28 1-69 1 28 1-7 1 26 1-5 1 16 1-9 1-27 1 51 1-27 1 4 1 26 1-33 1 3 1 25 1-59 1 49 1-6 1 13 1-9 1-10 1-6 1-8 1-6 1-19 1 39 1 22 1-29 1 5 1-13 1 41 1-53 1-6 1-11 1 56 1 12 1-36 1 25 1 22 1-50 1 50 1-51 1-22 1-11 1 56 1-7 1 33 1 5 1-12 1-78 1 4 1 20 1 30 1-8 1-2 1-14 1-12 1 55 1-50 1-18 1-12 1 48 1-46 1 15 1 69 1-34 1-83 1 89 1-11 1 12 1 13 1-42 1 37 1 44 1-28 1-15 1-6 1-19 1 66 1-12 1-57 1 10 1-21 1 55 1-45 1 54 1-54 1 46 1-20 1-44 1 65 1-39 1-40 1 68 1-48 1 25 1 2 1 10 1-27 1 25 1-57 1 14 1 17 1 25 1-40 1 55 1-1 1-34 1-10 1 7 1-38 1 27 1 20 1-19 1 29 1-10 1-44 1 38 1-38 1 6 1 30 1-21 1 35 1-24 1-10 1-20 1 36 1 0 1-59 1 92 1-27 1-65 1 71 1-4 1 45 1-36 1 6 1-16 1 6 1-2 1-28 1 6 1-15 1 48 1-5 1-17 1 32 1-22 1 9 1 1 1-63 1 7 1 42 1-12 1 5 1 36 1-17 1-21 1-13 1 55 1-53 1 26 1-32 1 26 1-41 1 22 1-8 1-7 1 25 1-50 1 67 1-54 1 55 1 1 1-56 1 18 1 9 1-11 1 36 1 6 1-59 1 1 1 18 1 14 1-7 1-40 1 17 1 8 1 11 1-6 1 2 1-19 1-7 1 48 1 9"/>
<path vector-effect="non-scaling-stroke" d="M0 341l1-12 1-21 1-11 1 9 1-12 1 20 1 6 1-19 1-14 1 70 1-75 1-10 1 48 1-13 1 16 1 52 1-77 1 37 1-18 1 22 1 6 1-41 1 9 1-28 1 23 1 11 1 29 1-43 1-30 1 36 1 10 1-70 1 74 1-7 1 20 1-48 1-2 1 18 1 3 1 27 1-20 1-26 1 26 1-14 1 12 1 18 1-25 1-7 1 48 1-18 1 13 1-49 1 31 1-11 1 58 1-14 1-23 1-13 1-5 1 26 1-65 1 0 1 47 1-31 1-6 1 53 1-11 1-2 1 11 1 3 1 27 1-47 1 18 1 5 1-23 1 18 1-26 1 22 1-44 1 13 1 4 1 41 1-89 1 70 1-19 1-29 1 8 1 19 1 7 1-18 1 39 1-13 1 12 1-32 1-11 1-25 1 60 1-19 1 49 1-8 1-2 1-35 1-21 1 36 1-19 1-24 1 7 1-18 1 15 1-25 1 38 1-5 1 21 1-32 1 46 1-43 1-2 1 15 1 24 1-43 1-2 1 21 1-58 1 63 1-15 1 48 1-19 1 4 1-78 1-4 1 42 1 32 1 5 1 5 1-55 1 0 1 44 1 3 1-9 1 25 1 35 1 0 1-75 1 14 1-5 1-35 1 51 1-60 1 21 1 46 1-14 1-35 1 51 1-18 1-5 1-67 1 68 1-2 1 8 1-11 1 4 1 12 1-11 1-46 1 36 1-15 1 32 1 0 1 6 1 6 1-31 1 28 1-31 1 24 1-43 1 31 1 3 1 22 1-49 1 13 1-12 1-5 1-32 1 82 1-50 1 28 1-1 1 21 1-55 1 15 1-15 1 6 1-28 1 53 1-14 1 16 1 8 1 34 1-26 1-28 1-11 1 30 1-24 1 3 1 14 1 17 1-58 1 38 1-6 1 28 1-14 1-23 1-12 1 16 1 11 1-42 1 0 1-6 1 51 1-13 1-38 1 23 1-18 1-16 1-18 1 38 1 16 1 8 1-8 1 43 1-17 1-60 1 53 1 1 1 2 1-20"/>
<path vector-effect="non-scaling-stroke" d="M0 308l1-12 1-6 1 18 1-4 1 7 1-38 1 8 1 33 1-1 1 39 1-23 1-21 1 38 1-56 1 49 1 5 1-22 1-8 1 25 1-9 1-13 1 17 1-51 1 41 1 50 1-34 1 6 1-35 1 16 1-18 1-17 1 20 1-10 1 26 1-11 1-19 1 20 1 7 1-48 1 56 1-34 1 22 1 10 1-20 1 38 1-61 1 62 1-53 1 20 1 26 1 15 1-42 1-7 1-3 1 12 1 20 1-32 1 32 1-40 1-25 1 30 1 37 1-44 1 24 1-8 1 28 1-20 1 42 1-50 1 73 1-16 1-54 1 14 1-47 1-6 1 10 1 36 1 13 1-22 1 7 1-51 1 59 1-32 1 2 1 34 1-45 1 57 1-62 1 26 1-17 1 1 1 29 1-10 1 10 1-21 1 3 1 41 1-36 1-13 1 41 1-49 1 8 1-11 1 36 1-32 1 19 1-54 1 52 1-16 1 3 1 18 1 13 1-9 1-66 1 39 1 26 1-17 1-12 1 32 1-30 1 0 1 66 1-29 1 14 1-32 1-2 1 1 1 31 1-42 1 12 1-2 1-21 1-21 1 112 1-89 1-44 1 33 1 30 1-23 1 52 1-52 1 17 1 25 1-42 1 47 1-52 1 2 1 25 1-41 1 33 1 0 1-12 1 14 1 7 1 39 1-61 1 35 1 8 1-1 1-90 1 43 1 7 1 20 1-31 1 46 1-50 1 31 1 32 1 7 1-25 1-9 1-6 1-20 1 52 1 2 1-44 1 33 1-1 1-29 1 5 1-18 1 9 1-33 1 44 1-18 1 18 1-40 1 72 1-67 1 70 1-65 1 48 1-8 1-29 1 7 1-11 1-3 1 51 1-50 1 52 1-18 1 3 1-3 1-30 1 48 1-13 1 26 1-12 1-70 1 9 1-19 1 5 1 49 1-15 1-58 1 48 1 29 1-19 1-16 1-7 1 10 1 11 1-37 1-3 1 41 1-47 1 30 1 24 1 11 1-38 1 7 1 23 1-7 1 11 1 11 1-22"/>
<path vector-effect="non-scaling-stroke" d="M0 282l1 49 1-27 1 40 1-57 1 50 1 13 1-15 1-9 1-51 1 20 1 71 1-22 1 31 1-48 1-19 1 17 1-53 1 43 1-15 1 20 1-28 1 9 1 22 1 3 1-18 1 12 1-10 1 9 1 17 1-16 1-23 1 0 1 20 1-29 1 18 1-8 1-14 1 25 1 1 1 21 1-46 1 60 1-36 1-8 1-4 1 46 1-30 1 36 1-4 1-29 1 51 1-29 1-56 1-3 1-6 1 33 1 12 1 13 1 4 1-40 1-30 1 50 1-12 1-10 1 32 1-68 1 74 1 1 1 1 1-66 1 17 1 29 1 49 1-63 1 26 1 6 1-14 1 30 1-35 1 21 1-21 1-4 1 7 1-15 1 38 1-69 1 23 1 37 1 21 1-24 1-15 1 22 1-10 1-66 1 84 1-25 1 22 1-33 1 21 1 2 1-5 1-37 1 47 1-25 1-24 1 33 1-12 1-14 1 24 1 28 1 52 1-98 1 14 1 4 1 5 1 31 1-76 1 57 1-16 1-27 1-5 1-16 1 26 1 56 1-65 1 56 1-43 1 37 1-10 1-30 1 19 1-15 1 50 1-25 1-3 1-20 1-6 1 16 1-40 1 61 1 11 1-51 1 0 1 10 1 30 1-3 1-49 1 64 1-6 1-23 1 26 1-65 1 37 1-29 1 34 1-15 1-73 1 87 1 9 1-7 1-32 1 20 1-42 1-6 1 63 1-14 1 6 1-29 1-25 1 5 1 83 1-69 1 12 1 20 1-8 1 19 1-30 1 10 1 21 1 11 1-93 1 69 1 18 1-73 1 49 1-11 1 3 1 15 1-7 1-21 1-14 1-9 1 53 1-14 1-4 1-12 1 19 1-31 1 39 1-12 1-13 1 24 1-20 1-20 1 34 1-21 1 13 1-35 1 19 1-8 1 33 1-10 1 9 1-6 1-22 1 10 1-9 1-21 1 21 1-62 1 73 1-17 1-18 1 19 1-12 1-38 1 83 1-40 1 21 1 13 1-52 1 19 1-3 1 47 1-54 1 54"/>
<path vector-effect="non-scaling-stroke" d="M0 318l1-2 1 17 1-8 1 2 1-33 1 33 1-30 1 8 1 10 1-8 1-20 1 34 1-4 1-31 1 26 1 71 1-45 1-31 1 10 1-3 1 16 1-23 1-5 1 37 1-26 1 32 1-5 1-63 1 46 1 11 1 7 1-39 1-5 1-2 1 33 1-31 1 56 1-46 1 44 1-29 1-9 1 23 1-68 1 12 1 7 1 37 1-2 1 33 1-13 1 1 1-23 1-3 1-2 1 1 1-1 1-10 1 54 1-29 1-25 1 13 1-13 1-23 1 55 1-48 1 11 1 30 1-39 1 30 1-13 1 25 1 17 1-24 1-35 1 21 1 8 1 21 1-22 1-22 1 5 1 16 1 34 1-15 1-46 1 30 1-32 1 23 1 7 1-18 1-22 1 21 1-10 1 37 1 2 1-1 1 5 1 9 1-8 1-7 1-24 1-4 1 40 1-69 1 90 1-6 1-45 1 2 1-46 1-4 1 55 1-6 1 16 1-57 1 33 1-1 1 14 1-23 1 14 1 3 1 20 1 16 1-48 1 2 1 8 1 6 1-7 1 22 1-48 1 12 1 62 1-50 1 59 1-28 1-10 1 21 1-41 1-11 1 19 1 26 1-65 1 24 1 1 1-9 1 18 1 16 1-16 1 31 1-8 1-61 1 38 1-6 1 24 1-32 1 49 1-67 1 38 1 9 1-36 1-1 1-38 1 14 1 17 1 41 1-2 1 9 1 49 1-54 1-24 1 91 1-82 1 9 1-14 1-2 1-23 1 2 1-29 1 41 1 3 1-41 1 35 1-18 1 33 1-46 1-7 1 31 1 26 1-12 1 29 1-38 1 10 1 18 1-26 1 24 1-27 1 23 1-3 1-29 1 54 1-64 1 63 1-47 1 26 1-69 1-2 1 33 1 24 1-22 1-22 1 39 1 38 1-26 1-27 1 21 1-22 1 30 1-68 1 22 1 35 1-16 1 29 1-42 1 12 1-8 1-6 1-5 1 0 1 13 1-11 1-2 1 30 1-16 1-13 1-1 1 37 1 13 1-15 1-19"/>
<path vector-effect="non-scaling-stroke" d="M0 306l1-10 1-14 1-19 1 74 1-7 1-6 1 2 1-37 1 33 1 19 1-19 1-17 1 13 1-25 1 7 1 26 1-18 1-11 1-9 1-21 1 52 1 4 1-1 1 38 1-43 1 23 1 15 1-93 1 21 1 28 1-46 1 30 1 19 1 2 1 10 1-43 1 31 1 1 1 49 1-38 1-74 1 91 1-23 1 2 1 22 1-5 1-38 1-8 1 21 1-4 1 17 1-16 1 12 1-37 1 9 1 17 1 27 1-23 1-22 1 59 1-45 1 21 1-3 1-16 1-11 1 24 1 18 1-45 1-3 1-35 1 37 1 20 1-24 1 39 1-18 1 17 1 6 1-57 1 2 1 25 1-1 1-2 1 5 1-15 1 23 1 3 1-55 1 36 1-5 1-12 1 29 1 22 1-40 1 42 1-30 1 7 1-9 1 58 1-54 1-41 1 91 1-41 1-18 1-1 1 9 1-17 1-26 1 66 1-42 1 39 1 19 1-18 1-3 1 27 1-43 1 62 1-70 1 20 1-5 1-23 1-28 1-7 1 77 1-54 1 69 1-39 1-5 1-36 1 54 1-31 1 62 1-64 1 26 1-62 1 100 1-21 1-2 1-18 1-7 1 73 1-31 1 14 1-60 1 6 1 42 1-21 1-4 1-30 1-5 1 18 1-15 1 25 1-21 1 1 1-27 1 18 1 47 1-12 1 0 1-35 1 4 1 26 1-39 1-4 1 15 1-12 1 12 1-7 1-12 1 68 1-73 1 16 1 29 1-39 1 39 1 5 1-60 1 1 1 9 1 50 1-35 1 52 1-40 1 4 1-18 1 28 1-12 1 44 1-73 1 6 1-47 1 8 1 79 1-56 1 57 1 15 1-64 1 19 1-13 1 29 1 22 1-20 1-6 1 43 1-67 1 29 1 16 1 16 1-80 1 31 1-18 1 22 1-13 1 37 1 2 1-9 1-11 1 18 1 7 1-15 1-18 1 38 1-53 1-64 1 73 1 27 1-60 1-9 1 71 1-9 1-60 1 20 1 18 1-17 1 21 1-31"/>
<path vector-effect="non-scaling-stroke" d="M0 313l1 29 1-30 1-14 1-13 1 12 1 30 1 1 1-38 1 43 1 13 1-26 1-7 1 12 1-13 1 25 1 45 1-52 1-20 1 20 1-10 1 9 1 4 1-19 1-27 1 43 1-23 1 16 1-10 1-11 1 52 1-34 1-34 1 64 1-34 1 14 1 21 1-69 1 14 1 19 1-13 1-24 1 11 1 11 1-9 1-19 1 35 1 7 1 18 1-35 1 13 1-23 1 90 1-39 1-35 1-34 1 36 1 10 1-31 1 34 1-12 1 8 1-21 1 3 1-14 1 2 1 6 1-19 1 15 1 30 1-41 1 37 1-3 1 57 1-28 1-71 1 28 1 10 1 34 1 5 1-33 1-3 1 38 1-72 1 3 1 28 1 17 1-46 1 57 1-6 1 34 1-60 1-5 1 9 1 42 1-1 1-14 1-19 1-23 1 29 1 0 1 42 1-60 1 26 1 0 1 7 1-22 1 30 1-37 1 7 1 18 1-46 1 55 1 19 1-33 1 30 1-55 1 30 1-1 1-35 1 19 1-35 1 18 1-20 1-23 1 66 1-27 1 15 1-24 1 40 1-32 1 38 1 8 1-22 1 18 1-22 1 34 1-49 1 4 1 30 1-21 1-43 1 15 1 18 1 19 1-42 1 2 1 46 1-51 1-36 1 111 1-21 1-27 1 15 1-8 1 22 1-37 1-2 1 48 1-42 1 10 1-8 1 7 1 6 1-14 1-39 1 46 1 12 1-53 1 56 1-24 1-8 1-38 1 35 1 2 1 4 1 5 1-5 1 16 1 21 1-26 1 23 1-32 1 27 1-71 1-17 1 33 1 4 1 15 1 6 1-48 1 102 1-94 1 52 1-36 1 43 1 5 1 9 1-32 1 8 1-49 1 58 1-76 1 69 1-12 1-24 1-31 1 54 1 43 1-35 1 0 1-4 1 14 1-21 1 30 1-14 1-24 1-6 1-3 1 9 1-7 1 23 1 1 1-20 1 10 1-51 1 83 1-48 1-10 1 33 1-41 1 60 1 16 1-58 1 16 1 7 1-40"/>
<path vector-effect="non-scaling-stroke" d="M0 339l1-36 1 25 1-56 1 20 1 38 1-11 1-10 1 16 1-6 1 0 1-27 1-1 1 38 1-11 1-45 1 67 1-32 1 1 1 37 1-30 1 29 1-29 1-12 1 54 1-8 1-25 1 39 1-21 1-32 1 37 1-21 1 21 1-22 1 2 1-21 1 8 1 9 1-9 1-38 1 45 1-47 1 63 1-43 1-7 1 29 1-15 1 23 1-55 1 52 1 12 1-44 1 2 1-11 1 76 1-34 1-8 1 33 1-64 1 34 1 17 1-31 1 18 1 23 1-65 1 38 1 21 1-9 1-53 1 74 1-17 1-20 1 10 1-7 1-14 1 18 1-31 1 35 1-31 1 57 1-36 1 2 1-33 1-10 1 65 1 11 1-22 1-13 1 9 1 42 1-95 1 33 1 57 1-104 1 49 1-23 1 50 1-18 1 10 1 9 1-18 1 40 1-69 1 71 1-42 1 5 1-11 1 26 1-32 1 59 1-42 1-15 1 19 1-9 1-14 1-27 1 66 1-16 1-10 1 57 1-56 1 15 1-32 1-3 1 22 1-21 1-13 1 14 1-28 1 86 1-30 1 12 1-63 1 23 1-19 1 59 1-16 1-61 1 95 1-51 1 9 1 14 1-32 1-7 1-7 1 13 1 7 1 51 1-44 1 26 1-7 1-6 1 2 1 8 1-7 1-77 1 32 1 37 1-6 1 2 1-27 1-17 1 42 1 1 1 20 1-16 1-36 1 31 1 20 1-26 1 3 1-2 1-4 1-13 1 14 1-33 1 16 1 33 1-47 1 25 1-68 1 16 1 75 1-34 1-13 1-15 1-3 1 45 1-42 1 42 1-8 1-13 1 19 1-36 1 10 1-7 1 23 1-9 1-13 1 41 1-31 1-2 1-23 1 29 1-23 1 22 1 4 1-10 1 64 1-78 1 15 1-26 1 66 1-71 1 96 1-60 1-27 1 43 1-35 1-13 1 40 1 23 1-67 1 19 1-20 1 47 1-37 1-28 1 50 1-45 1 71 1-40 1 4 1-4 1 19 1-45 1 36"/>
<path vector-effect="non-scaling-stroke" d="M0 319l1-21 1 21 1-26 1 48 1-28 1-21 1 88 1-70 1-5 1-12 1 26 1-15 1 6 1 40 1-32 1-37 1-7 1 81 1-26 1 20 1-37 1-27 1 49 1-24 1 15 1-49 1 35 1-11 1-26 1 83 1-29 1-47 1 65 1-42 1 4 1 36 1-3 1-20 1 40 1-50 1-15 1 24 1-11 1 18 1 50 1-43 1-9 1-20 1-8 1-15 1 42 1-17 1 16 1 10 1-35 1 8 1 25 1 16 1-5 1-57 1-19 1 11 1 48 1 6 1-12 1 20 1-28 1 24 1-30 1 12 1 38 1-36 1-17 1 3 1 18 1 9 1 4 1-42 1 25 1-15 1-13 1 34 1 11 1-14 1 0 1-20 1 7 1 37 1-14 1-9 1-15 1 44 1-20 1-26 1 17 1-33 1 25 1 4 1-17 1-3 1 19 1-20 1 20 1-26 1-18 1 38 1 6 1-46 1 13 1-3 1 24 1 30 1-69 1 6 1 22 1-3 1 6 1 20 1-52 1 17 1-29 1 24 1 54 1-82 1 39 1 31 1 13 1-39 1-1 1 19 1 44 1-38 1-4 1 0 1 0 1-10 1-16 1 18 1-19 1 56 1-50 1-5 1 1 1 18 1 16 1 1 1-59 1 66 1 1 1-12 1-21 1 10 1-38 1-10 1 73 1-47 1-26 1 12 1 31 1-17 1 11 1-7 1-44 1 43 1 11 1 6 1-34 1 37 1-49 1 37 1 7 1-26 1 3 1 48 1 2 1 0 1 28 1-62 1-22 1 17 1 15 1-12 1 32 1-14 1-55 1 5 1-2 1 71 1-79 1 30 1 41 1-31 1-11 1-37 1 30 1 29 1-38 1-17 1 72 1-36 1 41 1-60 1-8 1 22 1-45 1 38 1 13 1 29 1 1 1-24 1 15 1-15 1-11 1-1 1-8 1 20 1-33 1 20 1-66 1 97 1-30 1 4 1-77 1 59 1 26 1-60 1 59 1 15 1-36 1-42 1 18 1-19 1 64 1-18 1-24 1 8"/>
<path vector-effect="non-scaling-stroke" d="M0 363l1-21 1-25 1 7 1-53 1 44 1-4 1-1 1 27 1-40 1-9 1 31 1 25 1-32 1 5 1-15 1 26 1-15 1-15 1 21 1-36 1-2 1 50 1-54 1 30 1 30 1-77 1 55 1-2 1-34 1 19 1 28 1-59 1 6 1 19 1-7 1-21 1 37 1 0 1-34 1-6 1 75 1-6 1-18 1-14 1 19 1-25 1 33 1 41 1-91 1 60 1-28 1 25 1-14 1 21 1-36 1 16 1-12 1 3 1-21 1-9 1 13 1 14 1-2 1-7 1 19 1 20 1-10 1 34 1-83 1 43 1-46 1 28 1 23 1-57 1 16 1 25 1 1 1-9 1-24 1 23 1 3 1 19 1-29 1 21 1-43 1 42 1 28 1-6 1-19 1-17 1 10 1-3 1 31 1-40 1 24 1 14 1-51 1 8 1-1 1 6 1-11 1 36 1-13 1-33 1 54 1-46 1 17 1-10 1 32 1-16 1 3 1 14 1-62 1 54 1 0 1-18 1 23 1-18 1 18 1-40 1-2 1 9 1-8 1-13 1 56 1-70 1 17 1 19 1 35 1-21 1-36 1 19 1-15 1 28 1-32 1-22 1 89 1-26 1-4 1 48 1 20 1-50 1-54 1 86 1-14 1-3 1-27 1-5 1-30 1 27 1-31 1 10 1 17 1 14 1 14 1-41 1-22 1 32 1-20 1 27 1 43 1-49 1 1 1-2 1-20 1-3 1-30 1 44 1 2 1 35 1-28 1 6 1 3 1 27 1-8 1-49 1 22 1 13 1-51 1 17 1 1 1-23 1 49 1-13 1-8 1-6 1 8 1 11 1 21 1-34 1 52 1-92 1 46 1-12 1 43 1-59 1 21 1 1 1-4 1 33 1 16 1-56 1 42 1-43 1 20 1 35 1-77 1 59 1-75 1 12 1 69 1-33 1 39 1-24 1 32 1-70 1 17 1 15 1-35 1 29 1-28 1 30 1-65 1 89 1-68 1 28 1 47 1-64 1 12 1-1 1-38 1 43 1-9 1 6 1 25 1-1"/>
</g>
<use href="#m1olive" transform="translate(1.7 6)"/>
<g transform="matrix(3.3745 0 0 1 1115.2 0)" fill="none" stroke="#5a5a5a" stroke-width="1.0" stroke-opacity="0.075" stroke-linejoin="round" id="m1gray">
<path vector-effect="non-scaling-stroke" d="M0 299l1 6 1 9 1 31 1-81 1 69 1-120 1 92 1 81 1-53 1 16 1-81 1 83 1-127 1 74 1-58 1-5 1 101 1-117 1-16 1 59 1 10 1-18 1 38 1-85 1-6 1 96 1-46 1 17 1 18 1 65 1 17 1-81 1 52 1-47 1-19 1 117 1-198 1 37 1 63 1-37 1 12 1 45 1-25 1-155 1 107 1 65 1-7 1-17 1 70 1-90 1-12 1 108 1-118 1 43 1-54 1 54 1 32 1 36 1-39 1-69 1 73 1 29 1 34 1-21 1-119 1 96 1 24 1-59 1 7 1-40 1-8 1-119 1 221 1-60 1-62 1 110 1-14 1-104 1 21 1-12 1 60 1 25 1-72 1-44 1 136 1-58 1 6 1-96 1 79 1 28 1-27 1 39 1-102 1 135 1-112 1 1 1 48 1 31 1-15 1-79 1 87 1-24 1-33 1-79 1 150 1 56 1-156 1 64 1 78 1-141 1 117 1-4 1-30 1-150 1 108 1 156 1-44 1-22 1-55 1 107 1 22 1-143 1 50 1-5 1-85 1 106 1 16 1-80 1-72 1 15 1 103 1-51 1 31 1 6 1 1 1-55 1 31 1 38 1 19 1-8 1-148 1 107 1-141 1 211 1-122 1 57 1-73 1 18 1-92 1 180 1 62 1-188 1 26 1 68 1-146 1 100 1-31 1-65 1 120 1-21 1 99 1-198 1 57 1 76 1 10 1-82 1-10 1 79 1-94 1 35 1 76 1-10 1-62 1 62 1-16 1-93 1-34 1 65 1 9 1 4 1 89 1-5 1-102 1-23 1 138 1-51 1-63 1 15 1 1 1-19 1-47 1 5 1 4 1 0 1-32 1-25 1 77 1-45 1-11 1 82 1-53 1 50 1-130 1 39 1-46 1-44 1 191 1-89 1-6 1-1 1-17 1-4 1-8 1-62 1 20 1 1 1-9 1-23 1 54 1 82 1-62 1 12 1 56 1-95 1-27 1 24 1-36 1 95 1-122 1 75 1-28 1 46 1-8 1-21 1-25 1 2"/>
<path vector-effect="non-scaling-stroke" d="M0 325l1 74 1-42 1-64 1 49 1-52 1 28 1-9 1-8 1-7 1 44 1-63 1 84 1-15 1-55 1 13 1-40 1 39 1 21 1 7 1 3 1-19 1 11 1-80 1 69 1-112 1 28 1-27 1 99 1-2 1-7 1-39 1-55 1 105 1 13 1 19 1-109 1 84 1-30 1 104 1-57 1-9 1 36 1-87 1-54 1 72 1 42 1-4 1 41 1-80 1 16 1-2 1 61 1-68 1-16 1 52 1-54 1 54 1-94 1 142 1-100 1-17 1 16 1 30 1-96 1 106 1-24 1-8 1 22 1 32 1-55 1 61 1-9 1-35 1-46 1 126 1-48 1 57 1-27 1-27 1-34 1-3 1 10 1-52 1 61 1-25 1-103 1 41 1 66 1-56 1-37 1 23 1 25 1-36 1 157 1-108 1 53 1-151 1 23 1 27 1 54 1-83 1 68 1 21 1-9 1-53 1-41 1 196 1-121 1 83 1-64 1-13 1 109 1 38 1-60 1-71 1-43 1 53 1-9 1-53 1 54 1-67 1 59 1-6 1 22 1-66 1 1 1 80 1-64 1 25 1-43 1-40 1 48 1 76 1-101 1 4 1 47 1 6 1 51 1-45 1-60 1 83 1-19 1-15 1 126 1-68 1-42 1-26 1 44 1-31 1 43 1 3 1 13 1-108 1 101 1-27 1 24 1-39 1-34 1-35 1 132 1-129 1 79 1 86 1-145 1 18 1-4 1 18 1 53 1-121 1 40 1 59 1 55 1-38 1-45 1-15 1-9 1-20 1 25 1-21 1 56 1-57 1 53 1-42 1-13 1-18 1 71 1-109 1 126 1-130 1 129 1 9 1-44 1-18 1-31 1 121 1-187 1 59 1 59 1-48 1-14 1 11 1 5 1 30 1-64 1-26 1 33 1-15 1 1 1-38 1 50 1-48 1 78 1-55 1 44 1-53 1 36 1 11 1-46 1-30 1 131 1-3 1-62 1 73 1-122 1 14 1 17 1 43 1-53 1-14 1 25 1 51 1-38 1-40 1 58 1-43 1-26"/>
<path vector-effect="non-scaling-stroke" d="M0 383l1-109 1 80 1 12 1-13 1-49 1 64 1-65 1-31 1 22 1-3 1 115 1-103 1 24 1 11 1-69 1 3 1 55 1 5 1-51 1 108 1-66 1 20 1-30 1 61 1-74 1-38 1 20 1-35 1-18 1 129 1-1 1-36 1 28 1-78 1 103 1-20 1-24 1-39 1 9 1 40 1-96 1-3 1 47 1 25 1-5 1 27 1 23 1-78 1 48 1-11 1 16 1-60 1 38 1 36 1-32 1-25 1-15 1-11 1 61 1 23 1 23 1-44 1-36 1 37 1-48 1 29 1-45 1 46 1 118 1-65 1-43 1-35 1 110 1-96 1-88 1 72 1-5 1 21 1 64 1-63 1-28 1-25 1 75 1-21 1-1 1 15 1-54 1-1 1 18 1-50 1 30 1 11 1 13 1 78 1-64 1 5 1 15 1 45 1-34 1 5 1-56 1-10 1 172 1-119 1-56 1 111 1-78 1 67 1-74 1 22 1 10 1-67 1-42 1 110 1-73 1 70 1-78 1-35 1 74 1 23 1-69 1 22 1 12 1-30 1 61 1-23 1 25 1-19 1-133 1 125 1 81 1-12 1-57 1 32 1-42 1 59 1 53 1-35 1-58 1-1 1-17 1 98 1-67 1-50 1 98 1-32 1-17 1-45 1 67 1 2 1-16 1-38 1 1 1-50 1 11 1 47 1 37 1-107 1 117 1-51 1-16 1-3 1 1 1 40 1 34 1 29 1 28 1-40 1-33 1 27 1-39 1 133 1-110 1-89 1 49 1-8 1-45 1 136 1-77 1-9 1-28 1-106 1 82 1-4 1-9 1 73 1-107 1 115 1-25 1-135 1 92 1-31 1-22 1 30 1 1 1-22 1 15 1-47 1 68 1 37 1-14 1-52 1 13 1-8 1 12 1 5 1-27 1 23 1 39 1-64 1 28 1 34 1-42 1 13 1 11 1-23 1 72 1-6 1-20 1-24 1-41 1-79 1 114 1-62 1 23 1-2 1 26 1-75 1 32 1 50 1-72 1 101 1-148 1 6 1 4 1 66"/>
<path vector-effect="non-scaling-stroke" d="M0 273l1 46 1 51 1-80 1 74 1-100 1 122 1 40 1-55 1-7 1 35 1 31 1-93 1 106 1-93 1 2 1 24 1-48 1 81 1-59 1-41 1 43 1-106 1 155 1-21 1 29 1-38 1-49 1 31 1 33 1 24 1-78 1 21 1 43 1-76 1-60 1 17 1 41 1-40 1 87 1-10 1 1 1 42 1-156 1 89 1-24 1 13 1-45 1 18 1-42 1 139 1-79 1-109 1 123 1-47 1 62 1-66 1 70 1-75 1 137 1-78 1-75 1 73 1 9 1-11 1 23 1 38 1-32 1 30 1-44 1 18 1 60 1-39 1-6 1-19 1 37 1-42 1-46 1 32 1 43 1 37 1-120 1 16 1-57 1 135 1-62 1 49 1-9 1 95 1-101 1-7 1 5 1-38 1-17 1 39 1-12 1 19 1 51 1-62 1-40 1-5 1 52 1-62 1 130 1-143 1 83 1 34 1-149 1 45 1 119 1-90 1 2 1-56 1 40 1 97 1-198 1 66 1 15 1-12 1 71 1-56 1 48 1-107 1 126 1-109 1-23 1 88 1 31 1-103 1 12 1 5 1 16 1 35 1 17 1-76 1-22 1 115 1-111 1 74 1-15 1-111 1 102 1-118 1 41 1 72 1-94 1 94 1 6 1-37 1 27 1 85 1-118 1 53 1 15 1 47 1-119 1 120 1-6 1 31 1-65 1 10 1-85 1 36 1 48 1-43 1-66 1 68 1 3 1-13 1-7 1 132 1-117 1 8 1 3 1 68 1-81 1 48 1-19 1 33 1-11 1-13 1-5 1-46 1 35 1 26 1-66 1-6 1 120 1-137 1 29 1-7 1 51 1-85 1-8 1 21 1 26 1 2 1 49 1-93 1 71 1-45 1-56 1 26 1 24 1 69 1-79 1 36 1-54 1 18 1 54 1-16 1-69 1-24 1 67 1-1 1-96 1 57 1 36 1-50 1 6 1-13 1-16 1 46 1-14 1-29 1-14 1 5 1-61 1 123 1-80 1 7 1 23 1 9 1-26 1 2 1 30 1-71"/>
<path vector-effect="non-scaling-stroke" d="M0 316l1-61 1 89 1-17 1-17 1 76 1-122 1 99 1-41 1-31 1 32 1-89 1 120 1-31 1 60 1-4 1-35 1-27 1 51 1-142 1 27 1 98 1-24 1 54 1-16 1 3 1-50 1 84 1-68 1-28 1-41 1 98 1 17 1-121 1 131 1-131 1 82 1-69 1 63 1-49 1 53 1 28 1-23 1 1 1 70 1-89 1-34 1 38 1 107 1-127 1 81 1-8 1-77 1 45 1-41 1 93 1-26 1-75 1 43 1-8 1 9 1 28 1-56 1 119 1-130 1 67 1 1 1 40 1-32 1-19 1 88 1-145 1 46 1 39 1 28 1-14 1-108 1 105 1-72 1 43 1-62 1 58 1-61 1 22 1 34 1-3 1 14 1-38 1-121 1 85 1 48 1 40 1-74 1 37 1-64 1 32 1-21 1 31 1 67 1-57 1-42 1-82 1 52 1-44 1 38 1 49 1-28 1-4 1-58 1 18 1 39 1 10 1-59 1 19 1-26 1 16 1 34 1-7 1-107 1-1 1 45 1-28 1 148 1-66 1-18 1-8 1-42 1 80 1-11 1 16 1-46 1 81 1 18 1-65 1 92 1-21 1 13 1-20 1-42 1 26 1 9 1-32 1 98 1-47 1 37 1 7 1-60 1-20 1-94 1 143 1-129 1 44 1 16 1-96 1 166 1-91 1 11 1 101 1-18 1-76 1-65 1 85 1-145 1 85 1 26 1-51 1 22 1-14 1 10 1-57 1-37 1 16 1 67 1 21 1 8 1 0 1-16 1-17 1-47 1-38 1 20 1 85 1-96 1-11 1 69 1-73 1 65 1-74 1 2 1 40 1-24 1 20 1-23 1 34 1-72 1 135 1-115 1 51 1-71 1 175 1-51 1-21 1-72 1 60 1-23 1-6 1 14 1-8 1 39 1-69 1 67 1-30 1 29 1 2 1 26 1-120 1 65 1 6 1-61 1 12 1 79 1-58 1-23 1-74 1 13 1-17 1 20 1 34 1 38 1-94 1 30 1 30 1-78 1 40 1 67 1-8 1-12"/>
<path vector-effect="non-scaling-stroke" d="M0 381l1 18 1-124 1 122 1-46 1 71 1-91 1 22 1 40 1-17 1-23 1 0 1 75 1-33 1-21 1-58 1 46 1-113 1 37 1-22 1 34 1-22 1 51 1 68 1-63 1 0 1-17 1 7 1-14 1 12 1-36 1 23 1-71 1 69 1 34 1-69 1 55 1 101 1-182 1 130 1-40 1-57 1 75 1 7 1-14 1-22 1-10 1-26 1 15 1-6 1 113 1-65 1 76 1-52 1-40 1 32 1-21 1-14 1 0 1 0 1 7 1-27 1 63 1-114 1 175 1-14 1-103 1 114 1-99 1-33 1-33 1-16 1 132 1 11 1-71 1 94 1-94 1 2 1 64 1-45 1 14 1-6 1 65 1-22 1-36 1-46 1-27 1 23 1 112 1-122 1 91 1-12 1-11 1 63 1-89 1 55 1-84 1-11 1-32 1 73 1-86 1 42 1 72 1-8 1-71 1-25 1 44 1 44 1 43 1-122 1 64 1 27 1 3 1 23 1-112 1 43 1 58 1-166 1 163 1 12 1-23 1 6 1-130 1 97 1 7 1-125 1 40 1 117 1-149 1 90 1 8 1-88 1 63 1 16 1-30 1-56 1 122 1-108 1-11 1 152 1-32 1-29 1 37 1-100 1 2 1 61 1-111 1 76 1 4 1-74 1 43 1 66 1-59 1 65 1 17 1-106 1-18 1 45 1-33 1-6 1 114 1-29 1-36 1 118 1-61 1 37 1-87 1-13 1 82 1-86 1 189 1-88 1-80 1-39 1 23 1-46 1 32 1 57 1-83 1-18 1 40 1 40 1-24 1-24 1 46 1-96 1 94 1-33 1 2 1 32 1-47 1-20 1-34 1-25 1 15 1 54 1-15 1-65 1 35 1 52 1-44 1 59 1-39 1-88 1 37 1-23 1 31 1 23 1-36 1 1 1-19 1 13 1-48 1 31 1 33 1 9 1-34 1 40 1-110 1 84 1 46 1-43 1-92 1 99 1 0 1-102 1 132 1-45 1-31 1 83 1-100 1-83 1 72 1 59 1-28 1-50 1 31"/>
<path vector-effect="non-scaling-stroke" d="M0 254l1 18 1 5 1 64 1-31 1-3 1 2 1 6 1-61 1 36 1 37 1-42 1 19 1-90 1 64 1 0 1 47 1-91 1-64 1 156 1-96 1 7 1 43 1 123 1-187 1 57 1 10 1 38 1-22 1-12 1-28 1 21 1 38 1-96 1 76 1-31 1-29 1 107 1 14 1-53 1 33 1-27 1-62 1-23 1 53 1-89 1 146 1-80 1-3 1 33 1-18 1 121 1-55 1-85 1 48 1 60 1-11 1 37 1-54 1 29 1-3 1-46 1 53 1 116 1-111 1-1 1-93 1 102 1-33 1 48 1-37 1-11 1 91 1-28 1-35 1 65 1-90 1 22 1-88 1 102 1-37 1-14 1 18 1 54 1-42 1 50 1-58 1 39 1-10 1-120 1 86 1-10 1-4 1-17 1 78 1-51 1 113 1-159 1 158 1-88 1 45 1-90 1 9 1-18 1 1 1-77 1 178 1-65 1 9 1-107 1 50 1 48 1 36 1-40 1 44 1-141 1 69 1-12 1 6 1 20 1 45 1 5 1-90 1-33 1 38 1-23 1-27 1-72 1 153 1 68 1-189 1 47 1-40 1 13 1 104 1-60 1 54 1 0 1-25 1 115 1-212 1 20 1 35 1-20 1-9 1-37 1 19 1 22 1-24 1-81 1 96 1-37 1 68 1 39 1-11 1 21 1 70 1-97 1-51 1 21 1 89 1-98 1-10 1-9 1-24 1 50 1 44 1-105 1 47 1-11 1-53 1 32 1 64 1-52 1-65 1 149 1-138 1 47 1 29 1-8 1-91 1 97 1-22 1 3 1 35 1-9 1-48 1 36 1-18 1 28 1-30 1-18 1-54 1 3 1 65 1-90 1 36 1-42 1 36 1-24 1-10 1 27 1 19 1-5 1-43 1 41 1 25 1-71 1 34 1-21 1 33 1-31 1 39 1 6 1-56 1-54 1 38 1 34 1 24 1-12 1-32 1 73 1-32 1 68 1-36 1 16 1-98 1-16 1-85 1 101 1-27 1-39 1 66 1-30 1 52 1-41 1 29"/>
<path vector-effect="non-scaling-stroke" d="M0 348l1 14 1-32 1-28 1-15 1 1 1 53 1 26 1 6 1-79 1 54 1-36 1 40 1-56 1 119 1-86 1-42 1 94 1 1 1 13 1-82 1-13 1-10 1 25 1-81 1 116 1-22 1-81 1 72 1-86 1 113 1-86 1 10 1 29 1-3 1 60 1-116 1-1 1-10 1 29 1-18 1 120 1-102 1-88 1 60 1-25 1-6 1-13 1 86 1-6 1-11 1-15 1-20 1 17 1 61 1 12 1-43 1 46 1-3 1 13 1-17 1-82 1 59 1-5 1-2 1-42 1 84 1-25 1-81 1 81 1-3 1 69 1-146 1 75 1-16 1-43 1 95 1-57 1-15 1 87 1-35 1-42 1 53 1-22 1-14 1 55 1-31 1-27 1-74 1 108 1-39 1-104 1 151 1-14 1-136 1 120 1 62 1-101 1 115 1-122 1-19 1 40 1-90 1 113 1-4 1 4 1-36 1-71 1 90 1 23 1 84 1-67 1 13 1 21 1 34 1-1 1-44 1-45 1-40 1 44 1-24 1 46 1 9 1-52 1-10 1-7 1 77 1-14 1-64 1 38 1-4 1 32 1-35 1 27 1-27 1-6 1-30 1-15 1 66 1 23 1-41 1 7 1-14 1 46 1 41 1-101 1-30 1 155 1 8 1-56 1-12 1-79 1 98 1-14 1 52 1-59 1 28 1-109 1 101 1 122 1-103 1 0 1-120 1 54 1-38 1 87 1 75 1-133 1 9 1 8 1 15 1 5 1 35 1-2 1 38 1 6 1-4 1-74 1 40 1-50 1-11 1 2 1-27 1-6 1 0 1 53 1-97 1 1 1 107 1-89 1-40 1 28 1 3 1 67 1-16 1-50 1-6 1 46 1-99 1-26 1 69 1-26 1-30 1-22 1 102 1-75 1 66 1-27 1 90 1-81 1 18 1-14 1-47 1 21 1-13 1 51 1-9 1 66 1-129 1-2 1 58 1-33 1 63 1-42 1-26 1-11 1 8 1-25 1 24 1 22 1 34 1-109 1 49 1-34 1-21 1-86 1 99"/>
<path vector-effect="non-scaling-stroke" d="M0 277l1 8 1 40 1-9 1 31 1-60 1 44 1-51 1 31 1-10 1-38 1-25 1-17 1 41 1 56 1-70 1 22 1 26 1-26 1-1 1-46 1 63 1 20 1 2 1-47 1 10 1-34 1 91 1-64 1-29 1 96 1-60 1 19 1-28 1 2 1 178 1-50 1-86 1 20 1-3 1-1 1 36 1-20 1-77 1 11 1 17 1 54 1-88 1 43 1 64 1-71 1 27 1 80 1-116 1 12 1 53 1-162 1 190 1-37 1 107 1-83 1-128 1 148 1-80 1 1 1-40 1 47 1-51 1 40 1 116 1-139 1 57 1-40 1 10 1 69 1-58 1 24 1-39 1-3 1 33 1 27 1-54 1 21 1-26 1-40 1 107 1-40 1-31 1-72 1 70 1 63 1 7 1-68 1 35 1 58 1-78 1 40 1 63 1-44 1-66 1 44 1-25 1-57 1 88 1-88 1-15 1 17 1 9 1 22 1-100 1 43 1 133 1-151 1 27 1-142 1 53 1 34 1 114 1-163 1 86 1-12 1-37 1 58 1-7 1-106 1 184 1-81 1-50 1 48 1 107 1-36 1-95 1 10 1 37 1-38 1 78 1-102 1 43 1 71 1-7 1-63 1 55 1-49 1-55 1 131 1-58 1-20 1 23 1 48 1-6 1 52 1-97 1 21 1-4 1-45 1 51 1-30 1-124 1 39 1 27 1 98 1-22 1 10 1-92 1-20 1 36 1 60 1 16 1-32 1-30 1 71 1 28 1-162 1 63 1-8 1 5 1 9 1 38 1-35 1 0 1-72 1 43 1 32 1-27 1 67 1-31 1-36 1 86 1-67 1-3 1-29 1-4 1-25 1 98 1-104 1 86 1 8 1-69 1 18 1 10 1 16 1-87 1 30 1 7 1-34 1 54 1 4 1 8 1-57 1 21 1-35 1-8 1-62 1 90 1-28 1 43 1-4 1-31 1-2 1 14 1-44 1 74 1 44 1-135 1-19 1 38 1-25 1-9 1-26 1 109 1-100 1 83 1-8 1-53 1 32 1-60 1-14"/>
<path vector-effect="non-scaling-stroke" d="M0 366l1 17 1 6 1-26 1-33 1-20 1 66 1-119 1 218 1-79 1-11 1-19 1-41 1 23 1 4 1 46 1-74 1 29 1 97 1-47 1-85 1-43 1 13 1-40 1 59 1 3 1-8 1 127 1-174 1 68 1-67 1-7 1 18 1 98 1 27 1-80 1 32 1-41 1 28 1-101 1 205 1-94 1 30 1 40 1-36 1-42 1 42 1-25 1 24 1-95 1 69 1 33 1-172 1 149 1-35 1-113 1 82 1 66 1-146 1 178 1-93 1 19 1 17 1-2 1 22 1-39 1 22 1-36 1 112 1-51 1-58 1 37 1 43 1 4 1-130 1 143 1 32 1-48 1-15 1-23 1 76 1-2 1 22 1-30 1-93 1 103 1-25 1 58 1-172 1 49 1 66 1-44 1-25 1 101 1-18 1-57 1 29 1-36 1-24 1-22 1 87 1 30 1-106 1 60 1 56 1-4 1-130 1 55 1-28 1 38 1-32 1 90 1-58 1 0 1-9 1-38 1 47 1-47 1-41 1 156 1-128 1 81 1-41 1 105 1-8 1-102 1 28 1 21 1-90 1 34 1-12 1-15 1 79 1-99 1 34 1 30 1-114 1-28 1 91 1-103 1 117 1-64 1-44 1 86 1-32 1 45 1-98 1 92 1-102 1 30 1 75 1 32 1-72 1 47 1-26 1-86 1 92 1-88 1 59 1-22 1-95 1 151 1-91 1-62 1 67 1 76 1 17 1-100 1 80 1-121 1 98 1-19 1 13 1 55 1-115 1-40 1 78 1-3 1 49 1 4 1-5 1-55 1 57 1 34 1-110 1 9 1 31 1 40 1-95 1-13 1-3 1 17 1 10 1 15 1 30 1-99 1 51 1 15 1-162 1 158 1 6 1-20 1-124 1 64 1-24 1 30 1 26 1 29 1-60 1-47 1 78 1-4 1-9 1 10 1-91 1-28 1 146 1-54 1 63 1-31 1 59 1-54 1-16 1 18 1-94 1 67 1-34 1 9 1-16 1-20 1 11 1 61 1-33 1-10 1-54 1 54 1-11"/>
<path vector-effect="non-scaling-stroke" d="M0 379l1-42 1-31 1 138 1-74 1-117 1 64 1 12 1 4 1 15 1-24 1 94 1 50 1-94 1-51 1-6 1-2 1-59 1 86 1-48 1 43 1-60 1-12 1 57 1-77 1-45 1 56 1-2 1 31 1-50 1 139 1-3 1-106 1 41 1-58 1 56 1 6 1 2 1 18 1-35 1 17 1 29 1-3 1-62 1 40 1-7 1 7 1 25 1 45 1-27 1 78 1-86 1-50 1 96 1-19 1 8 1-133 1 143 1-97 1-42 1-58 1 106 1 1 1 52 1 12 1-83 1-6 1 13 1-2 1 15 1 41 1-84 1 90 1-58 1-13 1 122 1-48 1-66 1 56 1-44 1 50 1-115 1 13 1 62 1-21 1-52 1 7 1 4 1 16 1 61 1 55 1-40 1-19 1 39 1-86 1-34 1 25 1 103 1-50 1 49 1-132 1 88 1-20 1 20 1-4 1-57 1 54 1-9 1 57 1-62 1 78 1 1 1 38 1-89 1 4 1 87 1-21 1-58 1 26 1 44 1-128 1 70 1 37 1-3 1-15 1-26 1-67 1 63 1 96 1-34 1-90 1 33 1-17 1-54 1-44 1 23 1 104 1-119 1 41 1 31 1-72 1-2 1 53 1-74 1 104 1-14 1 53 1-49 1 81 1-225 1 71 1 2 1-36 1 183 1-93 1 17 1 6 1-66 1 78 1-73 1 27 1-24 1 70 1-79 1 47 1 72 1-84 1-43 1 27 1-25 1 54 1 1 1-45 1 90 1-49 1-66 1 41 1-45 1 98 1 51 1-119 1-57 1 63 1 19 1 12 1-53 1 66 1-99 1 112 1-133 1-18 1 117 1-98 1-15 1 16 1 73 1-109 1 136 1-170 1 4 1 27 1 109 1-148 1 102 1-80 1 31 1-57 1 92 1-24 1-62 1-46 1 83 1-68 1 50 1 87 1-42 1-25 1 14 1-34 1-15 1-27 1 37 1 23 1-47 1-41 1 76 1-47 1 17 1-33 1 8 1-44 1 97 1-54 1 29 1 24 1-62 1 20"/>
<path vector-effect="non-scaling-stroke" d="M0 341l1-15 1 4 1-31 1 9 1-32 1 46 1-91 1 183 1-81 1-4 1-42 1 157 1-163 1 65 1-49 1 72 1-118 1 80 1-36 1 9 1 66 1-75 1 8 1 55 1-76 1 38 1 17 1-50 1-11 1 16 1 175 1-123 1-33 1 20 1 49 1-15 1-28 1-45 1 41 1-25 1 31 1 1 1 57 1-49 1 47 1-177 1 157 1-64 1 11 1 2 1-107 1 68 1 92 1-25 1-27 1-11 1 22 1 24 1 21 1-71 1-2 1-22 1 64 1-32 1-15 1 21 1 58 1-16 1-97 1-12 1-3 1 103 1-33 1-41 1 42 1-13 1 58 1-116 1 34 1-65 1 67 1-50 1 75 1-25 1-22 1-11 1-88 1 104 1 81 1-116 1-58 1 32 1 71 1-140 1 58 1 9 1-48 1 157 1-202 1 88 1 37 1-75 1 25 1 100 1-64 1 31 1-111 1 66 1-43 1-31 1 57 1-57 1 73 1-43 1 106 1-66 1-6 1 78 1-124 1 143 1 10 1-46 1 40 1-95 1 13 1 100 1-61 1 5 1 49 1-18 1-41 1-33 1 14 1 85 1-81 1 134 1-111 1-68 1 90 1-89 1 64 1 70 1-39 1-51 1 55 1 46 1-86 1 1 1 13 1-71 1 80 1 11 1-50 1 7 1-17 1 35 1 27 1 16 1 28 1-11 1-105 1 30 1-64 1 25 1 109 1-140 1 9 1 31 1 54 1-83 1-10 1 33 1 29 1-80 1 2 1-12 1 37 1 34 1-86 1-17 1 43 1 13 1-27 1 89 1-32 1 12 1-87 1 111 1-31 1 44 1-15 1 35 1-24 1 3 1-95 1 103 1 10 1-47 1-10 1-25 1-52 1 149 1-89 1-5 1 97 1-87 1-87 1 39 1-46 1-25 1 133 1-30 1 34 1-31 1-51 1-15 1-28 1 69 1 70 1-115 1-46 1 44 1 37 1-33 1-3 1 0 1 13 1-38 1 44 1-3 1-45 1 41 1-43 1-13 1-1 1-13"/>
<path vector-effect="non-scaling-stroke" d="M0 377l1-27 1 56 1-49 1 29 1 72 1-64 1-32 1-2 1 47 1-8 1 29 1-53 1-3 1-5 1 62 1-78 1-22 1 71 1-87 1 19 1 26 1 20 1-9 1-61 1 60 1-104 1 109 1-20 1 14 1-44 1 21 1-60 1 35 1 65 1-110 1-50 1 188 1-88 1 86 1-152 1 217 1-198 1-15 1 44 1 55 1-43 1 48 1 43 1-58 1-51 1 75 1-71 1 19 1-70 1 110 1-52 1 12 1 46 1 10 1-57 1 11 1-10 1-101 1 62 1 101 1 31 1-78 1 75 1-138 1 23 1 28 1 70 1-120 1-7 1 137 1-10 1-9 1-62 1 14 1-8 1-56 1-21 1 83 1-4 1 41 1-89 1 21 1 85 1-96 1-62 1 66 1 24 1 51 1-23 1 18 1-60 1 22 1-18 1-59 1 62 1 74 1-52 1 27 1 8 1-36 1 11 1-76 1-78 1 30 1-15 1 101 1 3 1-26 1 62 1-71 1 67 1-131 1 123 1-14 1-29 1 60 1-59 1 60 1-74 1 14 1 27 1-65 1 26 1-52 1 47 1 54 1 21 1-20 1 38 1-64 1 27 1 30 1-112 1 109 1-11 1-23 1-35 1 20 1-5 1 47 1-55 1 23 1 13 1-49 1 41 1-76 1 13 1-35 1 51 1-36 1-7 1 119 1-94 1 38 1-1 1 3 1 43 1-94 1 37 1 15 1-93 1 2 1 39 1-16 1-13 1 15 1-17 1 58 1 18 1 17 1-33 1-6 1-61 1 84 1-50 1 60 1-32 1-61 1 10 1 19 1-86 1 143 1-46 1-37 1 30 1-48 1 28 1-69 1 186 1-126 1 57 1-102 1 48 1 16 1-11 1 2 1-59 1-13 1 12 1 45 1 16 1-13 1-72 1 12 1-53 1 0 1 90 1-80 1 90 1-67 1 31 1 35 1-141 1 68 1-20 1 33 1-14 1 15 1-40 1 2 1-29 1-18 1 98 1-57 1-36 1-42 1 85 1 68 1-123 1 133 1-108"/>
<path vector-effect="non-scaling-stroke" d="M0 321l1 43 1 66 1-139 1 72 1 96 1-170 1 48 1-36 1 15 1-9 1 53 1-26 1-26 1 80 1-37 1 53 1-26 1-58 1-9 1 67 1-9 1 84 1-108 1 10 1 18 1-150 1 45 1 130 1-133 1 101 1 73 1-55 1-34 1 27 1-10 1-3 1 37 1-69 1-11 1-7 1 59 1-56 1-14 1-2 1 93 1-24 1-9 1 21 1 5 1-112 1 171 1-121 1 30 1 36 1 24 1-45 1 23 1-77 1 6 1 83 1-46 1-14 1 56 1-50 1 32 1 38 1-2 1-17 1-34 1 41 1-82 1 78 1-11 1-60 1 43 1-154 1 226 1-171 1 44 1 59 1-72 1 51 1 8 1-77 1-35 1 82 1 5 1 23 1-106 1 75 1-41 1 51 1-2 1-79 1-32 1 64 1-30 1 50 1-77 1-108 1 132 1-108 1 102 1-16 1 46 1-104 1 128 1-39 1-96 1 28 1 9 1 3 1-70 1 171 1-45 1-94 1 23 1 62 1 81 1-79 1 21 1-48 1 25 1-59 1 87 1-36 1 35 1 4 1 78 1-53 1-61 1 6 1 5 1 66 1-158 1 91 1-29 1 66 1 15 1-78 1 53 1 56 1-85 1-26 1 125 1-36 1-43 1-50 1-4 1 44 1-100 1 170 1-105 1 28 1-85 1 73 1-10 1-49 1 23 1 48 1-56 1-21 1 18 1-24 1-36 1 121 1-50 1-40 1 93 1-14 1 19 1-59 1 16 1-45 1 74 1-59 1 72 1-41 1 27 1-39 1 13 1 39 1-24 1-36 1-53 1 21 1 2 1 36 1-38 1 2 1-24 1-24 1 102 1-64 1-45 1-47 1 41 1-68 1 118 1-28 1-24 1-42 1 44 1-58 1 2 1 76 1-64 1 23 1 36 1-59 1 85 1-29 1-23 1 5 1-10 1-29 1 40 1-41 1-30 1 65 1-67 1 51 1-16 1-61 1 95 1-38 1-63 1-9 1-16 1 31 1 48 1-34 1 20 1-18 1 4 1-67"/>
<path vector-effect="non-scaling-stroke" d="M0 249l1 60 1 1 1-48 1 25 1 12 1 34 1-115 1 110 1-111 1 24 1 74 1 18 1-17 1 40 1-18 1-49 1 11 1 18 1-42 1 100 1 21 1-4 1-118 1 77 1-27 1-45 1-18 1 1 1 45 1 24 1 13 1 41 1-131 1 15 1 67 1 58 1-152 1 140 1-46 1-73 1-37 1 80 1 8 1 79 1 8 1-105 1-32 1 93 1-51 1 36 1-112 1 86 1-1 1-17 1-6 1 42 1-56 1 5 1 64 1-24 1-23 1-21 1 40 1 28 1-36 1 22 1 78 1-166 1 91 1-19 1-57 1 71 1 46 1-86 1-18 1 13 1 2 1 138 1-124 1-12 1-98 1 29 1 115 1 44 1-82 1 9 1-96 1 55 1-38 1 29 1-25 1 134 1-18 1-29 1-46 1 62 1 9 1-71 1-6 1 48 1-23 1-22 1 30 1-41 1 109 1-78 1-21 1 131 1-198 1 33 1 36 1 5 1-6 1-42 1 75 1-7 1-76 1 38 1-61 1 64 1-14 1-35 1 101 1-30 1 36 1-26 1 1 1-15 1 52 1-42 1 11 1-26 1 8 1-6 1 51 1-1 1-16 1 62 1 24 1-10 1 7 1-36 1-142 1 117 1 37 1-81 1-12 1 8 1-36 1-27 1 88 1 14 1 37 1-4 1-39 1 37 1-63 1 127 1-168 1 94 1-62 1-10 1 76 1 30 1-19 1 58 1-119 1 70 1-29 1-77 1-49 1 34 1 44 1-25 1 5 1 2 1-56 1-13 1 150 1-161 1 35 1 45 1-48 1 55 1-29 1-16 1-71 1 45 1 33 1-20 1-59 1 2 1 16 1 11 1-52 1 67 1-15 1-12 1-49 1 63 1 6 1-14 1-19 1-58 1 14 1 20 1-18 1 56 1 6 1-82 1 72 1 80 1-142 1 9 1 62 1-15 1-51 1-6 1 34 1 36 1-54 1-38 1 34 1 29 1-33 1 4 1 30 1-30 1-20 1-3 1-17 1-68 1 61 1 30 1-16 1-57"/>
<path vector-effect="non-scaling-stroke" d="M0 333l1 32 1-64 1 58 1-127 1 57 1 70 1-10 1 65 1-75 1-12 1-37 1 95 1-22 1-31 1 17 1-87 1 161 1-38 1 102 1-172 1 12 1 15 1-114 1 150 1-123 1 87 1-22 1 26 1-85 1 66 1-10 1-40 1 33 1-70 1-41 1 112 1-61 1 43 1-9 1 9 1 122 1-131 1 73 1-22 1-77 1-11 1-9 1 131 1-101 1 21 1-57 1 59 1 29 1-65 1 15 1 138 1-132 1 67 1 90 1-181 1-24 1 93 1 32 1-33 1-26 1 98 1-134 1 88 1-47 1 82 1-48 1-22 1 32 1-42 1 62 1 63 1-29 1-63 1 80 1-118 1 63 1-60 1-41 1 41 1 84 1 9 1-138 1 99 1-81 1 96 1 41 1-99 1-2 1 18 1 71 1-113 1-26 1-11 1 187 1-110 1-75 1 99 1 13 1-91 1 70 1 23 1-110 1 43 1-2 1-3 1 10 1-11 1 63 1 26 1-24 1-33 1 71 1-68 1-53 1 24 1 10 1 24 1-39 1 5 1 139 1-96 1 121 1-129 1 11 1 44 1 37 1-71 1-6 1 19 1-119 1 82 1-81 1 50 1-13 1 2 1 59 1-44 1 75 1-63 1 55 1 22 1-126 1 36 1 10 1 32 1-101 1 45 1-10 1-67 1 43 1-1 1 77 1-22 1-73 1 15 1-39 1 26 1 41 1 17 1-15 1 7 1-124 1 121 1-42 1-89 1 136 1-71 1-25 1 56 1-28 1 81 1-38 1-32 1 80 1-64 1 3 1 16 1 25 1-33 1-69 1 93 1 18 1-6 1-105 1 78 1-47 1 97 1-106 1 16 1 13 1-72 1 7 1 99 1-52 1 13 1 20 1-80 1-60 1 68 1 45 1-79 1 92 1-92 1 92 1-49 1-10 1-6 1-21 1 98 1-75 1-24 1 37 1-103 1 116 1 36 1-103 1 4 1-79 1 80 1 4 1-39 1 4 1-21 1-3 1 30 1-47 1 1 1 36 1-69 1 87 1-95"/>
<path vector-effect="non-scaling-stroke" d="M0 238l1 65 1-23 1 116 1-92 1 3 1 6 1 78 1-58 1 3 1-13 1-7 1-82 1 112 1-32 1 34 1-48 1-64 1 59 1 40 1-31 1 21 1 36 1-85 1 19 1 53 1-150 1 89 1 3 1 10 1-11 1 21 1 7 1 0 1 11 1-22 1-43 1 127 1-115 1 71 1-61 1 8 1-42 1 154 1-106 1-102 1 97 1 13 1 34 1-42 1-41 1-2 1 131 1-4 1-100 1 96 1-65 1-75 1 45 1 45 1 69 1 54 1-53 1-94 1 182 1-38 1-204 1 127 1 12 1-53 1 85 1-114 1 57 1-16 1 101 1-180 1 113 1-42 1 20 1 19 1-70 1 49 1 30 1 50 1-35 1-43 1 40 1-43 1 8 1 75 1 25 1-128 1 60 1-26 1 13 1 62 1-136 1 16 1 83 1-124 1 31 1-13 1 31 1 33 1 49 1-25 1-25 1-5 1-20 1-15 1 73 1-76 1 68 1-37 1-7 1 22 1-1 1 28 1-80 1 74 1 67 1-42 1-77 1 89 1-34 1 21 1-34 1 98 1-114 1 98 1-160 1 69 1 39 1-17 1 37 1-54 1-60 1 79 1 44 1-108 1 55 1-8 1 36 1-103 1 24 1-32 1 11 1 9 1-25 1 52 1-13 1 88 1-22 1-15 1 10 1-18 1 54 1-119 1-15 1-77 1 166 1-56 1-55 1-40 1-25 1 85 1-25 1 51 1-68 1 42 1 102 1-104 1-41 1 6 1 43 1-23 1 56 1-33 1 8 1-53 1-6 1-13 1-37 1 30 1-32 1 65 1-93 1 104 1-48 1-51 1 14 1 73 1-15 1 15 1-57 1 45 1-22 1-73 1 60 1 0 1 84 1-126 1 48 1-26 1 8 1 64 1-44 1-29 1-15 1 34 1 19 1-113 1 96 1-75 1 34 1 13 1-1 1 97 1-50 1-9 1-16 1-30 1-24 1-6 1 67 1-71 1 0 1-35 1 38 1-10 1 86 1-81 1 8 1-49 1 19 1 46 1-44"/>
<path vector-effect="non-scaling-stroke" d="M0 390l1-96 1-5 1-3 1-39 1 48 1 12 1 22 1-4 1 65 1-109 1 57 1 33 1-8 1-5 1-31 1-41 1 43 1 24 1 18 1-25 1 46 1-89 1 55 1-22 1 63 1-58 1 35 1 16 1-28 1-91 1 62 1-20 1 23 1 14 1-72 1 88 1 14 1-50 1 9 1 38 1 29 1-9 1-2 1 20 1-23 1 32 1 5 1-16 1-123 1 119 1-24 1-120 1 58 1 44 1 7 1-18 1 18 1-91 1 24 1 4 1 30 1 25 1-31 1 19 1 16 1-21 1 44 1 40 1-71 1-14 1-58 1-6 1 93 1-28 1-6 1 49 1-138 1 36 1 36 1-72 1 139 1-108 1 8 1 67 1-82 1 32 1 5 1 57 1-81 1 60 1-57 1-43 1 67 1 13 1-60 1 59 1 48 1-57 1-86 1 148 1-44 1-37 1 71 1-57 1 1 1-44 1 116 1 7 1-31 1-122 1 72 1-2 1-33 1 113 1-157 1 68 1 36 1-143 1 124 1-7 1-8 1-73 1 96 1 54 1-21 1-62 1-85 1 138 1-61 1 38 1-65 1 27 1-6 1-14 1 61 1 65 1-155 1 150 1 7 1-82 1 59 1-70 1 51 1-105 1 66 1-31 1 53 1-59 1 13 1-12 1 24 1 49 1-9 1 38 1-53 1 81 1-93 1-24 1 50 1-56 1-49 1 35 1-42 1 22 1 90 1 6 1-65 1-15 1 81 1-66 1 11 1 14 1-4 1-42 1 15 1 36 1-16 1-12 1-7 1-14 1-65 1 96 1-64 1 7 1 46 1-34 1-4 1 35 1-106 1 158 1-48 1-27 1 26 1-54 1 34 1 18 1-49 1-2 1-15 1 24 1-86 1-21 1 157 1-92 1 4 1-23 1 40 1 15 1-34 1-9 1 7 1-29 1 50 1-85 1 78 1-71 1 43 1 13 1-39 1 41 1-7 1 25 1-55 1-46 1 90 1-23 1-40 1 89 1-61 1-63 1 54 1 23 1-5 1-28 1 31 1-24"/>
<path vector-effect="non-scaling-stroke" d="M0 322l1 25 1-16 1 34 1-66 1-44 1 46 1 59 1-86 1 48 1-7 1-30 1-9 1 49 1 83 1-83 1-7 1-47 1 56 1 17 1-34 1 46 1-34 1-3 1-96 1 67 1 103 1-107 1-29 1-4 1 94 1-139 1 85 1 18 1 48 1-94 1-83 1 148 1-102 1 132 1-59 1 9 1 81 1-28 1-45 1-49 1-44 1 130 1 36 1-170 1 104 1 8 1-60 1 14 1 152 1-19 1-149 1 7 1 20 1 38 1-7 1 89 1-179 1 33 1 35 1-16 1 27 1 2 1-27 1 53 1-77 1 47 1-40 1 82 1-41 1 41 1-67 1 7 1 27 1-34 1-22 1 7 1-23 1 21 1 5 1-21 1 19 1-15 1 89 1-22 1 31 1-55 1 13 1-39 1-1 1 20 1 31 1 42 1-128 1 124 1-49 1-54 1 61 1-17 1-43 1 60 1-64 1 63 1 20 1-62 1 109 1 4 1-138 1-44 1 161 1-70 1 12 1 49 1 20 1-79 1 52 1 2 1-133 1 159 1-80 1-68 1 146 1-102 1 94 1-41 1-102 1 96 1-60 1 57 1 48 1-66 1 67 1 2 1-120 1 79 1 7 1-33 1 37 1-5 1 88 1-120 1 24 1-53 1 57 1-51 1 94 1-130 1 25 1 61 1 58 1-194 1 115 1-29 1-27 1 64 1-30 1 71 1-69 1-32 1-5 1 86 1-58 1-18 1-20 1-4 1-5 1 9 1 19 1 48 1-138 1 118 1-34 1-3 1-15 1-83 1 121 1-105 1 64 1-113 1 200 1-87 1-114 1 155 1-74 1-13 1 6 1-31 1 40 1 23 1 31 1-40 1-121 1 219 1-106 1-54 1 13 1 11 1-66 1-14 1 58 1-15 1 55 1-111 1 59 1-4 1 18 1-57 1-35 1-22 1 21 1 71 1-47 1 15 1 57 1-55 1 4 1-42 1 13 1-12 1 56 1-155 1 137 1-33 1 42 1-57 1 27 1-13 1-92 1 86 1-57 1-14 1 105"/>
<path vector-effect="non-scaling-stroke" d="M0 257l1 79 1-134 1 61 1-15 1-10 1 91 1-1 1-33 1 57 1-89 1 55 1 20 1 14 1-108 1 22 1 139 1-174 1 104 1-78 1 55 1-43 1 59 1-1 1-26 1 149 1-101 1-34 1 37 1-24 1 9 1-54 1-43 1 130 1-81 1 44 1-83 1 18 1 18 1-92 1 122 1-1 1 39 1-25 1-71 1 36 1-12 1 124 1-37 1-39 1-70 1 63 1 24 1-44 1 20 1-61 1 22 1 14 1 67 1-150 1 44 1 108 1-148 1 104 1-2 1 82 1-92 1-4 1 71 1-26 1 13 1-38 1-19 1 83 1 13 1-188 1 112 1 47 1 11 1-42 1-78 1 57 1 68 1-80 1 2 1 22 1-30 1 40 1 27 1-41 1-4 1 25 1-91 1 73 1-89 1 164 1-46 1-33 1-38 1-2 1-76 1 151 1-11 1-137 1 174 1-104 1-114 1 59 1 35 1-49 1 74 1-147 1 137 1-54 1 20 1-45 1 171 1-114 1 47 1-62 1 84 1-87 1 101 1-50 1 6 1 9 1 33 1-95 1 100 1-116 1 149 1-58 1 16 1 36 1-82 1 79 1-59 1-88 1 216 1-149 1 37 1 55 1 7 1-124 1 42 1 51 1-91 1-12 1 87 1-4 1-21 1 46 1-12 1-30 1-25 1 79 1-71 1 21 1 17 1-41 1-68 1 127 1-38 1 28 1-40 1 21 1-59 1 33 1-4 1 44 1-74 1 48 1-72 1 91 1-51 1-31 1-53 1 144 1 8 1-31 1 25 1-135 1 55 1 4 1-30 1-27 1 15 1 28 1 65 1-67 1-21 1 37 1 3 1-68 1 35 1-22 1 90 1-70 1-55 1 33 1 25 1 22 1-41 1 40 1-35 1-30 1 22 1-52 1-4 1-11 1 1 1 11 1 3 1 3 1 110 1-77 1-20 1 13 1-65 1 59 1-132 1 146 1-6 1-4 1 14 1-38 1-7 1 65 1-67 1-2 1-57 1 53 1 33 1 25 1-78 1-50 1 79"/>
<path vector-effect="non-scaling-stroke" d="M0 334l1 11 1-37 1 64 1-33 1-36 1 67 1-30 1-24 1 92 1-16 1 8 1-50 1 12 1-23 1 33 1 14 1-24 1-28 1 2 1 8 1 69 1-44 1-70 1 56 1-26 1 53 1-56 1 109 1-36 1-17 1-6 1 19 1 72 1 2 1-117 1 105 1 20 1 2 1-84 1 9 1-68 1-11 1 8 1 37 1-60 1 99 1 95 1-164 1 26 1 15 1-35 1 6 1 46 1 35 1-21 1 7 1-14 1 17 1-31 1 81 1-85 1 4 1 31 1-103 1 112 1-75 1-124 1 167 1-121 1 65 1-53 1 79 1 31 1 16 1 2 1 5 1-102 1 26 1 44 1 57 1-102 1-2 1-24 1 45 1-84 1 58 1-22 1-24 1 70 1-69 1 20 1-63 1 85 1-103 1 138 1-21 1-36 1-7 1-27 1 28 1 33 1-64 1-43 1 80 1-17 1 40 1 45 1-80 1 13 1 6 1 25 1-41 1-13 1 92 1-21 1-80 1-18 1 42 1-20 1 20 1-149 1 59 1 49 1 87 1-93 1 43 1 53 1-15 1-66 1 12 1-50 1 36 1 70 1-42 1-2 1-56 1 100 1-49 1-36 1 114 1-50 1 15 1 64 1-124 1 28 1-5 1-59 1-16 1 17 1-39 1 82 1-91 1 71 1-8 1-92 1 161 1-97 1 90 1-70 1 37 1 14 1-27 1 16 1-5 1 14 1 19 1 27 1-66 1 15 1-36 1-28 1 20 1 125 1-31 1-42 1-68 1 21 1 79 1-86 1 6 1 0 1-55 1-4 1 25 1 113 1-57 1-70 1-7 1 12 1 35 1-33 1-7 1 14 1 35 1 10 1-61 1 68 1-63 1 34 1-168 1 41 1 43 1-18 1 66 1-58 1 92 1-49 1 44 1-87 1 47 1 19 1 3 1-66 1 38 1-27 1-101 1 119 1-73 1 22 1 46 1-20 1-100 1 38 1 19 1-14 1 11 1 58 1-137 1-10 1 26 1 60 1-46 1-3 1 59 1 2 1-35"/>
<path vector-effect="non-scaling-stroke" d="M0 378l1-26 1-26 1 15 1 42 1-103 1 18 1 45 1-54 1 42 1 45 1 45 1-88 1-15 1 100 1-6 1-116 1 144 1-89 1-90 1 29 1 74 1-26 1-18 1 17 1 30 1 1 1 24 1-110 1 70 1-1 1 47 1-36 1-25 1 18 1-30 1-24 1 92 1-35 1-29 1-52 1 21 1 74 1-127 1 107 1 56 1-172 1 19 1 18 1 30 1 71 1-102 1 55 1-15 1 59 1-16 1 19 1-48 1-26 1 90 1 19 1-100 1 18 1 22 1 35 1-31 1 8 1-63 1 87 1-11 1-58 1 24 1 2 1 53 1 59 1-114 1 99 1-80 1-2 1-26 1 62 1-56 1 50 1-27 1-87 1 19 1 23 1-52 1 88 1-107 1 24 1-28 1-91 1 122 1 25 1 50 1-107 1 61 1 7 1 34 1-109 1 77 1 14 1-112 1 75 1 7 1-37 1-58 1-43 1 71 1 86 1-104 1 32 1 88 1-82 1 2 1 16 1-12 1 98 1-78 1 55 1 22 1-88 1-1 1-47 1 58 1 40 1 35 1-107 1 80 1 13 1-45 1 66 1-151 1 23 1 38 1 61 1-65 1 92 1-94 1 49 1-38 1-5 1 5 1 16 1-1 1-37 1-58 1-23 1 57 1 88 1-102 1 102 1-5 1 13 1-60 1-23 1 61 1 86 1-155 1-50 1 1 1-21 1 84 1-16 1-57 1 37 1 71 1 27 1-66 1 11 1-58 1 12 1 5 1-21 1 13 1 51 1-79 1-26 1 42 1 22 1 95 1-170 1 42 1 11 1 30 1-60 1-47 1 131 1-78 1-54 1 23 1-17 1 89 1 19 1-56 1 13 1-19 1 41 1 15 1-49 1-27 1-34 1 38 1 21 1-14 1 36 1-68 1 110 1-108 1 14 1-10 1-73 1 177 1-35 1-38 1-108 1 66 1 63 1-67 1 17 1 34 1-43 1 39 1-46 1 56 1-41 1 38 1-56 1-34 1 87 1-60 1 13 1-36 1-7 1 22 1 12"/>
</g>
<use href="#m1gray" transform="translate(1.7 -18)"/>
<use href="#m1gray" transform="translate(0.85 18)"/>
<g transform="matrix(3.3745 0 0 1 1115.2 0)" fill="none" stroke="#ffb000" stroke-width="1.0" stroke-opacity="0.085" stroke-linejoin="round" id="m1orange">
<path vector-effect="non-scaling-stroke" d="M0 316l1 11 1 16 1-51 1 13 1-31 1 57 1-23 1 21 1 8 1-33 1 26 1-67 1 43 1-2 1 3 1 45 1-30 1 0 1-5 1 26 1-34 1 23 1 12 1 0 1-15 1-23 1 23 1 26 1 39 1-96 1 31 1 54 1-138 1 76 1 2 1 26 1-4 1-49 1 22 1-13 1 8 1-6 1 32 1-1 1-19 1 21 1-17 1 32 1-23 1-63 1 43 1 7 1-32 1 17 1 44 1-37 1-18 1 57 1-29 1 44 1-48 1 18 1 20 1-62 1 24 1-29 1-4 1 30 1-58 1 86 1-71 1 36 1 2 1-25 1-12 1 17 1-5 1 14 1 17 1-40 1 4 1-4 1 27 1-31 1-3 1 3 1 17 1-12 1 1 1-6 1 30 1 31 1-27 1 29 1-47 1-36 1 119 1-57 1-44 1 26 1 47 1-50 1 57 1-40 1 2 1-5 1 34 1 32 1-78 1 38 1 22 1-48 1 54 1-51 1-2 1 0 1 32 1-38 1 33 1-34 1-3 1 46 1-53 1 11 1-15 1 30 1-32 1 46 1-31 1 7 1-15 1-6 1 25 1-2 1 11 1 24 1-62 1 16 1 2 1-59 1 66 1-30 1 26 1-16 1 39 1-43 1 45 1-19 1 5 1-16 1 53 1-73 1-5 1-17 1 66 1-76 1 27 1-12 1 48 1-25 1 43 1 6 1-2 1-42 1 33 1-1 1-28 1 15 1-19 1 12 1 14 1-39 1 31 1 11 1-3 1-58 1 0 1 22 1 5 1-5 1 8 1 45 1-23 1-27 1-3 1 22 1-23 1-3 1 38 1-70 1 40 1-10 1-12 1-46 1 44 1 28 1-8 1-33 1 27 1 13 1-7 1-12 1 21 1-16 1 0 1 38 1-56 1 3 1 18 1 13 1 3 1 14 1-8 1 24 1-20 1-18 1 15 1-69 1 44 1 13 1 0 1-8 1-16 1 25 1-26 1 43 1 19 1 7 1-10 1-3 1-16 1-4 1 10 1 20 1-17 1-3"/>
<path vector-effect="non-scaling-stroke" d="M0 330l1 14 1-13 1-27 1-24 1 32 1 10 1-29 1 18 1 7 1-31 1 34 1 6 1-5 1-48 1 26 1-4 1 64 1-61 1 17 1-22 1 43 1-63 1 51 1-17 1-17 1 88 1-115 1 52 1-14 1 50 1-25 1 8 1-41 1 18 1-16 1 51 1-3 1-4 1-23 1-37 1 55 1 12 1-20 1-66 1 45 1 48 1-15 1-59 1 60 1-45 1 44 1-56 1 33 1-17 1 32 1-17 1-23 1 23 1-46 1 27 1-27 1 3 1-33 1 67 1 0 1-14 1 0 1-41 1 16 1 0 1-23 1 65 1-57 1 48 1-27 1 23 1-48 1 55 1 20 1-56 1 2 1 11 1-6 1 26 1-21 1 2 1 44 1 8 1-13 1-28 1 26 1 23 1-27 1 10 1 52 1-66 1-44 1 88 1 5 1-66 1 57 1-14 1 23 1-18 1-31 1 22 1-8 1-49 1 49 1-26 1 61 1-32 1 4 1-12 1 45 1-21 1-66 1 54 1 8 1-47 1-5 1 3 1 53 1-12 1-22 1 39 1-58 1-9 1 36 1-4 1-22 1 78 1-70 1-25 1-9 1 33 1-39 1 27 1-27 1-2 1 8 1 51 1-5 1-56 1 45 1-30 1-39 1 35 1 3 1-41 1 7 1-3 1 40 1 8 1-18 1-34 1 46 1 1 1-2 1 19 1-47 1 30 1 17 1-51 1 39 1-11 1 15 1-25 1 26 1-18 1-22 1 60 1-25 1 8 1-37 1 35 1-22 1-16 1-6 1 16 1-21 1 87 1-51 1 26 1-15 1-26 1-14 1 17 1 17 1-25 1 26 1 9 1-59 1 24 1 14 1-31 1 1 1 53 1-11 1 0 1-11 1 8 1-32 1 47 1-27 1 5 1 32 1-24 1 1 1 22 1-18 1-2 1-28 1 29 1-17 1 59 1-49 1-22 1 32 1 16 1-32 1 45 1-6 1-14 1-12 1-3 1 47 1-31 1 15 1 14 1-32 1-21 1 39 1-20 1 25 1-29"/>
<path vector-effect="non-scaling-stroke" d="M0 310l1 47 1-14 1-23 1 32 1-11 1-29 1 46 1-85 1 1 1 91 1-45 1 22 1-40 1 3 1 11 1-5 1-1 1-49 1 69 1 1 1-22 1 84 1-73 1-6 1 10 1-3 1-25 1-28 1-7 1 76 1-1 1-45 1 4 1-8 1 12 1-18 1 7 1 51 1-19 1-1 1-40 1 28 1-38 1 23 1 13 1 44 1-55 1 25 1-45 1 58 1 3 1 21 1-14 1-75 1 86 1-61 1 17 1 48 1-32 1-20 1 54 1-48 1 19 1-34 1 8 1-1 1-11 1 64 1-51 1-9 1-2 1 2 1 9 1-25 1-14 1 41 1 2 1 13 1-9 1-27 1 63 1-43 1-4 1 11 1 42 1-48 1-35 1 12 1 50 1 27 1 8 1-46 1-27 1 75 1-55 1-19 1 41 1 12 1 8 1-74 1 23 1 4 1 2 1 10 1 23 1-42 1 25 1 21 1-12 1-5 1 5 1-17 1 44 1-66 1-1 1 10 1 33 1-30 1-12 1-27 1 20 1 22 1-44 1 38 1 38 1-35 1-32 1-7 1 33 1-24 1-28 1 19 1 25 1-12 1-14 1 25 1 3 1 35 1-41 1-22 1-11 1 53 1-21 1 7 1 22 1-12 1 4 1-15 1 16 1-67 1 1 1 10 1-1 1 19 1 17 1-16 1-15 1 9 1 3 1-22 1 45 1-31 1-13 1 60 1-27 1-36 1 53 1-60 1 28 1-20 1 40 1-7 1-31 1 37 1-58 1 28 1 18 1 15 1 8 1-8 1-5 1 19 1 5 1-20 1 43 1-39 1 15 1-45 1 26 1 2 1-30 1 67 1-62 1 4 1 46 1 21 1-12 1-46 1 29 1-47 1-7 1 51 1-59 1 48 1-14 1-44 1 84 1-37 1-63 1 37 1-6 1-5 1 41 1-47 1 25 1-19 1 27 1-18 1 11 1 7 1-23 1 20 1 23 1-39 1-42 1 36 1 19 1-45 1 48 1 5 1-14 1 35 1-47 1 11 1 7 1 20"/>
<path vector-effect="non-scaling-stroke" d="M0 322l1-3 1 28 1-2 1-64 1 52 1 14 1-59 1 25 1-9 1-35 1 21 1 33 1 33 1-69 1-36 1 87 1-32 1-24 1 29 1 35 1-12 1-40 1 14 1 25 1-3 1 1 1 12 1 8 1-46 1 75 1-48 1-14 1-14 1-19 1 23 1 29 1-44 1-13 1 42 1-15 1-25 1 0 1 35 1-33 1-9 1 52 1 2 1 2 1-9 1-4 1-29 1 16 1 19 1 0 1-49 1 21 1 26 1-79 1 54 1-31 1 76 1-20 1 25 1-23 1-3 1 5 1-26 1 1 1 20 1 10 1 28 1-28 1-8 1 32 1-62 1 8 1-6 1 46 1-24 1-30 1-11 1 13 1 25 1-36 1 75 1-76 1 8 1 57 1-69 1 63 1-88 1 73 1-15 1-13 1-11 1 29 1-21 1 0 1 20 1-1 1 51 1-41 1 21 1 32 1-44 1 9 1 26 1 21 1-28 1-29 1-32 1 48 1 17 1-34 1-20 1-1 1-16 1 38 1-36 1 2 1 14 1-21 1-2 1 26 1 3 1-36 1 46 1-38 1 25 1-8 1 21 1-39 1 91 1-99 1 33 1 7 1 8 1-9 1-24 1 4 1 45 1-38 1 7 1-5 1 28 1-22 1 2 1-34 1-47 1 73 1 39 1-28 1-10 1-10 1 6 1-46 1 58 1-9 1-45 1 44 1-20 1-15 1 8 1-6 1-15 1 64 1-49 1-36 1 49 1-19 1 53 1-17 1-40 1 24 1 39 1-65 1 17 1-21 1 48 1-65 1 17 1 46 1-61 1 46 1-7 1 4 1-34 1 12 1 2 1 20 1 3 1-54 1 45 1-1 1-20 1 0 1-4 1-23 1 48 1 6 1 10 1-27 1-3 1 2 1 23 1 5 1 3 1-37 1 48 1-64 1 31 1-8 1 7 1 21 1 15 1 12 1-46 1 43 1-26 1-19 1 47 1-27 1 0 1-12 1 7 1-4 1 3 1 3 1-1 1 12 1 10 1-32 1 19 1 19 1-11 1-27"/>
<path vector-effect="non-scaling-stroke" d="M0 327l1-42 1 53 1-41 1-19 1 12 1 52 1-26 1 46 1-73 1-33 1 37 1 25 1-21 1 0 1-41 1 15 1 9 1 20 1 4 1 35 1-52 1 9 1-39 1 14 1 20 1 35 1-7 1-40 1 55 1-44 1-34 1 27 1 77 1-57 1 21 1-64 1 90 1-6 1-36 1 39 1-40 1 33 1-12 1 18 1-7 1-5 1 33 1-99 1 71 1 34 1-29 1 0 1-3 1-44 1 49 1-68 1 36 1 36 1-48 1 24 1 11 1-39 1 78 1-72 1 44 1-31 1-36 1 41 1 5 1 44 1-65 1 33 1-20 1 20 1 36 1-47 1 2 1-20 1 48 1-78 1 37 1 30 1-96 1 12 1 52 1 4 1-14 1 32 1-9 1 21 1-37 1-7 1 27 1 12 1-8 1 1 1 3 1-37 1 40 1-5 1-58 1 36 1 28 1-35 1 46 1-34 1-12 1-8 1 33 1 11 1 31 1-54 1 37 1-50 1 26 1-21 1 19 1 27 1-50 1-1 1-35 1 99 1-66 1 36 1-20 1 26 1-16 1 11 1-51 1 27 1-7 1-42 1 95 1-68 1 10 1 5 1 3 1 3 1 10 1 1 1 20 1-17 1 2 1-49 1 44 1-27 1-22 1 21 1 29 1-25 1 15 1-40 1-12 1-33 1 87 1-70 1 8 1 0 1 41 1-14 1 27 1-15 1-20 1-6 1 28 1 3 1-15 1-34 1 31 1 8 1-30 1 3 1 36 1-45 1 10 1-27 1 48 1-31 1-27 1 55 1-14 1-4 1 38 1-30 1-27 1 25 1 13 1 9 1-48 1 14 1-6 1 24 1-21 1 3 1 30 1-10 1 8 1 25 1-31 1 4 1 17 1-35 1 51 1-38 1-27 1-14 1-4 1 69 1-7 1-37 1-9 1 54 1-35 1-8 1 63 1-93 1 70 1-37 1-28 1 23 1 23 1 12 1-52 1 3 1 10 1 38 1-35 1 66 1-33 1-2 1-6 1-16 1-5 1 54 1 13 1-47"/>
<path vector-effect="non-scaling-stroke" d="M0 356l1-42 1-38 1 27 1 23 1-13 1 15 1-13 1-31 1-5 1 42 1-23 1-15 1 37 1-37 1 37 1-26 1 7 1 25 1 13 1 9 1-71 1 35 1 9 1-4 1 18 1 15 1-27 1-42 1 32 1 62 1-52 1 17 1 6 1-2 1-20 1 18 1-15 1-9 1 16 1-7 1-9 1-4 1-19 1 33 1 43 1-50 1 10 1 1 1-30 1 52 1-76 1 48 1 0 1 9 1-6 1-17 1-37 1 63 1-42 1 50 1-12 1-19 1 35 1-25 1 12 1 29 1-35 1-19 1 33 1-28 1 38 1-58 1-25 1 25 1-1 1-22 1 7 1-22 1 6 1 6 1 38 1 0 1 13 1 28 1-98 1 45 1 19 1-24 1 4 1 50 1-40 1-12 1 39 1 11 1 10 1 1 1-51 1 38 1 0 1 40 1-57 1 47 1-26 1-70 1 56 1-17 1 3 1-16 1 5 1 6 1 25 1-6 1 21 1-31 1 15 1 25 1-53 1 1 1 55 1-14 1 34 1-69 1 0 1-45 1 64 1-32 1-18 1 1 1 44 1-52 1 47 1-10 1-18 1 6 1 17 1 3 1 14 1-56 1 8 1 11 1 25 1-16 1-52 1 11 1 68 1-17 1-6 1 9 1 47 1-40 1-41 1 46 1 31 1-33 1-70 1 11 1 26 1-5 1-7 1-17 1 29 1 11 1-40 1-11 1 39 1-17 1 16 1-10 1 34 1-5 1-37 1 22 1-11 1-13 1-5 1 7 1 3 1-24 1 22 1 18 1 43 1 3 1-23 1 19 1-59 1 47 1-10 1-11 1-30 1-14 1 41 1-13 1 28 1-6 1 15 1-48 1 37 1-21 1 3 1 9 1-43 1-14 1 57 1-8 1 11 1-3 1-8 1 22 1-22 1 45 1-38 1-30 1 20 1-20 1-5 1 33 1-9 1 5 1 4 1-2 1-20 1 20 1-5 1-5 1 29 1 6 1 27 1-60 1 13 1-15 1 62 1-62 1 25 1-20 1 23 1 4"/>
<path vector-effect="non-scaling-stroke" d="M0 312l1 12 1-31 1 1 1 1 1 42 1-53 1 25 1 9 1 14 1 21 1-19 1 4 1-36 1 20 1-5 1-59 1 52 1-10 1 22 1-3 1 1 1-2 1-28 1 1 1 92 1-96 1 94 1-103 1 8 1 75 1 18 1-54 1-5 1-5 1 39 1-69 1 24 1 4 1 5 1-21 1-43 1 52 1-10 1 1 1 13 1 5 1-6 1-16 1-28 1 64 1 0 1 13 1-52 1 3 1-25 1 30 1 24 1 1 1-30 1 33 1-12 1 6 1 14 1-36 1 27 1-3 1-4 1-67 1 59 1-14 1 17 1 1 1-26 1-18 1 14 1-19 1-8 1 49 1-5 1-12 1 38 1-45 1 27 1-2 1 15 1 40 1-39 1-15 1-11 1-33 1 38 1 36 1-31 1-23 1 8 1 18 1 0 1-5 1 19 1-9 1 30 1-70 1-42 1 120 1-43 1 50 1 6 1-42 1-16 1 59 1-38 1-4 1 2 1-26 1 32 1-18 1 24 1-20 1-20 1-25 1 61 1 1 1-27 1 41 1-10 1-8 1-61 1 42 1-21 1-16 1 37 1 17 1 7 1-75 1 14 1 18 1-3 1-2 1 24 1 3 1 16 1-17 1-15 1 18 1-16 1 29 1-62 1 41 1-7 1 10 1-18 1-22 1 30 1-53 1 59 1 9 1-36 1-25 1 35 1-49 1 50 1 14 1-21 1-74 1 70 1 3 1-15 1 44 1-34 1 33 1-53 1 16 1 45 1-34 1-4 1-4 1 9 1-25 1 53 1-45 1-4 1-11 1 50 1-45 1 12 1 13 1 5 1 30 1-22 1 16 1-29 1 4 1 2 1-8 1-6 1-43 1 70 1-17 1-3 1 7 1 29 1-22 1-21 1-23 1 11 1 27 1-15 1 1 1 9 1-18 1 16 1 4 1 0 1 47 1-89 1 79 1-28 1 14 1-49 1 9 1 3 1 8 1 51 1-35 1-40 1 22 1 38 1-33 1 24 1-8 1-8 1 7 1-3 1 4 1-18 1 5"/>
<path vector-effect="non-scaling-stroke" d="M0 317l1 11 1-55 1 48 1-19 1 23 1-11 1-6 1 11 1-27 1 13 1-10 1 14 1-34 1 69 1-19 1 6 1 11 1-15 1-19 1 87 1-100 1 15 1 29 1-17 1 12 1-50 1 47 1 27 1-26 1-24 1 59 1-53 1-21 1 10 1-4 1 17 1-30 1-32 1 74 1-84 1 103 1-62 1 52 1-4 1-70 1 53 1-54 1-5 1 34 1 32 1 24 1-8 1-53 1 33 1 2 1 6 1 7 1-23 1 30 1-8 1 1 1-17 1-9 1 1 1 29 1-9 1-29 1-6 1 6 1 12 1 21 1-43 1 59 1-15 1-14 1-2 1-7 1 49 1-73 1 74 1-52 1 2 1-40 1 33 1-5 1 44 1-11 1-20 1 43 1-68 1 15 1-17 1 32 1-18 1 10 1-33 1 54 1-47 1-15 1 64 1-5 1 7 1 2 1-25 1-36 1 90 1-22 1-50 1 83 1-111 1 20 1 42 1-2 1 24 1-53 1 30 1-7 1 22 1-52 1-7 1-6 1-8 1 17 1-37 1 23 1 14 1 12 1 1 1-21 1 56 1-11 1 16 1-35 1 13 1 39 1-107 1 59 1 22 1-58 1 69 1-17 1-28 1-9 1 15 1 8 1-30 1 42 1 7 1-20 1-64 1 65 1-9 1-30 1 2 1 72 1-66 1 24 1-6 1 12 1-12 1-18 1-3 1 28 1 17 1-35 1 32 1-21 1 19 1 17 1-16 1 8 1-44 1 28 1-1 1-28 1 24 1-14 1-5 1 9 1 5 1-21 1-6 1 3 1 21 1-10 1 32 1-48 1 10 1 5 1 1 1-12 1 29 1-31 1 16 1-52 1 64 1-38 1 18 1 14 1-25 1 24 1 45 1-42 1 16 1-33 1 13 1-22 1 14 1 19 1-13 1 6 1-30 1 21 1 31 1-20 1-40 1 15 1 17 1-8 1-25 1 51 1-21 1-20 1 11 1-11 1 29 1 36 1-35 1 27 1 10 1-20 1 13 1-28 1 34 1-18 1 32"/>
<path vector-effect="non-scaling-stroke" d="M0 370l1-43 1-3 1-40 1 36 1-44 1 29 1-11 1 28 1-14 1 21 1 17 1 24 1-30 1-35 1-33 1 60 1-49 1-5 1 40 1 36 1-32 1-4 1-26 1 24 1 26 1-10 1 34 1-41 1 9 1-16 1 50 1 26 1-52 1-9 1-46 1 30 1 4 1 55 1-56 1 4 1 43 1-56 1 23 1 1 1-29 1 12 1-6 1-51 1 111 1-35 1-28 1-5 1 31 1 5 1-20 1 3 1-48 1 35 1-48 1 16 1 37 1 22 1-28 1-21 1 69 1-92 1 28 1 53 1-19 1-28 1 32 1-32 1-11 1 32 1 50 1-74 1 40 1 4 1-5 1-19 1 11 1-32 1-27 1 43 1 25 1 42 1-24 1-18 1-21 1 35 1 0 1-9 1 2 1 60 1-69 1-16 1 50 1-24 1-10 1 69 1-80 1 24 1-22 1 63 1-24 1-36 1 29 1-41 1 30 1 8 1-53 1 33 1-39 1 52 1-88 1 83 1-19 1 26 1-47 1 19 1-36 1 31 1-23 1-21 1 65 1-33 1 15 1 7 1-28 1 11 1-14 1 51 1-36 1 34 1 5 1-14 1-30 1-38 1 74 1-4 1-42 1-16 1 51 1-53 1 38 1 18 1-16 1-27 1 15 1-59 1 102 1-45 1 0 1 40 1-19 1-7 1 7 1-28 1 22 1 1 1 10 1-2 1-8 1-68 1 47 1-6 1 4 1 65 1-31 1 2 1-64 1 43 1-3 1 25 1-22 1-32 1 3 1-5 1-3 1 9 1-20 1 45 1-43 1 19 1 20 1 21 1-63 1 36 1 36 1-15 1-4 1 28 1-13 1-18 1 0 1 2 1 3 1 34 1-74 1 18 1-19 1 50 1-54 1 75 1-20 1-6 1-9 1 36 1-41 1 16 1 5 1-39 1 29 1 29 1-27 1 4 1-5 1-19 1 11 1-48 1 23 1-17 1 32 1 7 1-2 1-1 1-2 1 6 1 15 1 6 1-4 1 29 1-31 1 11 1-13 1-7"/>
<path vector-effect="non-scaling-stroke" d="M0 331l1-18 1-4 1-18 1 8 1-14 1 3 1 67 1-53 1-2 1-11 1 88 1-19 1 17 1 10 1-57 1 8 1 2 1 1 1-31 1 51 1-22 1-23 1 9 1 57 1-28 1 9 1-47 1 23 1-22 1 21 1-7 1 51 1-88 1 9 1 29 1 14 1 32 1-28 1-19 1 31 1-47 1-26 1 44 1-35 1 11 1 33 1 18 1-5 1-33 1-30 1 4 1 39 1-7 1-25 1 26 1-10 1-16 1-30 1 21 1-11 1 5 1 28 1 8 1 32 1-40 1-23 1-11 1-6 1 9 1 35 1 1 1-67 1 7 1 80 1-15 1 2 1 0 1-29 1 0 1-1 1-31 1 32 1 19 1-36 1 23 1-29 1 57 1-51 1 55 1-43 1 29 1-9 1 0 1 21 1-31 1 32 1-48 1 30 1 14 1-31 1 72 1-80 1 19 1 13 1-5 1 15 1-10 1 10 1 13 1 14 1-28 1-56 1 44 1 40 1 12 1-98 1 63 1-12 1-5 1 1 1-1 1 54 1-46 1-35 1 1 1 14 1-16 1 32 1-20 1 18 1 17 1-30 1-16 1 44 1-4 1-36 1 2 1-18 1 30 1-43 1 71 1-23 1-28 1 43 1-36 1 10 1-12 1 34 1-22 1 14 1-3 1-1 1 8 1-18 1 23 1-31 1 60 1-49 1 11 1 12 1-35 1 22 1-19 1-53 1 45 1 85 1-45 1-55 1 30 1-1 1 10 1 15 1-18 1 3 1 43 1-79 1 33 1-9 1 9 1-9 1 17 1 22 1-44 1 49 1-17 1-42 1 48 1-21 1-29 1 4 1 30 1-26 1 32 1-37 1 12 1 30 1-20 1 18 1 11 1-27 1-24 1 4 1 45 1-23 1 10 1-2 1 6 1-29 1 0 1 1 1 19 1-12 1 12 1-13 1-20 1 49 1-55 1 81 1-42 1-7 1 21 1-4 1 0 1 1 1-3 1-1 1-1 1-26 1 28 1 2 1-1 1-22 1 33 1-8 1-4 1-4"/>
<path vector-effect="non-scaling-stroke" d="M0 272l1 24 1 47 1-31 1 6 1 14 1-18 1-1 1 20 1-42 1 63 1-48 1 23 1-13 1 37 1 13 1-71 1 50 1 4 1 17 1-57 1 22 1 20 1-53 1 40 1-34 1 8 1 1 1-32 1-18 1 80 1-51 1-16 1 12 1 3 1 53 1-56 1 18 1 6 1-38 1 12 1 20 1-28 1 23 1-49 1 73 1 2 1-26 1 42 1-23 1 3 1-50 1 39 1 1 1-23 1 18 1-4 1 32 1-19 1 9 1 6 1 7 1-3 1-22 1-20 1 69 1-47 1-6 1 26 1-58 1 43 1-10 1 27 1-56 1 1 1-13 1 25 1-10 1-5 1 78 1-54 1-16 1 21 1-42 1 40 1-17 1 63 1-76 1 37 1-18 1-15 1 32 1 21 1-39 1 55 1-35 1 0 1 51 1-36 1 13 1-3 1-7 1 1 1 18 1 10 1-8 1-45 1 38 1-18 1 12 1 1 1 12 1-18 1-14 1 27 1-36 1 44 1-47 1-10 1-21 1 61 1 7 1-68 1 32 1 9 1-49 1 38 1-10 1 15 1 28 1-11 1 23 1-38 1 21 1 28 1-6 1-50 1 14 1-2 1-60 1 51 1 44 1-51 1 3 1 21 1-50 1 34 1 19 1-44 1 28 1-15 1 28 1-30 1 20 1-45 1 54 1-17 1-29 1-1 1 24 1-65 1 64 1 7 1-39 1-6 1 88 1-92 1 9 1 64 1-22 1-28 1 34 1-24 1-28 1 5 1-16 1-16 1 31 1-19 1 2 1 20 1 5 1-21 1 0 1 26 1-6 1 15 1-14 1 50 1-64 1 94 1-75 1 55 1-45 1 30 1-38 1-49 1 67 1 34 1-43 1-7 1 57 1-45 1 37 1-24 1 30 1 0 1-39 1-14 1-10 1 21 1 42 1-26 1 13 1 26 1-40 1 16 1-11 1 31 1-14 1 7 1 16 1-39 1 21 1-26 1-16 1-5 1 12 1 26 1 13 1-53 1 25 1 14 1 26 1-40 1 22 1-34"/>
<path vector-effect="non-scaling-stroke" d="M0 255l1 36 1-12 1 52 1-104 1 111 1-54 1-11 1-27 1 55 1-19 1-19 1 59 1-32 1 5 1-51 1 87 1 1 1 27 1-77 1 57 1-29 1 9 1-38 1 39 1 22 1 15 1-57 1 18 1-1 1 34 1-34 1 11 1-10 1-49 1 70 1-21 1-16 1 1 1 11 1 20 1-29 1 6 1-4 1-33 1 30 1 15 1-14 1-9 1 62 1-31 1-64 1 75 1 10 1-18 1-5 1-52 1 79 1-26 1-48 1 27 1 57 1-56 1 38 1-48 1-5 1 8 1 16 1-64 1 23 1 74 1-34 1-73 1 41 1 16 1 28 1-27 1 4 1-19 1 46 1-9 1 3 1-8 1 6 1-24 1-25 1 57 1-18 1-40 1 20 1-9 1 65 1-31 1-51 1 22 1 24 1-19 1-8 1 72 1-45 1 12 1 7 1-36 1 26 1 16 1-67 1 76 1-10 1 19 1-41 1-31 1 25 1-10 1 8 1-14 1 31 1 20 1-24 1-19 1-12 1-12 1 98 1-72 1-19 1-9 1 89 1-28 1-3 1-14 1 2 1 76 1-42 1-30 1-19 1 25 1-28 1 37 1-30 1 26 1 38 1-37 1-10 1 5 1-40 1-10 1 34 1-49 1 53 1 20 1-50 1 24 1-29 1 10 1 20 1 18 1 21 1-51 1-13 1 38 1-18 1-15 1-33 1 47 1-10 1-20 1 26 1-23 1 22 1 24 1-29 1-3 1 9 1 22 1 11 1-47 1-5 1 11 1 11 1 12 1-28 1-13 1-6 1 26 1 21 1-6 1-17 1 18 1-16 1 17 1-10 1-2 1 4 1 24 1-31 1-1 1-26 1 6 1-1 1 32 1-21 1-20 1 9 1 26 1 3 1-16 1-4 1 6 1 59 1-51 1 26 1 9 1-36 1-30 1 12 1 26 1-15 1-32 1 46 1-18 1 5 1-10 1-28 1 22 1 9 1 28 1-2 1-20 1 16 1 4 1-24 1 1 1 12 1 5 1 4 1 8 1-14 1 34"/>
<path vector-effect="non-scaling-stroke" d="M0 315l1-34 1 54 1-45 1-18 1 33 1-48 1 32 1 31 1-42 1 88 1-86 1 35 1-35 1 21 1-12 1-27 1 9 1-11 1 28 1 5 1-8 1 0 1 43 1-49 1 41 1-61 1-9 1 50 1 0 1 55 1 2 1-87 1 68 1-18 1 3 1 19 1-57 1 42 1-45 1 60 1-56 1-1 1 20 1-6 1 18 1-61 1 64 1-33 1 52 1-44 1 34 1-47 1 30 1-49 1 36 1 15 1-33 1 36 1 3 1-10 1-4 1-4 1-1 1 9 1-7 1 5 1-2 1 27 1-5 1-81 1 35 1 43 1-30 1-26 1 79 1-21 1-16 1 8 1-25 1 75 1-63 1-1 1-12 1 16 1-19 1 66 1-106 1 58 1-22 1 34 1-31 1 11 1 6 1 26 1-11 1-10 1 3 1-25 1 11 1-39 1 6 1 37 1-35 1 42 1-3 1 10 1 41 1-54 1 28 1 14 1 2 1 1 1-7 1-57 1 36 1-55 1 62 1-14 1-9 1 11 1-18 1-25 1 37 1-8 1 23 1-31 1 16 1-23 1 12 1 47 1-33 1-18 1 19 1-2 1 2 1 46 1-11 1-39 1 9 1 28 1-64 1-6 1 41 1 1 1 7 1 31 1-31 1-28 1 1 1 11 1-25 1 22 1-41 1 25 1 29 1-37 1 25 1-27 1 33 1 6 1-35 1-17 1-8 1 51 1 33 1-23 1-30 1-19 1-13 1 22 1 0 1-56 1 28 1 43 1-62 1 6 1 22 1-6 1-17 1 47 1-32 1-15 1 42 1-21 1 20 1-2 1-4 1 16 1-32 1 22 1 10 1-17 1 13 1 17 1-4 1-18 1-16 1 29 1-12 1 28 1-59 1 36 1-14 1 24 1-9 1-13 1 7 1-18 1 14 1 12 1 19 1 28 1-39 1 28 1-50 1 16 1-10 1 8 1-35 1 27 1 43 1-41 1 6 1 6 1-3 1-8 1 48 1-32 1 2 1-3 1 7 1-13 1 9 1 15 1 0 1-43"/>
<path vector-effect="non-scaling-stroke" d="M0 328l1-8 1-14 1 77 1-66 1-13 1 21 1-40 1 58 1-38 1 16 1-20 1-2 1 1 1-2 1 15 1 35 1-33 1-48 1 65 1-23 1 26 1 5 1 30 1-14 1-27 1-13 1 7 1-14 1 36 1-45 1 26 1 11 1-21 1 55 1-31 1-50 1 58 1-9 1-23 1-25 1 57 1-11 1-19 1 9 1 62 1-59 1-20 1 34 1-43 1 16 1 18 1 9 1-37 1 9 1-15 1 31 1-7 1-40 1 40 1-11 1 46 1-40 1 37 1-45 1-6 1 3 1 56 1-46 1 6 1-25 1 89 1-4 1-62 1-29 1 5 1 22 1 14 1-5 1 26 1-38 1 0 1-36 1 55 1-30 1-10 1-15 1 18 1 13 1 7 1 21 1-18 1 5 1-19 1-23 1 9 1-18 1 7 1 81 1-9 1-12 1-36 1 4 1 4 1 4 1 47 1-11 1-4 1-30 1 38 1-47 1-3 1 30 1-64 1 52 1-27 1 17 1 4 1-24 1-24 1-10 1 24 1 9 1 7 1 32 1-41 1 41 1-3 1 27 1-110 1-5 1 128 1-72 1 8 1-9 1-24 1-8 1 30 1-60 1 63 1 25 1 3 1-5 1-55 1 69 1-32 1-19 1-20 1 68 1-84 1-4 1 35 1 14 1-2 1-64 1 78 1-10 1 26 1-29 1-7 1-7 1 1 1 30 1-65 1-23 1 65 1-67 1 38 1 37 1-45 1 2 1 29 1 36 1-32 1-4 1-19 1-6 1 25 1-19 1 52 1-40 1 8 1-27 1-33 1 79 1-25 1 31 1-41 1 21 1-47 1 1 1-8 1-23 1 28 1 38 1-39 1 58 1-46 1-9 1 44 1-33 1 21 1-23 1-18 1 67 1-8 1-23 1 12 1 10 1-6 1-61 1 65 1-25 1 46 1-51 1 21 1 18 1-21 1-5 1 19 1-19 1-9 1 38 1-31 1 23 1 0 1-20 1 36 1-28 1-6 1 53 1-14 1 6 1 4 1-28 1-9 1 33"/>
<path vector-effect="non-scaling-stroke" d="M0 308l1 26 1-40 1 29 1-19 1 50 1-10 1-25 1-21 1 5 1-62 1 50 1-32 1 40 1-5 1 25 1-57 1 36 1 21 1-21 1 3 1-5 1 47 1-21 1 29 1-73 1 39 1-30 1 15 1 0 1 3 1 1 1 0 1 12 1-37 1 12 1 22 1-11 1 3 1-3 1 3 1 1 1 0 1-13 1 24 1-46 1 69 1-49 1-19 1-17 1 52 1-35 1 30 1 33 1-38 1-20 1-5 1 24 1-10 1 75 1-37 1 30 1-29 1-57 1 9 1 5 1 31 1-50 1 22 1 3 1 24 1 25 1-6 1-58 1-20 1 72 1-56 1-7 1 84 1-63 1 56 1-67 1 54 1-31 1 15 1 7 1 30 1-23 1 0 1 29 1-34 1 73 1-82 1-26 1 34 1-7 1 56 1-62 1-21 1 10 1 69 1-22 1-16 1-15 1 12 1 16 1-12 1 35 1-81 1 86 1-23 1-59 1 56 1-65 1-21 1 52 1 16 1-37 1 15 1-45 1 106 1-14 1 44 1-30 1-57 1 52 1-46 1 20 1 28 1-65 1 42 1-5 1-60 1 32 1 19 1 11 1-44 1-11 1 21 1 3 1-28 1 8 1 34 1 8 1 12 1-47 1 16 1-36 1 23 1-30 1 49 1-15 1-10 1-4 1 39 1 11 1-67 1 131 1-90 1-23 1 10 1-4 1-37 1 61 1-28 1 45 1-68 1 35 1-8 1 12 1-8 1 39 1-11 1-18 1 58 1-101 1 12 1 35 1-11 1 17 1-35 1 21 1-15 1 16 1 36 1-18 1 32 1-75 1 29 1 7 1 56 1-94 1 18 1 8 1-11 1-2 1 47 1-10 1 8 1-4 1-47 1 60 1-4 1 31 1-44 1-22 1 47 1-29 1-12 1 25 1-21 1 7 1-7 1 29 1-9 1 48 1-45 1-15 1-8 1 19 1 18 1-21 1-39 1 39 1-18 1 3 1-2 1 8 1 19 1 7 1-12 1-25 1 9 1 10 1-44 1 28 1 9"/>
<path vector-effect="non-scaling-stroke" d="M0 359l1-44 1 49 1-55 1 8 1-8 1-14 1 27 1-32 1 32 1-23 1 22 1 12 1-48 1-5 1 37 1 11 1 20 1-40 1 27 1 10 1-73 1 85 1-10 1-18 1 6 1 17 1 13 1-93 1 23 1 16 1-9 1 34 1 11 1-43 1 28 1-27 1-12 1 24 1-46 1 28 1-15 1 36 1 22 1-17 1 19 1-15 1-32 1 35 1-63 1 35 1 19 1 21 1-25 1 8 1-41 1 6 1 48 1-50 1 64 1-39 1-78 1 66 1-9 1 29 1 1 1 36 1-57 1 40 1 1 1-28 1 0 1 3 1-25 1 32 1-4 1-59 1 108 1-54 1 34 1-44 1 30 1-1 1-49 1 4 1 66 1-24 1-65 1 86 1-53 1 10 1 13 1-34 1 20 1-4 1 23 1-6 1-25 1 13 1 2 1 16 1-7 1-19 1 67 1-38 1 4 1-5 1-11 1 4 1 34 1-20 1-10 1-4 1 1 1-31 1 55 1-5 1-56 1 11 1-15 1 24 1 2 1-8 1-3 1 63 1-68 1 23 1 34 1-107 1 75 1 19 1-95 1 63 1-48 1 12 1 9 1 42 1-14 1-46 1-8 1 30 1 0 1 19 1-22 1 30 1-10 1 14 1 8 1-31 1-1 1 28 1-39 1-6 1 5 1 77 1-43 1-12 1-30 1 7 1-7 1 63 1-20 1 20 1-24 1-16 1 1 1 6 1 26 1-83 1 67 1-15 1 42 1-41 1-8 1-46 1 39 1 16 1-13 1-26 1 11 1 32 1-44 1 52 1-13 1 2 1 34 1-24 1-31 1 38 1-19 1-23 1 17 1 13 1 10 1-12 1-45 1 70 1-45 1-9 1 22 1 14 1-33 1 16 1 3 1-25 1 3 1 6 1 23 1-56 1 23 1 2 1 10 1-49 1 63 1-6 1 8 1-9 1-10 1-37 1 47 1 6 1-33 1-6 1 21 1 51 1 4 1-53 1 6 1-10 1 57 1 5 1-35 1 32 1-5 1-4 1 19 1 7"/>
<path vector-effect="non-scaling-stroke" d="M0 321l1 33 1-66 1 23 1-9 1-4 1-57 1 93 1-6 1-1 1-56 1 35 1 4 1 22 1-27 1 36 1-27 1 22 1-67 1 42 1 44 1-22 1 13 1 8 1-43 1 35 1-59 1 45 1-4 1-30 1 28 1 12 1-75 1 53 1 23 1-57 1-7 1-2 1 13 1-15 1 78 1-40 1 5 1-6 1 16 1-40 1 19 1 53 1-54 1 54 1-45 1-14 1 33 1 22 1 14 1-80 1 41 1 17 1 28 1-89 1 61 1 1 1-9 1-10 1-30 1 31 1-12 1 14 1 34 1-24 1 20 1-43 1-13 1 43 1-41 1 23 1-40 1 21 1 8 1-18 1 42 1 2 1-37 1 9 1 32 1-53 1 50 1-53 1 37 1-40 1 47 1-39 1 5 1 20 1 8 1-20 1-6 1 36 1-29 1-10 1 16 1 22 1-9 1-72 1 72 1-5 1 5 1-36 1 4 1 15 1 5 1-18 1 5 1 50 1-32 1-9 1-25 1-39 1 61 1-21 1-4 1 40 1-60 1 9 1-5 1 68 1-23 1 20 1-40 1 9 1-20 1 26 1-36 1 45 1-52 1 66 1-63 1 46 1 22 1-30 1-36 1 83 1-51 1 13 1-27 1 58 1-57 1 16 1 21 1-41 1 38 1-30 1 37 1-4 1-57 1 30 1-15 1-4 1-3 1 4 1-12 1-22 1 64 1-67 1-3 1 3 1 17 1-16 1 82 1-37 1 31 1-61 1 20 1-11 1 39 1-12 1-21 1-34 1 37 1-20 1-9 1-21 1 45 1 55 1-57 1 18 1-48 1-3 1 17 1 34 1-31 1-1 1 22 1 11 1-48 1 41 1-1 1-25 1-20 1 29 1-3 1 21 1-2 1-43 1 12 1 3 1 13 1-30 1 38 1-21 1-1 1 27 1-3 1-17 1-18 1 34 1-22 1 44 1-46 1-6 1 11 1-25 1 33 1 26 1-33 1 40 1-23 1 10 1-8 1-10 1-20 1 53 1-23 1 19 1-16 1-26 1 45"/>
<path vector-effect="non-scaling-stroke" d="M0 351l1-75 1-7 1 56 1 10 1-84 1 59 1-10 1-15 1 11 1-4 1 11 1 23 1-5 1 44 1-121 1 56 1 31 1-62 1 20 1 18 1-14 1 9 1 41 1-29 1 6 1-3 1-24 1 40 1-38 1-14 1 18 1 14 1-17 1-33 1 12 1 7 1-20 1 11 1 0 1 6 1 4 1 17 1-16 1 4 1 25 1-59 1 50 1 8 1-53 1 10 1 44 1-9 1-65 1 74 1-18 1-19 1-27 1 42 1-2 1 17 1-45 1-11 1 23 1-9 1 95 1-30 1-43 1 6 1 28 1-39 1-1 1 22 1 36 1-31 1-27 1-5 1 35 1-11 1-6 1-28 1 28 1 10 1 25 1-62 1 57 1-1 1-12 1-30 1 32 1-20 1 19 1-59 1 35 1-6 1-15 1 20 1-8 1 29 1-20 1-11 1 5 1 29 1 3 1 7 1 12 1-12 1 33 1-71 1 12 1-16 1 41 1 28 1-20 1-19 1-30 1 38 1 2 1-18 1 19 1 18 1 33 1-122 1 15 1-31 1 83 1-2 1-3 1-8 1-4 1 1 1-60 1 25 1 32 1 8 1-51 1 80 1-51 1-34 1-2 1 46 1-60 1 40 1 40 1-22 1 0 1-2 1 40 1-79 1 63 1-24 1-13 1 16 1-7 1 18 1-32 1 1 1-1 1-17 1 52 1-69 1 29 1-16 1 16 1 15 1-11 1 4 1-1 1-16 1 25 1-6 1 2 1 0 1 0 1-17 1 39 1 0 1-63 1 26 1 42 1-17 1-33 1 43 1-33 1 7 1 51 1-35 1-13 1-23 1 22 1 17 1-11 1-6 1 50 1-76 1 35 1 20 1-8 1-56 1 57 1-15 1 6 1-7 1-1 1 31 1-34 1 12 1 15 1 4 1-11 1-19 1 26 1-8 1 17 1-24 1 50 1-22 1-4 1-26 1 6 1 42 1-34 1 7 1-2 1 3 1 10 1 0 1 5 1 2 1 27 1-15 1 7 1 5 1-33 1 6 1 12 1-12"/>
</g>
<use href="#m1orange" transform="translate(1.7 -10)"/>
<g transform="matrix(3.3745 0 0 1 1115.2 0)" fill="none" stroke="#fffdf0" stroke-width="1.0" stroke-opacity="0.26" stroke-linejoin="round" id="m1cream">
<path vector-effect="non-scaling-stroke" d="M0 255l1 41 1-17 1 6 1 58 1-38 1-26 1 9 1-2 1-12 1 77 1-55 1-52 1 48 1 27 1 4 1 6 1-146 1 152 1-9 1-49 1-25 1 49 1 0 1-13 1 35 1-62 1-16 1 88 1-52 1 40 1-58 1 60 1-33 1 5 1 63 1-86 1-18 1 86 1 11 1-80 1 62 1 10 1-57 1 45 1-28 1-56 1 112 1-60 1 36 1-42 1 42 1 46 1-66 1-38 1 27 1 9 1-63 1 39 1 89 1-92 1 54 1-30 1 40 1-80 1 1 1 30 1 38 1-14 1-20 1-58 1-16 1 50 1 14 1-6 1 69 1-80 1 39 1-36 1-16 1 29 1 18 1-26 1 40 1 7 1-63 1 39 1-6 1-43 1 68 1-63 1 1 1 10 1 47 1-20 1 3 1-35 1 82 1-107 1 26 1 92 1-65 1 2 1-10 1 35 1-44 1-6 1 20 1-86 1 45 1 29 1-5 1 92 1-88 1-37 1 19 1 67 1 4 1-57 1-19 1 30 1 30 1-20 1-21 1-18 1 82 1-36 1-56 1 56 1-5 1-10 1-6 1 53 1 10 1-95 1 96 1-10 1 20 1-78 1 92 1-67 1-17 1 5 1 60 1-37 1-63 1 69 1-10 1-62 1 42 1 6 1 4 1 28 1 25 1-102 1 51 1 42 1-34 1 8 1-48 1 58 1-8 1 16 1-112 1 40 1-9 1 51 1-80 1 103 1-72 1-30 1 64 1 18 1-18 1-49 1 40 1-5 1-6 1-1 1-15 1-14 1 40 1 36 1-85 1 24 1 33 1-22 1-27 1 31 1 10 1-24 1-6 1 9 1-17 1-27 1 43 1 7 1 15 1-20 1 50 1-47 1 12 1 48 1 19 1-53 1 29 1 52 1-63 1-7 1-42 1 52 1-18 1-46 1 73 1 16 1-73 1 77 1-97 1-28 1 58 1-9 1 32 1-2 1 1 1 24 1-43 1 16 1-18 1 41 1 20 1 35 1-44 1-42 1-4 1 50 1-16 1 1"/>
<path vector-effect="non-scaling-stroke" d="M0 236l1 53 1 19 1 8 1-21 1 12 1-59 1 84 1 18 1-45 1-14 1-6 1-15 1 68 1-19 1-3 1-25 1 42 1-39 1-1 1-14 1 2 1 51 1-88 1 101 1-41 1 12 1-64 1 87 1-32 1 49 1-12 1-49 1 13 1 11 1 13 1-47 1-14 1 0 1 6 1 87 1-70 1 1 1-27 1 30 1 75 1-113 1 3 1 39 1-9 1 56 1-87 1-2 1 89 1-55 1 58 1-40 1 32 1 4 1-67 1-40 1 78 1 6 1-66 1 41 1-23 1 25 1-66 1 22 1 25 1-25 1 31 1 9 1-21 1 6 1 54 1-88 1 39 1 3 1 6 1-6 1-7 1 12 1-6 1 1 1 19 1 27 1-63 1 2 1 34 1-44 1 53 1 59 1-100 1-5 1-59 1 81 1-9 1 22 1-5 1-66 1 82 1-11 1-70 1 87 1-25 1 77 1-77 1-34 1 9 1 81 1-16 1-61 1 50 1-32 1-24 1 43 1 0 1-17 1 18 1-21 1-32 1 69 1-60 1 52 1-70 1 40 1-14 1-13 1-20 1 39 1 36 1-20 1 20 1-10 1-7 1-3 1-10 1-12 1-65 1 74 1 67 1-37 1-21 1 6 1-35 1 51 1-52 1 10 1-19 1 23 1 32 1-51 1-20 1 39 1 20 1-69 1 27 1 58 1-10 1-42 1 73 1 3 1-36 1 46 1-55 1 29 1-23 1 54 1-47 1 23 1-60 1-34 1 34 1 8 1 9 1 12 1-48 1 1 1 16 1 32 1 29 1-22 1-44 1 52 1-27 1-27 1 70 1 9 1-61 1-45 1 78 1-47 1-52 1 104 1-39 1 0 1 16 1 30 1-50 1 36 1 41 1-74 1 26 1-26 1 26 1-2 1-13 1 13 1 3 1 2 1-18 1 5 1 70 1-38 1-15 1-45 1 18 1 43 1-47 1 10 1 10 1 42 1-48 1-26 1 52 1-37 1-20 1 23 1 30 1-19 1-20 1 28 1 21 1-61 1-61 1 22"/>
<path vector-effect="non-scaling-stroke" d="M0 245l1 39 1 85 1-50 1 33 1-105 1 72 1-68 1 5 1 3 1-23 1 101 1-60 1 91 1 3 1-55 1 12 1-14 1 54 1-55 1 34 1-17 1-48 1 66 1-26 1 15 1-98 1 17 1-8 1 71 1-13 1-9 1 15 1-90 1 108 1-12 1-22 1 12 1-6 1 6 1-61 1 61 1-20 1-36 1 36 1-43 1 44 1 6 1-32 1 53 1-74 1 114 1-59 1-40 1 20 1 33 1-42 1-19 1 31 1 30 1 14 1-97 1 82 1 14 1-39 1 48 1-51 1-27 1 5 1 38 1 7 1 65 1-14 1-77 1 22 1-17 1 7 1-23 1 46 1-6 1-32 1 39 1 43 1-92 1-1 1 99 1-76 1 3 1 25 1-67 1 66 1 9 1-35 1 20 1-16 1 14 1-60 1 56 1 79 1-60 1-53 1 2 1 50 1-41 1 26 1-39 1-72 1 47 1 107 1-59 1-15 1-21 1 97 1-17 1-9 1 16 1-32 1 0 1 36 1 8 1 8 1 44 1-102 1-55 1 75 1-32 1 56 1-16 1-38 1 14 1-4 1 57 1-40 1-39 1 52 1-42 1 15 1 28 1-42 1 6 1 55 1-27 1-27 1 49 1-29 1-11 1-63 1 104 1-64 1-20 1 19 1 19 1 3 1-27 1-42 1 59 1 24 1-25 1 3 1 45 1-65 1 33 1-86 1 49 1 58 1-70 1-19 1 48 1 48 1-23 1 10 1-31 1 19 1-11 1 6 1-42 1 3 1-3 1 1 1-17 1 23 1 21 1-14 1 36 1 13 1-28 1-33 1 63 1-53 1-2 1 102 1-30 1 17 1-27 1-69 1 77 1-109 1 90 1 7 1 18 1-52 1 30 1-33 1-35 1 27 1-31 1 47 1-1 1-6 1-4 1-35 1 92 1-31 1-32 1 17 1-36 1 69 1-67 1-14 1 85 1-29 1 18 1-91 1 20 1 20 1 35 1 15 1-65 1 76 1-18 1-25 1-12 1 79 1-113 1 66 1-16 1-35"/>
<path vector-effect="non-scaling-stroke" d="M0 246l1 45 1 20 1 16 1-52 1 82 1-78 1 64 1-36 1-23 1 12 1 27 1-31 1 47 1 43 1-43 1-58 1 52 1-12 1-33 1 31 1 10 1-49 1 62 1-13 1-13 1 18 1-62 1 61 1-59 1 8 1-13 1-12 1 100 1-41 1 0 1 3 1-23 1 25 1-7 1-33 1 8 1 4 1-14 1 22 1-57 1 36 1 9 1 11 1-49 1-24 1 70 1 12 1-28 1 49 1-34 1 4 1 8 1-5 1-54 1 32 1-31 1 8 1 40 1 42 1-21 1-78 1 113 1-66 1 25 1-18 1 64 1-74 1-2 1 56 1-52 1-31 1 19 1 103 1-111 1 67 1 15 1-44 1-1 1 50 1-73 1 42 1-51 1 37 1-99 1 25 1 84 1 6 1-44 1-6 1 60 1-49 1-17 1 57 1-81 1 86 1-83 1 40 1 0 1 15 1-35 1 49 1-17 1-14 1-10 1 46 1-18 1 12 1-36 1 31 1 47 1-54 1-57 1 36 1 43 1 12 1-36 1-13 1-22 1 29 1-9 1 70 1-48 1-8 1 39 1-34 1 65 1-63 1-70 1 66 1 3 1-12 1 14 1-50 1 10 1 3 1-2 1 31 1-57 1 46 1-28 1 16 1-12 1 76 1-81 1-43 1 54 1 31 1-3 1 31 1-31 1-40 1 109 1-104 1 7 1 27 1 38 1-40 1-8 1-21 1 36 1-31 1 83 1-43 1-40 1 26 1 6 1-135 1 151 1-40 1 50 1 14 1-48 1-10 1 33 1-18 1-24 1 41 1-37 1-16 1 55 1-21 1 75 1-93 1 9 1-33 1 42 1-10 1 17 1-2 1-37 1 54 1 1 1-46 1 47 1-30 1-13 1 39 1 22 1-82 1 44 1-52 1-6 1-7 1 41 1 67 1-16 1-26 1-3 1 53 1-82 1-25 1 43 1 24 1-7 1-60 1 22 1 40 1-40 1 21 1-33 1 9 1 60 1-67 1-21 1 135 1-59 1-38 1 28 1 62 1-114 1 27"/>
<path vector-effect="non-scaling-stroke" d="M0 288l1 36 1-3 1-88 1 61 1-32 1 31 1 27 1 21 1-13 1-9 1-4 1-37 1 32 1-30 1-10 1-3 1 33 1 0 1-5 1-46 1 72 1 16 1-92 1 64 1-63 1 61 1-22 1 50 1-77 1 41 1 47 1 1 1-34 1-52 1 35 1 47 1-91 1 107 1-66 1 38 1-63 1-20 1 43 1 45 1-20 1 4 1-11 1 20 1-39 1 20 1-1 1-51 1 53 1-37 1 46 1-26 1-25 1 45 1-29 1-16 1 61 1-54 1 34 1-23 1 8 1 14 1-45 1-59 1 131 1 7 1-42 1 25 1-2 1-70 1 29 1 37 1-31 1 16 1-44 1 32 1 42 1-42 1 6 1-31 1 92 1-59 1-19 1 32 1 16 1-40 1-40 1 47 1 49 1-26 1 37 1-62 1-11 1 37 1 1 1-46 1 30 1 62 1-56 1-26 1 36 1 16 1-37 1-4 1-22 1-29 1 97 1-47 1 2 1-28 1 68 1-50 1 12 1 64 1-41 1-17 1 58 1-25 1 39 1-52 1 1 1 5 1-69 1 68 1-25 1 24 1-15 1 6 1 60 1-67 1-51 1 14 1 5 1 17 1-82 1 62 1 41 1-70 1 64 1-99 1 120 1 0 1-61 1 9 1 20 1-58 1 96 1-12 1-66 1-6 1-5 1 13 1 5 1-19 1 2 1 94 1-41 1-48 1 46 1-35 1-15 1 10 1 94 1-55 1 25 1-57 1 48 1 35 1-59 1 22 1 31 1-60 1 16 1-30 1 18 1 7 1-26 1 9 1 8 1 4 1 63 1-64 1-15 1-51 1 20 1-10 1 112 1-41 1-8 1-29 1-25 1 80 1-35 1 30 1-83 1 79 1-47 1 65 1-87 1 51 1-53 1 76 1-11 1-93 1 93 1 25 1-81 1 2 1 39 1 34 1 10 1-55 1 53 1-23 1 10 1 33 1-86 1 56 1-72 1 90 1-93 1 75 1-43 1-16 1 57 1-82 1 6 1 46 1 26 1 0 1-65 1 38"/>
<path vector-effect="non-scaling-stroke" d="M0 273l1 97 1-39 1 6 1-30 1 6 1 42 1-63 1 36 1-30 1 28 1-78 1 10 1-7 1 5 1 50 1-15 1-35 1 22 1-5 1 93 1-87 1-20 1 2 1 87 1-76 1 22 1 7 1 14 1-58 1 61 1-36 1 61 1-112 1 13 1 7 1 93 1-90 1-25 1 83 1-99 1 50 1 38 1 15 1 4 1-61 1 14 1 62 1-2 1-66 1 3 1 15 1 54 1-37 1 4 1-12 1-2 1 59 1-34 1-5 1 21 1 41 1-59 1 1 1-52 1-51 1 65 1 64 1-20 1-33 1 46 1-87 1 43 1 3 1 56 1-30 1 47 1-58 1 35 1-27 1 49 1-81 1-42 1 66 1 10 1 35 1-60 1-20 1 71 1 24 1-90 1 30 1 33 1-97 1 104 1-55 1-5 1 30 1-54 1 0 1 34 1 11 1-3 1 77 1-13 1-55 1-34 1 33 1-37 1-21 1 15 1-81 1 109 1 32 1-35 1 9 1 8 1-40 1 14 1 24 1-42 1 54 1 20 1-48 1 57 1-53 1 52 1-23 1-19 1 23 1-31 1-34 1 55 1-99 1 53 1 39 1-32 1-16 1 38 1 30 1-133 1 130 1-33 1-16 1-38 1 82 1-26 1-20 1 26 1 15 1-24 1 11 1-25 1-6 1-5 1 45 1-22 1-32 1 91 1-90 1 40 1-62 1 44 1-17 1-7 1 29 1 28 1 17 1-20 1-58 1 8 1-14 1 21 1 17 1-45 1 85 1-17 1-59 1 9 1 14 1-26 1 66 1-20 1-35 1 27 1 24 1-36 1 79 1-4 1-59 1-6 1 53 1-32 1 23 1-78 1 1 1 8 1 7 1-6 1-21 1 38 1 26 1-17 1 14 1 21 1-84 1-3 1 12 1 20 1 25 1 41 1-35 1-24 1 83 1-45 1-8 1-9 1-56 1 48 1 51 1-61 1 16 1-2 1 25 1-64 1 39 1 41 1-71 1 44 1-23 1-26 1 54 1-24 1 15 1 16 1-31 1-36"/>
<path vector-effect="non-scaling-stroke" d="M0 225l1 98 1-40 1-20 1-29 1 64 1 16 1-46 1 16 1 33 1 21 1-108 1 58 1 18 1-1 1 37 1-12 1-66 1 30 1-31 1 21 1-3 1 32 1-18 1-20 1 20 1-63 1 77 1-68 1 38 1 5 1-6 1-2 1-13 1 61 1 9 1-75 1 61 1-30 1 12 1-20 1 41 1-21 1-39 1 55 1-18 1-12 1-17 1 23 1-60 1 32 1 26 1-14 1 33 1 0 1-18 1 1 1-10 1 18 1-10 1-8 1-29 1 49 1 75 1-94 1 28 1-17 1-38 1 67 1-46 1 73 1-53 1 23 1-71 1-7 1 66 1 26 1-48 1 19 1 69 1-38 1-16 1-11 1-14 1-22 1 28 1-37 1 63 1-14 1-49 1 58 1-48 1 56 1-87 1 103 1-77 1 40 1 1 1-65 1 65 1-40 1 103 1-41 1-39 1 74 1-50 1-31 1-2 1-1 1-44 1 129 1-66 1 20 1-6 1-24 1-34 1 77 1-48 1 0 1 50 1-93 1 8 1 36 1 22 1-27 1 26 1 9 1-4 1 28 1-30 1-1 1 54 1-75 1 15 1-23 1 61 1-81 1 34 1 11 1 7 1-18 1-41 1-18 1 104 1-88 1 8 1 47 1-39 1 16 1 31 1 5 1-11 1 8 1-14 1 15 1-60 1 2 1 21 1 37 1-28 1 0 1 30 1-19 1-16 1-5 1-21 1 55 1-20 1 68 1-68 1 70 1-84 1 13 1 55 1-30 1-58 1 31 1-16 1 12 1-21 1 34 1-74 1 88 1 19 1 22 1-68 1 25 1-36 1 19 1-2 1 38 1-51 1 22 1 38 1-34 1 23 1 13 1-17 1-27 1 8 1-30 1-22 1 29 1 4 1 28 1-10 1-39 1 66 1-40 1 41 1-1 1 16 1 12 1-26 1-72 1 15 1-23 1 32 1 3 1 36 1-40 1-35 1-28 1 75 1 2 1 13 1-40 1-9 1 32 1-63 1 70 1 18 1-26 1 41 1 19 1-42 1-47"/>
<path vector-effect="non-scaling-stroke" d="M0 351l1-64 1-27 1 11 1-2 1 26 1 38 1-52 1 42 1-40 1-3 1 8 1 51 1-97 1 44 1 18 1 2 1-4 1-37 1 65 1-82 1 30 1 57 1-44 1 78 1-31 1 24 1-90 1 33 1 2 1 3 1 10 1 15 1 30 1-95 1 24 1 14 1-16 1 19 1-7 1-12 1 34 1-84 1 81 1 14 1-82 1 60 1 10 1-62 1 68 1-44 1 69 1-3 1-83 1 62 1-36 1 10 1-71 1 68 1 18 1 31 1-20 1-30 1-45 1 59 1 8 1 22 1-20 1-58 1 14 1 52 1 4 1-85 1 54 1-31 1 73 1-100 1-7 1 50 1 38 1 28 1-62 1 30 1-13 1 22 1-80 1 46 1 27 1-43 1 52 1-8 1-5 1-9 1 62 1-29 1-23 1 19 1-32 1-39 1 40 1-12 1-4 1-44 1 54 1-13 1 7 1-12 1-11 1 104 1-81 1-2 1-45 1 118 1-39 1-24 1-71 1 113 1-43 1 59 1-72 1 27 1-66 1 20 1 22 1 22 1-85 1 110 1-17 1 29 1-114 1 109 1-85 1 14 1 2 1 67 1-46 1-35 1 37 1 30 1-44 1-35 1 45 1 2 1 39 1-79 1 26 1 7 1 23 1-4 1 8 1-14 1-56 1 48 1-20 1 17 1 55 1-83 1 8 1 34 1-6 1-59 1 63 1 28 1-34 1-18 1 30 1 24 1-16 1-62 1 60 1-24 1 65 1 4 1-33 1 9 1-35 1 6 1 40 1 14 1-42 1-16 1 14 1 5 1-46 1 67 1-16 1-24 1 3 1-11 1 48 1-32 1-21 1 12 1-16 1 29 1-29 1 32 1-26 1-20 1 44 1-26 1-3 1-2 1 11 1-49 1 19 1-31 1-8 1 100 1-74 1-10 1 105 1-66 1-38 1 53 1 12 1-48 1 13 1 28 1-25 1 15 1 9 1 23 1-57 1 100 1-84 1 39 1-70 1 41 1-35 1-48 1 71 1 14 1 26 1-131 1 81 1 75"/>
</g>
<g transform="matrix(3.3745 0 0 1 1115.2 0)" fill="none" stroke="#f06068" stroke-width="1.0" stroke-opacity="0.11" stroke-linejoin="round" id="m1red">
<path vector-effect="non-scaling-stroke" d="M0 303l1 11 1-26 1 23 1-6 1 6 1 0 1-12 1 7 1 5 1-12 1 15 1 15 1-38 1 6 1 21 1 3 1-24 1 28 1-2 1 7 1-16 1 7 1 16 1-22 1 4 1 10 1-15 1 10 1 27 1-26 1-8 1 32 1-1 1-40 1 43 1-24 1 1 1 4 1-6 1-2 1-18 1-5 1 21 1 6 1-3 1-3 1 10 1-18 1 22 1-20 1 23 1-10 1-9 1 19 1-39 1 12 1-2 1 16 1 28 1-52 1 38 1-4 1-13 1 1 1-11 1 42 1-40 1 37 1-27 1 0 1 3 1-1 1 13 1-13 1-1 1-31 1 18 1 13 1-40 1 35 1-18 1 0 1-14 1-2 1 21 1-11 1 18 1-21 1-12 1 6 1 0 1 7 1 9 1-9 1 1 1-2 1 17 1 2 1-14 1 15 1-25 1 32 1-15 1-7 1 0 1 17 1-16 1-7 1 22 1-18 1 39 1-16 1-10 1 18 1-5 1 12 1-3 1 1 1 2 1-12 1 2 1-3 1-21 1 11 1-7 1 9 1-19 1 34 1 0 1 17 1-25 1 6 1-22 1 20 1 33 1-44 1 18 1 0 1-5 1 20 1-3 1 4 1-3 1 7 1 1 1 2 1-29 1 28 1-18 1-13 1 9 1-7 1 20 1-2 1 1 1-12 1 6 1-1 1 2 1 5 1-10 1 21 1 10 1-5 1-2 1-12 1 21 1-24 1-18 1 29 1-3 1 9 1-8 1-8 1-7 1 17 1-1 1-13 1 43 1-17 1-13 1 3 1 14 1-11 1 9 1-14 1-3 1 6 1 6 1-15 1 9 1 18 1-7 1 3 1-7 1-14 1 27 1 9 1-27 1-4 1 14 1 1 1-1 1 5 1-10 1 21 1 1 1-25 1 17 1-19 1 16 1-8 1 1 1-2 1 7 1 15 1-10 1-7 1 10 1-2 1-21 1 31 1-7 1-17 1 21 1 1 1-37 1 30 1-13 1 17 1-21 1 5 1 13 1 17 1 0 1 23"/>
<path vector-effect="non-scaling-stroke" d="M0 300l1 15 1 5 1-24 1 0 1-2 1 1 1 13 1-12 1 0 1-11 1 9 1-26 1 8 1 22 1-29 1 23 1-1 1 0 1 27 1-17 1-8 1 0 1-13 1 34 1-19 1 5 1 26 1-2 1-35 1-10 1 30 1 5 1 3 1-14 1-7 1-14 1 27 1-8 1 15 1-3 1-29 1 28 1 23 1-2 1-8 1-25 1 38 1 6 1-14 1-2 1-12 1 9 1 4 1 3 1-7 1-16 1 9 1-3 1 11 1-19 1 13 1 22 1-21 1-17 1 2 1 3 1-8 1 10 1-3 1 2 1 9 1-1 1-18 1 1 1 0 1 2 1 23 1-10 1-30 1 6 1 46 1-29 1 16 1-13 1 18 1-15 1-7 1 10 1-26 1-8 1 34 1-9 1 17 1-57 1 12 1 27 1 18 1 6 1-27 1 2 1 20 1 1 1-5 1 18 1-17 1 11 1-7 1-1 1 4 1 19 1-32 1 1 1 9 1-10 1 3 1 14 1-2 1-42 1 29 1-23 1 27 1-14 1-8 1 10 1-7 1 32 1-1 1-9 1-20 1 4 1 15 1-9 1 11 1-5 1 14 1-24 1 4 1-18 1 7 1-3 1 17 1-6 1 10 1 6 1 2 1 21 1-24 1 8 1 10 1-4 1-8 1-5 1 9 1 15 1-16 1-10 1 18 1 19 1-35 1 22 1-5 1 6 1-24 1 36 1 0 1-26 1 23 1-20 1 1 1 19 1-7 1 0 1 4 1 6 1-14 1 3 1 6 1-3 1-15 1 10 1 4 1-5 1-8 1 3 1 12 1 13 1-19 1 5 1 35 1-28 1 2 1-3 1 26 1-30 1-14 1 11 1 30 1 16 1-41 1 2 1 5 1 3 1 6 1-19 1 29 1 13 1-20 1 29 1-19 1 1 1-6 1 3 1-4 1 2 1 7 1-4 1 13 1-8 1 10 1 10 1-5 1 3 1 11 1 2 1-4 1 23 1-11 1 20 1-9 1 8 1-10 1 15 1 5 1-5 1 29 1 14"/>
<path vector-effect="non-scaling-stroke" d="M0 281l1 29 1-20 1 2 1 8 1 1 1-7 1 2 1-8 1 6 1 2 1-1 1 13 1 0 1-68 1 32 1 49 1-26 1-18 1 1 1 34 1-22 1-8 1 20 1 16 1-47 1 66 1-3 1-27 1 12 1-17 1 15 1-16 1 0 1 22 1 14 1-41 1 29 1-5 1-17 1-5 1 16 1-9 1 10 1-8 1-31 1 29 1-13 1 4 1 18 1 5 1-24 1 21 1 5 1-12 1 42 1-36 1 14 1-2 1-31 1 24 1 15 1-14 1-20 1 32 1 3 1-22 1 35 1-39 1-17 1-7 1 37 1-1 1-10 1 11 1-4 1-17 1 23 1 17 1 8 1-6 1-11 1-44 1 39 1-11 1 7 1 3 1 10 1-22 1-11 1 23 1 18 1-9 1-21 1 32 1-58 1 44 1 2 1 1 1-2 1-28 1-10 1 16 1 5 1-8 1-4 1 29 1-14 1 6 1-16 1 42 1-26 1 2 1-9 1 13 1-11 1 18 1-11 1 2 1-14 1 0 1 17 1-26 1 25 1-30 1 35 1-24 1 29 1-20 1 2 1-2 1 11 1-1 1-30 1 20 1-10 1 36 1-28 1 9 1-13 1 30 1-20 1 15 1-29 1 36 1-25 1 23 1-16 1 0 1-2 1 7 1 10 1-4 1 1 1-9 1 16 1-6 1-5 1 18 1-5 1-3 1-27 1 40 1-26 1 18 1-28 1 25 1 1 1-1 1-27 1 39 1-14 1-10 1 7 1 14 1-6 1-3 1-14 1 2 1 16 1 6 1-13 1-13 1 8 1 11 1 13 1-14 1-19 1 16 1-10 1 6 1 3 1 9 1 11 1-2 1-10 1 16 1 9 1-18 1 19 1-19 1-9 1-24 1-9 1 44 1-22 1 33 1-11 1-2 1 7 1-28 1 25 1-5 1 5 1-13 1 30 1-20 1-7 1 8 1-15 1 11 1 27 1-22 1-19 1 28 1-18 1 23 1 8 1 5 1-6 1-26 1 17 1-4 1 7 1 9 1-4 1 10"/>
<path vector-effect="non-scaling-stroke" d="M0 323l1-3 1-1 1 2 1 8 1-33 1 41 1-12 1-8 1-32 1-1 1 19 1-2 1 15 1-18 1 19 1 4 1-38 1 16 1 46 1-50 1 3 1-2 1-5 1 22 1-8 1-8 1-11 1 11 1 19 1 8 1-29 1 18 1 11 1 3 1-14 1 6 1-5 1-3 1-7 1 22 1-4 1-10 1-12 1 4 1 20 1-21 1 35 1-16 1 13 1-27 1-21 1 37 1 9 1-12 1-1 1-37 1 44 1 1 1-11 1-4 1-1 1 26 1-20 1-25 1 44 1-45 1 32 1-50 1 11 1 14 1-15 1 0 1 36 1-39 1 21 1-4 1 9 1 27 1-29 1 10 1-5 1-14 1-9 1 6 1 24 1-5 1 3 1 9 1-9 1-9 1-9 1-6 1 31 1-13 1 8 1 6 1-7 1 1 1 26 1-40 1 11 1-21 1 19 1 0 1 6 1 8 1-22 1 17 1 11 1-7 1-2 1 9 1 16 1-12 1-22 1 2 1-10 1 20 1-2 1-13 1 21 1-15 1 13 1-11 1-8 1 22 1 1 1-5 1-27 1 12 1-19 1 30 1-4 1 0 1-13 1 5 1 5 1-14 1 16 1-13 1 0 1 3 1 39 1-7 1-17 1 22 1 4 1-20 1 3 1 29 1-18 1-3 1 11 1-25 1 6 1 1 1 22 1-15 1-11 1 18 1-1 1-20 1 42 1-34 1 12 1 1 1 19 1-24 1 2 1 20 1 25 1-32 1-9 1 18 1 4 1-2 1 0 1-20 1 34 1-7 1-13 1-3 1 15 1-15 1-14 1 23 1 15 1-10 1 13 1-8 1-1 1 3 1 18 1-10 1 1 1 21 1-7 1 27 1-26 1-8 1 25 1-27 1 29 1-30 1 26 1-22 1 18 1 7 1-22 1 5 1 5 1-11 1-4 1 4 1 6 1-10 1 16 1 1 1 1 1 8 1-7 1-10 1 19 1-1 1-4 1 25 1-30 1 15 1 4 1 18 1 1 1-10 1-2 1 7 1 13 1-29"/>
<path vector-effect="non-scaling-stroke" d="M0 309l1 15 1-18 1-5 1 28 1-26 1-15 1 1 1-3 1-15 1 11 1 40 1-42 1 8 1 11 1-15 1 24 1-30 1 52 1-34 1 0 1 8 1-11 1 5 1 13 1-35 1 28 1 15 1-6 1-13 1-1 1 2 1 8 1-12 1-1 1 5 1-9 1 6 1 10 1-7 1 19 1 21 1-47 1 11 1-18 1 27 1-2 1-3 1-27 1 14 1 10 1 1 1 19 1-22 1-7 1 15 1 4 1-23 1 9 1 20 1-20 1 37 1-20 1-9 1 5 1 17 1-8 1-1 1 17 1-18 1-2 1-12 1 8 1 13 1 7 1-21 1-2 1-10 1 19 1 10 1-26 1 19 1 9 1-8 1-1 1-14 1-3 1 7 1 7 1-10 1 7 1 2 1 2 1-7 1 1 1-4 1-4 1 13 1 21 1-31 1 13 1 20 1-31 1 4 1 36 1-35 1-6 1 18 1-18 1-3 1 3 1 3 1-7 1 18 1 8 1-14 1-22 1 39 1 4 1 16 1-4 1-34 1 13 1 14 1-27 1 17 1-7 1-4 1-4 1-6 1 20 1 14 1-15 1 12 1-10 1 7 1-18 1 35 1-15 1 7 1-5 1-11 1 4 1 13 1-22 1-1 1 18 1-22 1-12 1 9 1 4 1-22 1 13 1 2 1-8 1 3 1 4 1 16 1 8 1 5 1-20 1 5 1-6 1 7 1-15 1 14 1 3 1-1 1-2 1-1 1-9 1 9 1-8 1 19 1-22 1 9 1-25 1-16 1 40 1-18 1 14 1 5 1-20 1 7 1-17 1 15 1-1 1 2 1 3 1 19 1-37 1 35 1-5 1 0 1 20 1 13 1-15 1 16 1-1 1 26 1-15 1-14 1 15 1-12 1 7 1-14 1 12 1-18 1 3 1 20 1-4 1-3 1 11 1 18 1-49 1 28 1-8 1 13 1-1 1 6 1-13 1 29 1-9 1-10 1 23 1-24 1 21 1-18 1 14 1-2 1-25 1 23 1-8 1-8 1-9 1-10 1 24"/>
<path vector-effect="non-scaling-stroke" d="M0 300l1 15 1-15 1 28 1-20 1 14 1-21 1 35 1-36 1 6 1-8 1-23 1 27 1-11 1-8 1-27 1 27 1-24 1 52 1-22 1-5 1-2 1 0 1-16 1 50 1-20 1 10 1 14 1-30 1 9 1 18 1-15 1 4 1 5 1 12 1-22 1 6 1 8 1-24 1 3 1 25 1-38 1 5 1-3 1 12 1-7 1-7 1 38 1-47 1 38 1 6 1-24 1 23 1-30 1 26 1 5 1 4 1 7 1-11 1-24 1 31 1 6 1-27 1-7 1 8 1 29 1-11 1-8 1 16 1-16 1 9 1 4 1 4 1-25 1 47 1-12 1-29 1 9 1 31 1-29 1-50 1 54 1-15 1 20 1-30 1 16 1 12 1-24 1 5 1-6 1 40 1-16 1-11 1 7 1-1 1-6 1 2 1-5 1 11 1 10 1-8 1-27 1-1 1 15 1-2 1 2 1-15 1 20 1 9 1 0 1 21 1-43 1 19 1 2 1-17 1 26 1-8 1-30 1 37 1-16 1-6 1 10 1 0 1 14 1-5 1-9 1 0 1 7 1 6 1-42 1 15 1 8 1 6 1 21 1-14 1-20 1 26 1-8 1-6 1 1 1-5 1 4 1-6 1 15 1 3 1-7 1-6 1-5 1 7 1 8 1 24 1-4 1-12 1 13 1-13 1-6 1 24 1-2 1-14 1 26 1-10 1-1 1 2 1 10 1-2 1 13 1-15 1 22 1-2 1-8 1-10 1 13 1-6 1 18 1 11 1-30 1 20 1-23 1 31 1-20 1-21 1 8 1 13 1-16 1 6 1-19 1 13 1-34 1 29 1 3 1-10 1 15 1-9 1 2 1-6 1-10 1 8 1 13 1-3 1 24 1-22 1-4 1 5 1-2 1 10 1-8 1-2 1 9 1-8 1 1 1 2 1 7 1-17 1 9 1 3 1 5 1 10 1-16 1 14 1-8 1 17 1-20 1-3 1 14 1 16 1-5 1-6 1 26 1-28 1 12 1-15 1 4 1 8 1 3 1 14 1-10 1 2"/>
<path vector-effect="non-scaling-stroke" d="M0 296l1 9 1 14 1-8 1 5 1 11 1-11 1-5 1-12 1 7 1-18 1 5 1 0 1 16 1-15 1-29 1 32 1 20 1-10 1-16 1 14 1-15 1-5 1 15 1 5 1 15 1-7 1 15 1-40 1-11 1 31 1 7 1-13 1 13 1-18 1 26 1 24 1-25 1-6 1-4 1 17 1 5 1-18 1 33 1-42 1 14 1 11 1 9 1-2 1-26 1 7 1-8 1 5 1 9 1 20 1-34 1 12 1-1 1 18 1-37 1 56 1-27 1 18 1 21 1-6 1-31 1-16 1-3 1 12 1-4 1 2 1-21 1 21 1-5 1-10 1 26 1-9 1-43 1 29 1-37 1 31 1 20 1-19 1-4 1-12 1-10 1 5 1 16 1 2 1-23 1-17 1 30 1 5 1-11 1-1 1 26 1-24 1 0 1 14 1 8 1-21 1 21 1 29 1-33 1 35 1-34 1 2 1 32 1-51 1 9 1 23 1 2 1 3 1 4 1-5 1 7 1-4 1-34 1-2 1 2 1-9 1 12 1 12 1 4 1-11 1 31 1-38 1 1 1-5 1 27 1 6 1 3 1-5 1-24 1 34 1 3 1-15 1-3 1 7 1 24 1-12 1-19 1 17 1-11 1-8 1 18 1-6 1-6 1 17 1 16 1-25 1 22 1-16 1-3 1 9 1-5 1 7 1 13 1-9 1 5 1-7 1 7 1 21 1-17 1-1 1-23 1 8 1 7 1 3 1-11 1 19 1-5 1-11 1-16 1 20 1 10 1-6 1 24 1-36 1 12 1-1 1 12 1 12 1-19 1 23 1-3 1 0 1 11 1-31 1 28 1 7 1-3 1-12 1 2 1-7 1 0 1-9 1-16 1 19 1-29 1 27 1-12 1-4 1 10 1-1 1 16 1 1 1 6 1-12 1 6 1-14 1 20 1-7 1 8 1 8 1-1 1 2 1-9 1 11 1-2 1-22 1 17 1-14 1 13 1-4 1 3 1 17 1 27 1-27 1 17 1 13 1-10 1-7 1-2 1 11 1 3 1 8"/>
<path vector-effect="non-scaling-stroke" d="M0 321l1-5 1 3 1 7 1-5 1 2 1-4 1 2 1-11 1 34 1-44 1 19 1 17 1-20 1-21 1 11 1-12 1 5 1-8 1 15 1 25 1-10 1-32 1 34 1-25 1 1 1 22 1-18 1 2 1-9 1-17 1 30 1-15 1 25 1 3 1 6 1-30 1 47 1-25 1 12 1-5 1 15 1-7 1 4 1-31 1 6 1-5 1 27 1 20 1-20 1-9 1 2 1 11 1-23 1 25 1-17 1 26 1-15 1-12 1 10 1 13 1 18 1-21 1 2 1-9 1 11 1-30 1 27 1-16 1 9 1-26 1 55 1-4 1-3 1-38 1-4 1-6 1 7 1-9 1 9 1 11 1-20 1 45 1-23 1 18 1-3 1-32 1 5 1-8 1 8 1-4 1-2 1 21 1-12 1-8 1 11 1-9 1-9 1 8 1 17 1-40 1 13 1 32 1-14 1 17 1-13 1 1 1 2 1 15 1-13 1 13 1-10 1-3 1 8 1 16 1-14 1-7 1 1 1-10 1-6 1 37 1-24 1-2 1 6 1-4 1 2 1-14 1 14 1 28 1-16 1-1 1 12 1-40 1-1 1 17 1-11 1 13 1 12 1-24 1 8 1-13 1 20 1 12 1-23 1 19 1 5 1-9 1 18 1 4 1-17 1 1 1-4 1-15 1 13 1 25 1-4 1-14 1 18 1-35 1 21 1 7 1-19 1 6 1-10 1-5 1-5 1-14 1 27 1 10 1 13 1-24 1 20 1 0 1 13 1-5 1 10 1-26 1 56 1-40 1 1 1-2 1 9 1 4 1 0 1 1 1-5 1-2 1-1 1 2 1 18 1 6 1-25 1-8 1 17 1-1 1-9 1-8 1 1 1-1 1 3 1-8 1 38 1-16 1 6 1 6 1 3 1 6 1 0 1-8 1 10 1 6 1 2 1-10 1 7 1-8 1 3 1-4 1 3 1-11 1 9 1 4 1-13 1 14 1-1 1-13 1-18 1 12 1-2 1 35 1-12 1 16 1-36 1 22 1 6 1 2 1-5 1 17"/>
<path vector-effect="non-scaling-stroke" d="M0 270l1 39 1-14 1-5 1-22 1 13 1 15 1 8 1-11 1-20 1 8 1-6 1 19 1-19 1 16 1-10 1-6 1-7 1-27 1 10 1 52 1-19 1-5 1-1 1 5 1-26 1-7 1 25 1-5 1 20 1-10 1-21 1 21 1 6 1 6 1-23 1 1 1 12 1-8 1-16 1 13 1-1 1-6 1 17 1 29 1-22 1 13 1-10 1-1 1 9 1-14 1-21 1 19 1-6 1 29 1-29 1 13 1 14 1-6 1-4 1 12 1-40 1-2 1 39 1 1 1-19 1 10 1 5 1-20 1 6 1 27 1-6 1 18 1-19 1 3 1 13 1-15 1 0 1-27 1 23 1-11 1 33 1-37 1 48 1-44 1 17 1-6 1-15 1-11 1 5 1 14 1 16 1-30 1 5 1 2 1 7 1-31 1 33 1-5 1 4 1 13 1-23 1 36 1-12 1-9 1-5 1 17 1-10 1 17 1 21 1-5 1-8 1-3 1 24 1-18 1-13 1 14 1-16 1-6 1 7 1-26 1 15 1-11 1 21 1-12 1 22 1 11 1-36 1 3 1 6 1-7 1 6 1 13 1 16 1-18 1-4 1 19 1-15 1 16 1-3 1-4 1 3 1-3 1-5 1 0 1-3 1 4 1-14 1 30 1-3 1 7 1 34 1-18 1 6 1-11 1 6 1-24 1 38 1-37 1 6 1 1 1 11 1-19 1 28 1-9 1-6 1 13 1-17 1-5 1 31 1-49 1 8 1 28 1-23 1 11 1 12 1 2 1 10 1 0 1-6 1 6 1-7 1-5 1 4 1-2 1-17 1 16 1 16 1 7 1-18 1 12 1 4 1-5 1-15 1-7 1-2 1 16 1-30 1 36 1-12 1 0 1 17 1 9 1-29 1 6 1-9 1 13 1-26 1 29 1-18 1 1 1 14 1-15 1 17 1-21 1 31 1-33 1 25 1-18 1 10 1 1 1-16 1 5 1-9 1 12 1 8 1 0 1-29 1 14 1-4 1 19 1-6 1-7 1 2 1 19 1-13 1 25"/>
<path vector-effect="non-scaling-stroke" d="M0 305l1-8 1 47 1-46 1 33 1 5 1-14 1-32 1 48 1-24 1-1 1-12 1-16 1 36 1-5 1 19 1-36 1 4 1-2 1 36 1-41 1 4 1 21 1-29 1 18 1-43 1 49 1-11 1-1 1-8 1-10 1 16 1-7 1 18 1-24 1 12 1-18 1 8 1 10 1 4 1-5 1-1 1-4 1 15 1 0 1 7 1-10 1 14 1-35 1 17 1 23 1 0 1-8 1 18 1 3 1-7 1 0 1-3 1-24 1 20 1 1 1-12 1 12 1-8 1-8 1-9 1 17 1-29 1 0 1 43 1-10 1-23 1-2 1-2 1-11 1 2 1 16 1 2 1 12 1-24 1 31 1-18 1-11 1 9 1 5 1-9 1-9 1 29 1-9 1 9 1-18 1-8 1 1 1 6 1 7 1-12 1 25 1-27 1 10 1-7 1 11 1-20 1 14 1 1 1 6 1-16 1 6 1-34 1 23 1 11 1 1 1 20 1-14 1 2 1-10 1 20 1-6 1 1 1-8 1 7 1 5 1 5 1 9 1 6 1-29 1 28 1-26 1 18 1-20 1-2 1-3 1 16 1 23 1-23 1-1 1 17 1-35 1 33 1-19 1 4 1 15 1 4 1-12 1 2 1-19 1 24 1-16 1-8 1 15 1-10 1-14 1 47 1-13 1 6 1 16 1-12 1-2 1 15 1-27 1 3 1 6 1 6 1-2 1 4 1 2 1-17 1 17 1-9 1 17 1 4 1-11 1-8 1 24 1-5 1-10 1 18 1-27 1 16 1-22 1 15 1 19 1-24 1-10 1 28 1-4 1 8 1-14 1 10 1-20 1-2 1-18 1 31 1-22 1 18 1 22 1-25 1 22 1-8 1 9 1-34 1 6 1 8 1 23 1-24 1-10 1 28 1-15 1-5 1-11 1 24 1 1 1-28 1 28 1 9 1 7 1-15 1 18 1-16 1 18 1-3 1 10 1-11 1-20 1 10 1 16 1 6 1-15 1-15 1-5 1 18 1-21 1 28 1 25 1-6 1 6 1-1 1 3"/>
<path vector-effect="non-scaling-stroke" d="M0 323l1-30 1 23 1 11 1-26 1 3 1 16 1-19 1 44 1-37 1-22 1-1 1 22 1 19 1-41 1 16 1 0 1 8 1 4 1 0 1 2 1 6 1-9 1-2 1 12 1-15 1-8 1-16 1-19 1 57 1 1 1 3 1-37 1-4 1 28 1-14 1 27 1-41 1 29 1-38 1 46 1-25 1 8 1-7 1-6 1 7 1 3 1-8 1-5 1-8 1 7 1 18 1 20 1-13 1-15 1 17 1-14 1 10 1-16 1 19 1 5 1 2 1-21 1-10 1-9 1 44 1-21 1 42 1-44 1-10 1 27 1-12 1-3 1 33 1-34 1 7 1 16 1-5 1-7 1-6 1 30 1 24 1-39 1-1 1 31 1-16 1 1 1-4 1-5 1-25 1 24 1-1 1-3 1-5 1 7 1 24 1-39 1 28 1-3 1-22 1 28 1-12 1-24 1 14 1 12 1 2 1-1 1 0 1 10 1 10 1-2 1 16 1-58 1 9 1 19 1 14 1-5 1-4 1 13 1-18 1 12 1-36 1 24 1 26 1-29 1 25 1-33 1 24 1-1 1-23 1 22 1-21 1 17 1 17 1 5 1-6 1 2 1-10 1-4 1 7 1 13 1-21 1 17 1-4 1-15 1 9 1-7 1 10 1 7 1-5 1-1 1-5 1 7 1-13 1-2 1 16 1-12 1 2 1 0 1-7 1 9 1-3 1 6 1 14 1-6 1-28 1 21 1 16 1-23 1 21 1-33 1 12 1 19 1-14 1 34 1-33 1 2 1 31 1 9 1 9 1 16 1-31 1 13 1-19 1 17 1-13 1 1 1-17 1 22 1-20 1 28 1-14 1-1 1-6 1 9 1 41 1-14 1 3 1-7 1 4 1 7 1 1 1-9 1 6 1-23 1 15 1-19 1 8 1 15 1 7 1 10 1-15 1 0 1-6 1-9 1 33 1-11 1-8 1-12 1 39 1-3 1 4 1-47 1 37 1-11 1 9 1-11 1 23 1-29 1 4 1 10 1-9 1 13 1-4 1-18 1 35 1-33"/>
<path vector-effect="non-scaling-stroke" d="M0 317l1 0 1-17 1-4 1 0 1 21 1-15 1-20 1 26 1-36 1 63 1-23 1-11 1-8 1-15 1 31 1-27 1 18 1-4 1-2 1 17 1-14 1 25 1-6 1-30 1 26 1 20 1-7 1-21 1 3 1 2 1-36 1 21 1 34 1 4 1 11 1-38 1 1 1 17 1-16 1 46 1-30 1 3 1 8 1-11 1-12 1 0 1-2 1 3 1-16 1 4 1-25 1 44 1-11 1 8 1-21 1 17 1-42 1 21 1 23 1-10 1 20 1-16 1-4 1-26 1 35 1-24 1 15 1-2 1 20 1-36 1 14 1 6 1 18 1-13 1-14 1-24 1 38 1 15 1 3 1-2 1 18 1-9 1-14 1-1 1 11 1-19 1 4 1 1 1-29 1 37 1-10 1 36 1-35 1 1 1 30 1-6 1 10 1-28 1 22 1-17 1 12 1-1 1-3 1-5 1 3 1 11 1-13 1-7 1 24 1-3 1-9 1-2 1 5 1-12 1 14 1-2 1-9 1 0 1 15 1-12 1 5 1-17 1 20 1-19 1 25 1-9 1 7 1-12 1 10 1 4 1-6 1 9 1-3 1-26 1 11 1 6 1 10 1 20 1-10 1-8 1-21 1 11 1-9 1 7 1 4 1 4 1-17 1 27 1 10 1-21 1 10 1 20 1-16 1-17 1 8 1 3 1-5 1 0 1-5 1-1 1 3 1 31 1-19 1 10 1-9 1-3 1 17 1-28 1 22 1-17 1-13 1 24 1 4 1 2 1 7 1-9 1-10 1 27 1 9 1-22 1 1 1 2 1 16 1-22 1-6 1 20 1-10 1-1 1-10 1-2 1 5 1 22 1 2 1-8 1-1 1-25 1-3 1 11 1 17 1-1 1 0 1 7 1-2 1-16 1 16 1 10 1-7 1-3 1-1 1 5 1-3 1 6 1 5 1-41 1 40 1-24 1 30 1-4 1-14 1-13 1 41 1-21 1 8 1-7 1 15 1-25 1 13 1 13 1-6 1 0 1 3 1-2 1-2 1 7 1-4 1-9"/>
</g>
<use href="#m1red" transform="translate(1.7 6)"/>
<g transform="matrix(3.3745 0 0 1 1115.2 0)" fill="none" stroke="#6cd07a" stroke-width="1.0" stroke-opacity="0.11" stroke-linejoin="round" id="m1green">
<path vector-effect="non-scaling-stroke" d="M0 298l1 8 1-8 1-8 1 14 1 6 1-8 1 22 1-27 1 11 1-1 1-21 1 19 1 6 1-19 1 17 1-6 1 11 1 1 1-9 1-7 1 23 1-22 1 12 1-8 1-21 1 7 1 26 1-17 1 12 1-24 1 14 1 9 1 1 1 6 1-24 1 32 1-17 1-8 1-4 1 0 1 7 1 2 1-16 1 5 1 10 1-3 1 2 1-4 1-4 1 19 1 13 1-24 1 4 1-18 1 13 1 7 1-15 1-3 1 2 1 10 1-2 1-10 1 15 1 11 1 4 1-11 1-14 1-2 1 21 1-3 1-11 1-2 1 1 1 0 1 5 1-2 1-10 1 26 1-18 1 3 1 21 1-33 1 12 1 1 1-4 1-11 1 43 1-20 1-2 1-5 1 6 1-24 1 13 1 19 1 5 1-4 1 3 1-6 1 1 1-13 1-5 1 10 1 13 1-15 1 7 1-15 1 36 1-31 1 3 1 4 1-6 1 13 1 3 1-9 1-17 1 22 1-3 1-1 1 11 1-22 1-17 1 25 1-4 1 1 1-4 1 0 1-11 1 7 1 6 1 3 1 0 1-5 1 7 1-7 1 15 1-7 1 8 1-1 1 10 1-4 1-1 1-2 1-3 1 12 1-8 1-8 1-4 1 20 1-4 1 18 1-10 1-12 1 5 1 2 1-14 1 15 1-7 1 20 1-21 1-2 1 3 1 6 1 7 1-10 1 10 1-4 1 8 1-16 1-2 1 9 1-5 1 3 1-11 1 14 1 15 1 5 1-10 1-5 1 20 1 1 1-19 1 14 1 4 1-13 1-3 1 17 1 8 1 12 1-15 1 2 1 7 1-3 1-17 1 16 1 36 1-29 1 10 1 9 1 1 1 10 1 12 1-4 1-1 1-5 1 21 1-18 1-3 1-11 1 36 1 9 1-28 1 4 1-5 1 2 1-19 1 33 1-12 1 10 1 1 1 8 1-5 1-4 1 2 1 23 1-17 1 5 1 11 1 16 1-19 1 13 1-5 1 15 1-18 1 6 1 7 1 4"/>
<path vector-effect="non-scaling-stroke" d="M0 318l1-20 1 3 1-8 1 14 1-20 1 15 1 0 1-25 1 28 1-2 1-9 1-4 1 21 1-3 1 18 1-19 1 4 1-3 1 15 1 2 1-7 1-8 1-7 1 5 1 2 1 2 1-2 1-3 1-6 1 0 1 1 1 0 1-2 1 12 1 5 1-12 1 30 1-24 1-1 1-9 1 19 1 15 1-25 1 14 1-13 1-21 1 26 1-6 1-10 1-10 1 11 1 16 1-2 1 0 1-18 1 26 1-20 1 9 1-8 1-3 1 18 1-22 1 4 1-16 1-2 1 16 1 14 1 7 1 4 1 0 1-2 1 18 1-23 1 2 1 22 1-22 1 8 1-11 1 16 1 9 1-29 1 14 1-12 1 2 1 3 1 7 1 10 1-13 1 8 1 5 1-2 1 13 1-18 1-1 1 12 1-11 1 7 1-12 1-1 1 9 1 11 1 3 1-21 1-14 1-2 1 24 1-2 1 4 1-34 1 41 1-4 1-5 1-3 1-17 1 16 1 5 1-2 1-1 1-12 1 4 1-6 1-5 1 10 1-25 1 28 1-13 1 20 1-1 1 1 1 3 1 0 1-13 1 10 1 8 1 17 1-11 1 7 1-1 1-8 1 5 1-12 1 10 1-24 1 14 1-20 1 9 1 22 1 0 1-23 1 1 1 12 1 28 1-7 1 3 1-6 1-5 1 7 1-12 1 10 1-10 1 15 1-16 1-9 1 14 1-6 1 15 1-2 1-1 1 18 1 0 1 15 1-19 1 4 1 1 1 3 1-3 1 14 1-25 1-1 1 20 1 17 1-32 1 11 1-9 1 3 1-9 1 26 1-15 1 21 1 1 1-18 1 14 1-18 1 21 1-4 1 19 1-5 1-12 1 26 1-18 1 2 1-34 1 40 1-6 1 5 1-19 1 22 1-31 1 23 1 12 1-24 1 5 1-19 1 13 1-11 1 30 1-18 1 20 1-8 1 15 1 0 1-1 1-8 1 10 1 15 1-12 1-3 1 11 1-16 1 17 1 14 1-17 1-1 1-1 1-5 1 14"/>
<path vector-effect="non-scaling-stroke" d="M0 282l1 37 1-22 1 27 1-7 1-5 1-12 1 0 1-9 1 26 1 1 1-18 1-6 1-5 1-1 1 4 1 13 1-23 1 2 1 22 1-9 1 10 1-28 1 36 1-13 1-19 1 14 1 2 1 1 1 13 1-3 1-7 1 6 1 12 1 18 1-50 1 38 1-7 1-10 1 24 1-25 1-4 1 24 1-31 1 35 1-28 1 5 1 21 1-15 1-28 1-2 1 6 1 11 1-17 1-4 1 16 1-9 1 24 1-37 1 14 1 13 1-22 1 21 1 3 1-4 1-8 1-3 1 22 1-19 1 20 1 0 1-7 1 5 1-10 1-13 1 22 1-16 1 13 1 5 1 1 1-7 1-1 1-11 1 5 1 8 1 29 1-24 1 1 1-4 1-20 1 28 1 10 1-3 1-3 1-4 1 6 1 15 1-15 1 9 1-22 1 6 1-7 1 22 1-3 1 4 1-9 1 11 1 1 1-5 1 7 1 16 1-18 1-7 1 13 1-14 1 2 1 10 1-14 1 1 1-12 1 11 1-11 1 3 1-1 1 27 1-9 1 3 1-6 1 8 1-6 1 8 1-22 1 16 1-15 1 15 1-6 1-9 1 17 1 3 1-6 1 8 1-37 1 28 1-7 1 0 1 2 1 6 1-5 1-14 1 16 1-3 1 18 1 7 1-25 1 19 1-4 1-12 1 16 1-24 1 21 1-1 1-5 1-4 1 21 1-43 1 23 1 6 1 6 1 3 1-10 1-6 1 12 1-24 1 2 1 27 1-17 1 10 1 7 1-4 1 12 1 3 1-5 1-12 1 12 1 14 1-5 1 8 1-9 1 13 1-18 1 21 1 18 1-9 1 2 1 11 1-12 1 19 1-14 1 7 1 12 1-20 1 11 1 11 1-13 1 9 1-7 1 4 1-6 1 6 1 3 1-8 1 11 1 25 1-5 1-3 1-3 1 24 1 5 1-3 1 7 1-5 1-6 1 17 1-21 1 8 1 25 1-25 1 14 1 20 1-11 1 4 1-19 1-7 1 2 1 7 1 4 1-9"/>
<path vector-effect="non-scaling-stroke" d="M0 316l1 1 1-9 1 0 1 22 1 3 1-30 1 17 1-18 1 18 1-3 1 5 1-10 1 6 1 0 1-13 1 26 1-23 1-17 1 28 1 3 1-18 1 6 1 8 1-1 1 0 1 5 1 1 1-1 1-9 1-10 1 30 1-20 1 8 1-33 1 49 1 8 1-30 1 1 1 14 1-15 1-10 1 7 1 20 1-8 1-8 1-7 1 19 1 6 1-7 1 11 1-8 1-7 1 24 1-5 1-20 1 5 1 17 1-23 1-8 1 7 1-6 1 15 1 2 1-31 1 18 1 8 1-18 1-1 1 26 1-13 1 6 1 3 1-28 1 15 1-19 1 26 1-18 1-1 1 23 1-42 1 18 1 5 1-5 1-1 1-7 1 6 1-9 1 10 1-11 1 9 1 13 1-5 1-2 1 12 1-7 1 14 1-3 1-9 1 6 1-25 1 27 1-8 1-12 1 0 1 25 1-6 1 5 1-1 1 26 1-29 1 3 1-3 1-12 1 5 1-18 1 10 1 6 1-4 1-24 1 5 1 15 1 6 1-5 1 8 1-4 1 3 1 2 1 15 1-17 1 1 1 3 1 12 1-29 1 20 1 16 1-4 1-3 1 2 1 18 1-13 1 5 1 4 1 7 1-11 1 2 1 0 1-15 1 31 1-15 1-1 1 5 1 34 1-18 1 2 1-9 1 13 1-14 1-12 1-6 1 1 1 15 1 14 1-27 1 8 1 14 1-14 1 11 1 17 1-17 1 11 1 7 1-30 1 20 1 21 1-26 1 1 1 16 1 14 1-8 1-7 1 2 1 8 1 4 1-12 1-2 1-3 1 13 1 14 1-15 1 2 1-14 1 19 1 11 1-20 1 12 1-10 1 0 1 30 1 4 1-16 1 18 1-8 1-3 1 12 1 6 1-15 1 0 1 10 1-19 1 15 1 13 1 6 1-26 1-1 1-5 1 6 1 28 1-8 1 4 1-13 1 17 1-4 1-2 1 23 1-6 1-6 1-7 1 23 1-25 1 29 1 11 1 6 1-3 1-13 1 16 1-10"/>
<path vector-effect="non-scaling-stroke" d="M0 325l1-45 1 42 1-19 1-11 1 9 1-18 1 43 1-27 1 5 1-8 1 14 1 4 1 11 1-25 1 9 1 3 1-5 1 14 1-26 1 10 1 24 1 1 1-12 1-15 1-7 1 24 1-36 1 31 1 6 1-11 1 6 1 2 1 8 1-3 1 14 1-12 1-8 1 4 1 4 1-16 1 9 1 0 1-18 1 20 1-2 1 14 1-7 1-19 1-2 1 3 1 13 1-35 1 24 1 9 1-9 1-12 1-16 1 19 1-2 1-1 1-5 1 13 1 21 1-26 1 7 1 23 1-6 1-6 1-8 1 10 1-20 1 44 1-10 1-9 1-9 1-6 1 16 1-22 1-2 1 13 1 0 1 21 1-29 1 5 1-1 1 15 1 14 1-9 1-20 1 8 1 13 1 2 1-15 1 5 1 6 1-18 1 0 1-4 1-1 1 15 1 9 1-12 1 10 1 4 1 4 1-12 1 13 1-24 1 15 1 6 1-33 1 13 1 14 1-5 1 8 1-12 1-19 1 14 1 15 1-20 1 15 1-13 1-19 1 39 1-8 1-23 1 12 1 13 1-6 1 5 1-12 1-2 1 6 1-4 1-31 1 55 1-8 1 1 1 0 1-19 1 13 1 0 1-8 1 16 1 3 1-9 1 0 1-10 1 12 1-2 1 6 1-5 1-11 1 2 1-13 1 9 1 12 1-9 1 19 1-21 1 16 1-16 1 15 1-28 1 33 1-16 1 17 1-18 1 9 1-6 1 8 1 11 1-7 1 1 1 11 1-2 1-13 1-10 1 14 1 17 1 9 1-29 1 4 1 18 1-6 1 1 1 4 1 10 1-9 1 7 1 10 1-11 1 24 1-7 1 13 1-2 1 11 1-7 1 18 1-7 1-9 1 3 1 5 1 0 1-6 1-7 1 10 1-3 1-1 1 6 1-10 1 14 1-22 1 25 1 2 1-10 1 9 1 26 1-24 1 11 1-10 1 3 1 1 1 0 1-2 1 9 1 4 1-11 1 0 1-2 1 13 1-2 1 12 1 1 1 12 1-11"/>
<path vector-effect="non-scaling-stroke" d="M0 333l1-23 1-1 1-8 1 23 1-27 1 29 1 4 1-17 1 1 1 7 1-4 1 16 1-17 1 2 1 25 1-26 1 17 1-25 1 12 1 1 1-4 1-8 1-8 1 25 1-21 1 24 1-16 1 9 1-17 1 12 1-1 1-19 1 15 1 16 1 3 1-11 1-5 1 2 1 9 1 20 1-22 1 0 1 2 1-21 1 6 1 12 1-9 1-10 1 20 1 8 1-6 1 1 1-5 1 0 1 9 1-25 1-6 1 16 1 1 1 3 1-5 1 1 1-8 1 44 1-23 1-13 1 0 1 3 1 12 1-11 1 20 1-27 1 4 1-5 1 13 1-16 1 17 1-10 1 7 1-11 1 3 1 18 1-12 1 24 1-18 1-10 1-14 1 15 1 1 1-3 1-11 1 5 1 18 1-16 1 15 1 8 1-7 1-15 1-6 1-16 1 9 1-4 1 3 1 8 1 9 1 5 1-8 1-9 1 2 1-4 1-12 1 6 1 6 1-5 1-17 1 36 1-27 1 22 1-26 1 15 1-6 1 30 1-5 1-32 1-9 1 20 1 8 1-1 1 14 1 5 1-27 1 9 1 12 1 8 1-27 1-3 1 40 1-23 1-14 1 2 1 27 1 2 1-2 1-3 1-16 1 19 1-10 1-5 1-8 1-1 1 18 1-24 1 10 1-8 1 7 1 11 1-4 1-36 1 53 1 13 1-22 1 4 1 7 1-8 1 6 1-3 1 14 1-18 1 15 1-4 1 19 1 0 1-6 1-11 1-6 1 19 1 6 1 0 1-8 1-14 1 35 1 1 1-16 1-3 1 23 1 1 1 4 1-11 1 24 1-4 1-3 1 12 1-24 1 14 1 3 1-6 1-7 1-1 1-1 1 12 1-7 1 14 1 1 1-17 1 19 1-4 1 19 1-4 1 0 1 3 1 7 1-8 1-4 1 22 1 17 1-22 1 4 1-1 1 8 1 9 1-4 1-4 1 10 1 5 1 2 1 6 1-9 1 5 1-12 1-6 1 20 1-3 1 21 1-10 1 6 1-10"/>
<path vector-effect="non-scaling-stroke" d="M0 314l1-11 1-6 1 22 1-18 1 7 1-1 1 15 1-6 1-7 1-11 1 32 1-31 1 14 1 8 1-13 1 2 1-16 1 16 1-11 1-11 1 17 1 30 1-37 1 20 1 4 1-10 1 34 1-40 1-7 1 22 1-9 1-4 1 1 1 3 1-8 1-19 1 15 1-3 1-8 1 27 1-18 1 24 1-20 1-4 1-11 1 40 1-24 1 5 1 11 1-35 1 35 1-10 1 0 1-3 1 11 1-18 1-2 1 5 1 1 1 11 1 1 1 1 1-12 1 8 1-7 1-13 1 0 1-4 1 12 1 8 1-1 1 5 1 13 1-7 1-9 1 0 1-1 1 11 1 1 1-10 1 1 1 6 1 13 1-13 1-1 1-2 1 24 1 2 1-21 1 2 1-9 1 4 1 25 1-16 1 14 1-11 1-5 1 3 1-8 1 9 1 12 1-19 1 4 1 3 1 4 1 9 1 8 1 5 1-13 1-2 1-13 1 2 1 18 1-29 1 16 1-1 1-5 1-21 1 34 1-9 1-6 1-3 1 18 1-27 1 18 1 2 1-16 1-6 1 26 1 5 1 3 1-11 1 8 1-22 1 14 1-10 1 6 1-1 1 15 1-16 1 28 1-18 1 1 1 10 1-24 1 41 1-17 1 29 1-35 1-31 1 19 1 13 1 19 1-21 1 0 1 17 1-20 1 6 1-5 1 6 1 6 1-20 1 13 1 6 1-12 1 16 1-1 1-13 1-12 1 3 1 22 1-8 1-8 1 21 1-8 1 0 1-6 1 16 1 5 1-15 1 33 1-16 1-3 1 0 1-1 1 10 1-18 1 16 1 27 1-19 1-11 1 15 1-20 1-7 1 11 1 9 1-8 1 7 1 11 1-4 1 15 1-3 1 0 1-10 1 31 1-9 1 4 1-13 1 14 1 3 1-21 1 15 1-3 1 11 1-8 1 9 1 3 1-7 1 20 1-9 1-12 1 31 1-11 1-1 1 28 1-17 1 17 1-36 1 2 1 7 1 5 1-6 1-5 1 14 1 8 1-2"/>
<path vector-effect="non-scaling-stroke" d="M0 283l1-8 1 21 1-4 1 14 1-17 1-11 1 2 1 15 1-5 1 6 1 28 1 1 1-9 1-26 1 2 1 14 1 13 1-13 1 7 1-9 1 12 1-5 1-4 1-19 1 43 1-10 1 1 1 1 1-28 1 3 1 19 1-4 1 2 1 16 1-4 1 12 1-10 1-7 1 12 1-12 1 23 1-6 1-28 1 21 1 5 1-6 1 11 1-40 1 25 1-14 1 7 1-12 1-8 1 20 1-10 1 20 1 15 1-29 1 2 1-15 1 33 1-17 1 6 1 21 1-27 1 26 1-13 1 6 1-26 1 15 1 1 1-4 1 3 1 5 1-14 1 4 1 0 1 5 1 12 1-19 1-1 1-2 1-2 1 11 1-3 1-7 1 10 1-13 1 6 1-4 1 6 1 11 1-12 1-5 1 3 1 12 1 15 1-35 1 14 1 19 1-9 1 1 1-20 1 19 1-7 1 14 1-10 1 10 1-4 1-4 1-11 1 2 1-10 1 9 1 1 1-3 1-2 1 5 1 2 1 3 1-19 1 14 1-7 1 5 1 8 1-11 1 10 1-4 1 0 1-1 1 20 1-18 1 1 1 3 1 1 1-7 1 3 1-5 1 29 1-1 1-33 1 17 1 14 1 8 1-14 1-11 1 2 1 13 1-1 1 6 1-8 1 5 1 4 1 0 1-6 1-1 1 9 1 6 1-2 1-2 1-3 1 21 1-10 1 6 1-19 1 4 1 22 1-10 1-14 1 6 1 3 1 2 1 11 1-9 1-15 1 16 1 1 1 7 1 1 1-16 1 11 1 21 1 0 1-1 1-2 1 12 1 15 1-1 1-2 1-33 1 12 1 0 1 19 1-7 1-2 1 0 1 0 1-18 1 32 1-12 1-1 1-5 1 23 1-4 1-8 1-22 1 24 1 21 1-8 1 1 1 16 1-3 1 0 1-2 1-3 1 2 1 8 1-4 1-2 1 5 1 6 1 13 1-5 1-9 1 9 1-9 1-2 1-2 1 9 1-4 1 6 1-1 1 1 1 0 1 3 1-20"/>
<path vector-effect="non-scaling-stroke" d="M0 315l1-19 1 14 1 14 1-6 1-5 1 7 1-15 1 5 1 5 1-5 1 12 1 0 1-19 1 7 1-10 1 3 1-7 1 6 1 7 1-1 1 13 1-14 1-7 1 3 1 20 1-2 1 6 1-5 1 7 1-17 1 14 1-16 1-11 1 4 1 25 1-22 1-5 1 21 1-10 1 11 1-34 1 14 1 22 1-11 1 2 1 6 1-3 1 5 1-9 1-28 1 46 1-43 1 14 1-15 1 24 1-19 1-7 1 18 1-9 1 16 1 14 1-26 1 21 1-39 1 11 1 19 1-26 1-13 1 21 1 18 1-18 1 29 1-29 1 7 1-7 1 3 1 17 1-11 1-12 1 12 1-7 1 12 1-3 1-12 1 10 1 6 1 31 1-38 1 9 1-4 1-13 1 13 1-1 1 12 1 7 1-12 1 4 1-5 1-12 1 16 1-18 1 13 1 10 1-13 1 8 1 4 1-11 1 13 1-18 1-7 1 4 1 6 1 9 1-10 1 6 1-3 1-1 1-8 1 23 1 4 1-9 1 0 1 1 1-12 1 16 1-1 1 17 1-23 1 11 1-14 1-2 1 7 1 11 1-13 1 13 1 7 1-6 1-5 1 10 1-23 1-5 1 33 1-23 1 26 1-30 1 22 1 17 1-16 1-12 1 17 1-3 1-9 1 3 1-6 1 2 1 23 1 5 1-28 1-6 1 4 1-14 1 12 1-9 1 2 1 1 1 8 1-4 1-7 1-13 1 29 1-11 1-10 1 33 1-7 1-1 1 6 1-13 1 24 1-5 1 0 1 6 1-16 1 13 1-1 1-5 1 24 1-10 1 1 1 5 1-13 1 19 1 12 1-1 1 7 1-3 1 22 1 0 1-4 1 11 1-8 1 4 1-6 1 17 1-8 1 13 1 10 1-3 1-11 1 19 1-11 1 5 1-8 1-8 1 9 1-14 1 13 1-3 1 3 1 25 1-16 1-4 1-4 1-4 1-18 1 14 1 8 1-20 1 2 1 4 1 16 1-4 1 1 1-1 1 3 1 1 1 1"/>
<path vector-effect="non-scaling-stroke" d="M0 306l1-8 1 25 1-26 1-6 1 14 1 9 1-14 1 2 1 12 1 8 1-17 1-11 1 0 1-3 1 6 1 3 1-15 1 31 1 12 1-20 1 9 1 10 1-25 1-35 1 48 1-21 1 0 1 25 1-19 1 25 1 7 1-11 1-17 1-5 1 12 1 14 1-24 1 26 1 0 1 1 1-6 1-15 1 13 1 3 1 11 1 7 1-5 1-6 1 19 1-17 1-10 1-9 1 9 1-5 1 17 1-18 1 0 1 14 1-9 1 11 1-12 1-17 1 15 1-18 1 1 1 20 1-5 1-2 1-2 1-13 1-7 1 24 1 3 1-4 1-9 1-11 1 20 1 17 1-24 1-7 1 3 1 8 1 14 1-2 1 0 1 0 1 15 1-30 1 14 1 5 1-9 1 2 1-14 1 12 1 15 1 0 1-1 1 0 1 7 1-12 1-11 1 28 1-10 1-17 1 33 1-11 1 4 1-9 1-29 1 29 1-16 1 10 1 7 1-4 1-2 1-4 1-3 1 6 1 8 1-9 1 2 1-12 1 5 1 10 1-8 1 2 1 1 1-22 1 27 1 17 1-30 1 18 1-23 1 23 1-8 1 14 1-14 1 0 1 6 1-1 1 9 1-24 1 5 1 14 1-2 1 4 1 2 1-28 1 23 1 14 1-15 1-14 1-3 1 6 1 3 1 7 1-16 1-1 1-27 1 9 1 15 1 6 1-22 1 18 1 2 1 0 1 9 1-11 1 14 1-19 1 8 1-12 1 15 1-1 1-4 1-4 1 7 1 8 1 1 1-15 1 17 1-9 1 11 1 22 1-4 1-30 1 19 1 15 1-8 1 6 1-3 1 0 1 6 1 1 1 12 1-12 1 17 1-10 1 1 1 1 1 1 1 6 1 7 1-7 1 15 1-12 1 15 1-4 1 1 1 1 1-19 1 48 1-12 1 6 1-20 1 2 1 10 1 11 1-16 1 6 1-8 1 7 1 25 1-9 1-17 1 7 1 3 1-12 1 10 1 2 1 18 1-5 1 13 1-7 1-11 1-6"/>
</g>
<use href="#m1green" transform="translate(1.7 6)"/>
</g>
<line x1="1082" x2="1941.8" y1="315.9" y2="315.9" stroke="#808080" stroke-width="2.3" stroke-dasharray="8.5 3.7"/>
<g clip-path="url(#cm1)">
<g transform="matrix(3.3745 0 0 0.2 1115.2 0)" fill="none" stroke="#a38a00" stroke-width="3.6" stroke-opacity="0.8" stroke-linejoin="round">
<path vector-effect="non-scaling-stroke" d="M0 1582l1-31 1 10 1 22 1-7 1 13 1 9 1-36 1-7 1 32 1-11 1-10 1 14 1 12 1-16 1-12 1 0 1 16 1-16 1 34 1 10 1-24 1 5 1-13 1 14 1-16 1-16 1 23 1 8 1-9 1 28 1-15 1-21 1 19 1 14 1-18 1-17 1-9 1 4 1 8 1 7 1 0 1-37 1 41 1-13 1 1 1-15 1 5 1 9 1 17 1-15 1-18 1 16 1 25 1-4 1 10 1-3 1-10 1 10 1-22 1 11 1-6 1-10 1-5 1-6 1 14 1-16 1-9 1 15 1 12 1-6 1 12 1 2 1 27 1-72 1 16 1-12 1 39 1-4 1 13 1-32 1 17 1 10 1-26 1-15 1 33 1-2 1 13 1-5 1-27 1 19 1 23 1-14 1-23 1 11 1-21 1-5 1 14 1 27 1 1 1-25 1-5 1 22 1 13 1-28 1-21 1-13 1 15 1 43 1-55 1 31 1-10 1 28 1 3 1 10 1-43 1-12 1 2 1-14 1 17 1 51 1-35 1-32 1-9 1 73 1-29 1-40 1-27 1 83 1-34 1-4 1 12 1-44 1 34 1-28 1 57 1 3 1-93 1-39 1 52 1 55 1 2 1-47 1 15 1-47 1 33 1-18 1 27 1 34 1-31 1-34 1-10 1-44 1 79 1 8 1-41 1 23 1-18 1 18 1-6 1 33 1 7 1-25 1-69 1 15 1 30 1-6 1 41 1 31 1-4 1-1 1 4 1-88 1-4 1 55 1-17 1-6 1-15 1 37 1-91 1 46 1-66 1 58 1 9 1 1 1-55 1 32 1-27 1-21 1 17 1 39 1-60 1 78 1-22 1 12 1-26 1 47 1 30 1 7 1-37 1-18 1-7 1 31 1 4 1-58 1 18 1-42 1 67 1-4 1-6 1-41 1-20 1 5 1-72 1 1 1 11 1 103 1-22 1-21 1 3 1-14 1 27 1-5 1-31 1 29 1-66 1-30 1 39 1 30 1-39 1 11 1 0 1-31 1 31 1 20 1 31 1-42"/>
</g>
<g transform="matrix(3.3745 0 0 0.2 1115.2 0)" fill="none" stroke="#ffb000" stroke-width="3.8" stroke-opacity="1" stroke-linejoin="round">
<path vector-effect="non-scaling-stroke" d="M0 1579l1-4 1-6 1-23 1 17 1-13 1 21 1 1 1-6 1-7 1-1 1-15 1 6 1 15 1-12 1 7 1 11 1-8 1 7 1 4 1 29 1 8 1-9 1 8 1-13 1-8 1-2 1 8 1 5 1 6 1 0 1-11 1 9 1-13 1-11 1-16 1-7 1-4 1 0 1 16 1 0 1 11 1-8 1 25 1-4 1-2 1-11 1-4 1 1 1 13 1-11 1-8 1-3 1 0 1-1 1-5 1 9 1 0 1 15 1 11 1-10 1 4 1-10 1-8 1-13 1 4 1 1 1 19 1-2 1 0 1-13 1-6 1-8 1-3 1-8 1 8 1 19 1 21 1-3 1 5 1-6 1-5 1-2 1 1 1-7 1 4 1 16 1 20 1 7 1-5 1-15 1-13 1 2 1-9 1 7 1-8 1 14 1 2 1 25 1-2 1 4 1 18 1 17 1-5 1-3 1 3 1-10 1-3 1 9 1 1 1-6 1 6 1-9 1-6 1 0 1-35 1-13 1-8 1-5 1 13 1-17 1 10 1-10 1 4 1-2 1 7 1 0 1-3 1-16 1 13 1-2 1-10 1-5 1-4 1 15 1 2 1-8 1 12 1-19 1 3 1-18 1-19 1-3 1-7 1 2 1 9 1 7 1 6 1-1 1-10 1-8 1-21 1-8 1-7 1-11 1 3 1 4 1 2 1-5 1 12 1 0 1 6 1-6 1-9 1-11 1-7 1-2 1 18 1-12 1-1 1-10 1-4 1 6 1 7 1-10 1-5 1-1 1-13 1-21 1 1 1 18 1 14 1 3 1 9 1-2 1-9 1-22 1 18 1-11 1 8 1 19 1 1 1-13 1-5 1-6 1 12 1-14 1 0 1 1 1 1 1 9 1 15 1-1 1 13 1-1 1 0 1-6 1 8 1 6 1-5 1 3 1-1 1 0 1-8 1 5 1 3 1 2 1 12 1-17 1 9 1 8 1 15 1-2 1 7 1 5 1 4 1-7 1 18 1 14 1 11 1-5 1 0 1 11 1 2 1 1 1 18 1-22"/>
</g>
<g transform="matrix(3.3745 0 0 0.2 1115.2 0)" fill="none" stroke="#4b4c51" stroke-width="4.6" stroke-opacity="1" stroke-linejoin="round">
<path vector-effect="non-scaling-stroke" d="M0 1649l1-5 1-8 1 19 1 29 1 16 1-35 1 1 1 41 1 11 1-5 1-13 1-16 1-5 1 5 1 12 1-13 1-9 1 2 1 8 1-37 1 0 1-9 1-22 1-16 1 22 1-5 1 9 1 35 1-7 1 3 1-22 1-18 1 5 1 11 1 23 1 17 1 13 1-14 1-6 1 6 1-9 1-34 1-34 1 3 1 11 1 11 1 12 1-3 1-2 1-5 1-4 1-17 1 9 1 27 1-5 1-7 1 5 1 13 1-11 1-15 1-12 1 23 1 7 1-7 1-8 1 9 1 8 1-5 1-17 1 13 1 37 1 19 1-21 1-13 1-11 1 0 1-20 1-16 1-9 1 15 1-6 1-8 1 0 1 12 1-20 1-26 1-15 1 12 1 8 1 13 1-18 1-4 1 4 1-3 1-13 1 3 1 6 1-8 1-34 1-37 1-3 1-13 1 4 1-2 1-18 1-9 1-3 1 21 1-17 1-4 1 30 1-30 1 22 1 13 1 20 1 37 1 13 1-29 1-8 1 27 1 3 1-16 1-11 1 32 1-6 1-6 1-10 1-36 1-1 1 10 1-13 1 3 1 35 1 9 1 0 1-20 1-4 1-14 1-11 1-15 1 17 1 34 1 7 1-3 1-38 1-27 1-14 1 17 1 10 1-25 1-2 1 2 1-6 1-1 1 20 1 7 1-30 1-24 1 18 1-11 1 24 1-28 1-33 1-22 1 2 1 2 1-4 1-6 1-7 1-2 1 0 1-17 1 0 1 1 1 0 1-4 1-11 1-7 1-9 1-25 1-19 1-4 1-10 1-32 1-17 1-3 1-4 1-15 1-10 1-23 1-17 1-11 1-7 1 0 1-13 1 4 1-21 1-26 1-10 1-26 1-20 1-13 1-26 1-20 1-21 1-23 1-6 1-17 1-4 1-5 1 5 1-16 1-17 1-7 1-12 1-11 1-21 1-3 1 0 1-6 1-14 1-38 1-41 1-29 1-20 1-15 1-16 1-24 1-30 1-13 1-16 1-20 1-10 1-11 1-15 1-14"/>
</g>
<g transform="matrix(3.3745 0 0 0.2 1115.2 0)" fill="none" stroke="#6bd07a" stroke-width="3.8" stroke-opacity="1" stroke-linejoin="round">
<path vector-effect="non-scaling-stroke" d="M0 1517l1-5 1 6 1-6 1 0 1 7 1 22 1-16 1-10 1 4 1-16 1 3 1 17 1 12 1 20 1 2 1-21 1 7 1 3 1 2 1-4 1-3 1 10 1 6 1 4 1-4 1-13 1-22 1-1 1 14 1-7 1 7 1 8 1-8 1 1 1 7 1 3 1 15 1-5 1 6 1 2 1-3 1-5 1 13 1-5 1-9 1-2 1 6 1-10 1-9 1-4 1 7 1 11 1-7 1 0 1-2 1-3 1-4 1-10 1 6 1 8 1 10 1-20 1-1 1 23 1 3 1-8 1-12 1 0 1 1 1 17 1-4 1-11 1 6 1-8 1 17 1 5 1 12 1 4 1 1 1 9 1 3 1-5 1 11 1-2 1 11 1 7 1 9 1-8 1-13 1 9 1 1 1-4 1-10 1 7 1 4 1 7 1 0 1 14 1 2 1-10 1 7 1 2 1-11 1 6 1 4 1-12 1-2 1 6 1-6 1-3 1-10 1 4 1-8 1-4 1-18 1 6 1 4 1-1 1 4 1-6 1-8 1 7 1 4 1-8 1 10 1 11 1 2 1-8 1 7 1 12 1 2 1 13 1-7 1-19 1-1 1 20 1 20 1 10 1 6 1-3 1-7 1-4 1 7 1 15 1-11 1 20 1 6 1-7 1 7 1 11 1-4 1 2 1-4 1-8 1 13 1 9 1-10 1-6 1 9 1-7 1-3 1 2 1 12 1 15 1 7 1 9 1-5 1 16 1 4 1 11 1 0 1 6 1-4 1 25 1 3 1 14 1-7 1 14 1 13 1-3 1 19 1-3 1 19 1 4 1 4 1 17 1 1 1 13 1-2 1 11 1 4 1 8 1 8 1 18 1 15 1-13 1 1 1-4 1 9 1 24 1 4 1 7 1 18 1-8 1 15 1 0 1 4 1-2 1 6 1 16 1-1 1-8 1 9 1 7 1 11 1 3 1 7 1 9 1 9 1 4 1 3 1 18 1-7 1 9 1 2 1 11 1 9 1 20 1-7 1-4 1 8 1 15 1 14 1-2 1 18 1-11"/>
</g>
<g transform="matrix(3.3745 0 0 0.2 1115.2 0)" fill="none" stroke="#f0636a" stroke-width="3.8" stroke-opacity="1" stroke-linejoin="round">
<path vector-effect="non-scaling-stroke" d="M0 1575l1 2 1-4 1 2 1-16 1-5 1-4 1-11 1-3 1 7 1-19 1 12 1 7 1-6 1-6 1-9 1 6 1 9 1-18 1 5 1 9 1 5 1 3 1 8 1 1 1 0 1 1 1 6 1-2 1-4 1-9 1-4 1-7 1-3 1 15 1 10 1-19 1-9 1 0 1-2 1 8 1-7 1 11 1 15 1-2 1-4 1 2 1 16 1 2 1 11 1-5 1 8 1-4 1 11 1-9 1 8 1 0 1-6 1-6 1 4 1-14 1-6 1 6 1 4 1-4 1-1 1-1 1-7 1-3 1-2 1 4 1 2 1 0 1 0 1-8 1 4 1-2 1-1 1 1 1 5 1 1 1-4 1 5 1 7 1-12 1-5 1 2 1-5 1-1 1 5 1 13 1-9 1 7 1 5 1 2 1-4 1 0 1 0 1-11 1-8 1 10 1 7 1 21 1 3 1 7 1-3 1 7 1 0 1 10 1 0 1-9 1-3 1 7 1 10 1-1 1-3 1 2 1 3 1-5 1-7 1 8 1 0 1 4 1-6 1 5 1 7 1 15 1 9 1-7 1 9 1-8 1-11 1-10 1-4 1 2 1 1 1-4 1 14 1 8 1-1 1 7 1-8 1 4 1 15 1 0 1 3 1 11 1 8 1 9 1 1 1 4 1 8 1 1 1 9 1-18 1 3 1 10 1 4 1 8 1 6 1 7 1 3 1 11 1-2 1 0 1 3 1 3 1-1 1-7 1 5 1 4 1-3 1-3 1 17 1-7 1 0 1 8 1 11 1-8 1 6 1 3 1-1 1 15 1-1 1 6 1 3 1-10 1 1 1 2 1 9 1 11 1 1 1-1 1 22 1 10 1-10 1 7 1-5 1 2 1 4 1 11 1 10 1 13 1-13 1 7 1 5 1 20 1 16 1 6 1 7 1 2 1 16 1-8 1 4 1 5 1-2 1 1 1 12 1-3 1 12 1-3 1-5 1 11 1 13 1 13 1 7 1 18 1 4 1 6 1 4 1 7 1 16 1 11 1 16 1 3 1-2 1 5"/>
</g>
</g>
<rect x="1082" y="29.8" width="859.8" height="572.2" fill="none" stroke="#000" stroke-width="2.7"/>
<line x1="1077.5" x2="1082" y1="544.8" y2="544.8" stroke="#000" stroke-width="1"/>
<text x="1076" y="552.5" font-size="21.3" text-anchor="end">−4</text>
<line x1="1077.5" x2="1082" y1="430.3" y2="430.3" stroke="#000" stroke-width="1"/>
<text x="1076" y="438" font-size="21.3" text-anchor="end">−2</text>
<line x1="1077.5" x2="1082" y1="315.9" y2="315.9" stroke="#000" stroke-width="1"/>
<text x="1076" y="323.6" font-size="21.3" text-anchor="end">0</text>
<line x1="1077.5" x2="1082" y1="201.5" y2="201.5" stroke="#000" stroke-width="1"/>
<text x="1076" y="209.2" font-size="21.3" text-anchor="end">2</text>
<line x1="1077.5" x2="1082" y1="87" y2="87" stroke="#000" stroke-width="1"/>
<text x="1076" y="94.7" font-size="21.3" text-anchor="end">4</text>
<line x1="1941.8" x2="1946.3" y1="584.1" y2="584.1" stroke="#000" stroke-width="1"/>
<text x="1948.1" y="591.8" font-size="21.3" fill="#9c8700">−1.5</text>
<line x1="1941.8" x2="1946.3" y1="494.7" y2="494.7" stroke="#000" stroke-width="1"/>
<text x="1948.1" y="502.4" font-size="21.3" fill="#9c8700">−1.0</text>
<line x1="1941.8" x2="1946.3" y1="405.3" y2="405.3" stroke="#000" stroke-width="1"/>
<text x="1948.1" y="413" font-size="21.3" fill="#9c8700">−0.5</text>
<line x1="1941.8" x2="1946.3" y1="315.9" y2="315.9" stroke="#000" stroke-width="1"/>
<text x="1948.1" y="323.6" font-size="21.3" fill="#9c8700">0.0</text>
<line x1="1941.8" x2="1946.3" y1="226.5" y2="226.5" stroke="#000" stroke-width="1"/>
<text x="1948.1" y="234.2" font-size="21.3" fill="#9c8700">0.5</text>
<line x1="1941.8" x2="1946.3" y1="137.1" y2="137.1" stroke="#000" stroke-width="1"/>
<text x="1948.1" y="144.8" font-size="21.3" fill="#9c8700">1.0</text>
<line x1="1941.8" x2="1946.3" y1="47.7" y2="47.7" stroke="#000" stroke-width="1"/>
<text x="1948.1" y="55.4" font-size="21.3" fill="#9c8700">1.5</text>
<line x1="1191.1" x2="1191.1" y1="602.0" y2="606.5" stroke="#000" stroke-width="1"/>
<text x="1191.1" y="624.6" font-size="21.3" text-anchor="middle">1880</text>
<line x1="1326.1" x2="1326.1" y1="602.0" y2="606.5" stroke="#000" stroke-width="1"/>
<text x="1326.1" y="624.6" font-size="21.3" text-anchor="middle">1920</text>
<line x1="1461.1" x2="1461.1" y1="602.0" y2="606.5" stroke="#000" stroke-width="1"/>
<text x="1461.1" y="624.6" font-size="21.3" text-anchor="middle">1960</text>
<line x1="1596" x2="1596" y1="602.0" y2="606.5" stroke="#000" stroke-width="1"/>
<text x="1596" y="624.6" font-size="21.3" text-anchor="middle">2000</text>
<line x1="1731" x2="1731" y1="602.0" y2="606.5" stroke="#000" stroke-width="1"/>
<text x="1731" y="624.6" font-size="21.3" text-anchor="middle">2040</text>
<line x1="1866" x2="1866" y1="602.0" y2="606.5" stroke="#000" stroke-width="1"/>
<text x="1866" y="624.6" font-size="21.3" text-anchor="middle">2080</text>
<text x="1511.9" y="648.6" font-size="21.3" text-anchor="middle">Years</text>
<text transform="translate(1035.7,314.4) rotate(-90)" font-size="23.2" text-anchor="middle">SEIO<tspan font-size="16.3" font-style="italic" dy="4.6">mean</tspan><tspan dy="-4.6"> - Indian Ocean(IO)</tspan><tspan font-size="16.3" font-style="italic" dy="4.6">mean</tspan><tspan dy="-4.6" dx="3.5"> (W/m</tspan><tspan font-size="16.3" dy="-9.2">2</tspan><tspan dy="9.2">)</tspan></text>
<text x="1080.1" y="23" font-size="30.1" font-weight="bold">b Southeastern Indian Ocean (SEIO)</text>
<line x1="1640.9" x2="1679.6" y1="517" y2="517" stroke="#a38a00" stroke-width="3"/>
<text x="1693" y="523.7" font-size="17.9">Temp Tendency</text>
<line x1="1545.7" x2="1584.4" y1="548.1" y2="548.1" stroke="#ffb000" stroke-width="3"/>
<text x="1597" y="554.8" font-size="17.9">Total Advection</text>
<line x1="1545.7" x2="1584.4" y1="574.1" y2="574.1" stroke="#4b4c51" stroke-width="3"/>
<text x="1597" y="580.8" font-size="17.9">Air-Sea Flux</text>
<line x1="1766.7" x2="1805.4" y1="548.1" y2="548.1" stroke="#6bd07a" stroke-width="3"/>
<text x="1818.1" y="554.8" font-size="17.9">hDiffusion</text>
<line x1="1766.7" x2="1805.4" y1="574.1" y2="574.1" stroke="#f0636a" stroke-width="3"/>
<text x="1818.1" y="580.8" font-size="17.9">vDiff/Mixing</text>
<rect x="1139.4" y="64.5" width="363.3" height="181.3" fill="#fff"/>
<rect x="1142" y="64.5" width="235.4" height="181.3" fill="#f5f5ec"/>
<rect x="1376.5" y="64.5" width="122.9" height="181.3" fill="#eeeae7"/>
<g clip-path="url(#ci10)">
<g fill="#9a9a9a" fill-opacity="0.15" stroke="none" filter="url(#bl2)">
<path d="M1153 151 1161 151 1170 151 1178 151 1187 151 1196 151 1204 151 1213 151 1221 152 1230 152 1239 152 1247 152 1256 152 1264 152 1273 152 1281 152 1290 153 1299 153 1307 154 1316 156 1324 157 1333 159 1341 160 1350 162 1359 164 1367 166 1376 168 1384 171 1393 173 1401 176 1410 178 1419 181 1427 183 1436 185 1444 187 1453 189 1462 192 1470 194 1479 197 1487 199 1490 199L1490 205 1487 204 1479 202 1470 199 1462 197 1453 195 1444 193 1436 191 1427 188 1419 186 1410 184 1401 181 1393 178 1384 176 1376 174 1367 172 1359 169 1350 167 1341 166 1333 164 1324 163 1316 161 1307 160 1299 158 1290 158 1281 157 1273 157 1264 157 1256 157 1247 157 1239 157 1230 157 1221 156 1213 156 1204 156 1196 156 1187 156 1178 156 1170 156 1161 155 1153 155Z"/>
<path d="M1153 148 1161 148 1170 148 1178 148 1187 149 1196 149 1204 149 1213 149 1221 149 1230 149 1239 149 1247 149 1256 150 1264 150 1273 150 1281 150 1290 150 1299 151 1307 152 1316 153 1324 155 1333 156 1341 158 1350 160 1359 162 1367 164 1376 166 1384 168 1393 170 1401 173 1410 176 1419 178 1427 180 1436 183 1444 185 1453 187 1462 189 1470 191 1479 194 1487 196 1490 197L1490 208 1487 207 1479 205 1470 202 1462 200 1453 198 1444 195 1436 193 1427 191 1419 189 1410 186 1401 184 1393 181 1384 178 1376 176 1367 174 1359 172 1350 170 1341 168 1333 167 1324 165 1316 164 1307 162 1299 161 1290 160 1281 160 1273 160 1264 160 1256 160 1247 159 1239 159 1230 159 1221 159 1213 159 1204 159 1196 158 1187 158 1178 158 1170 158 1161 158 1153 158Z"/>
<path d="M1153 145 1161 145 1170 146 1178 146 1187 146 1196 146 1204 146 1213 146 1221 146 1230 146 1239 146 1247 146 1256 147 1264 147 1273 147 1281 147 1290 147 1299 148 1307 149 1316 150 1324 152 1333 153 1341 155 1350 157 1359 159 1367 161 1376 163 1384 165 1393 167 1401 170 1410 172 1419 175 1427 177 1436 179 1444 181 1453 184 1462 186 1470 188 1479 191 1487 193 1490 193L1490 211 1487 210 1479 208 1470 205 1462 203 1453 201 1444 199 1436 196 1427 194 1419 192 1410 189 1401 187 1393 184 1384 182 1376 179 1367 177 1359 175 1350 173 1341 171 1333 170 1324 168 1316 167 1307 165 1299 164 1290 163 1281 163 1273 163 1264 163 1256 162 1247 162 1239 162 1230 162 1221 162 1213 162 1204 161 1196 161 1187 161 1178 161 1170 161 1161 161 1153 161Z"/>
</g>
<g fill="#55c23a" fill-opacity="0.16" stroke="none" filter="url(#bl2)">
<path d="M1153 156 1161 156 1170 156 1178 156 1187 155 1196 155 1204 155 1213 155 1221 154 1230 154 1239 154 1247 154 1256 153 1264 152 1273 151 1281 150 1290 149 1299 147 1307 145 1316 143 1324 141 1333 137 1341 134 1350 131 1359 127 1367 124 1376 121 1384 118 1393 114 1401 110 1410 106 1419 102 1427 97 1436 93 1444 89 1453 84 1462 80 1470 75 1479 71 1487 67 1490 66L1490 77 1487 78 1479 82 1470 87 1462 91 1453 95 1444 100 1436 104 1427 108 1419 112 1410 117 1401 121 1393 125 1384 129 1376 132 1367 135 1359 138 1350 141 1341 144 1333 147 1324 151 1316 153 1307 155 1299 157 1290 159 1281 160 1273 161 1264 162 1256 163 1247 163 1239 164 1230 164 1221 164 1213 164 1204 164 1196 165 1187 165 1178 165 1170 165 1161 166 1153 166Z"/>
<path d="M1153 152 1161 151 1170 151 1178 151 1187 151 1196 150 1204 150 1213 150 1221 149 1230 149 1239 149 1247 149 1256 148 1264 147 1273 146 1281 145 1290 144 1299 142 1307 140 1316 138 1324 136 1333 132 1341 129 1350 125 1359 122 1367 119 1376 116 1384 113 1393 109 1401 105 1410 101 1419 96 1427 92 1436 87 1444 83 1453 79 1462 74 1470 70 1479 65 1487 61 1490 60L1490 83 1487 84 1479 88 1470 92 1462 97 1453 101 1444 105 1436 109 1427 114 1419 118 1410 122 1401 126 1393 130 1384 134 1376 137 1367 140 1359 143 1350 146 1341 149 1333 152 1324 156 1316 158 1307 160 1299 162 1290 164 1281 165 1273 166 1264 167 1256 168 1247 168 1239 168 1230 169 1221 169 1213 169 1204 169 1196 169 1187 170 1178 170 1170 170 1161 170 1153 171Z"/>
<path d="M1153 146 1161 146 1170 146 1178 145 1187 145 1196 145 1204 144 1213 144 1221 144 1230 144 1239 143 1247 143 1256 143 1264 142 1273 140 1281 139 1290 138 1299 137 1307 135 1316 133 1324 130 1333 126 1341 123 1350 120 1359 117 1367 113 1376 110 1384 107 1393 103 1401 99 1410 94 1419 90 1427 86 1436 81 1444 77 1453 72 1462 68 1470 63 1479 59 1487 54 1490 54L1490 90 1487 91 1479 95 1470 99 1462 103 1453 107 1444 111 1436 116 1427 120 1419 124 1410 128 1401 132 1393 136 1384 140 1376 143 1367 146 1359 149 1350 152 1341 155 1333 158 1324 161 1316 164 1307 166 1299 168 1290 169 1281 170 1273 172 1264 173 1256 174 1247 174 1239 174 1230 174 1221 174 1213 175 1204 175 1196 175 1187 175 1178 175 1170 176 1161 176 1153 176Z"/>
</g>
<g fill="#a0a030" fill-opacity="0.15" stroke="none" filter="url(#bl2)">
<path d="M1153 154 1161 154 1170 154 1178 154 1187 155 1196 155 1204 155 1213 155 1221 155 1230 155 1239 155 1247 155 1256 155 1264 155 1273 156 1281 156 1290 156 1299 156 1307 156 1316 156 1324 156 1333 156 1341 156 1350 156 1359 156 1367 157 1376 157 1384 157 1393 157 1401 157 1410 157 1419 157 1427 157 1436 157 1444 157 1453 157 1462 157 1470 158 1479 158 1487 158 1490 158L1490 160 1487 160 1479 160 1470 160 1462 160 1453 160 1444 160 1436 160 1427 159 1419 159 1410 159 1401 159 1393 159 1384 159 1376 159 1367 159 1359 159 1350 159 1341 158 1333 158 1324 158 1316 158 1307 158 1299 158 1290 158 1281 158 1273 158 1264 158 1256 157 1247 157 1239 157 1230 157 1221 157 1213 157 1204 157 1196 157 1187 157 1178 156 1170 156 1161 156 1153 156Z"/>
<path d="M1153 153 1161 153 1170 153 1178 153 1187 154 1196 154 1204 154 1213 154 1221 154 1230 154 1239 154 1247 154 1256 154 1264 154 1273 154 1281 155 1290 155 1299 155 1307 155 1316 155 1324 155 1333 155 1341 155 1350 155 1359 155 1367 155 1376 156 1384 156 1393 156 1401 156 1410 156 1419 156 1427 156 1436 156 1444 156 1453 156 1462 156 1470 156 1479 156 1487 157 1490 157L1490 161 1487 161 1479 161 1470 161 1462 161 1453 161 1444 161 1436 161 1427 161 1419 160 1410 160 1401 160 1393 160 1384 160 1376 160 1367 160 1359 160 1350 160 1341 160 1333 159 1324 159 1316 159 1307 159 1299 159 1290 159 1281 159 1273 159 1264 159 1256 158 1247 158 1239 158 1230 158 1221 158 1213 158 1204 158 1196 158 1187 158 1178 157 1170 157 1161 157 1153 157Z"/>
<path d="M1153 152 1161 152 1170 152 1178 152 1187 152 1196 152 1204 153 1213 153 1221 153 1230 153 1239 153 1247 153 1256 153 1264 153 1273 153 1281 153 1290 153 1299 154 1307 154 1316 154 1324 154 1333 154 1341 154 1350 154 1359 154 1367 154 1376 154 1384 154 1393 154 1401 154 1410 155 1419 155 1427 155 1436 155 1444 155 1453 155 1462 155 1470 155 1479 155 1487 155 1490 155L1490 163 1487 163 1479 162 1470 162 1462 162 1453 162 1444 162 1436 162 1427 162 1419 162 1410 162 1401 162 1393 161 1384 161 1376 161 1367 161 1359 161 1350 161 1341 161 1333 161 1324 161 1316 161 1307 160 1299 160 1290 160 1281 160 1273 160 1264 160 1256 160 1247 160 1239 159 1230 159 1221 159 1213 159 1204 159 1196 159 1187 159 1178 159 1170 159 1161 158 1153 158Z"/>
</g>
<g fill="#a3a3d8" fill-opacity="0.14" stroke="none" filter="url(#bl2)">
<path d="M1153 148 1161 148 1170 148 1178 149 1187 149 1196 149 1204 149 1213 149 1221 150 1230 150 1239 150 1247 150 1256 150 1264 151 1273 151 1281 151 1290 151 1299 152 1307 153 1316 154 1324 156 1333 157 1341 158 1350 159 1359 161 1367 162 1376 163 1384 164 1393 165 1401 166 1410 166 1419 167 1427 167 1436 166 1444 165 1453 165 1462 164 1470 163 1479 162 1487 161 1490 161L1490 168 1487 169 1479 169 1470 171 1462 172 1453 172 1444 173 1436 174 1427 174 1419 174 1410 174 1401 173 1393 172 1384 172 1376 170 1367 169 1359 168 1350 167 1341 165 1333 164 1324 163 1316 162 1307 160 1299 159 1290 159 1281 158 1273 158 1264 158 1256 158 1247 157 1239 157 1230 157 1221 157 1213 157 1204 156 1196 156 1187 156 1178 156 1170 155 1161 155 1153 155Z"/>
<path d="M1153 144 1161 145 1170 145 1178 145 1187 145 1196 145 1204 146 1213 146 1221 146 1230 146 1239 146 1247 147 1256 147 1264 147 1273 147 1281 148 1290 148 1299 148 1307 149 1316 151 1324 152 1333 153 1341 154 1350 156 1359 157 1367 158 1376 159 1384 160 1393 161 1401 162 1410 163 1419 163 1427 163 1436 162 1444 162 1453 161 1462 160 1470 159 1479 158 1487 157 1490 157L1490 172 1487 172 1479 173 1470 174 1462 175 1453 176 1444 177 1436 177 1427 178 1419 178 1410 178 1401 177 1393 176 1384 175 1376 174 1367 173 1359 172 1350 170 1341 169 1333 168 1324 167 1316 165 1307 164 1299 163 1290 162 1281 162 1273 162 1264 162 1256 161 1247 161 1239 161 1230 161 1221 160 1213 160 1204 160 1196 160 1187 159 1178 159 1170 159 1161 159 1153 158Z"/>
<path d="M1153 140 1161 141 1170 141 1178 141 1187 141 1196 141 1204 142 1213 142 1221 142 1230 142 1239 142 1247 143 1256 143 1264 143 1273 143 1281 143 1290 144 1299 144 1307 145 1316 146 1324 148 1333 149 1341 150 1350 151 1359 153 1367 154 1376 155 1384 156 1393 157 1401 157 1410 158 1419 159 1427 159 1436 158 1444 157 1453 157 1462 156 1470 155 1479 154 1487 153 1490 152L1490 177 1487 177 1479 178 1470 179 1462 180 1453 181 1444 181 1436 182 1427 183 1419 183 1410 182 1401 181 1393 180 1384 180 1376 178 1367 177 1359 176 1350 175 1341 173 1333 172 1324 171 1316 170 1307 168 1299 167 1290 166 1281 166 1273 166 1264 166 1256 165 1247 165 1239 165 1230 165 1221 164 1213 164 1204 164 1196 164 1187 163 1178 163 1170 163 1161 163 1153 162Z"/>
</g>
<g fill="#a83030" fill-opacity="0.16" stroke="none" filter="url(#bl2)">
<path d="M1153 154 1161 154 1170 153 1178 153 1187 153 1196 153 1204 153 1213 153 1221 152 1230 152 1239 152 1247 152 1256 152 1264 151 1273 150 1281 149 1290 149 1299 148 1307 149 1316 150 1324 149 1333 149 1341 148 1350 148 1359 147 1367 146 1376 145 1384 145 1393 144 1401 143 1410 142 1419 141 1427 140 1436 138 1444 136 1453 134 1462 132 1470 130 1479 128 1487 126 1490 125L1490 135 1487 135 1479 137 1470 140 1462 142 1453 144 1444 146 1436 147 1427 149 1419 150 1410 151 1401 152 1393 153 1384 154 1376 155 1367 155 1359 156 1350 157 1341 158 1333 158 1324 159 1316 159 1307 158 1299 157 1290 158 1281 158 1273 159 1264 160 1256 161 1247 161 1239 161 1230 161 1221 161 1213 162 1204 162 1196 162 1187 162 1178 162 1170 162 1161 162 1153 163Z"/>
<path d="M1153 149 1161 149 1170 149 1178 149 1187 149 1196 149 1204 148 1213 148 1221 148 1230 148 1239 148 1247 147 1256 147 1264 147 1273 146 1281 145 1290 144 1299 144 1307 144 1316 145 1324 145 1333 144 1341 144 1350 143 1359 142 1367 142 1376 141 1384 140 1393 139 1401 138 1410 137 1419 136 1427 135 1436 133 1444 131 1453 130 1462 128 1470 126 1479 123 1487 121 1490 121L1490 140 1487 140 1479 142 1470 144 1462 147 1453 148 1444 150 1436 152 1427 154 1419 155 1410 156 1401 157 1393 158 1384 158 1376 159 1367 160 1359 161 1350 161 1341 162 1333 163 1324 163 1316 163 1307 162 1299 162 1290 162 1281 163 1273 164 1264 165 1256 165 1247 165 1239 166 1230 166 1221 166 1213 166 1204 166 1196 166 1187 166 1178 167 1170 167 1161 167 1153 167Z"/>
<path d="M1153 144 1161 144 1170 144 1178 144 1187 144 1196 143 1204 143 1213 143 1221 143 1230 143 1239 142 1247 142 1256 142 1264 141 1273 140 1281 140 1290 139 1299 138 1307 139 1316 140 1324 140 1333 139 1341 138 1350 138 1359 137 1367 136 1376 135 1384 135 1393 134 1401 133 1410 132 1419 131 1427 130 1436 128 1444 126 1453 124 1462 122 1470 120 1479 118 1487 116 1490 115L1490 145 1487 145 1479 148 1470 150 1462 152 1453 154 1444 156 1436 157 1427 159 1419 160 1410 161 1401 162 1393 163 1384 164 1376 165 1367 165 1359 166 1350 167 1341 167 1333 168 1324 168 1316 168 1307 168 1299 167 1290 167 1281 168 1273 169 1264 170 1256 170 1247 171 1239 171 1230 171 1221 171 1213 171 1204 171 1196 171 1187 172 1178 172 1170 172 1161 172 1153 172Z"/>
</g>
<g transform="matrix(2.859 0 0 0.5 1152.7 0)" fill="none" stroke="#9a9a9a" stroke-width="0.8" stroke-opacity="0.18" stroke-linejoin="round">
<path vector-effect="non-scaling-stroke" d="M0 294l1 4 1-3 1 0 1 4 1 3 1-4 1 7 1 0 1 3 1-3 1 1 1-7 1-4 1 7 1 5 1-8 1 3 1 1 1-2 1 4 1-1 1-1 1 8 1-12 1 12 1-6 1 1 1 10 1-9 1 5 1-4 1-7 1 9 1-3 1 7 1-3 1 7 1 2 1-1 1-5 1 6 1-1 1 4 1-9 1 6 1 8 1-6 1 4 1-8 1-1 1 13 1-2 1 0 1-10 1 0 1-6 1 7 1 0 1 4 1-6 1 7 1-5 1 1 1 7 1 1 1-2 1 2 1-3 1 4 1 3 1 2 1 3 1-3 1 5 1 12 1-9 1 2 1 0 1 2 1 12 1-9 1 6 1-2 1 4 1 9 1-8 1 7 1 6 1-1 1 0 1 4 1 9 1-1 1 10 1-5 1 11 1-9 1 4 1-11 1 9 1-6 1 6 1 2 1 5 1-9 1 6 1 9 1-11 1-4 1-2 1 4 1-11 1 13 1-6 1-3 1-1 1 11 1 3"/>
<path vector-effect="non-scaling-stroke" d="M0 305l1-4 1 5 1-11 1 1 1 8 1-8 1 5 1 2 1 3 1-5 1 4 1-7 1 2 1 4 1-3 1 6 1-5 1-3 1 7 1 8 1-8 1 2 1 2 1 1 1 6 1-3 1-5 1 3 1 4 1-2 1 7 1-9 1 5 1 1 1-7 1 2 1-5 1 1 1 18 1-7 1-2 1 6 1-9 1 6 1-9 1 0 1-5 1 7 1-10 1 12 1-4 1-3 1 5 1 3 1 8 1-10 1 7 1-2 1 9 1 1 1-5 1 6 1 3 1-7 1-7 1 1 1-1 1-3 1 1 1 1 1 7 1 8 1 4 1-3 1 3 1-3 1 11 1 2 1-21 1 9 1-6 1 8 1-2 1 3 1 9 1 4 1 3 1 2 1 9 1-7 1 5 1 0 1 8 1 5 1 1 1 2 1-1 1-3 1-3 1 3 1-11 1 16 1 8 1-3 1-1 1-1 1-2 1-6 1 3 1 8 1 5 1 2 1-1 1 4 1-3 1 7 1 8 1 5"/>
<path vector-effect="non-scaling-stroke" d="M0 300l1 0 1-6 1 13 1-1 1-3 1 3 1 7 1-4 1 2 1 10 1 3 1-9 1-8 1 5 1 3 1 1 1-6 1-2 1-4 1 9 1 4 1 8 1-11 1 1 1 0 1 3 1 4 1-4 1 6 1 0 1 1 1-6 1-2 1-11 1 2 1-7 1 2 1-5 1 12 1 2 1 7 1 3 1-12 1-4 1 1 1 3 1 6 1-7 1 6 1-1 1 7 1-6 1 8 1-8 1 0 1-3 1 2 1 1 1 5 1-1 1-8 1 5 1 3 1-3 1 7 1-6 1 8 1-4 1 6 1-2 1-1 1 7 1 5 1-7 1-9 1 16 1 1 1 1 1 0 1-1 1-7 1-2 1-1 1 1 1 3 1 2 1-3 1 4 1-1 1 8 1 7 1 3 1 2 1 1 1 5 1 2 1 0 1-8 1 7 1 0 1 1 1 0 1 6 1 9 1-3 1 6 1-1 1 9 1 11 1-3 1 4 1-5 1 7 1 5 1-7 1 5 1-6 1 9"/>
<path vector-effect="non-scaling-stroke" d="M0 310l1 5 1 0 1-8 1 0 1 6 1 2 1 1 1-9 1 1 1 0 1 2 1 9 1-3 1-10 1 1 1 2 1-3 1 3 1 0 1-4 1-1 1 14 1-9 1-7 1 4 1-2 1 6 1-9 1 10 1-5 1-11 1 8 1-4 1 0 1-1 1-10 1 8 1 8 1 8 1 5 1 0 1 3 1-1 1-3 1-11 1 8 1-1 1-4 1 6 1 0 1-1 1-6 1 10 1-6 1 3 1-3 1-2 1 6 1 4 1-5 1-2 1 13 1-5 1-6 1 7 1-4 1 0 1 1 1 11 1-13 1-8 1 9 1 0 1 4 1 3 1 7 1-2 1-2 1-2 1 1 1 8 1 9 1-1 1 3 1-1 1 2 1 8 1-9 1 2 1 3 1-1 1 9 1-8 1-2 1 3 1 2 1-3 1 1 1 1 1-2 1 5 1 0 1 1 1 4 1 12 1-9 1 3 1 2 1 15 1 5 1-13 1 10 1 7 1 11 1 0 1-1 1 10 1 1"/>
<path vector-effect="non-scaling-stroke" d="M0 310l1-9 1 2 1-6 1 14 1 0 1 0 1-2 1-10 1 11 1 6 1-4 1 2 1-12 1-4 1 4 1 6 1 4 1 4 1-2 1-5 1-5 1 0 1-2 1 2 1-1 1 15 1 2 1-14 1 5 1 12 1-10 1-6 1-2 1 2 1-3 1 0 1-1 1 2 1-5 1-1 1 6 1-1 1 1 1-10 1 5 1-4 1-1 1-5 1 11 1-11 1 1 1 4 1-2 1 4 1 7 1 3 1 7 1-2 1-1 1 0 1 6 1-1 1 5 1 0 1-6 1 7 1 1 1 1 1 6 1-4 1 5 1 7 1-10 1 8 1 6 1 5 1-12 1-1 1 4 1 2 1 0 1 5 1 0 1 5 1 6 1-7 1 0 1 2 1 11 1-4 1 9 1 1 1-2 1 10 1 0 1 4 1-3 1-1 1 2 1-3 1-1 1 5 1-6 1 3 1 13 1-12 1 7 1-1 1 2 1-3 1 4 1 4 1 8 1-3 1 10 1-2 1-1 1 3"/>
<path vector-effect="non-scaling-stroke" d="M0 316l1 2 1 5 1-3 1-10 1 5 1 2 1-5 1 7 1-7 1 2 1-10 1 14 1-2 1 1 1 2 1-5 1 1 1 1 1-18 1 2 1 1 1 0 1-1 1-10 1 8 1-2 1 4 1 2 1 3 1 3 1-6 1-3 1 7 1 6 1-6 1-1 1-2 1 4 1-1 1 1 1-7 1 2 1 9 1-4 1 5 1 2 1 3 1-6 1 3 1-7 1 5 1-7 1 8 1 7 1 0 1-8 1 9 1 0 1 6 1 1 1-1 1-8 1 10 1 6 1-6 1 7 1 3 1-2 1 3 1-3 1 3 1 8 1-1 1-2 1 8 1 9 1-7 1 3 1-4 1-2 1 1 1-7 1 12 1 4 1-11 1 1 1 8 1 8 1-2 1-10 1 7 1 7 1-8 1-4 1-1 1 7 1 0 1 6 1-4 1 6 1 6 1 0 1 4 1 3 1-2 1 1 1 3 1-1 1 3 1-2 1 7 1 0 1-1 1 12 1-7 1-2 1 14 1-9"/>
<path vector-effect="non-scaling-stroke" d="M0 300l1-1 1 2 1 2 1-11 1-3 1 4 1-11 1 15 1-3 1 2 1 2 1 1 1 0 1-4 1 0 1 6 1-2 1-3 1-2 1 9 1-10 1 10 1 3 1 0 1 6 1-5 1 6 1-5 1 3 1-1 1-6 1-1 1 7 1-5 1 9 1-2 1-3 1-2 1 4 1 4 1-7 1 3 1 8 1 3 1-11 1 6 1-4 1-5 1-3 1-5 1 4 1 5 1-8 1 15 1-8 1 4 1 7 1-2 1-6 1 0 1 3 1 0 1-2 1 2 1-2 1 9 1-5 1 4 1 4 1 0 1 2 1-3 1 12 1-3 1 6 1 3 1 11 1-7 1 4 1-10 1 8 1 5 1-5 1 7 1 4 1 3 1 0 1-10 1 14 1-12 1 12 1-2 1 3 1-11 1 6 1-2 1 3 1 7 1 2 1 0 1-2 1-1 1 2 1 1 1 8 1 1 1-3 1 0 1 15 1-1 1 9 1 13 1-11 1 3 1 2 1 11 1 1 1-2"/>
</g>
<g transform="matrix(2.859 0 0 0.5 1152.7 0)" fill="none" stroke="#55c23a" stroke-width="0.8" stroke-opacity="0.18" stroke-linejoin="round">
<path vector-effect="non-scaling-stroke" d="M0 344l1-15 1 11 1-9 1 2 1 4 1-4 1-9 1 20 1-15 1 10 1-8 1-1 1 3 1-15 1 15 1-24 1-8 1 11 1 3 1 8 1 8 1 0 1-2 1 1 1 5 1-10 1 1 1-12 1-2 1 4 1 2 1-9 1-2 1 18 1-5 1 11 1-16 1 5 1 0 1 6 1 10 1-18 1-2 1 2 1 9 1-9 1 6 1-7 1-5 1-6 1 10 1 20 1-12 1 19 1-13 1-17 1 4 1 3 1-10 1-6 1-11 1 10 1 1 1 0 1-31 1-8 1 0 1-17 1 5 1 5 1 3 1 2 1 7 1 1 1-8 1-10 1-10 1-8 1 13 1-2 1-4 1 3 1-7 1-17 1 10 1-4 1-4 1 1 1-20 1 5 1-3 1-18 1 8 1-2 1-21 1 28 1-5 1 0 1-5 1-17 1 4 1-10 1 4 1 13 1 1 1 3 1-19 1 1 1-1 1-5 1-14 1-14 1 12 1 21 1-6 1 1 1-8 1-16"/>
<path vector-effect="non-scaling-stroke" d="M0 321l1-7 1 17 1-8 1-6 1 16 1-7 1 6 1-13 1 3 1 8 1 2 1-11 1 7 1-1 1-9 1-1 1 12 1 10 1-2 1-9 1 15 1-26 1-5 1 6 1-10 1-5 1-2 1 19 1-6 1 18 1 0 1-2 1 6 1-6 1-8 1 13 1-21 1-11 1 5 1 3 1 5 1-21 1 15 1-1 1 9 1-14 1 2 1 9 1 0 1-19 1 15 1-4 1-2 1-11 1-7 1 1 1-14 1-17 1 19 1 9 1-5 1 6 1 2 1-9 1-9 1-16 1 2 1 2 1-5 1-19 1 24 1 1 1-8 1-19 1 11 1-14 1 13 1 10 1-7 1 20 1-6 1 3 1-8 1-15 1 7 1-6 1-5 1 4 1-19 1 0 1-3 1-2 1-7 1-7 1-1 1-7 1 20 1 9 1-27 1-5 1 6 1-5 1-32 1 2 1 6 1-8 1-18 1 33 1-22 1-9 1 9 1-1 1-14 1-16 1 8 1-14 1-7 1 16"/>
<path vector-effect="non-scaling-stroke" d="M0 297l1-6 1 9 1-19 1 10 1 4 1 10 1 7 1-19 1 32 1-14 1-5 1 38 1-13 1 9 1-6 1 5 1-1 1-5 1 2 1-9 1 8 1-19 1 6 1 8 1-21 1 1 1-22 1 10 1 9 1-4 1 3 1 13 1-12 1 15 1 7 1 3 1-28 1 6 1-15 1-4 1 3 1 21 1-1 1-9 1 14 1 7 1-17 1 7 1-13 1 14 1-10 1 19 1-9 1-2 1-11 1 1 1 3 1 2 1 5 1 14 1-20 1 7 1-9 1-10 1-3 1-4 1-5 1 12 1-20 1 13 1-14 1 12 1-18 1-16 1 30 1 0 1-4 1-13 1 10 1 0 1-3 1-7 1-1 1-4 1 3 1-13 1-1 1-32 1 12 1 10 1-9 1-6 1-6 1 13 1 0 1-12 1 5 1-15 1 4 1 6 1-24 1 18 1-15 1 7 1-2 1-10 1 12 1 2 1 20 1-6 1-4 1-9 1-11 1-6 1-6 1 8 1-11 1-26"/>
<path vector-effect="non-scaling-stroke" d="M0 340l1-5 1 15 1-6 1-11 1 1 1-12 1 8 1-32 1 8 1 27 1-19 1 1 1-15 1-6 1 19 1 2 1-16 1 7 1 8 1 8 1-2 1-5 1-2 1-11 1 4 1-1 1-7 1-7 1 1 1-4 1-1 1 6 1 8 1 4 1 2 1-5 1-9 1 9 1 5 1-9 1-3 1 18 1-15 1 11 1-12 1-11 1 0 1 11 1 0 1-15 1 2 1 2 1 15 1 7 1-8 1 2 1 3 1-10 1 0 1 10 1-6 1-8 1-9 1-8 1 8 1-4 1-6 1-3 1 0 1-3 1 13 1-10 1 0 1 11 1-19 1 1 1 13 1-7 1 4 1 11 1-3 1-6 1-14 1-11 1-11 1 9 1-5 1-3 1-3 1 9 1 14 1-26 1-5 1-14 1 11 1-5 1 20 1-21 1-19 1 4 1 11 1-2 1 13 1-7 1-2 1-12 1-1 1 3 1-21 1 8 1-8 1-29 1 10 1-6 1 0 1 15 1-18 1-1"/>
<path vector-effect="non-scaling-stroke" d="M0 332l1 3 1-1 1-13 1 16 1-14 1 0 1 6 1-3 1 7 1-16 1 11 1-14 1-6 1-2 1 16 1-10 1 0 1-4 1 6 1 11 1-5 1-10 1-5 1 17 1-16 1 0 1-13 1 8 1-13 1 18 1 0 1 15 1-11 1-6 1-1 1 1 1-15 1 13 1 19 1-11 1-9 1 3 1-1 1 4 1 11 1 1 1 0 1-17 1-2 1 7 1-4 1-1 1 6 1-20 1-18 1 0 1 12 1 15 1 3 1-20 1 1 1-18 1 5 1 1 1-10 1 3 1-2 1 9 1-3 1-2 1-17 1 8 1-13 1 18 1 4 1 0 1-9 1 17 1 5 1-9 1 1 1-5 1-5 1-9 1-8 1-14 1 5 1-18 1 13 1 20 1-7 1-6 1-10 1 14 1-22 1 6 1-11 1 0 1 8 1-13 1 17 1 3 1-25 1-11 1-4 1-17 1 3 1-23 1 12 1-5 1-2 1-16 1 1 1 8 1 15 1 6 1-26 1 10"/>
<path vector-effect="non-scaling-stroke" d="M0 331l1-7 1-14 1-7 1 8 1-11 1 3 1 3 1 4 1-2 1 2 1 15 1 10 1-22 1 10 1 0 1-11 1-3 1 12 1 14 1-28 1-2 1 9 1 2 1 0 1 5 1-3 1 0 1 21 1-13 1 3 1-12 1-12 1 4 1-7 1 4 1 10 1-13 1 22 1-11 1 16 1 3 1-9 1 7 1-11 1-15 1-9 1 2 1 14 1-2 1 20 1-7 1-5 1-6 1 3 1-17 1-1 1-1 1-12 1-10 1 1 1 4 1 15 1-12 1 7 1-15 1 5 1 7 1-19 1 3 1 2 1-16 1-6 1 1 1-5 1 15 1-2 1-20 1 4 1 19 1-11 1-2 1 9 1 2 1-9 1 2 1-5 1-5 1-18 1-1 1-9 1-11 1 5 1-15 1 24 1 9 1-24 1-3 1 6 1-2 1 12 1-14 1 8 1-10 1-14 1-5 1 8 1-29 1 6 1-11 1-17 1 13 1-9 1 13 1-13 1-1 1-3 1-9 1 0"/>
<path vector-effect="non-scaling-stroke" d="M0 316l1 2 1 3 1 8 1-18 1-5 1 2 1-5 1 4 1-5 1-7 1 15 1-10 1 6 1 5 1-13 1 8 1-13 1 8 1 17 1-5 1-10 1 26 1-11 1-1 1 10 1-3 1-11 1 5 1 3 1 2 1-1 1 0 1 14 1-28 1 13 1-23 1 4 1-11 1 10 1 10 1 2 1 13 1 8 1 3 1-6 1-8 1-2 1 14 1-10 1 2 1-30 1 14 1 9 1 6 1-10 1-5 1-2 1-10 1-9 1 19 1-3 1-12 1 7 1 4 1-9 1 5 1-5 1 1 1-20 1-2 1 1 1 3 1-17 1-9 1-3 1 12 1-4 1 1 1-15 1-12 1 0 1-3 1-16 1 6 1 5 1 22 1-15 1-2 1 0 1-1 1-12 1 20 1-30 1-13 1-3 1 5 1 24 1 7 1-25 1 12 1-18 1-1 1-5 1 3 1 7 1-7 1-29 1 7 1-10 1-8 1 19 1-9 1 5 1-14 1-2 1 9 1-9 1 9"/>
</g>
<g transform="matrix(2.859 0 0 0.5 1152.7 0)" fill="none" stroke="#a0a030" stroke-width="0.8" stroke-opacity="0.18" stroke-linejoin="round">
<path vector-effect="non-scaling-stroke" d="M0 306l1 1 1 1 1 2 1-1 1 2 1 0 1-3 1 0 1-2 1 0 1 3 1-4 1 3 1-2 1 1 1-1 1 0 1 0 1 2 1 0 1 0 1 1 1 1 1 0 1-1 1 2 1 1 1 1 1 2 1-1 1-2 1-1 1 4 1 1 1-1 1-1 1 0 1-1 1 5 1-3 1 0 1-2 1 4 1 0 1 0 1 0 1 0 1-1 1 2 1 1 1-4 1-1 1 0 1-2 1-2 1 6 1-1 1 3 1-1 1 0 1 3 1-5 1 4 1-1 1 0 1-1 1-2 1 1 1-2 1 0 1 2 1 0 1 5 1-1 1-1 1 1 1-1 1 2 1-4 1-2 1 2 1-1 1 3 1 2 1 0 1-4 1 0 1-1 1 4 1-2 1 1 1 0 1 2 1-2 1 1 1 0 1 0 1 2 1-2 1-4 1-1 1 4 1-2 1-1 1-1 1-1 1-1 1 2 1-1 1 0 1-1 1 1 1 1 1-3 1 4 1-2 1-3 1 3"/>
<path vector-effect="non-scaling-stroke" d="M0 312l1 3 1-2 1 0 1-1 1 2 1-2 1 3 1-2 1-2 1 0 1 1 1 0 1-3 1 5 1-1 1 0 1-1 1 0 1 2 1-3 1 2 1-1 1 1 1 0 1 1 1-3 1 1 1 3 1-4 1 3 1 1 1 1 1-4 1 2 1 1 1-2 1 5 1-1 1-3 1 2 1 1 1-1 1-1 1 2 1-3 1 0 1 2 1-2 1-1 1 3 1 2 1-4 1 2 1 0 1 1 1-1 1 0 1 1 1 0 1 1 1-2 1 2 1-3 1 4 1 1 1 0 1-3 1 3 1-4 1 0 1 1 1-2 1 2 1 1 1 1 1-2 1 1 1-4 1 2 1 4 1-1 1-1 1 2 1 3 1-1 1-8 1 6 1-3 1 0 1 2 1-2 1 1 1-2 1-4 1 1 1 0 1 3 1 1 1-4 1 0 1 1 1 2 1 0 1 0 1 2 1 1 1-1 1 3 1-2 1 1 1-2 1-1 1-1 1 2 1 1 1-1 1-2 1 0"/>
<path vector-effect="non-scaling-stroke" d="M0 310l1 3 1-3 1 5 1 1 1-3 1-1 1-4 1 0 1 2 1 0 1 1 1-3 1 3 1 0 1 0 1 1 1 3 1-2 1-1 1-2 1-1 1-3 1 0 1-2 1 0 1 1 1-2 1 5 1-3 1 0 1 1 1-2 1 2 1 2 1-5 1 2 1 1 1-1 1 4 1-2 1 2 1 0 1 3 1-2 1-1 1 4 1 1 1-3 1 6 1-4 1 0 1 0 1-1 1 5 1-2 1 1 1 1 1 1 1 0 1 1 1 0 1-1 1-1 1 1 1 0 1-1 1 0 1-1 1-1 1 4 1-3 1 3 1-2 1-1 1-3 1 4 1-5 1 1 1 2 1 3 1 1 1-4 1-1 1 2 1 0 1-2 1-1 1 1 1 0 1 1 1 3 1 1 1-3 1 4 1-5 1 5 1-1 1 0 1-2 1 2 1-1 1-2 1 3 1-2 1 0 1 1 1-3 1-1 1 4 1 0 1 5 1-7 1 3 1-3 1 0 1 0 1 1 1 2"/>
<path vector-effect="non-scaling-stroke" d="M0 307l1 0 1 1 1 0 1-1 1 1 1 0 1 1 1 0 1 0 1-2 1-1 1 1 1 1 1 3 1-3 1-1 1 2 1-1 1-1 1-2 1 4 1 3 1-3 1 2 1 2 1-3 1 0 1-2 1 1 1-1 1 2 1 0 1 0 1-3 1 1 1-2 1 0 1 1 1-2 1 2 1-1 1 2 1 3 1 1 1 0 1 1 1 2 1 1 1 2 1-3 1 1 1-4 1 1 1-1 1 3 1 0 1-1 1 1 1-1 1 6 1-3 1 1 1-5 1 0 1 5 1-5 1-1 1 1 1 6 1-3 1 5 1-1 1-1 1 2 1-2 1 3 1-3 1 1 1-1 1-2 1 1 1 4 1-4 1-4 1-2 1-2 1 4 1-1 1-2 1 2 1 2 1 1 1-1 1 0 1-3 1 2 1 2 1 5 1 0 1-3 1-1 1 3 1-1 1-2 1 1 1 1 1-1 1 0 1 0 1 1 1 3 1-2 1 4 1 2 1-2 1-1 1-1 1 1"/>
<path vector-effect="non-scaling-stroke" d="M0 310l1 3 1-3 1 3 1 1 1-3 1 4 1-3 1 1 1-1 1 2 1 1 1 1 1-2 1 1 1-7 1 4 1 1 1-3 1-2 1 2 1 1 1 3 1 0 1-1 1-3 1 4 1 0 1-4 1 0 1 0 1 2 1 0 1 3 1 1 1 1 1-1 1 1 1-1 1-7 1 5 1 0 1 0 1 1 1 2 1 0 1-2 1 0 1-3 1 3 1-1 1 1 1 2 1-2 1 0 1-2 1 5 1-3 1 0 1 1 1-4 1 1 1 2 1 0 1 1 1-1 1-1 1 0 1 1 1 2 1-5 1 3 1-2 1 2 1 2 1 1 1-3 1 0 1-2 1 1 1 1 1 5 1-6 1 3 1-1 1 1 1-4 1 3 1 0 1-3 1-1 1 1 1-4 1 5 1-1 1 0 1 2 1 0 1-1 1 1 1-3 1-1 1 0 1 5 1-2 1 1 1 0 1 1 1-1 1-2 1-1 1 3 1 0 1-4 1 0 1 0 1 1 1-1 1 2"/>
<path vector-effect="non-scaling-stroke" d="M0 309l1 3 1 1 1-3 1 3 1 2 1-7 1 1 1 1 1-1 1 3 1 0 1-1 1 0 1 0 1-2 1 1 1 1 1 2 1-5 1-3 1 2 1-2 1 3 1 0 1 3 1-4 1 1 1 2 1 1 1 1 1-3 1 3 1 0 1 1 1-6 1 4 1 2 1-4 1 1 1 0 1 3 1 0 1-5 1 2 1-4 1 5 1 1 1-1 1-1 1 3 1-2 1-1 1-2 1 0 1 1 1 0 1-4 1 4 1 1 1-2 1 0 1-2 1 4 1-2 1 0 1-3 1 2 1 2 1 0 1-1 1 3 1-1 1 5 1-1 1 0 1 2 1-1 1-1 1 4 1-3 1-1 1 1 1-2 1-3 1 2 1 1 1 1 1-3 1 0 1 0 1-1 1 5 1 0 1-2 1-1 1-1 1 4 1-3 1 3 1 0 1 0 1 0 1-2 1 2 1 0 1 2 1-1 1 0 1 0 1-2 1 4 1-3 1-1 1 2 1 1 1-1 1 1 1-2"/>
<path vector-effect="non-scaling-stroke" d="M0 309l1 4 1-6 1 1 1 2 1 0 1 1 1-1 1 1 1-4 1 4 1-1 1-2 1 5 1-6 1 2 1 2 1 2 1-2 1 0 1-2 1-1 1 3 1 0 1-3 1 2 1 0 1 2 1 2 1-1 1 0 1 2 1 0 1-2 1 0 1-5 1 6 1 1 1-2 1 4 1-2 1-1 1 1 1-1 1 4 1 0 1 0 1 0 1-4 1 1 1 0 1 0 1 0 1 1 1-1 1 1 1-3 1 2 1 1 1 3 1 0 1 2 1-3 1 2 1 0 1-2 1 0 1 2 1-1 1 0 1 1 1 2 1 0 1-1 1-4 1 1 1 1 1-2 1-4 1 1 1 1 1 1 1-3 1 4 1-3 1 6 1 0 1 0 1-5 1-1 1 1 1 0 1 0 1 2 1-1 1 4 1-2 1 1 1-2 1 3 1-1 1 0 1-2 1 1 1-3 1 3 1-7 1 3 1 1 1-1 1-1 1 3 1 3 1-2 1 1 1 0 1 2 1 1 1 0"/>
</g>
<g transform="matrix(2.859 0 0 0.5 1152.7 0)" fill="none" stroke="#a3a3d8" stroke-width="0.8" stroke-opacity="0.18" stroke-linejoin="round">
<path vector-effect="non-scaling-stroke" d="M0 283l1-12 1 5 1 6 1 0 1 17 1-4 1 3 1 1 1-9 1 3 1-7 1 6 1 10 1 1 1-9 1 10 1 2 1-1 1 6 1-3 1-11 1 7 1-20 1 9 1 6 1-2 1-14 1 13 1-24 1 21 1 0 1 6 1 2 1 6 1-21 1 14 1-7 1 4 1 2 1 11 1 3 1 0 1-12 1 10 1-13 1-5 1 6 1 4 1 11 1 11 1 1 1 0 1 4 1-5 1-1 1-4 1 1 1-8 1 8 1 0 1-11 1-4 1-3 1 10 1 0 1 4 1 8 1 1 1-6 1 12 1-11 1 6 1-5 1 3 1 2 1-20 1 17 1-10 1 5 1 1 1 4 1 2 1 10 1-1 1 1 1 2 1-5 1 5 1-11 1 13 1-25 1 7 1-6 1 8 1-3 1 18 1-1 1 1 1 2 1 5 1 10 1 2 1 5 1-14 1-3 1 10 1-15 1 4 1-10 1-7 1 5 1 11 1 10 1-10 1-8 1 1 1 4 1-20"/>
<path vector-effect="non-scaling-stroke" d="M0 319l1-13 1-2 1 1 1-7 1 6 1-4 1 0 1 1 1 1 1-2 1 13 1-8 1 10 1-2 1-4 1 3 1-3 1-6 1 0 1-1 1-1 1-7 1 10 1-15 1 7 1-5 1 12 1 7 1-12 1 6 1-1 1 9 1 0 1 6 1-5 1 5 1 1 1-11 1 1 1-6 1 7 1-8 1 6 1 6 1-4 1 2 1 13 1 6 1-7 1-6 1-9 1 3 1 0 1 5 1 8 1 0 1 1 1 10 1-11 1-2 1 8 1 5 1-4 1-1 1 14 1-13 1 11 1-10 1 5 1-2 1 4 1 3 1-1 1 4 1 0 1-8 1-12 1 9 1 5 1-7 1 10 1-3 1 6 1 1 1-20 1 18 1-20 1 7 1 2 1-1 1-12 1 7 1-22 1 16 1 5 1 6 1-6 1 6 1 10 1-2 1-4 1-1 1 1 1-4 1 4 1 16 1-3 1 2 1-19 1 0 1 8 1-11 1-1 1 4 1-5 1 0 1 3 1-9"/>
<path vector-effect="non-scaling-stroke" d="M0 306l1-3 1-3 1 7 1-13 1 8 1-5 1-5 1 2 1-3 1 8 1-6 1-12 1 0 1 3 1 8 1-3 1-7 1 6 1 2 1 2 1-12 1 6 1 9 1 9 1-1 1-8 1 8 1 6 1-7 1-3 1 1 1 1 1 0 1-4 1-4 1 14 1-11 1-15 1 2 1 12 1-6 1 4 1 7 1 2 1 5 1 4 1 4 1-1 1 1 1-4 1-7 1 3 1 15 1-5 1 4 1 8 1-1 1-10 1-6 1 9 1 1 1 7 1-3 1-4 1 7 1-8 1 0 1-1 1 1 1 3 1 9 1-12 1 5 1-4 1 8 1-1 1 6 1 2 1-9 1-3 1 5 1-15 1-5 1 6 1 5 1 13 1-6 1 1 1 10 1 1 1-13 1 3 1-7 1-5 1 16 1-12 1 13 1 7 1-6 1 1 1 7 1-3 1-13 1-10 1 9 1 13 1-1 1-15 1 12 1-1 1-8 1 10 1 11 1 3 1-7 1 15 1-9 1 4"/>
<path vector-effect="non-scaling-stroke" d="M0 317l1 3 1-8 1-4 1 4 1 4 1-4 1-6 1-8 1 12 1-18 1-1 1-8 1 1 1-1 1-5 1 12 1 6 1-11 1 5 1 3 1 2 1-13 1 15 1-7 1 6 1 0 1 0 1-3 1 9 1-3 1 14 1-7 1 6 1-2 1 5 1-6 1-9 1-6 1-7 1 7 1-5 1-1 1 3 1 15 1 8 1-4 1 1 1 7 1-4 1 9 1-8 1 3 1 2 1-4 1 2 1 6 1-7 1-11 1 5 1 2 1-2 1 1 1 6 1-7 1 7 1-7 1 6 1-6 1 18 1 3 1-7 1-5 1 0 1 2 1 3 1-5 1 4 1 11 1-2 1 5 1-7 1 10 1 7 1-11 1-7 1 12 1-4 1 6 1 5 1 6 1-6 1-1 1-9 1 7 1-19 1 4 1 14 1-1 1-11 1-3 1 4 1 9 1-10 1-2 1 10 1-2 1-1 1 1 1-3 1 2 1-1 1-1 1-1 1-9 1-3 1-1 1 17 1-13"/>
<path vector-effect="non-scaling-stroke" d="M0 326l1 3 1 3 1-6 1 3 1-5 1-5 1 5 1-8 1 16 1-2 1 8 1-2 1-15 1 2 1-4 1 3 1 10 1-12 1-3 1-1 1-8 1 18 1-4 1 20 1-9 1-8 1-6 1 2 1-4 1 14 1-17 1-4 1 7 1-5 1 6 1-1 1 4 1 4 1-16 1 4 1 6 1 7 1-4 1-8 1 4 1-10 1 3 1-5 1 13 1-4 1 7 1-17 1 4 1-5 1 11 1-2 1-2 1-1 1 28 1-13 1 5 1 3 1-11 1 0 1 7 1 13 1-10 1 6 1-2 1-10 1 2 1 4 1 3 1 5 1-2 1 5 1-10 1-2 1 4 1-2 1 0 1-5 1 5 1-15 1 13 1-3 1-2 1 7 1-2 1 1 1 1 1-9 1 2 1 8 1 3 1-6 1 10 1-1 1-17 1 11 1-8 1-1 1-1 1-1 1 4 1-14 1 6 1 2 1-9 1 12 1-1 1-13 1 13 1-8 1-2 1-1 1-1 1 10"/>
<path vector-effect="non-scaling-stroke" d="M0 296l1-6 1-2 1-7 1 3 1 1 1 4 1-8 1 10 1-8 1 8 1 1 1 3 1 3 1-6 1-2 1 1 1 12 1-12 1 14 1-10 1-9 1 4 1 1 1 7 1-3 1-3 1 12 1-5 1 12 1-5 1-6 1 17 1-6 1-4 1-10 1 17 1-1 1 7 1 10 1-18 1 9 1 0 1 6 1-8 1-9 1-4 1 9 1 8 1-7 1 0 1 8 1-3 1-3 1 9 1-4 1 3 1 5 1-2 1-4 1-6 1 17 1 9 1-12 1 12 1-6 1 2 1 0 1 0 1-2 1 23 1-14 1 9 1-3 1 1 1-9 1 1 1 6 1-5 1-6 1 2 1 4 1 3 1-13 1 16 1-9 1 0 1 2 1-12 1-4 1 7 1 9 1 2 1 18 1-3 1-12 1 4 1 5 1-3 1-2 1 6 1-5 1-14 1 11 1-1 1-10 1 3 1-3 1 11 1 1 1-6 1-2 1-2 1 3 1-11 1 6 1-10 1 0 1-8"/>
<path vector-effect="non-scaling-stroke" d="M0 321l1 2 1-7 1 6 1 8 1-6 1 3 1-4 1-2 1 4 1-10 1 5 1 4 1-1 1 9 1-13 1-8 1 9 1-5 1-1 1-4 1-15 1 18 1-8 1-5 1-5 1-7 1 6 1-2 1 5 1-1 1 4 1-3 1 9 1-1 1-10 1 11 1-8 1 15 1-12 1 3 1 4 1-11 1 14 1-8 1 2 1 2 1-6 1 14 1-16 1 20 1-9 1 6 1-11 1 1 1 6 1-11 1 14 1-16 1-9 1 0 1 6 1-7 1 22 1-9 1-8 1-4 1 5 1 5 1-5 1-1 1 17 1 9 1-15 1 11 1-1 1-5 1 5 1 16 1-4 1 1 1 9 1 8 1-10 1 1 1 9 1-6 1 5 1-3 1 5 1-4 1-8 1 3 1-6 1 1 1 2 1 1 1 12 1-5 1 8 1-5 1-18 1-6 1 5 1 6 1-3 1 8 1 5 1-4 1 9 1 2 1 3 1-2 1-1 1-4 1-9 1 0 1-3 1 0"/>
</g>
<g transform="matrix(2.859 0 0 0.5 1152.7 0)" fill="none" stroke="#a83030" stroke-width="0.8" stroke-opacity="0.18" stroke-linejoin="round">
<path vector-effect="non-scaling-stroke" d="M0 326l1-3 1 8 1 0 1-3 1-6 1-6 1 3 1 2 1 9 1-5 1-7 1-10 1 2 1-5 1 11 1-1 1 17 1-12 1-1 1-6 1 4 1 8 1-1 1-15 1 2 1 1 1-4 1 22 1 5 1-15 1-2 1 7 1 9 1-5 1-10 1 12 1-12 1 5 1 2 1-12 1-2 1 14 1-13 1 12 1-10 1-18 1 2 1-1 1 3 1 11 1 21 1-15 1-1 1 13 1 2 1 8 1-4 1-18 1-20 1 17 1 3 1-1 1-3 1-4 1 10 1-10 1 7 1-7 1-9 1 2 1 3 1 1 1 1 1-12 1 4 1-5 1 1 1 5 1 0 1 1 1-18 1 10 1 17 1-6 1-8 1-1 1 6 1-2 1-29 1 5 1-7 1 2 1 0 1-22 1 6 1 7 1 20 1 9 1-1 1-6 1-6 1 1 1 9 1-24 1 12 1 10 1-11 1 12 1-14 1 7 1-9 1 10 1-17 1-14 1 12 1-12 1 8 1 14"/>
<path vector-effect="non-scaling-stroke" d="M0 314l1-19 1 14 1-2 1-8 1 4 1 7 1 9 1-5 1 2 1 7 1-11 1-3 1 13 1-11 1 6 1-1 1 16 1-3 1-9 1 14 1-11 1-16 1 12 1-6 1-14 1 17 1-5 1-4 1-4 1 7 1 3 1-12 1 16 1-17 1 21 1-1 1 4 1-5 1 3 1-3 1-4 1 7 1-8 1 2 1 1 1 3 1 5 1-7 1-12 1-8 1 5 1 4 1 5 1-1 1-11 1 7 1-9 1 22 1-18 1-10 1 0 1-4 1 2 1 2 1 7 1-12 1 19 1-26 1 9 1 11 1 6 1 14 1-2 1 4 1-3 1-6 1-15 1-7 1 0 1-2 1 3 1-20 1 2 1 21 1-10 1 12 1-5 1-4 1 2 1 4 1-8 1 8 1-4 1 2 1-3 1 0 1 2 1 10 1-5 1-9 1 5 1-10 1-6 1 9 1 5 1 8 1-10 1-3 1-16 1 1 1 2 1 4 1-28 1 12 1-27 1 13 1-19 1 16"/>
<path vector-effect="non-scaling-stroke" d="M0 321l1 3 1-1 1-18 1 5 1 4 1 1 1 1 1-11 1 0 1-2 1 6 1 1 1 11 1-11 1 5 1-9 1 13 1 0 1-3 1-9 1 2 1-1 1 0 1 5 1 4 1-10 1-1 1-11 1 19 1-17 1 7 1 2 1 7 1-7 1-1 1-11 1-2 1 6 1-4 1 21 1-5 1-9 1 26 1-8 1-7 1-6 1-17 1 2 1 0 1 3 1 18 1 2 1 6 1-10 1 13 1 6 1-12 1-2 1 6 1 0 1-6 1 9 1-15 1 3 1-1 1-17 1-16 1 19 1-1 1 7 1 8 1 5 1 0 1-21 1 9 1-1 1 11 1-5 1 0 1-11 1 16 1-11 1 9 1-4 1-11 1 2 1 0 1 1 1 5 1-1 1-12 1-7 1 7 1-7 1-17 1-5 1 10 1-19 1 12 1 3 1 18 1-13 1 4 1-3 1 1 1 3 1-9 1 9 1-4 1 14 1-4 1-6 1 5 1-17 1 13 1-8 1-5 1-9"/>
<path vector-effect="non-scaling-stroke" d="M0 306l1 12 1 0 1 5 1-2 1 3 1-4 1 5 1-10 1 1 1 12 1-27 1 1 1 4 1-2 1 5 1 4 1 3 1-19 1 7 1 6 1 8 1 7 1-5 1 1 1-2 1 8 1 7 1-14 1-7 1 17 1-14 1 23 1-18 1-12 1 5 1 18 1-14 1-14 1 8 1 2 1 14 1-15 1-9 1 15 1-6 1 0 1 7 1 4 1 1 1-7 1-11 1 10 1-2 1 9 1-3 1 1 1 1 1 2 1-20 1 17 1-10 1 15 1-16 1 1 1 8 1 9 1 5 1-15 1-1 1-15 1 5 1 20 1-16 1-13 1 10 1-1 1 10 1 0 1-9 1-5 1 21 1-6 1-10 1 0 1-13 1 13 1 1 1 7 1-4 1-10 1 4 1-32 1 25 1-3 1-12 1-25 1 19 1 10 1-7 1-1 1-5 1-6 1 8 1 10 1 1 1-14 1 7 1-12 1-11 1-11 1 2 1 1 1 16 1-4 1 6 1-9 1-4 1 2"/>
<path vector-effect="non-scaling-stroke" d="M0 331l1-2 1-5 1 9 1-5 1-1 1-8 1 6 1-6 1 5 1-4 1-6 1 12 1-10 1 2 1-3 1-10 1-5 1 13 1-1 1-3 1 6 1 8 1-17 1-1 1 11 1 11 1-2 1-4 1-11 1 13 1-9 1 5 1 21 1-9 1 11 1-17 1 1 1 5 1-2 1 5 1-8 1 11 1-16 1-12 1 8 1-15 1 20 1-8 1 12 1-3 1 0 1-1 1-15 1 4 1 11 1 7 1 4 1-4 1 6 1-6 1-6 1 8 1-25 1 15 1-18 1-4 1 1 1 9 1-1 1-5 1 4 1-19 1-2 1 23 1 0 1 3 1 9 1-11 1 3 1-4 1 3 1 4 1-13 1 9 1-14 1-6 1 10 1 0 1-7 1 8 1 1 1-8 1-7 1-17 1 13 1-8 1 5 1-1 1-21 1 11 1 9 1-12 1 1 1 3 1 5 1-8 1 15 1-19 1 8 1-12 1-12 1 16 1-9 1-4 1 6 1-13 1 14 1 0"/>
<path vector-effect="non-scaling-stroke" d="M0 315l1-9 1 15 1-11 1 5 1-3 1-1 1 7 1-5 1-6 1 11 1 3 1-1 1 4 1 3 1-2 1-3 1 7 1-3 1-5 1 20 1-2 1-4 1 15 1-15 1 2 1 7 1-12 1 16 1 0 1-17 1-11 1 2 1 11 1 10 1-21 1-3 1 16 1-19 1 2 1-7 1 11 1 7 1-1 1-15 1-1 1-6 1 3 1 2 1-8 1 5 1-20 1 8 1 9 1-9 1 14 1 2 1-2 1-3 1-3 1-11 1 9 1 2 1-3 1-11 1 7 1 10 1-14 1 6 1-11 1 11 1-1 1-2 1 4 1 6 1 21 1-12 1 19 1-21 1 10 1 6 1-1 1-13 1-17 1 7 1-3 1 5 1-2 1 4 1-2 1-15 1-1 1-7 1-8 1-1 1 5 1-9 1-10 1-6 1 17 1-1 1 5 1-12 1 17 1-8 1 4 1 10 1-7 1 11 1-17 1-9 1 10 1-10 1-21 1-9 1 8 1-3 1 2 1 12"/>
<path vector-effect="non-scaling-stroke" d="M0 332l1-4 1 7 1 12 1-30 1 10 1-8 1 0 1 8 1 5 1 3 1-9 1-8 1 2 1-8 1-1 1 6 1-2 1-4 1 6 1-5 1-11 1 11 1-8 1 0 1-4 1 4 1 3 1-3 1 4 1-6 1 14 1-26 1 16 1-4 1-16 1 9 1-14 1 3 1 6 1-9 1 16 1-19 1 7 1-11 1 4 1 2 1-10 1 22 1 3 1-20 1 8 1 6 1 1 1-4 1 10 1 12 1-6 1-1 1 7 1-17 1 4 1 7 1 24 1-14 1-6 1 0 1 10 1-17 1 8 1-11 1 24 1-4 1 7 1-10 1-12 1 3 1 5 1-1 1-6 1 12 1-13 1 11 1 0 1 5 1-14 1 1 1-5 1-1 1 12 1 11 1 0 1-5 1 0 1-12 1 8 1-9 1-12 1-11 1-4 1 14 1-1 1-3 1-5 1-22 1 10 1 4 1 8 1-14 1 5 1 9 1-22 1 4 1 1 1 3 1-1 1-10 1 3 1-5"/>
</g>
<line x1="1139.4" x2="1502.7" y1="155.2" y2="155.2" stroke="#808080" stroke-width="2" stroke-dasharray="7.4 3.2"/>
<g transform="matrix(1.4295 0 0 0.2 1152.7 0)" fill="none" stroke="#8f8f8f" stroke-width="2.2" stroke-opacity="1" stroke-linejoin="round">
<path vector-effect="non-scaling-stroke" d="M0 765l1 0 1-1 1 0 1 2 1-1 1 1 1 0 1 1 1 0 1 0 1-2 1 1 1-4 1 7 1-3 1 0 1 0 1-1 1 5 1-4 1 3 1-1 1 3 1-4 1-2 1 1 1-1 1 2 1 1 1 1 1 0 1-1 1-1 1-2 1 5 1-1 1-1 1-1 1 2 1 0 1 0 1 0 1 2 1-4 1 3 1 0 1 0 1-3 1 3 1-2 1 1 1 2 1-2 1 0 1 3 1-1 1 1 1 0 1-3 1 2 1 0 1 0 1 1 1-2 1 0 1 2 1-1 1-1 1 3 1-1 1 2 1-3 1 1 1 3 1-2 1 0 1-1 1 2 1-1 1 0 1-1 1 1 1 2 1-1 1 0 1 0 1-2 1 2 1-1 1 1 1-1 1-1 1-2 1 5 1 2 1-1 1-2 1 0 1 5 1-1 1-2 1 2 1 1 1 1 1 0 1 4 1 0 1 3 1 1 1-1 1 1 1 3 1 0 1 1 1 2 1-3 1 6 1-2 1 3 1 3 1 1 1 1 1 4 1-1 1 1 1 0 1 0 1 2 1 5 1-2 1 1 1 3 1 0 1 4 1-1 1 2 1 2 1 1 1-1 1 3 1 5 1-2 1 3 1 0 1 5 1 1 1 0 1 5 1 1 1 1 1 2 1 0 1 1 1 2 1 3 1 0 1 4 1 4 1-2 1 2 1 0 1 5 1 4 1 1 1 4 1-1 1 3 1 1 1 2 1 3 1 0 1 5 1-1 1 4 1 3 1 1 1 0 1 5 1 3 1 5 1 0 1-1 1 4 1 3 1 2 1 1 1 3 1 2 1 0 1 5 1-1 1 5 1-2 1 5 1-2 1 4 1 0 1 6 1-2 1 2 1 4 1-2 1 7 1-2 1 4 1-1 1 5 1 0 1 3 1 1 1-1 1 4 1 1 1 3 1 1 1 2 1 1 1 2 1 5 1 2 1 1 1 2 1 1 1 3 1 1 1 3 1 3 1 1 1 1 1 4 1 0 1 3 1 0 1 2 1 3 1 4"/>
</g>
<g transform="matrix(1.4295 0 0 0.2 1152.7 0)" fill="none" stroke="#4dbf2a" stroke-width="2.2" stroke-opacity="1" stroke-linejoin="round">
<path vector-effect="non-scaling-stroke" d="M0 803l1 2 1-1 1-2 1 5 1-1 1-5 1 3 1 3 1-2 1 0 1-1 1-4 1 1 1 0 1 4 1 1 1-4 1-4 1 6 1-5 1 4 1-2 1-3 1 3 1-5 1 2 1 3 1-2 1 0 1-1 1 2 1 1 1-2 1 1 1-4 1 2 1 1 1-3 1-1 1 2 1-5 1 4 1 1 1-3 1 1 1-1 1 2 1 0 1-3 1-4 1 5 1 7 1-7 1 2 1-2 1-1 1 2 1 1 1-5 1 0 1 5 1-4 1 0 1 1 1 0 1-3 1 4 1-3 1 0 1 0 1 4 1-6 1 3 1-6 1 0 1 1 1 2 1-1 1-5 1 2 1-1 1-2 1-2 1-4 1 4 1-3 1-1 1 2 1-3 1-2 1 0 1 1 1-5 1-1 1 3 1-1 1-4 1 0 1 2 1-3 1 0 1-3 1-2 1 0 1-2 1-5 1 3 1-7 1 3 1 1 1-3 1-10 1 3 1 1 1-2 1-1 1-4 1-1 1-3 1-4 1-5 1 0 1-3 1-5 1 0 1-6 1-6 1 0 1-2 1-2 1-7 1 2 1-4 1-1 1-4 1-3 1-1 1-6 1 0 1-4 1-1 1-3 1-3 1-1 1-5 1 2 1-8 1 2 1-5 1-1 1-5 1 0 1-4 1-6 1 1 1-2 1 1 1-5 1-1 1-3 1-4 1-3 1-1 1-2 1-6 1-5 1-3 1-4 1 0 1-8 1 2 1-7 1-5 1-2 1-5 1-7 1 1 1-3 1-1 1-6 1-4 1-5 1-2 1-1 1-5 1-5 1 0 1-5 1-8 1-6 1 4 1-6 1-3 1-4 1-4 1-5 1-3 1 0 1-3 1-6 1-3 1-5 1-1 1-5 1-5 1-3 1-4 1-6 1-2 1 0 1-3 1-7 1-3 1-2 1-8 1-1 1-5 1-7 1-1 1-5 1-1 1 0 1-7 1-5 1-1 1-8 1-2 1-2 1-3 1-2 1-4 1-4 1-4 1-5 1-6 1-3"/>
</g>
<g transform="matrix(1.4295 0 0 0.2 1152.7 0)" fill="none" stroke="#8f8f12" stroke-width="2.6" stroke-opacity="1" stroke-linejoin="round">
<path vector-effect="non-scaling-stroke" d="M0 778l1-1 1-2 1-2 1 4 1-3 1 4 1-1 1 0 1 0 1-1 1 3 1-6 1 7 1-4 1 0 1 2 1 0 1-1 1 0 1 1 1-2 1-1 1 2 1-2 1 3 1-1 1 2 1 0 1-2 1 3 1-2 1-2 1 3 1 0 1 0 1 1 1 0 1-1 1 0 1 0 1 1 1-3 1 2 1 1 1 0 1-2 1 3 1-2 1 4 1-3 1 4 1-2 1-3 1 3 1-1 1-3 1 3 1 1 1-1 1 0 1 0 1 0 1 1 1 0 1-1 1 2 1 0 1-4 1 3 1 0 1 0 1 3 1-4 1 1 1 2 1-2 1 0 1-1 1-2 1 1 1 2 1 1 1 1 1-4 1 1 1 1 1 2 1-4 1 1 1 5 1-1 1-3 1 3 1-3 1 3 1-1 1 2 1-4 1 2 1 2 1 0 1-1 1 0 1-2 1 2 1 0 1 0 1-3 1 4 1-1 1-1 1 1 1 1 1 2 1-4 1 1 1 0 1 1 1 3 1-5 1 2 1 0 1-2 1 5 1-3 1-2 1 2 1 3 1-2 1 0 1-1 1-2 1 2 1-1 1 3 1-1 1 1 1-2 1 3 1-5 1 3 1 2 1-3 1 2 1 0 1 0 1-2 1 4 1-3 1 3 1 1 1-1 1-2 1 1 1-2 1 3 1-2 1 2 1 1 1-2 1 1 1-1 1 1 1 0 1-3 1 3 1 1 1-1 1 1 1-3 1 2 1 0 1-1 1 0 1 2 1 0 1 0 1-1 1 0 1-1 1 4 1-5 1 3 1 2 1-4 1 5 1-4 1 2 1-1 1-2 1 2 1 1 1-3 1 3 1 0 1 1 1-2 1 0 1 1 1 2 1-2 1 1 1-3 1-2 1 6 1-3 1 1 1 4 1-3 1 3 1-6 1 2 1 1 1-1 1 3 1-2 1 0 1 1 1-3 1 0 1 3 1 3 1-7 1 4 1 1 1-1 1-1 1-2 1 4 1-1 1-1 1 3 1-1 1 0 1-1 1 0"/>
</g>
<g transform="matrix(1.4295 0 0 0.2 1152.7 0)" fill="none" stroke="#9898cc" stroke-width="2.2" stroke-opacity="1" stroke-linejoin="round">
<path vector-effect="non-scaling-stroke" d="M0 759l1-6 1 3 1 1 1 1 1 1 1-1 1 0 1-2 1-1 1 4 1 1 1-1 1 0 1 1 1 4 1-3 1-5 1 7 1 3 1-5 1 2 1-4 1 2 1 0 1 0 1 1 1-1 1-1 1-2 1 6 1-6 1 6 1 3 1-1 1 0 1 0 1-3 1 3 1-4 1-2 1 5 1-6 1 8 1-2 1-1 1-3 1 4 1-2 1 3 1-1 1 1 1 1 1-3 1 3 1-7 1 6 1-1 1-2 1 7 1-1 1 1 1-4 1 3 1 0 1-1 1-2 1 7 1-4 1 3 1-3 1 0 1-4 1 2 1 8 1-1 1-6 1 3 1 2 1 0 1 0 1-3 1 2 1 5 1-3 1-7 1 4 1 6 1-5 1 0 1 5 1 0 1-2 1-1 1 1 1-4 1 5 1 0 1-1 1 0 1 0 1 3 1 3 1-2 1 1 1 0 1 0 1 1 1 1 1 6 1-1 1 2 1-3 1-2 1 6 1 2 1-2 1 4 1 0 1-4 1 12 1-6 1 2 1-2 1 2 1 6 1-2 1 3 1 0 1 4 1-3 1 6 1-6 1 5 1-4 1 6 1 2 1 4 1-6 1 1 1 0 1 4 1 0 1-1 1 4 1-1 1 3 1 3 1-4 1 0 1 2 1 7 1-4 1 1 1 0 1 8 1-3 1-1 1 0 1 3 1 3 1-1 1 3 1-3 1 5 1 2 1-2 1-1 1 1 1 5 1-2 1 3 1-1 1-3 1 2 1 0 1-2 1 7 1-2 1 0 1 3 1-1 1-2 1 3 1 0 1 0 1 3 1-4 1 6 1-4 1 2 1-3 1-2 1 5 1-7 1 2 1 1 1-2 1 3 1-5 1-2 1 6 1-8 1 3 1-1 1 5 1-6 1-5 1 2 1 2 1 7 1-10 1-1 1 4 1-5 1 5 1-3 1-4 1 3 1-8 1 4 1-2 1-3 1 0 1 4 1-4 1 1 1 0 1 1 1-3 1-3 1 1 1-1 1-1 1-2 1 4 1-6"/>
</g>
<g transform="matrix(1.4295 0 0 0.2 1152.7 0)" fill="none" stroke="#9b1c1c" stroke-width="2.2" stroke-opacity="1" stroke-linejoin="round">
<path vector-effect="non-scaling-stroke" d="M0 788l1 5 1-9 1 8 1-3 1 2 1 1 1 1 1-2 1-4 1 3 1 3 1-5 1 0 1-1 1 4 1-5 1 4 1-1 1-2 1 2 1-6 1 1 1 9 1-5 1 0 1-4 1 4 1 3 1-2 1-1 1-7 1-2 1 5 1 4 1-4 1 2 1-1 1 7 1-6 1 3 1 1 1-1 1-7 1 1 1 1 1-1 1 8 1-5 1-3 1 5 1-2 1-4 1-1 1 8 1-9 1-4 1 7 1-5 1 5 1-5 1 6 1-4 1 4 1 4 1-6 1 6 1-4 1-1 1-5 1 7 1-2 1 4 1-6 1-2 1-1 1 1 1-6 1 4 1-3 1-3 1 6 1-2 1-2 1-3 1 6 1-7 1-2 1-4 1 6 1 4 1 0 1-9 1 4 1-2 1 2 1-5 1-2 1 3 1-4 1 8 1-1 1-5 1-5 1 5 1 5 1-2 1-1 1 3 1-2 1 6 1-5 1 6 1-5 1 4 1-6 1 7 1-2 1 1 1 2 1 0 1-4 1-5 1 4 1 2 1-8 1 6 1 0 1 10 1-10 1-2 1 5 1-12 1 10 1-2 1-5 1-1 1 6 1-9 1 0 1-4 1 5 1 0 1-2 1 5 1-7 1 0 1 6 1-10 1 6 1 2 1-10 1 8 1-10 1 1 1 4 1-3 1 0 1 2 1-1 1 4 1-9 1-4 1 7 1-5 1-1 1 4 1-1 1-5 1-1 1-8 1 10 1-4 1 9 1-6 1-1 1-11 1 5 1 3 1 0 1-3 1-1 1-3 1 1 1 1 1-7 1 5 1-2 1-3 1 4 1-3 1-1 1-3 1 1 1 4 1-11 1 0 1 5 1-15 1 7 1-6 1-4 1 9 1-10 1 0 1 3 1-11 1 17 1-14 1-3 1-1 1-2 1 5 1-7 1-6 1 9 1-1 1-5 1-1 1-9 1 6 1-7 1 2 1 2 1-7 1-2 1 0 1-7 1-2 1 0 1-4 1 0 1 4 1-6 1-4 1-4 1 3"/>
</g>
</g>
<rect x="1139.4" y="64.5" width="363.3" height="181.3" fill="none" stroke="#000" stroke-width="2.7"/>
<line x1="1135.9" x2="1139.4" y1="230.7" y2="230.7" stroke="#000" stroke-width="0.9"/>
<text x="1132.4" y="235.9" font-size="14.4" text-anchor="end">−10</text>
<line x1="1135.9" x2="1139.4" y1="192.9" y2="192.9" stroke="#000" stroke-width="0.9"/>
<text x="1132.4" y="198.1" font-size="14.4" text-anchor="end">−5</text>
<line x1="1135.9" x2="1139.4" y1="155.2" y2="155.2" stroke="#000" stroke-width="0.9"/>
<text x="1132.4" y="160.3" font-size="14.4" text-anchor="end">0</text>
<line x1="1135.9" x2="1139.4" y1="117.4" y2="117.4" stroke="#000" stroke-width="0.9"/>
<text x="1132.4" y="122.6" font-size="14.4" text-anchor="end">5</text>
<line x1="1135.9" x2="1139.4" y1="79.6" y2="79.6" stroke="#000" stroke-width="0.9"/>
<text x="1132.4" y="84.8" font-size="14.4" text-anchor="end">10</text>
<line x1="1184.9" x2="1184.9" y1="245.8" y2="249.3" stroke="#000" stroke-width="0.9"/>
<text x="1184.9" y="263.4" font-size="14.4" text-anchor="middle">1880</text>
<line x1="1242.1" x2="1242.1" y1="245.8" y2="249.3" stroke="#000" stroke-width="0.9"/>
<text x="1242.1" y="263.4" font-size="14.4" text-anchor="middle">1920</text>
<line x1="1299.3" x2="1299.3" y1="245.8" y2="249.3" stroke="#000" stroke-width="0.9"/>
<text x="1299.3" y="263.4" font-size="14.4" text-anchor="middle">1960</text>
<line x1="1356.4" x2="1356.4" y1="245.8" y2="249.3" stroke="#000" stroke-width="0.9"/>
<text x="1356.4" y="263.4" font-size="14.4" text-anchor="middle">2000</text>
<line x1="1413.6" x2="1413.6" y1="245.8" y2="249.3" stroke="#000" stroke-width="0.9"/>
<text x="1413.6" y="263.4" font-size="14.4" text-anchor="middle">2040</text>
<line x1="1470.8" x2="1470.8" y1="245.8" y2="249.3" stroke="#000" stroke-width="0.9"/>
<text x="1470.8" y="263.4" font-size="14.4" text-anchor="middle">2080</text>
<text x="1137.3" y="58.6" font-size="19.9">(iii) Surface Air-Sea Fluxes</text>
<line x1="1152.7" x2="1184.7" y1="200.8" y2="200.8" stroke="#8f8f8f" stroke-width="2"/>
<text x="1195.7" y="206.4" font-size="14.4"><tspan font-weight="bold">Q</tspan><tspan font-size="12.4" font-style="italic" dy="2.3">lw</tspan></text>
<line x1="1152.7" x2="1184.7" y1="222.6" y2="222.6" stroke="#4dbf2a" stroke-width="2"/>
<text x="1195.7" y="228.2" font-size="14.4"><tspan font-weight="bold">Q</tspan><tspan font-size="12.4" font-style="italic" dy="2.3">sw</tspan></text>
<line x1="1251.9" x2="1283.9" y1="200.8" y2="200.8" stroke="#8f8f12" stroke-width="2"/>
<text x="1294.9" y="206.4" font-size="14.4"><tspan font-weight="bold">Q</tspan><tspan font-size="12.4" font-style="italic" dy="2.3">sh</tspan></text>
<line x1="1251.9" x2="1283.9" y1="222.6" y2="222.6" stroke="#9898cc" stroke-width="2"/>
<text x="1294.9" y="228.2" font-size="14.4"><tspan font-weight="bold">Q</tspan><tspan font-size="12.4" font-style="italic" dy="2.3">lh</tspan></text>
<line x1="1348.9" x2="1380.9" y1="200.8" y2="200.8" stroke="#9b1c1c" stroke-width="2"/>
<text x="1391.5" y="206.4" font-size="14.4"><tspan font-weight="bold">Q</tspan><tspan font-size="12.4" font-style="italic" dy="2.3">net</tspan></text>
<rect x="1139.4" y="388.2" width="363.3" height="181" fill="#fff"/>
<rect x="1142" y="388.2" width="235.4" height="181" fill="#f5f5ec"/>
<rect x="1376.5" y="388.2" width="122.9" height="181" fill="#eeeae7"/>
<g clip-path="url(#ci11)">
<g fill="#aaa6d8" fill-opacity="0.065" stroke="none" filter="url(#bl2)">
<path d="M1153 474 1161 474 1170 474 1178 474 1187 474 1196 474 1204 474 1213 474 1221 474 1230 474 1239 474 1247 474 1256 474 1264 474 1273 474 1281 474 1290 474 1299 474 1307 474 1316 474 1324 474 1333 474 1341 474 1350 474 1359 474 1367 474 1376 474 1384 474 1393 474 1401 474 1410 474 1419 474 1427 474 1436 474 1444 474 1453 474 1462 474 1470 474 1479 474 1487 474 1490 474L1490 486 1487 486 1479 486 1470 486 1462 486 1453 486 1444 486 1436 486 1427 486 1419 486 1410 486 1401 486 1393 486 1384 486 1376 486 1367 486 1359 486 1350 486 1341 486 1333 486 1324 486 1316 486 1307 486 1299 486 1290 486 1281 486 1273 486 1264 486 1256 486 1247 486 1239 486 1230 486 1221 486 1213 486 1204 486 1196 486 1187 486 1178 486 1170 486 1161 486 1153 486Z"/>
<path d="M1153 468 1161 468 1170 468 1178 468 1187 468 1196 468 1204 468 1213 468 1221 468 1230 468 1239 468 1247 468 1256 468 1264 468 1273 468 1281 468 1290 468 1299 468 1307 468 1316 468 1324 468 1333 468 1341 468 1350 468 1359 468 1367 468 1376 468 1384 468 1393 468 1401 468 1410 468 1419 468 1427 468 1436 468 1444 468 1453 468 1462 468 1470 468 1479 468 1487 468 1490 468L1490 492 1487 492 1479 492 1470 492 1462 492 1453 492 1444 492 1436 492 1427 492 1419 492 1410 492 1401 492 1393 492 1384 492 1376 492 1367 492 1359 492 1350 492 1341 492 1333 492 1324 492 1316 492 1307 492 1299 492 1290 492 1281 492 1273 492 1264 492 1256 492 1247 492 1239 492 1230 492 1221 492 1213 492 1204 492 1196 492 1187 492 1178 492 1170 492 1161 492 1153 492Z"/>
<path d="M1153 461 1161 461 1170 461 1178 461 1187 461 1196 461 1204 461 1213 461 1221 461 1230 461 1239 461 1247 461 1256 461 1264 461 1273 461 1281 461 1290 461 1299 461 1307 461 1316 461 1324 461 1333 461 1341 461 1350 461 1359 461 1367 461 1376 461 1384 461 1393 461 1401 461 1410 461 1419 461 1427 461 1436 461 1444 461 1453 461 1462 461 1470 461 1479 461 1487 461 1490 461L1490 499 1487 499 1479 499 1470 499 1462 499 1453 499 1444 499 1436 499 1427 499 1419 499 1410 499 1401 499 1393 499 1384 499 1376 499 1367 499 1359 499 1350 499 1341 499 1333 499 1324 499 1316 499 1307 499 1299 499 1290 499 1281 499 1273 499 1264 499 1256 499 1247 499 1239 499 1230 499 1221 499 1213 499 1204 499 1196 499 1187 499 1178 499 1170 499 1161 499 1153 499Z"/>
</g>
<g fill="#8a2a8a" fill-opacity="0.10400000000000001" stroke="none" filter="url(#bl2)">
<path d="M1153 471 1161 472 1170 472 1178 471 1187 471 1196 470 1204 469 1213 469 1221 468 1230 467 1239 467 1247 466 1256 466 1264 465 1273 465 1281 465 1290 467 1299 468 1307 469 1316 469 1324 469 1333 469 1341 469 1350 469 1359 469 1367 468 1376 468 1384 467 1393 466 1401 464 1410 463 1419 462 1427 460 1436 459 1444 458 1453 457 1462 456 1470 454 1479 451 1487 450 1490 450L1490 470 1487 470 1479 472 1470 474 1462 476 1453 478 1444 478 1436 480 1427 481 1419 482 1410 483 1401 485 1393 486 1384 487 1376 488 1367 488 1359 489 1350 489 1341 489 1333 489 1324 489 1316 489 1307 489 1299 488 1290 487 1281 486 1273 485 1264 485 1256 486 1247 486 1239 487 1230 487 1221 488 1213 489 1204 489 1196 490 1187 490 1178 491 1170 492 1161 492 1153 491Z"/>
<path d="M1153 461 1161 462 1170 462 1178 461 1187 461 1196 460 1204 459 1213 459 1221 458 1230 457 1239 457 1247 456 1256 456 1264 455 1273 455 1281 455 1290 457 1299 458 1307 459 1316 459 1324 459 1333 459 1341 459 1350 459 1359 458 1367 458 1376 457 1384 457 1393 456 1401 454 1410 453 1419 451 1427 450 1436 449 1444 448 1453 447 1462 446 1470 443 1479 441 1487 440 1490 439L1490 480 1487 481 1479 482 1470 484 1462 486 1453 488 1444 489 1436 490 1427 491 1419 492 1410 493 1401 495 1393 496 1384 497 1376 498 1367 498 1359 499 1350 499 1341 499 1333 499 1324 499 1316 499 1307 499 1299 498 1290 497 1281 496 1273 495 1264 495 1256 496 1247 496 1239 497 1230 497 1221 498 1213 498 1204 499 1196 500 1187 500 1178 501 1170 502 1161 502 1153 501Z"/>
<path d="M1153 450 1161 450 1170 450 1178 450 1187 449 1196 448 1204 448 1213 447 1221 446 1230 446 1239 445 1247 445 1256 444 1264 444 1273 443 1281 444 1290 445 1299 446 1307 447 1316 447 1324 447 1333 447 1341 447 1350 447 1359 447 1367 446 1376 446 1384 445 1393 444 1401 442 1410 441 1419 439 1427 438 1436 437 1444 436 1453 435 1462 434 1470 431 1479 429 1487 428 1490 428L1490 492 1487 493 1479 494 1470 496 1462 498 1453 500 1444 501 1436 502 1427 503 1419 504 1410 505 1401 507 1393 508 1384 509 1376 510 1367 510 1359 511 1350 511 1341 511 1333 511 1324 511 1316 511 1307 511 1299 509 1290 508 1281 507 1273 507 1264 507 1256 507 1247 508 1239 508 1230 509 1221 509 1213 510 1204 511 1196 511 1187 512 1178 513 1170 513 1161 513 1153 512Z"/>
</g>
<g fill="#2f8585" fill-opacity="0.10400000000000001" stroke="none" filter="url(#bl2)">
<path d="M1153 472 1161 472 1170 472 1178 472 1187 472 1196 472 1204 473 1213 473 1221 473 1230 474 1239 474 1247 474 1256 474 1264 474 1273 473 1281 472 1290 470 1299 469 1307 468 1316 467 1324 466 1333 464 1341 463 1350 463 1359 463 1367 463 1376 464 1384 465 1393 466 1401 468 1410 469 1419 471 1427 473 1436 474 1444 475 1453 476 1462 477 1470 479 1479 481 1487 483 1490 483L1490 501 1487 500 1479 498 1470 496 1462 494 1453 493 1444 493 1436 492 1427 490 1419 489 1410 487 1401 485 1393 483 1384 482 1376 481 1367 481 1359 480 1350 480 1341 481 1333 482 1324 483 1316 484 1307 485 1299 486 1290 488 1281 490 1273 491 1264 491 1256 492 1247 492 1239 492 1230 491 1221 491 1213 491 1204 490 1196 490 1187 490 1178 490 1170 490 1161 490 1153 489Z"/>
<path d="M1153 463 1161 463 1170 463 1178 464 1187 464 1196 464 1204 464 1213 464 1221 465 1230 465 1239 466 1247 466 1256 465 1264 465 1273 465 1281 463 1290 462 1299 460 1307 459 1316 458 1324 457 1333 456 1341 455 1350 454 1359 454 1367 455 1376 455 1384 456 1393 457 1401 459 1410 461 1419 462 1427 464 1436 465 1444 466 1453 467 1462 468 1470 470 1479 472 1487 474 1490 475L1490 510 1487 509 1479 507 1470 505 1462 503 1453 502 1444 501 1436 500 1427 499 1419 497 1410 496 1401 494 1393 492 1384 491 1376 490 1367 490 1359 489 1350 489 1341 489 1333 491 1324 492 1316 493 1307 494 1299 495 1290 496 1281 498 1273 500 1264 500 1256 500 1247 501 1239 500 1230 500 1221 500 1213 499 1204 499 1196 499 1187 498 1178 498 1170 498 1161 498 1153 498Z"/>
<path d="M1153 453 1161 453 1170 453 1178 453 1187 454 1196 454 1204 454 1213 454 1221 455 1230 455 1239 455 1247 456 1256 455 1264 455 1273 455 1281 453 1290 451 1299 450 1307 449 1316 448 1324 447 1333 446 1341 444 1350 444 1359 444 1367 445 1376 445 1384 446 1393 447 1401 449 1410 451 1419 452 1427 454 1436 455 1444 456 1453 457 1462 458 1470 460 1479 462 1487 464 1490 465L1490 520 1487 519 1479 517 1470 515 1462 513 1453 512 1444 511 1436 510 1427 509 1419 507 1410 506 1401 504 1393 502 1384 501 1376 500 1367 500 1359 499 1350 499 1341 500 1333 501 1324 502 1316 503 1307 504 1299 505 1290 507 1281 508 1273 510 1264 510 1256 510 1247 511 1239 511 1230 510 1221 510 1213 509 1204 509 1196 509 1187 509 1178 509 1170 508 1161 508 1153 508Z"/>
</g>
<g transform="matrix(2.859 0 0 0.5 1152.7 0)" fill="none" stroke="#aaa6d8" stroke-width="0.8" stroke-opacity="0.16" stroke-linejoin="round">
<path vector-effect="non-scaling-stroke" d="M0 951l1 20 1 7 1-34 1 31 1-12 1-9 1 7 1-32 1 30 1 2 1-15 1-20 1 28 1-2 1 20 1-12 1-43 1 3 1 32 1-14 1 22 1-20 1-11 1 18 1 0 1-25 1 21 1 25 1-19 1 4 1 14 1 4 1-9 1 11 1 21 1-7 1-4 1 25 1-45 1 22 1 15 1 0 1-33 1 22 1-19 1 1 1 0 1 9 1 13 1-6 1-14 1 9 1-3 1 3 1 2 1 2 1-16 1-9 1-8 1 28 1-9 1-20 1 14 1 15 1-10 1 13 1 6 1-34 1 20 1 13 1-7 1-31 1 3 1-12 1 10 1 1 1-38 1 23 1-10 1 20 1-2 1 27 1-20 1 11 1-20 1 30 1 17 1-35 1 12 1 4 1-4 1 16 1-17 1 12 1 9 1-21 1 23 1 4 1-22 1 16 1-26 1 43 1-27 1 0 1-10 1-3 1-24 1 15 1 35 1 8 1-33 1 17 1-1 1-30 1 6 1 6 1-19 1 17"/>
<path vector-effect="non-scaling-stroke" d="M0 951l1 25 1-28 1-5 1-6 1 25 1-14 1 21 1-8 1-22 1-6 1 19 1 20 1-31 1 19 1 17 1-17 1-15 1 40 1-11 1 12 1-19 1-20 1-7 1-10 1 26 1-4 1 15 1 12 1 1 1-20 1-18 1 11 1 5 1-8 1 12 1 6 1-4 1-15 1 1 1-9 1-6 1 0 1 2 1 7 1-16 1 27 1-16 1 4 1-10 1 25 1 2 1 17 1 19 1-34 1 51 1-35 1 32 1-25 1-5 1 18 1 11 1-15 1-16 1 17 1-11 1 14 1-3 1-22 1-13 1-12 1 38 1-11 1-13 1 4 1-29 1 15 1 6 1 5 1-1 1 30 1-36 1 29 1-19 1 15 1 6 1-4 1-21 1-36 1 34 1 23 1-5 1 6 1-26 1 19 1-24 1 24 1 5 1-15 1 16 1-4 1 0 1-33 1 27 1-20 1 10 1 10 1 9 1-16 1 6 1 23 1-9 1-20 1 18 1-17 1 11 1 32 1-28 1-1"/>
<path vector-effect="non-scaling-stroke" d="M0 977l1 10 1-28 1 18 1-37 1-2 1 36 1-26 1 15 1-6 1 6 1-25 1 12 1-12 1 27 1-11 1 1 1 1 1 13 1-35 1 7 1 14 1 11 1-23 1-15 1 19 1-2 1-8 1 15 1-4 1-19 1 8 1 9 1 8 1 10 1 10 1-15 1 5 1-4 1 14 1-3 1-17 1 10 1 4 1-22 1 10 1 12 1-52 1 52 1-2 1-19 1 12 1-4 1-14 1 30 1-15 1-13 1 13 1-7 1-10 1-6 1 23 1 0 1 9 1-8 1-1 1-18 1 23 1-33 1-1 1 6 1 7 1-4 1 26 1-38 1 6 1 47 1-6 1-37 1-7 1 27 1-5 1 7 1-17 1 39 1-24 1 23 1-8 1-15 1 12 1 1 1 12 1-13 1 12 1-6 1-3 1-3 1 5 1-1 1-14 1-1 1 9 1-19 1 16 1-37 1 10 1 10 1 4 1 2 1 16 1-8 1 9 1 5 1-33 1 29 1-5 1-20 1 5 1-22"/>
<path vector-effect="non-scaling-stroke" d="M0 951l1 8 1-40 1-16 1 14 1-9 1 34 1-8 1 17 1 2 1 9 1-1 1-5 1 10 1-8 1-6 1-21 1-10 1 16 1 14 1-31 1 5 1-2 1 29 1-7 1 0 1-11 1 16 1-9 1 18 1-6 1-3 1 3 1 8 1 8 1 4 1-24 1-1 1 2 1 0 1 2 1-1 1 21 1 24 1-28 1 1 1-12 1 10 1-3 1-5 1-1 1 13 1-32 1 3 1-37 1 17 1 25 1-13 1 6 1-28 1 55 1 9 1-3 1 2 1-24 1-2 1 3 1-10 1 1 1 34 1-37 1 5 1 1 1-8 1 14 1 14 1-10 1 11 1-12 1 21 1 8 1-25 1 11 1-9 1 26 1-4 1-18 1-1 1 31 1-35 1 6 1 5 1 10 1-30 1-4 1 26 1 30 1-40 1 21 1 9 1-16 1-12 1-13 1 8 1-17 1-18 1 15 1 19 1-10 1 15 1-8 1-7 1 5 1 5 1-4 1 1 1 11 1 1 1 11"/>
<path vector-effect="non-scaling-stroke" d="M0 944l1-5 1 2 1-17 1 53 1-9 1-16 1-26 1 26 1-12 1-29 1 30 1 15 1 4 1 1 1-6 1-22 1-14 1 42 1-17 1 4 1-38 1 26 1 7 1-18 1 30 1-7 1-19 1 25 1 0 1 2 1-25 1 1 1 47 1-1 1 3 1 14 1-43 1 16 1-17 1 18 1 20 1-16 1 1 1-32 1 3 1-6 1 9 1-1 1 3 1 3 1-7 1 23 1-11 1-15 1 14 1-4 1 10 1-12 1 19 1-26 1 17 1-21 1 16 1 5 1-4 1 27 1-16 1 3 1-1 1 1 1-1 1 9 1-28 1 30 1-27 1-9 1-11 1 31 1-2 1-1 1-5 1-20 1 14 1 18 1 9 1-23 1-4 1 5 1-2 1 5 1-14 1-7 1 37 1-13 1 12 1-2 1 12 1-4 1-9 1-1 1-23 1 19 1-4 1-15 1-7 1 12 1 0 1-10 1-8 1 4 1 17 1 13 1-1 1 9 1-48 1 34 1 0 1-32"/>
<path vector-effect="non-scaling-stroke" d="M0 955l1 4 1-16 1 55 1-41 1-8 1-9 1 7 1 1 1 19 1-1 1 4 1 0 1-8 1-6 1-10 1-14 1 29 1-24 1 25 1 8 1 0 1-28 1 13 1-16 1-4 1-3 1 15 1 10 1 5 1 30 1-4 1-2 1 0 1 9 1-8 1-50 1 39 1-21 1 20 1 2 1 6 1-13 1 3 1-13 1-2 1 11 1 12 1-24 1 36 1-28 1-8 1-5 1-15 1-1 1 24 1 16 1 0 1-4 1 13 1-7 1-5 1-24 1 14 1-7 1 27 1 1 1-55 1 39 1-19 1 0 1 32 1-13 1 8 1 12 1-20 1-36 1 2 1 0 1 32 1 9 1-15 1-1 1 7 1-6 1-11 1 8 1 35 1-21 1-10 1 0 1 0 1 17 1-8 1-16 1 10 1-12 1 9 1 13 1-27 1 23 1-16 1 11 1-25 1 2 1 17 1 14 1 15 1-37 1-5 1 16 1 8 1-6 1-11 1 13 1-18 1 21 1 5 1-13"/>
<path vector-effect="non-scaling-stroke" d="M0 947l1 17 1-8 1 26 1-12 1 0 1 8 1 5 1-7 1-12 1 21 1-22 1-7 1 26 1 4 1-3 1-7 1 2 1-21 1 0 1 26 1-28 1-11 1 8 1 0 1-14 1 21 1 3 1-33 1 29 1 8 1-30 1 13 1 6 1-12 1-4 1 45 1-25 1-16 1 11 1 20 1-2 1-7 1-8 1-38 1 35 1 5 1-25 1 22 1-6 1 23 1 0 1-13 1-16 1 3 1 26 1-2 1-25 1 48 1-33 1 24 1-9 1 28 1-24 1-10 1-23 1 13 1-9 1-2 1 33 1 1 1-31 1 1 1 0 1 21 1-8 1-7 1-7 1 11 1 0 1 23 1-33 1 12 1-22 1 1 1 11 1 3 1 13 1 11 1 7 1-13 1 9 1-14 1 16 1-26 1 21 1-10 1-11 1-6 1 8 1-19 1 26 1-8 1 4 1 13 1-13 1-4 1 32 1-14 1-12 1-41 1 39 1 12 1 5 1-22 1 10 1-17 1 20 1-16"/>
<path vector-effect="non-scaling-stroke" d="M0 940l1 10 1 10 1 9 1 10 1 5 1-2 1-34 1 14 1 19 1-18 1-18 1 0 1 4 1-14 1 13 1 2 1 23 1 0 1-23 1 15 1-6 1 18 1-17 1-6 1 19 1-23 1 25 1-10 1 1 1 24 1-16 1-5 1-6 1 27 1-3 1-25 1 4 1 8 1 7 1 21 1-8 1-7 1-1 1 22 1-25 1-3 1 30 1-43 1 31 1-2 1-37 1-8 1 18 1-10 1 26 1-20 1 18 1 17 1-32 1 17 1 11 1-19 1-7 1 8 1 25 1-42 1 7 1-10 1 12 1-13 1-7 1 12 1 4 1 3 1-4 1-3 1 28 1 3 1-24 1-11 1-13 1 3 1 13 1-2 1 6 1-12 1 20 1-8 1 4 1 0 1 9 1-1 1 8 1 0 1-9 1 17 1 3 1-18 1 16 1 13 1-31 1 4 1 7 1-17 1 6 1-17 1 0 1 0 1 9 1 0 1-16 1-5 1 19 1-29 1 22 1-31 1 6 1 37"/>
<path vector-effect="non-scaling-stroke" d="M0 930l1 11 1 9 1 15 1-42 1 46 1-22 1 5 1-6 1-25 1 52 1-27 1 12 1-16 1 25 1-1 1 14 1-17 1 29 1 29 1-53 1 4 1-27 1 12 1 39 1-29 1 11 1 14 1-15 1-4 1 23 1-22 1 17 1-18 1 6 1-19 1 15 1-6 1-31 1 8 1-16 1 14 1 1 1 1 1-7 1 11 1-30 1 5 1-23 1 21 1 12 1 0 1 8 1 9 1-21 1-5 1 17 1-28 1 43 1-5 1-16 1 15 1-11 1-4 1-28 1 13 1 0 1 9 1 3 1 8 1 5 1-18 1 9 1 10 1 6 1 20 1-35 1-6 1-2 1-44 1 42 1-25 1 36 1-10 1 0 1 10 1-9 1 12 1 2 1-9 1 4 1 11 1-25 1 12 1 0 1-12 1 23 1-14 1-22 1 34 1-14 1 17 1-7 1-21 1 21 1-14 1-32 1 36 1-1 1-29 1 10 1 22 1 0 1-4 1 0 1 32 1-9 1 13 1-3"/>
</g>
<g transform="matrix(2.859 0 0 0.5 1152.7 0)" fill="none" stroke="#8a2a8a" stroke-width="0.8" stroke-opacity="0.16" stroke-linejoin="round">
<path vector-effect="non-scaling-stroke" d="M0 972l1 40 1-37 1 7 1-47 1 49 1-16 1 42 1-24 1 6 1-10 1 0 1-13 1-4 1 22 1-14 1-9 1-32 1 65 1-3 1 26 1-13 1 19 1-73 1 25 1 23 1-25 1 21 1 9 1-8 1 12 1-27 1-12 1 36 1-104 1 133 1-133 1 19 1 44 1 6 1 66 1-18 1-33 1 20 1-30 1 20 1 41 1-48 1 52 1-33 1 16 1-23 1-81 1 37 1 23 1-13 1-15 1-35 1-12 1 59 1-44 1 7 1 53 1-21 1-24 1 43 1-13 1-19 1 4 1-35 1 59 1-12 1-33 1 25 1 17 1-10 1 6 1-15 1-4 1-8 1 19 1 7 1-33 1-11 1 95 1-72 1 30 1-15 1-34 1 0 1-13 1-5 1-27 1 52 1-41 1 1 1 27 1-4 1 7 1-30 1 74 1-43 1 40 1-65 1 32 1 33 1-14 1 44 1-42 1 35 1-13 1-15 1-38 1 3 1 15 1 6 1 5 1 11 1-41"/>
<path vector-effect="non-scaling-stroke" d="M0 917l1 57 1-42 1 11 1 16 1-37 1 25 1-43 1 81 1-11 1-22 1-6 1 41 1-33 1-24 1-25 1 70 1-36 1 38 1-51 1-6 1 46 1-51 1 7 1-3 1-13 1 31 1 10 1-80 1 107 1-82 1 71 1-38 1 18 1 22 1 10 1 3 1-63 1 46 1-2 1-49 1 67 1-35 1 1 1 0 1-12 1-4 1 46 1-34 1 43 1-77 1 83 1-57 1 59 1-21 1-38 1 5 1 30 1-31 1-5 1 47 1 4 1-74 1-20 1 30 1-17 1-17 1 32 1 1 1-72 1 39 1 34 1-15 1 50 1 14 1-7 1-68 1 26 1 30 1-18 1-20 1 29 1-36 1-1 1 77 1-88 1 91 1-13 1-62 1 9 1 10 1-4 1-6 1 21 1-35 1-26 1 13 1 7 1 29 1-27 1 46 1-7 1 27 1-45 1 13 1-28 1 59 1-26 1 37 1-49 1-18 1 37 1-21 1 14 1-15 1 33 1-9 1 24 1 29"/>
<path vector-effect="non-scaling-stroke" d="M0 918l1 58 1-42 1 13 1 7 1 20 1-16 1 36 1-9 1-16 1 9 1-23 1-28 1 13 1-13 1-1 1 66 1-88 1 90 1-52 1 2 1-8 1-27 1 32 1-21 1 42 1 21 1-64 1 46 1-63 1 44 1 42 1-84 1 19 1 50 1 4 1-17 1-27 1 39 1 19 1-33 1-7 1 63 1-84 1 40 1 41 1-17 1-25 1-7 1-1 1-42 1 67 1-27 1 20 1 17 1-27 1 25 1 50 1-26 1-52 1 17 1-36 1 101 1-86 1 5 1-8 1-5 1 44 1-15 1-18 1 51 1-39 1 31 1-34 1-1 1 8 1-33 1 25 1-19 1 57 1 25 1-58 1 8 1 17 1-40 1-5 1-32 1 43 1-5 1-10 1 19 1-26 1 24 1-38 1 22 1 18 1-56 1 27 1 6 1 42 1-10 1 2 1-5 1 13 1-49 1-11 1 63 1-20 1-30 1 3 1-56 1 48 1-15 1-16 1-14 1-59 1 45 1-25 1-7"/>
<path vector-effect="non-scaling-stroke" d="M0 974l1-4 1-15 1 73 1-71 1 70 1-44 1-28 1 52 1-7 1-22 1-19 1-15 1 51 1-59 1-15 1 5 1 18 1 42 1-1 1-22 1-5 1-31 1 44 1 3 1-25 1-16 1-10 1 45 1 11 1 1 1 16 1-12 1-7 1-4 1-2 1 36 1-18 1 15 1-122 1 119 1-2 1-93 1 66 1-10 1-2 1-2 1-2 1 21 1 8 1-4 1-18 1-2 1 16 1 27 1-27 1 33 1-22 1-13 1-78 1 61 1-17 1-27 1 31 1-53 1 83 1-75 1 37 1 0 1 9 1-23 1 27 1-8 1-30 1 73 1-10 1-7 1-14 1 6 1-15 1 31 1-22 1 20 1-42 1 15 1 6 1 5 1-6 1-54 1 46 1-37 1 89 1-78 1 17 1 34 1-30 1-14 1-14 1-32 1 73 1-38 1 8 1 4 1 16 1-41 1 0 1 5 1 22 1-39 1 57 1-70 1 14 1-14 1 37 1-54 1 16 1 17 1-10 1 9"/>
<path vector-effect="non-scaling-stroke" d="M0 946l1-55 1 18 1 63 1 27 1-17 1-9 1 40 1-3 1-49 1 11 1 9 1-2 1-2 1-45 1 49 1-1 1-26 1-9 1-15 1 56 1 2 1-18 1-22 1 53 1-40 1 12 1-43 1 87 1-20 1-42 1 37 1 35 1 7 1-51 1 42 1-62 1 23 1-46 1 51 1-76 1 24 1 51 1-37 1 29 1-37 1-25 1 57 1-51 1 47 1-40 1-34 1 66 1 4 1 13 1-38 1 14 1-37 1-2 1-30 1 38 1 6 1 10 1-30 1 30 1 0 1-20 1 25 1 19 1 17 1 9 1-55 1 16 1-17 1-16 1 19 1 48 1-31 1 32 1 33 1-45 1-21 1 10 1-1 1-5 1 7 1 12 1-15 1-42 1-35 1 89 1-11 1-35 1 12 1 21 1-43 1 10 1-73 1 41 1 3 1 59 1-25 1-34 1 7 1 14 1-6 1 23 1-54 1 27 1-18 1 56 1-53 1 2 1 22 1 2 1-14 1-2 1-9 1-3"/>
<path vector-effect="non-scaling-stroke" d="M0 946l1 8 1 16 1 32 1-32 1-60 1 75 1-31 1 46 1-42 1 48 1-101 1 52 1-59 1 40 1-3 1 41 1-54 1 11 1 31 1-54 1 19 1 3 1 37 1-37 1 12 1 24 1 34 1-33 1 48 1 13 1-16 1 7 1-29 1-22 1 5 1 27 1-20 1-12 1-20 1-7 1 11 1-1 1-19 1 0 1-22 1 44 1-3 1 27 1-41 1 22 1-11 1-14 1-39 1 39 1 68 1-36 1-7 1-46 1 32 1-24 1 63 1-6 1-11 1-15 1 62 1-54 1-29 1 59 1-43 1-29 1 57 1-30 1 6 1-27 1 14 1 15 1 18 1-4 1 14 1 2 1-44 1 50 1-42 1 24 1-34 1-17 1 36 1-27 1-38 1 17 1-27 1 35 1-36 1 14 1 1 1-15 1-10 1 46 1-6 1-62 1 33 1-27 1 37 1-21 1 53 1-65 1 70 1-33 1 44 1 23 1 8 1 8 1-12 1-25 1-33 1 12 1 15 1 24"/>
<path vector-effect="non-scaling-stroke" d="M0 976l1-31 1 20 1 17 1-13 1 15 1-21 1 6 1-12 1 40 1 17 1-15 1-15 1-59 1 45 1-9 1 31 1-45 1-19 1 0 1 93 1-42 1 37 1-19 1 5 1-10 1-18 1 9 1-3 1-6 1-9 1 12 1-12 1 21 1-41 1 1 1-8 1-46 1 55 1 1 1 4 1 22 1-22 1 28 1-12 1-29 1 55 1-60 1 57 1 17 1 26 1-68 1 41 1 17 1-53 1-8 1 17 1-72 1 43 1-10 1 30 1 23 1-79 1 63 1 8 1-31 1 11 1-31 1-22 1 30 1-45 1 48 1 12 1-34 1 8 1 28 1-55 1 18 1 28 1 3 1 0 1-25 1 20 1 49 1-46 1-1 1-7 1 10 1-21 1-6 1-3 1-1 1 0 1 14 1 2 1-58 1 31 1 47 1-9 1-15 1-27 1 88 1-79 1 72 1-24 1-24 1 49 1-17 1-3 1-33 1-10 1-40 1 23 1-11 1 13 1 28 1-74 1-9 1 44"/>
<path vector-effect="non-scaling-stroke" d="M0 948l1 28 1-43 1 74 1-27 1 43 1-27 1-14 1-20 1 16 1-40 1-17 1 45 1-4 1-2 1 30 1-16 1 29 1-22 1-39 1 19 1 15 1 0 1 11 1-81 1 79 1-31 1-16 1 7 1 44 1-5 1-3 1 37 1-1 1-47 1 15 1 25 1-17 1-31 1 9 1-30 1 26 1 10 1 19 1-16 1 1 1 17 1-6 1-34 1 31 1-26 1 39 1-16 1 8 1 23 1 2 1-43 1-17 1-18 1 43 1-10 1 17 1-14 1-2 1 29 1-55 1-19 1 8 1-15 1-4 1 11 1-16 1 3 1 8 1-11 1-11 1 30 1 43 1-45 1-36 1-2 1-32 1 102 1 6 1-55 1 13 1 45 1-28 1-7 1-14 1 28 1 0 1-13 1-2 1 32 1-3 1-15 1 3 1-33 1-57 1 67 1-23 1 1 1-15 1 75 1-22 1 13 1-34 1-47 1 70 1-26 1-28 1-61 1 80 1 51 1-41 1-7 1-5 1-29"/>
<path vector-effect="non-scaling-stroke" d="M0 941l1-42 1 86 1-42 1-31 1-31 1 83 1-21 1-44 1 11 1 44 1-61 1 79 1-57 1 14 1 39 1-15 1-31 1 6 1 1 1-8 1 44 1-55 1-11 1-14 1 9 1 6 1-1 1 23 1 20 1-45 1 69 1-16 1-12 1-41 1-1 1 85 1-23 1-74 1 63 1-21 1-8 1-11 1 20 1 15 1 23 1-49 1 1 1-9 1 14 1 24 1-12 1 28 1 0 1 22 1-17 1 5 1-9 1 3 1-40 1 25 1 12 1-21 1-1 1-4 1 0 1-8 1 54 1-61 1-19 1-10 1 41 1-15 1-32 1 7 1 17 1 57 1-37 1-2 1 5 1-4 1-31 1 49 1-5 1 12 1 16 1-9 1 19 1-32 1-31 1 39 1 21 1-42 1-29 1 37 1-29 1 52 1-30 1 21 1-2 1-41 1-21 1 65 1-50 1 19 1-31 1 4 1 34 1-37 1 52 1-56 1 26 1-8 1 20 1 15 1-64 1 58 1-20 1 24"/>
</g>
<g transform="matrix(2.859 0 0 0.5 1152.7 0)" fill="none" stroke="#2f8585" stroke-width="0.8" stroke-opacity="0.16" stroke-linejoin="round">
<path vector-effect="non-scaling-stroke" d="M0 985l1-39 1 32 1-14 1 21 1-83 1-11 1 39 1 56 1-47 1-11 1 7 1 5 1 19 1 14 1 3 1-34 1 6 1-3 1 13 1 27 1 7 1-72 1 43 1-1 1-2 1-21 1 54 1-51 1 23 1 15 1-72 1 43 1-17 1-8 1 32 1-14 1 13 1 37 1-44 1 35 1-30 1 38 1-22 1-6 1-31 1 16 1-21 1 21 1-7 1-18 1 16 1 49 1-41 1 32 1-40 1-24 1 47 1-46 1 78 1-50 1 12 1-46 1 21 1 51 1-19 1 24 1-16 1-5 1-1 1-38 1 2 1 10 1-8 1 6 1 58 1-23 1-13 1-29 1 49 1-9 1-86 1 63 1 14 1-13 1 17 1 3 1 1 1 22 1-27 1-5 1 21 1-24 1 28 1-5 1-9 1 20 1-18 1-17 1 30 1 2 1-26 1 25 1 1 1 7 1-9 1-23 1 36 1-41 1 61 1 41 1-41 1-20 1 52 1-41 1-23 1 42 1-33 1-19"/>
<path vector-effect="non-scaling-stroke" d="M0 983l1-52 1 7 1-1 1 17 1 46 1-44 1 34 1-30 1-12 1 13 1 10 1-47 1 25 1 23 1-13 1-10 1 39 1 16 1-3 1-38 1 55 1-64 1-2 1 45 1-44 1 19 1-28 1-6 1 40 1-38 1 58 1-51 1 22 1-6 1-43 1-30 1 58 1-30 1-20 1-20 1 31 1-6 1 7 1-14 1 24 1 50 1-6 1 17 1-50 1 12 1 32 1 12 1-27 1-43 1 25 1-49 1 0 1 22 1-54 1 25 1 65 1 3 1-39 1 38 1-29 1 3 1-1 1 48 1-35 1-9 1 7 1 16 1 2 1-31 1-5 1 60 1-74 1 67 1 13 1-4 1-20 1 4 1-15 1 7 1-2 1 7 1-9 1 21 1-31 1-7 1 2 1 41 1-7 1-47 1 21 1 28 1 2 1-4 1 56 1-45 1-20 1 26 1-22 1-5 1 2 1 33 1 19 1-30 1 65 1 1 1-19 1 7 1-33 1 39 1-49 1-6 1 2 1 40"/>
<path vector-effect="non-scaling-stroke" d="M0 912l1 19 1 3 1-3 1-7 1 56 1-28 1-39 1 45 1 26 1-41 1 6 1-17 1-19 1 26 1 24 1-31 1-17 1-3 1-2 1 25 1-28 1 39 1-27 1 22 1 20 1-38 1 19 1 17 1-27 1-59 1 49 1-47 1 32 1 12 1 25 1-22 1 62 1-27 1-3 1-31 1-18 1 18 1-4 1 15 1 19 1 31 1-19 1-11 1-26 1 28 1 10 1 22 1-72 1 31 1-18 1-19 1 36 1 23 1 48 1-69 1 12 1 13 1-25 1 24 1-24 1-14 1 69 1-43 1-13 1 12 1 24 1-41 1 5 1 61 1 1 1-51 1-19 1-10 1 54 1-64 1-23 1 29 1 15 1-65 1 47 1 38 1 6 1-3 1 5 1-29 1 72 1-38 1-32 1 36 1-52 1 25 1-24 1-29 1 91 1-24 1 17 1-17 1 12 1 4 1 24 1-60 1 64 1 7 1 19 1-42 1 29 1-33 1-11 1 18 1-7 1 17 1 13 1-29"/>
<path vector-effect="non-scaling-stroke" d="M0 979l1 6 1 14 1-21 1-51 1 45 1 14 1-37 1 12 1-17 1-7 1-37 1-11 1 79 1-36 1 18 1-10 1 17 1-37 1 27 1-21 1-4 1-15 1 2 1 62 1 0 1-26 1 11 1-18 1 41 1-40 1-26 1 50 1 1 1-19 1 12 1-43 1-7 1 48 1 15 1 16 1 4 1-24 1-2 1 31 1-1 1-39 1 35 1-23 1 30 1-28 1-26 1-24 1-3 1 60 1-16 1 33 1-4 1-17 1 15 1-40 1 19 1-39 1-12 1 57 1-1 1-22 1 16 1-36 1-8 1 41 1-4 1 38 1-49 1 4 1-46 1 82 1-29 1 7 1 15 1-14 1-21 1 1 1 51 1 9 1-6 1-33 1-23 1 21 1 1 1-5 1-25 1 13 1-18 1 41 1-43 1 43 1-22 1 20 1-5 1-4 1 28 1 6 1-23 1 23 1-5 1-2 1-37 1 61 1-51 1 19 1-32 1 40 1-36 1 16 1 16 1-30 1 12 1 32"/>
<path vector-effect="non-scaling-stroke" d="M0 977l1-18 1-16 1 2 1 8 1 9 1-39 1 46 1-7 1 44 1-29 1-17 1-10 1-12 1-4 1-12 1 2 1 21 1-2 1-26 1-6 1 14 1 48 1-44 1 54 1-9 1-19 1 32 1-26 1-18 1-1 1 13 1 11 1-14 1 10 1-10 1 19 1-40 1 47 1-22 1 11 1 14 1 15 1-82 1 47 1 9 1-17 1-1 1 7 1 28 1-4 1 21 1-37 1-18 1 0 1 28 1-20 1 16 1 11 1 11 1-13 1-51 1-4 1 18 1 21 1-41 1-6 1 26 1-24 1-6 1 18 1 24 1-65 1 35 1 32 1 16 1-67 1 41 1 21 1-27 1 38 1-25 1-1 1-7 1 22 1-4 1-38 1 54 1 7 1-10 1-9 1-30 1 12 1-9 1 52 1 3 1-13 1 21 1-68 1 35 1-7 1 16 1 1 1-14 1 18 1 23 1 14 1-35 1-2 1 0 1 5 1-23 1 21 1-9 1-40 1 44 1 39 1-3 1-24"/>
<path vector-effect="non-scaling-stroke" d="M0 961l1-18 1-1 1-22 1 16 1 27 1 5 1-52 1 24 1-10 1 10 1 14 1-33 1 1 1 44 1-19 1 41 1-37 1 8 1-38 1 43 1-38 1 35 1 7 1 14 1 23 1-20 1-3 1-23 1 10 1-30 1-9 1 10 1 3 1 4 1-5 1 18 1 9 1 4 1 23 1-51 1 27 1 5 1-21 1 13 1 17 1 3 1-11 1 1 1 26 1-36 1-21 1-7 1-1 1 9 1-2 1-65 1 7 1-10 1 5 1-2 1 56 1-13 1-27 1 37 1-55 1 65 1-38 1 16 1 22 1-17 1-36 1-5 1 7 1 18 1-30 1 12 1 37 1-26 1 16 1-9 1-7 1 39 1-46 1-3 1 35 1 5 1 11 1 5 1-16 1 24 1 18 1 3 1-22 1 44 1-56 1 37 1 13 1-1 1 11 1 1 1 40 1-62 1 5 1 33 1-22 1-1 1 2 1 1 1-26 1-10 1 17 1 24 1-32 1 24 1-27 1 0 1-40 1 68"/>
<path vector-effect="non-scaling-stroke" d="M0 914l1-17 1 37 1 19 1-27 1 23 1-28 1-10 1 22 1 63 1-35 1-46 1 15 1 24 1-20 1 6 1 3 1-4 1 29 1-41 1 10 1 22 1-10 1 39 1-2 1 12 1-32 1 6 1-25 1-27 1 58 1 21 1-32 1 41 1-11 1 8 1 15 1 9 1 4 1-2 1 15 1-19 1-42 1 7 1 9 1 2 1 16 1 40 1-57 1 13 1 8 1-27 1 30 1-64 1-15 1 30 1-36 1-4 1-27 1 0 1 35 1-47 1 34 1 56 1-68 1-40 1 106 1-18 1-13 1 25 1 6 1-34 1 6 1 17 1-19 1 18 1-23 1 4 1-4 1 1 1-11 1-5 1 9 1-62 1 90 1-16 1 21 1-28 1-17 1 73 1-57 1-23 1 40 1-14 1 15 1-19 1 24 1 0 1-31 1 37 1 10 1-12 1-6 1 10 1-23 1 29 1 12 1-20 1 49 1-48 1 12 1 7 1 9 1 49 1-53 1 35 1 1 1-15 1-15"/>
<path vector-effect="non-scaling-stroke" d="M0 981l1 7 1-35 1 4 1-8 1-34 1 38 1-31 1-43 1 68 1-15 1 11 1-45 1 36 1 12 1 23 1-5 1-29 1 32 1 6 1 0 1 7 1-11 1 30 1-25 1 8 1-4 1 19 1 1 1 1 1-34 1-23 1 8 1 32 1-22 1-33 1 46 1 0 1-22 1 20 1 9 1 7 1 20 1-26 1-25 1 35 1-29 1 33 1 25 1-1 1-45 1 36 1 6 1 1 1 1 1-24 1-7 1 12 1 0 1-44 1 1 1 10 1 31 1-24 1-26 1-28 1 39 1 31 1-46 1 13 1-4 1-40 1 41 1 10 1 0 1 4 1-27 1-19 1 21 1-17 1 19 1 7 1-44 1 25 1 34 1-38 1 10 1-33 1 23 1 33 1-46 1 51 1-37 1 38 1 14 1 6 1-58 1 61 1-31 1-10 1-2 1 9 1-12 1 9 1-22 1 35 1-43 1 91 1-65 1 70 1-15 1-16 1 36 1 6 1-19 1-20 1 10 1 31 1-60"/>
<path vector-effect="non-scaling-stroke" d="M0 1007l1 25 1-21 1-12 1-6 1 1 1-28 1-11 1-2 1 28 1-26 1-2 1 26 1-15 1-8 1-19 1 12 1 13 1 20 1-15 1-10 1 25 1-12 1 26 1-45 1 3 1 19 1-12 1 22 1 12 1-46 1 30 1-17 1 3 1 6 1 20 1 11 1-26 1 14 1-6 1-23 1-14 1 60 1-72 1 40 1 5 1-25 1 32 1-55 1 18 1 15 1-19 1-3 1-14 1 24 1 0 1-41 1 15 1 44 1-36 1-31 1 54 1 20 1-11 1-39 1-8 1 60 1-13 1 20 1-54 1-3 1-4 1 8 1 2 1 19 1-43 1 64 1-46 1 23 1-2 1 5 1 12 1 21 1-20 1-10 1-2 1 42 1-68 1 23 1 1 1 14 1 28 1-66 1 20 1-11 1-20 1 48 1-11 1 17 1-22 1 12 1-45 1 24 1 53 1-29 1 18 1-10 1-14 1-5 1 34 1-23 1 11 1 26 1-21 1-42 1 16 1 25 1 6 1-30"/>
</g>
<line x1="1139.4" x2="1502.7" y1="478.7" y2="478.7" stroke="#808080" stroke-width="2" stroke-dasharray="7.4 3.2"/>
<g transform="matrix(1.4295 0 0 0.2 1152.7 0)" fill="none" stroke="#aaa6d8" stroke-width="2.2" stroke-opacity="1" stroke-linejoin="round">
<path vector-effect="non-scaling-stroke" d="M0 2399l1 2 1 3 1 1 1-3 1-1 1-1 1 1 1-4 1-1 1 9 1-1 1 0 1-1 1-1 1 0 1-2 1 1 1 6 1-10 1 1 1 2 1-2 1-2 1 8 1-5 1 4 1-2 1 1 1-1 1 4 1-4 1-4 1 6 1-6 1 10 1-5 1 3 1-1 1 2 1-4 1 5 1-9 1 11 1 1 1-3 1-7 1 10 1-6 1-5 1-2 1 4 1-4 1 3 1 1 1 1 1-4 1 6 1 1 1-1 1-1 1 1 1-8 1 8 1-3 1-4 1 8 1-5 1-4 1 3 1 0 1 0 1 3 1 0 1 1 1-4 1 2 1 2 1 1 1 1 1-4 1 6 1-10 1-1 1 5 1 1 1-2 1 3 1-4 1 1 1 6 1-5 1-1 1 1 1-1 1-1 1 0 1 4 1-2 1 3 1-7 1-1 1 5 1 1 1-1 1 1 1-3 1 5 1-3 1 0 1-2 1 6 1 3 1-3 1-1 1-4 1 5 1-5 1-3 1 7 1-3 1 3 1 0 1-9 1 7 1 1 1 3 1-5 1-1 1 0 1-2 1 4 1-4 1 8 1-12 1 3 1 5 1-1 1 4 1-3 1 4 1-2 1-1 1-1 1-4 1 2 1 3 1 2 1-7 1 3 1 2 1-5 1 5 1-9 1 3 1 7 1-1 1 0 1-4 1 5 1-2 1-3 1 4 1-3 1-3 1 4 1 2 1 0 1-4 1 2 1-1 1 4 1-1 1-2 1 1 1 0 1 4 1-4 1 1 1-6 1 8 1-9 1 4 1 2 1-1 1 2 1-5 1 8 1-1 1-3 1 0 1 1 1 4 1-3 1 0 1-1 1-1 1-1 1 2 1-1 1-6 1 7 1-2 1-2 1 1 1-1 1 3 1 2 1-13 1 2 1 11 1 1 1-2 1 2 1-9 1 8 1 2 1-4 1 3 1-2 1-5 1 1 1-2 1 4 1 0 1 3 1-5 1-2 1 7 1-3 1-1 1-6 1 10 1-3 1 4 1 5 1-8"/>
</g>
<g transform="matrix(1.4295 0 0 0.2 1152.7 0)" fill="none" stroke="#7f1f7f" stroke-width="2.2" stroke-opacity="1" stroke-linejoin="round">
<path vector-effect="non-scaling-stroke" d="M0 2402l1-16 1 9 1 16 1 6 1-28 1 4 1 24 1-8 1 5 1-21 1 27 1 4 1-19 1 3 1-12 1 18 1-16 1 9 1 0 1 0 1 0 1 1 1-23 1 20 1-10 1 5 1-3 1-6 1 9 1-2 1-5 1-5 1 12 1 4 1-19 1-2 1 9 1-1 1 1 1-3 1 7 1-10 1 7 1-5 1-1 1-9 1 4 1 7 1 1 1-16 1 16 1 1 1-4 1 1 1-15 1 3 1 3 1 12 1-14 1-2 1 23 1 1 1-4 1-11 1 4 1 4 1-3 1-17 1 16 1-17 1-3 1 29 1-33 1 9 1-7 1 5 1-1 1 4 1 9 1-1 1-17 1 7 1 2 1 11 1-5 1 2 1-11 1 15 1-19 1 31 1-12 1-13 1 14 1-3 1 14 1-20 1 12 1-19 1 16 1-9 1 8 1 6 1-6 1-10 1 15 1-3 1 17 1-7 1 2 1 6 1-22 1 9 1 13 1 1 1-16 1 4 1-3 1 0 1 7 1 1 1 2 1-7 1-2 1-5 1 9 1-22 1 16 1 3 1-4 1-5 1 8 1 12 1 3 1-11 1 6 1 1 1-9 1-2 1-9 1 16 1-6 1 6 1-4 1-12 1 8 1 12 1-11 1-3 1-1 1 8 1 2 1-4 1-3 1-11 1 6 1 3 1 7 1-9 1 5 1-3 1-1 1 6 1-14 1 8 1-14 1 12 1-16 1 13 1-3 1-16 1 12 1-16 1 16 1-7 1 9 1-5 1-18 1 11 1-3 1-9 1 5 1-2 1 4 1 6 1-13 1 4 1 3 1 4 1-9 1 1 1-14 1 17 1-11 1 15 1-4 1-12 1 0 1 5 1-10 1-4 1 1 1 10 1-6 1-8 1 5 1-1 1-12 1 9 1-2 1-1 1 6 1 1 1-13 1 14 1-20 1 5 1 12 1-10 1 0 1 4 1-15 1 0 1-2 1-2 1-9 1 9 1-22 1 28 1-21 1 13 1-13 1-5 1 9 1-14 1 13 1-5"/>
</g>
<g transform="matrix(1.4295 0 0 0.2 1152.7 0)" fill="none" stroke="#2a7f7c" stroke-width="2.2" stroke-opacity="1" stroke-linejoin="round">
<path vector-effect="non-scaling-stroke" d="M0 2420l1-16 1-8 1 5 1 6 1-15 1 8 1 8 1-13 1 13 1 1 1-18 1 19 1-11 1 6 1 0 1-17 1 28 1-17 1 7 1 7 1-9 1-10 1 12 1-19 1 18 1-6 1 9 1 0 1-3 1-1 1 5 1-5 1 1 1 2 1 18 1-14 1-6 1-5 1 16 1-9 1-6 1 9 1 1 1-2 1-2 1 7 1-15 1 2 1 7 1-15 1 10 1 22 1-16 1 3 1-11 1 12 1 3 1 1 1-8 1-2 1 13 1-3 1-13 1 4 1 12 1-3 1 10 1-9 1-4 1-16 1 18 1-7 1 19 1-13 1 4 1-13 1 22 1-17 1 15 1-21 1 10 1-1 1-1 1-11 1 6 1-1 1-2 1 14 1 0 1-18 1 10 1-5 1-8 1-9 1 9 1-4 1-12 1 25 1-15 1 2 1-11 1 3 1 5 1-7 1-11 1 12 1-2 1 7 1-11 1-8 1 25 1-18 1 11 1-23 1 16 1-5 1-6 1-3 1 1 1 0 1 7 1-3 1-13 1 35 1-25 1-3 1-16 1 26 1-8 1-10 1-4 1 6 1 6 1-17 1-2 1 10 1-2 1-1 1-2 1-3 1 16 1-3 1-13 1 8 1 10 1-7 1-6 1 6 1 8 1-7 1-5 1 4 1-2 1 3 1 0 1 11 1-12 1 0 1-9 1 21 1-25 1 26 1 4 1-4 1-4 1 9 1-4 1-18 1 25 1-12 1 13 1 3 1-3 1 8 1-4 1-1 1 1 1 7 1-4 1 15 1-5 1-6 1 10 1-9 1 5 1 11 1-11 1 3 1 2 1-10 1 15 1-11 1 30 1-14 1-4 1-4 1-5 1 13 1 9 1-7 1-3 1 10 1-14 1 18 1-8 1-8 1 17 1-17 1 10 1 2 1 3 1-8 1-7 1 5 1 4 1 5 1-6 1 8 1 13 1 4 1-11 1 5 1 9 1-4 1-7 1 18 1 1 1-11 1 14 1-19 1 11 1 14 1 13 1-9 1-6 1-8"/>
</g>
</g>
<rect x="1139.4" y="388.2" width="363.3" height="181" fill="none" stroke="#000" stroke-width="2.7"/>
<line x1="1135.9" x2="1139.4" y1="554.1" y2="554.1" stroke="#000" stroke-width="0.9"/>
<text x="1132.4" y="559.3" font-size="14.4" text-anchor="end">−15</text>
<line x1="1135.9" x2="1139.4" y1="529" y2="529" stroke="#000" stroke-width="0.9"/>
<text x="1132.4" y="534.2" font-size="14.4" text-anchor="end">−10</text>
<line x1="1135.9" x2="1139.4" y1="503.8" y2="503.8" stroke="#000" stroke-width="0.9"/>
<text x="1132.4" y="509" font-size="14.4" text-anchor="end">−5</text>
<line x1="1135.9" x2="1139.4" y1="478.7" y2="478.7" stroke="#000" stroke-width="0.9"/>
<text x="1132.4" y="483.9" font-size="14.4" text-anchor="end">0</text>
<line x1="1135.9" x2="1139.4" y1="453.6" y2="453.6" stroke="#000" stroke-width="0.9"/>
<text x="1132.4" y="458.8" font-size="14.4" text-anchor="end">5</text>
<line x1="1135.9" x2="1139.4" y1="428.4" y2="428.4" stroke="#000" stroke-width="0.9"/>
<text x="1132.4" y="433.6" font-size="14.4" text-anchor="end">10</text>
<line x1="1135.9" x2="1139.4" y1="403.3" y2="403.3" stroke="#000" stroke-width="0.9"/>
<text x="1132.4" y="408.5" font-size="14.4" text-anchor="end">15</text>
<line x1="1184.9" x2="1184.9" y1="569.2" y2="572.7" stroke="#000" stroke-width="0.9"/>
<text x="1184.9" y="586.8" font-size="14.4" text-anchor="middle">1880</text>
<line x1="1242.1" x2="1242.1" y1="569.2" y2="572.7" stroke="#000" stroke-width="0.9"/>
<text x="1242.1" y="586.8" font-size="14.4" text-anchor="middle">1920</text>
<line x1="1299.3" x2="1299.3" y1="569.2" y2="572.7" stroke="#000" stroke-width="0.9"/>
<text x="1299.3" y="586.8" font-size="14.4" text-anchor="middle">1960</text>
<line x1="1356.4" x2="1356.4" y1="569.2" y2="572.7" stroke="#000" stroke-width="0.9"/>
<text x="1356.4" y="586.8" font-size="14.4" text-anchor="middle">2000</text>
<line x1="1413.6" x2="1413.6" y1="569.2" y2="572.7" stroke="#000" stroke-width="0.9"/>
<text x="1413.6" y="586.8" font-size="14.4" text-anchor="middle">2040</text>
<line x1="1470.8" x2="1470.8" y1="569.2" y2="572.7" stroke="#000" stroke-width="0.9"/>
<text x="1470.8" y="586.8" font-size="14.4" text-anchor="middle">2080</text>
<text x="1137.3" y="382.7" font-size="19.9">(iv) Decomposition of Advection</text>
<line x1="1152.9" x2="1184.9" y1="523.9" y2="523.9" stroke="#aaa6d8" stroke-width="2"/>
<text x="1195.9" y="529.5" font-size="14.4"><tspan font-weight="bold">X</tspan><tspan font-size="12.4" font-style="italic" dy="2.3">adv</tspan></text>
<line x1="1152.9" x2="1184.9" y1="545.8" y2="545.8" stroke="#7f1f7f" stroke-width="2"/>
<text x="1195.9" y="551.4" font-size="14.4"><tspan font-weight="bold">Y</tspan><tspan font-size="12.4" font-style="italic" dy="2.3">adv</tspan></text>
<line x1="1256.5" x2="1288.5" y1="523.9" y2="523.9" stroke="#2a7f7c" stroke-width="2"/>
<text x="1298.7" y="529.5" font-size="14.4"><tspan font-weight="bold">Z</tspan><tspan font-size="12.4" font-style="italic" dy="2.3">adv</tspan></text>
</svg></body></html>
